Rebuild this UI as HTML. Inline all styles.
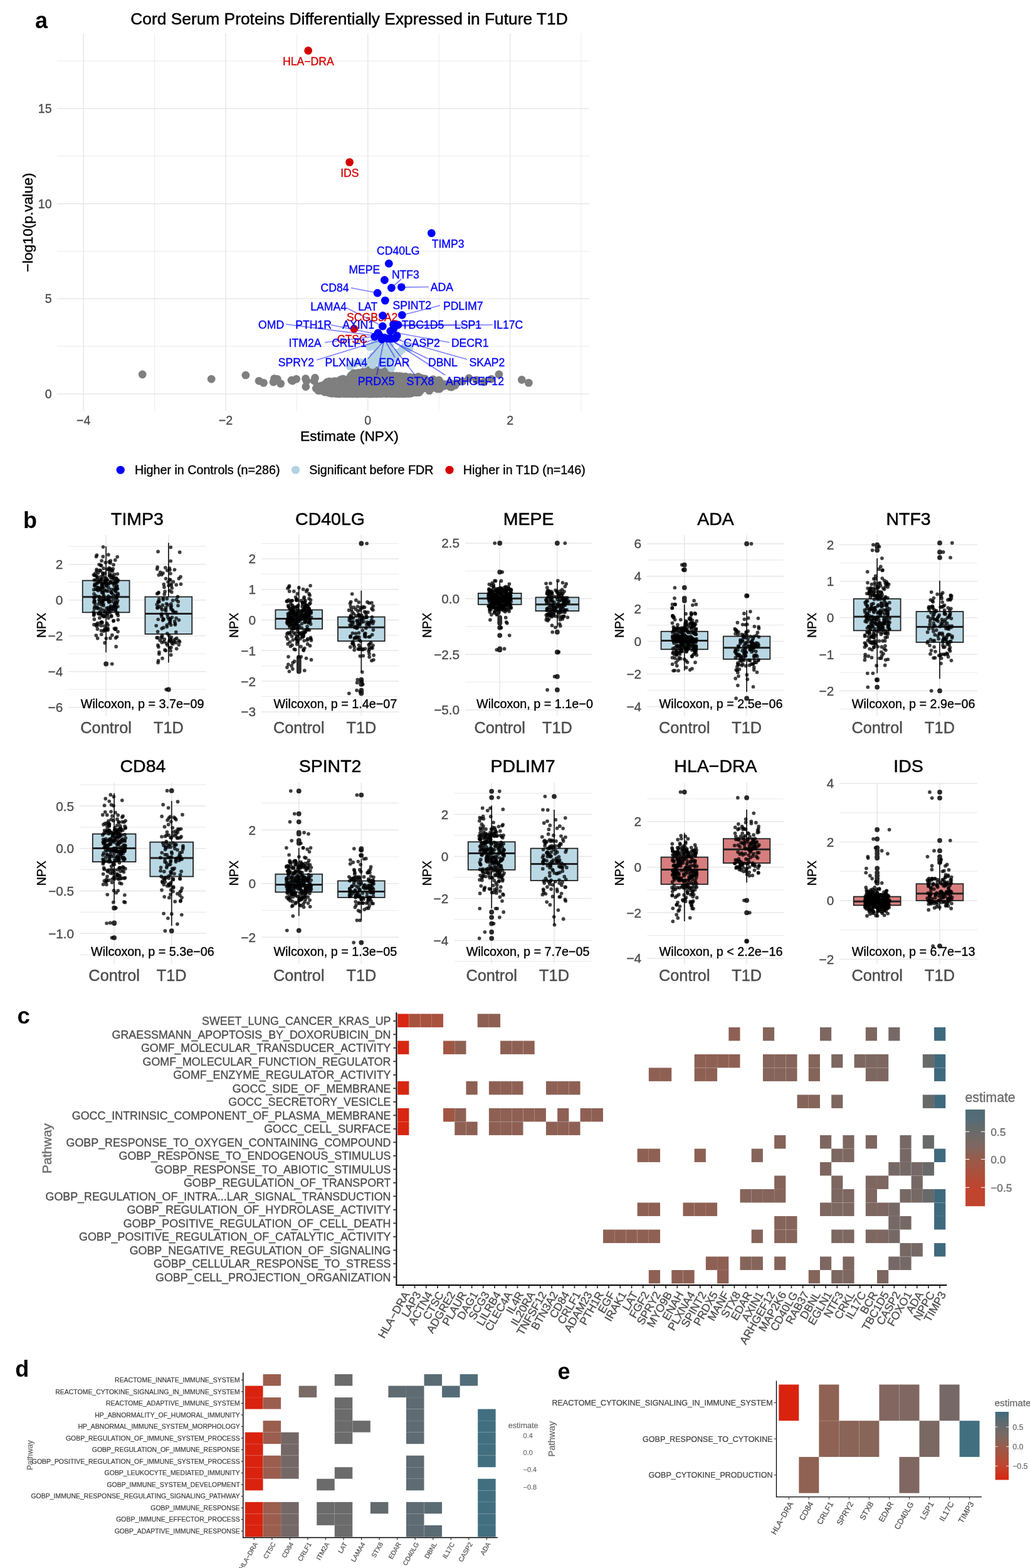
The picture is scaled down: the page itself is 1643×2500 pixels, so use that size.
<!DOCTYPE html>
<html><head><meta charset="utf-8"><title>Figure</title>
<style>html,body{margin:0;padding:0;background:#fff;}svg{display:block;}</style></head>
<body><svg width="1643" height="2500" viewBox="0 0 1643 2500" font-family="'Liberation Sans', Arial, Helvetica, sans-serif">
<rect x="0" y="0" width="1643" height="2500" fill="#fff"/>
<text x="56" y="44.9" font-size="36" fill="#000" font-weight="bold">a</text>
<text x="557" y="39.25" font-size="26.35" fill="#000" stroke="#000" stroke-width="0.47" text-anchor="middle">Cord Serum Proteins Differentially Expressed in Future T1D</text>
<line x1="90.9" y1="552.1" x2="940" y2="552.1" stroke="#ebebeb" stroke-width="1"/>
<line x1="90.9" y1="400.5" x2="940" y2="400.5" stroke="#ebebeb" stroke-width="1"/>
<line x1="90.9" y1="248.9" x2="940" y2="248.9" stroke="#ebebeb" stroke-width="1"/>
<line x1="90.9" y1="97.3" x2="940" y2="97.3" stroke="#ebebeb" stroke-width="1"/>
<line x1="246.6" y1="53.25" x2="246.6" y2="655.3" stroke="#ebebeb" stroke-width="1"/>
<line x1="473.4" y1="53.25" x2="473.4" y2="655.3" stroke="#ebebeb" stroke-width="1"/>
<line x1="700.2" y1="53.25" x2="700.2" y2="655.3" stroke="#ebebeb" stroke-width="1"/>
<line x1="927" y1="53.25" x2="927" y2="655.3" stroke="#ebebeb" stroke-width="1"/>
<line x1="90.9" y1="627.9" x2="940" y2="627.9" stroke="#e7e7e7" stroke-width="1.5"/>
<line x1="90.9" y1="476.3" x2="940" y2="476.3" stroke="#e7e7e7" stroke-width="1.5"/>
<line x1="90.9" y1="324.7" x2="940" y2="324.7" stroke="#e7e7e7" stroke-width="1.5"/>
<line x1="90.9" y1="173.1" x2="940" y2="173.1" stroke="#e7e7e7" stroke-width="1.5"/>
<line x1="133.2" y1="53.25" x2="133.2" y2="655.3" stroke="#e7e7e7" stroke-width="1.5"/>
<line x1="360" y1="53.25" x2="360" y2="655.3" stroke="#e7e7e7" stroke-width="1.5"/>
<line x1="586.8" y1="53.25" x2="586.8" y2="655.3" stroke="#e7e7e7" stroke-width="1.5"/>
<line x1="813.6" y1="53.25" x2="813.6" y2="655.3" stroke="#e7e7e7" stroke-width="1.5"/>
<text x="82.6" y="634.9" font-size="19.6" fill="#4d4d4d" stroke="#4d4d4d" stroke-width="0.35" text-anchor="end">0</text>
<text x="82.6" y="483.3" font-size="19.6" fill="#4d4d4d" stroke="#4d4d4d" stroke-width="0.35" text-anchor="end">5</text>
<text x="82.6" y="331.7" font-size="19.6" fill="#4d4d4d" stroke="#4d4d4d" stroke-width="0.35" text-anchor="end">10</text>
<text x="82.6" y="180.1" font-size="19.6" fill="#4d4d4d" stroke="#4d4d4d" stroke-width="0.35" text-anchor="end">15</text>
<text x="133.2" y="677.1" font-size="19.6" fill="#4d4d4d" stroke="#4d4d4d" stroke-width="0.35" text-anchor="middle">−4</text>
<text x="360" y="677.1" font-size="19.6" fill="#4d4d4d" stroke="#4d4d4d" stroke-width="0.35" text-anchor="middle">−2</text>
<text x="586.8" y="677.1" font-size="19.6" fill="#4d4d4d" stroke="#4d4d4d" stroke-width="0.35" text-anchor="middle">0</text>
<text x="813.6" y="677.1" font-size="19.6" fill="#4d4d4d" stroke="#4d4d4d" stroke-width="0.35" text-anchor="middle">2</text>
<text x="557.4" y="703.2" font-size="22.75" fill="#000" stroke="#000" stroke-width="0.41" text-anchor="middle">Estimate (NPX)</text>
<text x="51.6" y="354.6" font-size="22.85" fill="#000" stroke="#000" stroke-width="0.41" text-anchor="middle" transform="rotate(-90 51.6 354.6)">−log10(p.value)</text>
<g fill="#7f7f7f"><circle cx="227.2" cy="597" r="6.4"/><circle cx="337.2" cy="604.3" r="6.4"/><circle cx="391.9" cy="598.2" r="6.4"/><circle cx="413.1" cy="607.3" r="6.4"/><circle cx="420.4" cy="610.4" r="6.4"/><circle cx="436.2" cy="609.2" r="6.4"/><circle cx="442.3" cy="604.3" r="6.4"/><circle cx="447.7" cy="611.6" r="6.4"/><circle cx="466.6" cy="607.3" r="6.4"/><circle cx="472.7" cy="604.3" r="6.4"/><circle cx="489" cy="607.3" r="6.4"/><circle cx="487.8" cy="616.5" r="6.4"/><circle cx="501.2" cy="607.3" r="6.4"/><circle cx="437.5" cy="603.75" r="6.4"/><circle cx="465" cy="606.25" r="6.4"/><circle cx="487.5" cy="603.75" r="6.4"/><circle cx="502.5" cy="602.5" r="6.4"/><circle cx="510" cy="620" r="6.4"/><circle cx="795.9" cy="597" r="6.4"/><circle cx="832.3" cy="605.5" r="6.4"/><circle cx="843.3" cy="610.4" r="6.4"/><circle cx="783.7" cy="604.3" r="6.4"/><circle cx="760" cy="606" r="6.4"/><circle cx="748" cy="603" r="6.4"/><circle cx="738" cy="608" r="6.4"/><circle cx="728" cy="611" r="6.4"/><circle cx="772" cy="609" r="6.4"/><circle cx="603.86" cy="596.72" r="6.4"/><circle cx="592" cy="625.31" r="6.4"/><circle cx="584.22" cy="598.49" r="6.4"/><circle cx="606.4" cy="601.31" r="6.4"/><circle cx="582.6" cy="618.4" r="6.4"/><circle cx="624.92" cy="624.73" r="6.4"/><circle cx="608.35" cy="619.07" r="6.4"/><circle cx="602.55" cy="614.83" r="6.4"/><circle cx="545.89" cy="612.18" r="6.4"/><circle cx="521.88" cy="609.22" r="6.4"/><circle cx="524.45" cy="626.21" r="6.4"/><circle cx="549.19" cy="627.81" r="6.4"/><circle cx="610.56" cy="616.43" r="6.4"/><circle cx="580.6" cy="611.84" r="6.4"/><circle cx="608.69" cy="617.14" r="6.4"/><circle cx="583.22" cy="625.98" r="6.4"/><circle cx="568.96" cy="625.94" r="6.4"/><circle cx="569.01" cy="627.9" r="6.4"/><circle cx="641.92" cy="626.88" r="6.4"/><circle cx="599" cy="597.77" r="6.4"/><circle cx="606.56" cy="599.78" r="6.4"/><circle cx="607.09" cy="605.76" r="6.4"/><circle cx="537.14" cy="620.59" r="6.4"/><circle cx="608.95" cy="598.32" r="6.4"/><circle cx="690.01" cy="613.9" r="6.4"/><circle cx="552.13" cy="623.33" r="6.4"/><circle cx="628.66" cy="626.9" r="6.4"/><circle cx="633.24" cy="622.66" r="6.4"/><circle cx="632.56" cy="616.3" r="6.4"/><circle cx="574.69" cy="611.82" r="6.4"/><circle cx="583.85" cy="626.66" r="6.4"/><circle cx="552.65" cy="625.97" r="6.4"/><circle cx="595.36" cy="627.33" r="6.4"/><circle cx="653.16" cy="625.6" r="6.4"/><circle cx="569.57" cy="623.84" r="6.4"/><circle cx="517.95" cy="618.25" r="6.4"/><circle cx="599.62" cy="599.91" r="6.4"/><circle cx="633.52" cy="602.93" r="6.4"/><circle cx="587.93" cy="626.72" r="6.4"/><circle cx="669.46" cy="603.25" r="6.4"/><circle cx="590.72" cy="626.16" r="6.4"/><circle cx="598.61" cy="610.85" r="6.4"/><circle cx="555.8" cy="623.36" r="6.4"/><circle cx="584.7" cy="625.03" r="6.4"/><circle cx="631.95" cy="604.23" r="6.4"/><circle cx="632.61" cy="617.75" r="6.4"/><circle cx="649.15" cy="610.5" r="6.4"/><circle cx="628.95" cy="622.8" r="6.4"/><circle cx="618.75" cy="627.06" r="6.4"/><circle cx="516.1" cy="618.16" r="6.4"/><circle cx="565.03" cy="617.35" r="6.4"/><circle cx="700.54" cy="617.62" r="6.4"/><circle cx="576.92" cy="609.52" r="6.4"/><circle cx="625.05" cy="618.22" r="6.4"/><circle cx="594.94" cy="595.97" r="6.4"/><circle cx="626.21" cy="600.91" r="6.4"/><circle cx="600.4" cy="605.16" r="6.4"/><circle cx="558.37" cy="627.11" r="6.4"/><circle cx="566.84" cy="603.71" r="6.4"/><circle cx="612.12" cy="611.47" r="6.4"/><circle cx="578.34" cy="616.88" r="6.4"/><circle cx="517.72" cy="624.89" r="6.4"/><circle cx="619.45" cy="622.05" r="6.4"/><circle cx="640.29" cy="623.52" r="6.4"/><circle cx="636.42" cy="616.96" r="6.4"/><circle cx="637.38" cy="625.05" r="6.4"/><circle cx="537.58" cy="622.75" r="6.4"/><circle cx="665.94" cy="617.89" r="6.4"/><circle cx="592.01" cy="596.76" r="6.4"/><circle cx="561.79" cy="616.18" r="6.4"/><circle cx="580.42" cy="598.65" r="6.4"/><circle cx="569.63" cy="597.31" r="6.4"/><circle cx="548.75" cy="622.54" r="6.4"/><circle cx="597.17" cy="593.28" r="6.4"/><circle cx="604.38" cy="602.19" r="6.4"/><circle cx="589.73" cy="607.07" r="6.4"/><circle cx="604.15" cy="622.67" r="6.4"/><circle cx="590.89" cy="625.75" r="6.4"/><circle cx="569.04" cy="625.72" r="6.4"/><circle cx="574.89" cy="601.49" r="6.4"/><circle cx="618.35" cy="618.02" r="6.4"/><circle cx="541.15" cy="617.08" r="6.4"/><circle cx="576.57" cy="594.01" r="6.4"/><circle cx="635.48" cy="614.98" r="6.4"/><circle cx="606.89" cy="626.1" r="6.4"/><circle cx="623.41" cy="621.25" r="6.4"/><circle cx="597.65" cy="601.66" r="6.4"/><circle cx="551.41" cy="627.4" r="6.4"/><circle cx="581.96" cy="602.9" r="6.4"/><circle cx="602.35" cy="616.09" r="6.4"/><circle cx="581.92" cy="627.75" r="6.4"/><circle cx="590.8" cy="627.87" r="6.4"/><circle cx="604.77" cy="624.81" r="6.4"/><circle cx="633.13" cy="617.11" r="6.4"/><circle cx="579.52" cy="613.64" r="6.4"/><circle cx="644.73" cy="613.33" r="6.4"/><circle cx="597.75" cy="623.28" r="6.4"/><circle cx="637.48" cy="618.15" r="6.4"/><circle cx="643.51" cy="614.05" r="6.4"/><circle cx="669.09" cy="624.06" r="6.4"/><circle cx="640.94" cy="627.81" r="6.4"/><circle cx="641.46" cy="600.47" r="6.4"/><circle cx="667.78" cy="625.39" r="6.4"/><circle cx="531.04" cy="624.89" r="6.4"/><circle cx="560.07" cy="615.05" r="6.4"/><circle cx="640" cy="624.23" r="6.4"/><circle cx="512.89" cy="615.19" r="6.4"/><circle cx="605.72" cy="604.4" r="6.4"/><circle cx="605.47" cy="625.86" r="6.4"/><circle cx="538.59" cy="617.92" r="6.4"/><circle cx="561.94" cy="627.44" r="6.4"/><circle cx="625.6" cy="614.3" r="6.4"/><circle cx="621.33" cy="604.54" r="6.4"/><circle cx="575.45" cy="607.75" r="6.4"/><circle cx="565.6" cy="599.97" r="6.4"/><circle cx="570.07" cy="627.85" r="6.4"/><circle cx="618.45" cy="625.58" r="6.4"/><circle cx="543.79" cy="606.73" r="6.4"/><circle cx="599.95" cy="624.71" r="6.4"/><circle cx="541.33" cy="617.12" r="6.4"/><circle cx="635.84" cy="622.66" r="6.4"/><circle cx="607.3" cy="609.84" r="6.4"/><circle cx="653.56" cy="622.45" r="6.4"/><circle cx="508.99" cy="619.1" r="6.4"/><circle cx="518.97" cy="625.03" r="6.4"/><circle cx="574.26" cy="619.08" r="6.4"/><circle cx="661.28" cy="610.26" r="6.4"/><circle cx="553.28" cy="625" r="6.4"/><circle cx="652.53" cy="609.95" r="6.4"/><circle cx="605.88" cy="626.89" r="6.4"/><circle cx="605.46" cy="627.49" r="6.4"/><circle cx="627.62" cy="625.05" r="6.4"/><circle cx="558.87" cy="607.15" r="6.4"/><circle cx="574.32" cy="626.13" r="6.4"/><circle cx="549.04" cy="608.26" r="6.4"/><circle cx="603.49" cy="607.39" r="6.4"/><circle cx="678.01" cy="610.91" r="6.4"/><circle cx="583.83" cy="601.36" r="6.4"/><circle cx="620.13" cy="621.93" r="6.4"/><circle cx="614.6" cy="616.27" r="6.4"/><circle cx="607.4" cy="625.98" r="6.4"/><circle cx="592.2" cy="615.56" r="6.4"/><circle cx="655.01" cy="604.11" r="6.4"/><circle cx="603.57" cy="626.1" r="6.4"/><circle cx="579.88" cy="611.18" r="6.4"/><circle cx="525.52" cy="608.27" r="6.4"/><circle cx="645.37" cy="606.35" r="6.4"/><circle cx="632.63" cy="622.26" r="6.4"/><circle cx="613.1" cy="626.09" r="6.4"/><circle cx="595.04" cy="604.9" r="6.4"/><circle cx="668.96" cy="619.47" r="6.4"/><circle cx="601.29" cy="619.96" r="6.4"/><circle cx="576.45" cy="601.09" r="6.4"/><circle cx="625.64" cy="622.27" r="6.4"/><circle cx="588.89" cy="606.83" r="6.4"/><circle cx="600.93" cy="600.76" r="6.4"/><circle cx="586.89" cy="621.02" r="6.4"/><circle cx="594.29" cy="604.75" r="6.4"/><circle cx="535.16" cy="627.15" r="6.4"/><circle cx="566.99" cy="603.16" r="6.4"/><circle cx="570.6" cy="627.08" r="6.4"/><circle cx="544.62" cy="604.8" r="6.4"/><circle cx="590.3" cy="613.9" r="6.4"/><circle cx="612.06" cy="605.3" r="6.4"/><circle cx="560.99" cy="601.9" r="6.4"/><circle cx="690.66" cy="609.21" r="6.4"/><circle cx="595.07" cy="618.04" r="6.4"/><circle cx="617.56" cy="623.21" r="6.4"/><circle cx="556.11" cy="613.17" r="6.4"/><circle cx="564.79" cy="627.71" r="6.4"/><circle cx="669.5" cy="604.9" r="6.4"/><circle cx="627.66" cy="625.47" r="6.4"/><circle cx="595.33" cy="625.27" r="6.4"/><circle cx="545.5" cy="620.98" r="6.4"/><circle cx="667.55" cy="624.42" r="6.4"/><circle cx="563.21" cy="619.14" r="6.4"/><circle cx="582.08" cy="609.82" r="6.4"/><circle cx="594.96" cy="615.94" r="6.4"/><circle cx="616.6" cy="616.37" r="6.4"/><circle cx="602.08" cy="615.56" r="6.4"/><circle cx="600.19" cy="603.06" r="6.4"/><circle cx="684.43" cy="622.06" r="6.4"/><circle cx="606.21" cy="627.15" r="6.4"/><circle cx="620.53" cy="596.22" r="6.4"/><circle cx="543.09" cy="605.85" r="6.4"/><circle cx="634.24" cy="619.11" r="6.4"/><circle cx="530.12" cy="610.25" r="6.4"/><circle cx="574.56" cy="623.38" r="6.4"/><circle cx="701.1" cy="620.04" r="6.4"/><circle cx="570.23" cy="618.97" r="6.4"/><circle cx="601.39" cy="604.72" r="6.4"/><circle cx="554.19" cy="612.24" r="6.4"/><circle cx="554.21" cy="608.81" r="6.4"/><circle cx="649.6" cy="611.14" r="6.4"/><circle cx="583.38" cy="626.4" r="6.4"/><circle cx="598.12" cy="626.41" r="6.4"/><circle cx="589.2" cy="612.94" r="6.4"/><circle cx="541.59" cy="607.46" r="6.4"/><circle cx="595.57" cy="616.44" r="6.4"/><circle cx="646.98" cy="600.47" r="6.4"/><circle cx="570.02" cy="604.01" r="6.4"/><circle cx="620.71" cy="604.28" r="6.4"/><circle cx="648.16" cy="614.7" r="6.4"/><circle cx="551.52" cy="622.34" r="6.4"/><circle cx="638.52" cy="612.6" r="6.4"/><circle cx="521.98" cy="624.18" r="6.4"/><circle cx="629.58" cy="626.1" r="6.4"/><circle cx="587.28" cy="604.27" r="6.4"/><circle cx="555.27" cy="613.25" r="6.4"/><circle cx="596.25" cy="592.79" r="6.4"/><circle cx="575.92" cy="620.64" r="6.4"/><circle cx="531.79" cy="621.12" r="6.4"/><circle cx="646.2" cy="627.56" r="6.4"/><circle cx="650.01" cy="617.66" r="6.4"/><circle cx="558.82" cy="627.81" r="6.4"/><circle cx="584.03" cy="611.53" r="6.4"/><circle cx="580.71" cy="627.56" r="6.4"/><circle cx="590.68" cy="625.37" r="6.4"/><circle cx="548.24" cy="608.59" r="6.4"/><circle cx="641.85" cy="620.77" r="6.4"/><circle cx="603.96" cy="607.58" r="6.4"/><circle cx="561.7" cy="606.75" r="6.4"/><circle cx="581.48" cy="612.19" r="6.4"/><circle cx="570.21" cy="610.29" r="6.4"/><circle cx="594.02" cy="620.41" r="6.4"/><circle cx="629.13" cy="622.2" r="6.4"/><circle cx="629.8" cy="622.61" r="6.4"/><circle cx="557.02" cy="611.39" r="6.4"/><circle cx="606.05" cy="622.52" r="6.4"/><circle cx="564.76" cy="621.99" r="6.4"/><circle cx="529.61" cy="614.42" r="6.4"/><circle cx="557.21" cy="612.94" r="6.4"/><circle cx="601.26" cy="598.99" r="6.4"/><circle cx="538.12" cy="620.11" r="6.4"/><circle cx="571.78" cy="610.19" r="6.4"/><circle cx="620.16" cy="620.41" r="6.4"/><circle cx="572.72" cy="623.98" r="6.4"/><circle cx="571.25" cy="620.08" r="6.4"/><circle cx="561.95" cy="620.54" r="6.4"/><circle cx="524.72" cy="619.91" r="6.4"/><circle cx="590.01" cy="597.23" r="6.4"/><circle cx="602.47" cy="624.38" r="6.4"/><circle cx="605.95" cy="617.26" r="6.4"/><circle cx="559.04" cy="627.64" r="6.4"/><circle cx="560.2" cy="626.28" r="6.4"/><circle cx="636" cy="606.67" r="6.4"/><circle cx="562.38" cy="619.65" r="6.4"/><circle cx="588.52" cy="618.6" r="6.4"/><circle cx="626.5" cy="626.21" r="6.4"/><circle cx="648.64" cy="612.31" r="6.4"/><circle cx="591.51" cy="627.68" r="6.4"/><circle cx="561.7" cy="606.26" r="6.4"/><circle cx="639.17" cy="627.7" r="6.4"/><circle cx="566.31" cy="625.11" r="6.4"/><circle cx="586.85" cy="621.36" r="6.4"/><circle cx="600.19" cy="624.59" r="6.4"/><circle cx="555.47" cy="619.72" r="6.4"/><circle cx="602.14" cy="625.75" r="6.4"/><circle cx="684.25" cy="620.73" r="6.4"/><circle cx="570.79" cy="624.84" r="6.4"/><circle cx="577.63" cy="620.14" r="6.4"/><circle cx="601.28" cy="607.46" r="6.4"/><circle cx="629.93" cy="627.06" r="6.4"/><circle cx="614.58" cy="604.32" r="6.4"/><circle cx="572.47" cy="596.92" r="6.4"/><circle cx="593.59" cy="611.83" r="6.4"/><circle cx="613.89" cy="605.3" r="6.4"/><circle cx="545.11" cy="625.84" r="6.4"/><circle cx="545.94" cy="621.3" r="6.4"/><circle cx="591.13" cy="619.21" r="6.4"/><circle cx="607.75" cy="626.86" r="6.4"/><circle cx="597" cy="626.28" r="6.4"/><circle cx="587.71" cy="592.57" r="6.4"/><circle cx="592.19" cy="626.1" r="6.4"/><circle cx="607.76" cy="618" r="6.4"/><circle cx="613.96" cy="618.6" r="6.4"/><circle cx="622.21" cy="624.7" r="6.4"/><circle cx="584.88" cy="626.11" r="6.4"/><circle cx="532.08" cy="623.48" r="6.4"/><circle cx="614.28" cy="601.57" r="6.4"/><circle cx="620.33" cy="597.15" r="6.4"/><circle cx="592.63" cy="609.55" r="6.4"/><circle cx="622.37" cy="611.77" r="6.4"/><circle cx="538.55" cy="613.86" r="6.4"/><circle cx="654.2" cy="601.38" r="6.4"/><circle cx="613.89" cy="627.14" r="6.4"/><circle cx="644.43" cy="627.84" r="6.4"/><circle cx="620.06" cy="592.86" r="6.4"/><circle cx="547.94" cy="616.21" r="6.4"/><circle cx="658.65" cy="616.74" r="6.4"/><circle cx="615.49" cy="612.43" r="6.4"/><circle cx="672.5" cy="617.5" r="6.4"/><circle cx="593.4" cy="606.7" r="6.4"/><circle cx="573.88" cy="620.32" r="6.4"/><circle cx="620.86" cy="606.76" r="6.4"/><circle cx="646.68" cy="627.61" r="6.4"/><circle cx="601.39" cy="626.1" r="6.4"/><circle cx="628.98" cy="620.8" r="6.4"/><circle cx="620.92" cy="624.4" r="6.4"/><circle cx="619.42" cy="609.78" r="6.4"/><circle cx="533.16" cy="623.57" r="6.4"/><circle cx="601.43" cy="603.28" r="6.4"/><circle cx="530.65" cy="626.84" r="6.4"/><circle cx="577.96" cy="609.32" r="6.4"/><circle cx="506.64" cy="621.11" r="6.4"/><circle cx="642.48" cy="625.14" r="6.4"/><circle cx="577.91" cy="626.98" r="6.4"/><circle cx="636.42" cy="627.27" r="6.4"/><circle cx="598.44" cy="627.81" r="6.4"/><circle cx="633.2" cy="605.7" r="6.4"/><circle cx="652.72" cy="624.67" r="6.4"/><circle cx="616.82" cy="612.42" r="6.4"/><circle cx="580.57" cy="611.85" r="6.4"/><circle cx="642.86" cy="605.35" r="6.4"/><circle cx="596.95" cy="604.9" r="6.4"/><circle cx="612.36" cy="605.83" r="6.4"/><circle cx="602.5" cy="606.66" r="6.4"/><circle cx="562.15" cy="622.19" r="6.4"/><circle cx="595.27" cy="592.49" r="6.4"/><circle cx="648.85" cy="626.22" r="6.4"/><circle cx="564.38" cy="624.57" r="6.4"/><circle cx="575.43" cy="600.31" r="6.4"/><circle cx="648.56" cy="624.8" r="6.4"/><circle cx="625.06" cy="627.59" r="6.4"/><circle cx="648.15" cy="625.12" r="6.4"/><circle cx="651.06" cy="627.46" r="6.4"/><circle cx="567" cy="625.71" r="6.4"/><circle cx="573.55" cy="596.82" r="6.4"/><circle cx="615.02" cy="614.02" r="6.4"/><circle cx="606.95" cy="627.54" r="6.4"/><circle cx="643.28" cy="608.01" r="6.4"/><circle cx="584.89" cy="613.13" r="6.4"/><circle cx="700.28" cy="606.26" r="6.4"/><circle cx="606.53" cy="616.15" r="6.4"/><circle cx="669.89" cy="609.9" r="6.4"/><circle cx="561.74" cy="625.05" r="6.4"/><circle cx="623.27" cy="619.43" r="6.4"/><circle cx="532.87" cy="607.88" r="6.4"/><circle cx="632.48" cy="627.8" r="6.4"/><circle cx="597.72" cy="626.6" r="6.4"/><circle cx="630.49" cy="617.03" r="6.4"/><circle cx="625.3" cy="616.18" r="6.4"/><circle cx="588.22" cy="622.93" r="6.4"/><circle cx="652.58" cy="610.4" r="6.4"/><circle cx="571.95" cy="603.86" r="6.4"/><circle cx="594.26" cy="625.84" r="6.4"/><circle cx="535.05" cy="621.84" r="6.4"/><circle cx="587.52" cy="611.91" r="6.4"/><circle cx="644.99" cy="627.1" r="6.4"/><circle cx="634.49" cy="610.78" r="6.4"/><circle cx="593.74" cy="624.31" r="6.4"/><circle cx="656.04" cy="617.78" r="6.4"/><circle cx="632.74" cy="617.37" r="6.4"/><circle cx="686.73" cy="607.74" r="6.4"/><circle cx="628.2" cy="627.41" r="6.4"/><circle cx="516.45" cy="613.9" r="6.4"/><circle cx="595.45" cy="627.76" r="6.4"/><circle cx="633.22" cy="626.36" r="6.4"/><circle cx="530.96" cy="609.89" r="6.4"/><circle cx="571.86" cy="626.41" r="6.4"/><circle cx="577.76" cy="616.48" r="6.4"/><circle cx="504.29" cy="619.2" r="6.4"/><circle cx="614.73" cy="622.07" r="6.4"/><circle cx="689.13" cy="609.8" r="6.4"/><circle cx="526.14" cy="614.09" r="6.4"/><circle cx="551.8" cy="611.8" r="6.4"/><circle cx="607.24" cy="598.33" r="6.4"/><circle cx="618.57" cy="618.92" r="6.4"/><circle cx="616.62" cy="616.71" r="6.4"/><circle cx="590.3" cy="626.81" r="6.4"/><circle cx="580.55" cy="627.72" r="6.4"/><circle cx="531.3" cy="626.98" r="6.4"/><circle cx="683.34" cy="619.77" r="6.4"/><circle cx="660.77" cy="623.67" r="6.4"/><circle cx="574.66" cy="622.96" r="6.4"/><circle cx="601.39" cy="624.64" r="6.4"/><circle cx="591.26" cy="605.05" r="6.4"/><circle cx="585.06" cy="597.56" r="6.4"/><circle cx="557.07" cy="624.56" r="6.4"/><circle cx="702.08" cy="618.54" r="6.4"/><circle cx="593.53" cy="619.33" r="6.4"/><circle cx="634.32" cy="601.38" r="6.4"/><circle cx="594.88" cy="607.32" r="6.4"/><circle cx="615.44" cy="626.91" r="6.4"/><circle cx="670.78" cy="612.13" r="6.4"/><circle cx="607.38" cy="596.19" r="6.4"/><circle cx="668.03" cy="625.13" r="6.4"/><circle cx="574.93" cy="595.7" r="6.4"/><circle cx="632.4" cy="602.17" r="6.4"/><circle cx="663.93" cy="625.8" r="6.4"/><circle cx="636.15" cy="620.57" r="6.4"/><circle cx="575.13" cy="607.01" r="6.4"/><circle cx="564.16" cy="594.98" r="6.4"/><circle cx="587.86" cy="601.8" r="6.4"/><circle cx="575.85" cy="604.53" r="6.4"/><circle cx="617.25" cy="590.54" r="6.4"/><circle cx="595.21" cy="618.79" r="6.4"/><circle cx="571.23" cy="595.71" r="6.4"/><circle cx="551.33" cy="605.52" r="6.4"/><circle cx="576.01" cy="621.7" r="6.4"/><circle cx="601.58" cy="618.12" r="6.4"/><circle cx="633.84" cy="622.5" r="6.4"/><circle cx="619.19" cy="626.84" r="6.4"/><circle cx="631.03" cy="609.81" r="6.4"/><circle cx="657.08" cy="613.37" r="6.4"/><circle cx="620.7" cy="625.4" r="6.4"/><circle cx="541.04" cy="625.62" r="6.4"/><circle cx="592.64" cy="604.74" r="6.4"/><circle cx="545.26" cy="624.79" r="6.4"/><circle cx="608.31" cy="626.05" r="6.4"/><circle cx="530.17" cy="616.88" r="6.4"/><circle cx="599.95" cy="623.65" r="6.4"/><circle cx="607.78" cy="627.81" r="6.4"/><circle cx="627.58" cy="616.62" r="6.4"/><circle cx="602.15" cy="622.23" r="6.4"/><circle cx="714.63" cy="613.06" r="6.4"/><circle cx="583.79" cy="607.86" r="6.4"/><circle cx="637.61" cy="599.77" r="6.4"/><circle cx="582.94" cy="624.74" r="6.4"/><circle cx="561.64" cy="597.32" r="6.4"/><circle cx="583.31" cy="612.76" r="6.4"/><circle cx="541.52" cy="606.95" r="6.4"/><circle cx="610.2" cy="616.17" r="6.4"/><circle cx="527.37" cy="616.91" r="6.4"/><circle cx="638.22" cy="623.91" r="6.4"/><circle cx="600.42" cy="627.81" r="6.4"/><circle cx="631.01" cy="627.61" r="6.4"/><circle cx="553.42" cy="624.38" r="6.4"/><circle cx="666.22" cy="625.66" r="6.4"/><circle cx="653.76" cy="620.99" r="6.4"/><circle cx="644.24" cy="612.11" r="6.4"/><circle cx="597.03" cy="624.89" r="6.4"/><circle cx="636.87" cy="603.39" r="6.4"/><circle cx="600.15" cy="627.37" r="6.4"/><circle cx="655.97" cy="626.98" r="6.4"/><circle cx="528.77" cy="627.25" r="6.4"/><circle cx="604.47" cy="611.25" r="6.4"/><circle cx="660.55" cy="625.49" r="6.4"/><circle cx="638.84" cy="623.75" r="6.4"/><circle cx="641.21" cy="627.54" r="6.4"/><circle cx="637.12" cy="613.18" r="6.4"/><circle cx="610.45" cy="611.97" r="6.4"/><circle cx="563.86" cy="624.99" r="6.4"/><circle cx="623.64" cy="597.96" r="6.4"/><circle cx="584.96" cy="611.01" r="6.4"/><circle cx="591.83" cy="627.88" r="6.4"/><circle cx="598.12" cy="627.61" r="6.4"/><circle cx="602.9" cy="608.31" r="6.4"/><circle cx="562.14" cy="607.48" r="6.4"/><circle cx="632.46" cy="626.57" r="6.4"/><circle cx="611.68" cy="599.53" r="6.4"/><circle cx="652.7" cy="625.2" r="6.4"/><circle cx="690.95" cy="617.96" r="6.4"/><circle cx="635.71" cy="619.17" r="6.4"/><circle cx="608.21" cy="619.16" r="6.4"/><circle cx="546.96" cy="614.81" r="6.4"/><circle cx="601.7" cy="598.47" r="6.4"/><circle cx="611.88" cy="623.11" r="6.4"/><circle cx="615.75" cy="594.05" r="6.4"/><circle cx="605.35" cy="627.34" r="6.4"/><circle cx="581.33" cy="591.45" r="6.4"/><circle cx="642.59" cy="627.74" r="6.4"/><circle cx="610.2" cy="616.85" r="6.4"/><circle cx="648.47" cy="601.26" r="6.4"/><circle cx="573.36" cy="627.05" r="6.4"/><circle cx="617.09" cy="620.37" r="6.4"/><circle cx="655.05" cy="615.16" r="6.4"/><circle cx="655.17" cy="616.75" r="6.4"/><circle cx="556.38" cy="609.22" r="6.4"/><circle cx="599.63" cy="608.03" r="6.4"/><circle cx="588.35" cy="618.12" r="6.4"/><circle cx="655.18" cy="617.92" r="6.4"/><circle cx="621.32" cy="620.36" r="6.4"/><circle cx="576.03" cy="627.69" r="6.4"/><circle cx="602.44" cy="627.87" r="6.4"/><circle cx="582.6" cy="621.32" r="6.4"/><circle cx="605.1" cy="623.67" r="6.4"/><circle cx="585.46" cy="626.3" r="6.4"/><circle cx="613.02" cy="592.68" r="6.4"/><circle cx="655.6" cy="620.03" r="6.4"/><circle cx="701.67" cy="618.19" r="6.4"/><circle cx="638.65" cy="624.76" r="6.4"/><circle cx="683.78" cy="620.1" r="6.4"/><circle cx="519.6" cy="611.52" r="6.4"/><circle cx="632.44" cy="607.49" r="6.4"/><circle cx="635.55" cy="622.69" r="6.4"/><circle cx="623.42" cy="627.63" r="6.4"/><circle cx="600.45" cy="611.72" r="6.4"/><circle cx="506.44" cy="617.06" r="6.4"/><circle cx="559.25" cy="599.76" r="6.4"/><circle cx="593.96" cy="602.16" r="6.4"/><circle cx="619.92" cy="593.99" r="6.4"/><circle cx="564.48" cy="602.01" r="6.4"/><circle cx="602.66" cy="611.78" r="6.4"/><circle cx="597.13" cy="625.8" r="6.4"/><circle cx="597.7" cy="623.8" r="6.4"/><circle cx="604.58" cy="626.96" r="6.4"/><circle cx="628.53" cy="601.78" r="6.4"/><circle cx="589.1" cy="627.88" r="6.4"/><circle cx="596.88" cy="626.88" r="6.4"/><circle cx="565.01" cy="615.1" r="6.4"/><circle cx="586.56" cy="619.64" r="6.4"/><circle cx="568.24" cy="611.06" r="6.4"/><circle cx="620.68" cy="621.17" r="6.4"/><circle cx="690.89" cy="604.89" r="6.4"/><circle cx="680.38" cy="611.1" r="6.4"/><circle cx="575.27" cy="598.3" r="6.4"/><circle cx="622.6" cy="618.08" r="6.4"/><circle cx="605.94" cy="609.33" r="6.4"/><circle cx="525.88" cy="626.49" r="6.4"/><circle cx="508.23" cy="622.61" r="6.4"/><circle cx="572.52" cy="594.72" r="6.4"/><circle cx="594.36" cy="626.48" r="6.4"/><circle cx="542.1" cy="627.62" r="6.4"/><circle cx="557.87" cy="616.97" r="6.4"/><circle cx="562.15" cy="627.32" r="6.4"/><circle cx="558.28" cy="608.73" r="6.4"/><circle cx="544.7" cy="627.23" r="6.4"/><circle cx="590.03" cy="611.42" r="6.4"/><circle cx="628.32" cy="604.68" r="6.4"/><circle cx="612.2" cy="616.59" r="6.4"/><circle cx="561.87" cy="616.77" r="6.4"/><circle cx="593.21" cy="606.32" r="6.4"/><circle cx="601.93" cy="590.55" r="6.4"/><circle cx="518.36" cy="622.68" r="6.4"/><circle cx="641.79" cy="609.07" r="6.4"/><circle cx="569.67" cy="612.08" r="6.4"/><circle cx="544.35" cy="620.73" r="6.4"/><circle cx="708.97" cy="615.1" r="6.4"/><circle cx="556.02" cy="625.13" r="6.4"/><circle cx="586.37" cy="623.14" r="6.4"/><circle cx="568.41" cy="620.85" r="6.4"/><circle cx="641.94" cy="601.11" r="6.4"/><circle cx="587.7" cy="590.37" r="6.4"/><circle cx="537.03" cy="627.7" r="6.4"/><circle cx="507.69" cy="622.39" r="6.4"/><circle cx="576.66" cy="626.15" r="6.4"/><circle cx="684.32" cy="620.49" r="6.4"/><circle cx="554.21" cy="609.9" r="6.4"/><circle cx="653.7" cy="623.5" r="6.4"/><circle cx="562.73" cy="627.9" r="6.4"/><circle cx="534.8" cy="607.81" r="6.4"/><circle cx="556.12" cy="615.55" r="6.4"/><circle cx="594.02" cy="603.77" r="6.4"/><circle cx="615.51" cy="596.87" r="6.4"/><circle cx="652.8" cy="626.82" r="6.4"/><circle cx="603.8" cy="618.93" r="6.4"/><circle cx="609.52" cy="616.48" r="6.4"/><circle cx="564.52" cy="616.55" r="6.4"/><circle cx="637.96" cy="605.41" r="6.4"/><circle cx="574.5" cy="613.85" r="6.4"/><circle cx="703.32" cy="615.62" r="6.4"/><circle cx="616.81" cy="627.33" r="6.4"/><circle cx="637.59" cy="603.88" r="6.4"/><circle cx="594.84" cy="598.45" r="6.4"/><circle cx="594.65" cy="607.15" r="6.4"/><circle cx="635.91" cy="625.15" r="6.4"/><circle cx="584.8" cy="613.3" r="6.4"/><circle cx="601.67" cy="594.55" r="6.4"/><circle cx="596.02" cy="625.93" r="6.4"/><circle cx="619.58" cy="602.76" r="6.4"/><circle cx="619.15" cy="616.98" r="6.4"/><circle cx="598.32" cy="610.2" r="6.4"/><circle cx="636.52" cy="627.53" r="6.4"/><circle cx="661.58" cy="605.04" r="6.4"/><circle cx="571.55" cy="627.72" r="6.4"/><circle cx="574.64" cy="621.44" r="6.4"/><circle cx="572.88" cy="614.16" r="6.4"/><circle cx="570.13" cy="622.87" r="6.4"/><circle cx="572.31" cy="613.06" r="6.4"/><circle cx="602.09" cy="607.64" r="6.4"/><circle cx="631.72" cy="607.13" r="6.4"/><circle cx="570.96" cy="594.65" r="6.4"/><circle cx="617.54" cy="626.97" r="6.4"/><circle cx="581.82" cy="623.71" r="6.4"/><circle cx="709.5" cy="612.8" r="6.4"/><circle cx="609.82" cy="627.43" r="6.4"/><circle cx="630.4" cy="627.67" r="6.4"/><circle cx="558.19" cy="605.56" r="6.4"/><circle cx="562.99" cy="627.11" r="6.4"/><circle cx="607.95" cy="617.79" r="6.4"/><circle cx="567.14" cy="620.94" r="6.4"/><circle cx="596.73" cy="595.58" r="6.4"/><circle cx="648.92" cy="626.81" r="6.4"/><circle cx="568.42" cy="618.09" r="6.4"/><circle cx="563.9" cy="627.5" r="6.4"/><circle cx="605.78" cy="595.64" r="6.4"/><circle cx="587.75" cy="624.51" r="6.4"/><circle cx="625.51" cy="623.89" r="6.4"/><circle cx="593.02" cy="627.45" r="6.4"/><circle cx="554.19" cy="627.6" r="6.4"/><circle cx="509.52" cy="621.79" r="6.4"/><circle cx="613.26" cy="596.95" r="6.4"/><circle cx="568.98" cy="624.86" r="6.4"/><circle cx="603.6" cy="621.02" r="6.4"/><circle cx="522.9" cy="615.62" r="6.4"/><circle cx="566.96" cy="609.38" r="6.4"/><circle cx="613.59" cy="592.17" r="6.4"/><circle cx="642.45" cy="605.3" r="6.4"/><circle cx="643.63" cy="623.26" r="6.4"/><circle cx="652.79" cy="611.39" r="6.4"/><circle cx="597.53" cy="621.13" r="6.4"/><circle cx="639.36" cy="617.47" r="6.4"/><circle cx="612.83" cy="593.48" r="6.4"/><circle cx="587.92" cy="590.04" r="6.4"/><circle cx="578.9" cy="621.95" r="6.4"/><circle cx="565.43" cy="627.07" r="6.4"/><circle cx="642.1" cy="626.47" r="6.4"/><circle cx="600.35" cy="597.17" r="6.4"/><circle cx="568.01" cy="610.74" r="6.4"/><circle cx="593.14" cy="627.38" r="6.4"/><circle cx="679.29" cy="617.18" r="6.4"/><circle cx="539.29" cy="617.32" r="6.4"/><circle cx="540.98" cy="627.81" r="6.4"/><circle cx="660.06" cy="604.23" r="6.4"/><circle cx="538.3" cy="620.71" r="6.4"/><circle cx="658.12" cy="602.24" r="6.4"/><circle cx="574.68" cy="620.65" r="6.4"/><circle cx="616.07" cy="606.99" r="6.4"/><circle cx="654.75" cy="610.99" r="6.4"/><circle cx="654.89" cy="626.9" r="6.4"/><circle cx="632.31" cy="599.36" r="6.4"/><circle cx="598.17" cy="603.96" r="6.4"/><circle cx="587.3" cy="618.53" r="6.4"/><circle cx="588.29" cy="612.13" r="6.4"/><circle cx="666.05" cy="612.55" r="6.4"/><circle cx="613.26" cy="607.18" r="6.4"/><circle cx="649.6" cy="621.93" r="6.4"/><circle cx="574.7" cy="624.22" r="6.4"/><circle cx="561.4" cy="626.9" r="6.4"/><circle cx="655.18" cy="624.05" r="6.4"/><circle cx="554.91" cy="608.77" r="6.4"/><circle cx="584.36" cy="612.06" r="6.4"/><circle cx="614.05" cy="621.9" r="6.4"/><circle cx="573.43" cy="619.59" r="6.4"/><circle cx="582.81" cy="593.25" r="6.4"/><circle cx="611.51" cy="592.33" r="6.4"/><circle cx="576.5" cy="603.79" r="6.4"/><circle cx="599.78" cy="598.38" r="6.4"/><circle cx="573.28" cy="608.62" r="6.4"/><circle cx="601.55" cy="616.67" r="6.4"/><circle cx="634.91" cy="626.23" r="6.4"/><circle cx="658.41" cy="608.76" r="6.4"/><circle cx="577.94" cy="610.31" r="6.4"/><circle cx="625.77" cy="613.34" r="6.4"/><circle cx="664.05" cy="613.47" r="6.4"/><circle cx="649.49" cy="615.67" r="6.4"/><circle cx="610.91" cy="625.31" r="6.4"/><circle cx="552.99" cy="621.53" r="6.4"/><circle cx="672.39" cy="620.92" r="6.4"/><circle cx="656.89" cy="617.71" r="6.4"/><circle cx="677.72" cy="603.84" r="6.4"/><circle cx="599.4" cy="627.68" r="6.4"/><circle cx="607.48" cy="624.51" r="6.4"/><circle cx="580.94" cy="621.43" r="6.4"/><circle cx="673.16" cy="618.08" r="6.4"/><circle cx="614.95" cy="608.24" r="6.4"/><circle cx="611.87" cy="609.06" r="6.4"/><circle cx="601.33" cy="609.1" r="6.4"/><circle cx="535.3" cy="619.03" r="6.4"/><circle cx="577.82" cy="614.91" r="6.4"/><circle cx="611.67" cy="617.06" r="6.4"/><circle cx="571.23" cy="621.49" r="6.4"/><circle cx="670.77" cy="613.41" r="6.4"/><circle cx="614.91" cy="622.04" r="6.4"/><circle cx="665.48" cy="614.8" r="6.4"/><circle cx="605.04" cy="597.07" r="6.4"/><circle cx="534.04" cy="624.33" r="6.4"/><circle cx="720.26" cy="616.87" r="6.4"/><circle cx="658.27" cy="624.04" r="6.4"/><circle cx="561.36" cy="597.82" r="6.4"/><circle cx="550.61" cy="611.61" r="6.4"/><circle cx="615.83" cy="613.69" r="6.4"/><circle cx="621.74" cy="624.25" r="6.4"/><circle cx="571" cy="606.9" r="6.4"/><circle cx="606.46" cy="623.76" r="6.4"/><circle cx="547.45" cy="604.03" r="6.4"/><circle cx="582.69" cy="598.78" r="6.4"/><circle cx="545.74" cy="614.01" r="6.4"/><circle cx="611.66" cy="625.39" r="6.4"/><circle cx="690.3" cy="613.25" r="6.4"/><circle cx="574.52" cy="623.72" r="6.4"/><circle cx="594.47" cy="627.86" r="6.4"/><circle cx="677.46" cy="618.79" r="6.4"/><circle cx="553.99" cy="626.03" r="6.4"/><circle cx="618.28" cy="609.67" r="6.4"/><circle cx="544.7" cy="626.73" r="6.4"/><circle cx="626.85" cy="610.06" r="6.4"/><circle cx="576.09" cy="627.42" r="6.4"/><circle cx="628.45" cy="625.68" r="6.4"/><circle cx="590.36" cy="601.54" r="6.4"/><circle cx="579.12" cy="601.06" r="6.4"/><circle cx="591.61" cy="626.05" r="6.4"/><circle cx="671.91" cy="611" r="6.4"/><circle cx="716.42" cy="611.38" r="6.4"/><circle cx="645.05" cy="624.59" r="6.4"/><circle cx="646.17" cy="618.96" r="6.4"/><circle cx="553.76" cy="624.49" r="6.4"/><circle cx="572.99" cy="617.92" r="6.4"/><circle cx="725.71" cy="614.4" r="6.4"/><circle cx="682.15" cy="612.16" r="6.4"/><circle cx="667.05" cy="600.65" r="6.4"/><circle cx="670.8" cy="617.75" r="6.4"/><circle cx="551.99" cy="623.22" r="6.4"/><circle cx="508.89" cy="622.73" r="6.4"/><circle cx="607.77" cy="598.68" r="6.4"/><circle cx="596.72" cy="602.67" r="6.4"/><circle cx="687.01" cy="619.33" r="6.4"/><circle cx="601.88" cy="625.91" r="6.4"/><circle cx="570.21" cy="623.71" r="6.4"/><circle cx="643.03" cy="623.79" r="6.4"/><circle cx="591.79" cy="594.01" r="6.4"/><circle cx="608.87" cy="592.3" r="6.4"/><circle cx="571.4" cy="611.63" r="6.4"/><circle cx="565.14" cy="626.08" r="6.4"/><circle cx="550.55" cy="627.48" r="6.4"/><circle cx="705.61" cy="616.24" r="6.4"/><circle cx="572.94" cy="616.23" r="6.4"/><circle cx="674.02" cy="611.21" r="6.4"/><circle cx="589.4" cy="614.83" r="6.4"/><circle cx="616.35" cy="627.79" r="6.4"/><circle cx="629.98" cy="623.63" r="6.4"/><circle cx="586.38" cy="627.28" r="6.4"/><circle cx="584.77" cy="618.57" r="6.4"/><circle cx="597.58" cy="607.17" r="6.4"/><circle cx="608.17" cy="603.64" r="6.4"/><circle cx="542.61" cy="620.36" r="6.4"/><circle cx="563.16" cy="611.95" r="6.4"/><circle cx="677.34" cy="608.51" r="6.4"/><circle cx="588.75" cy="617.22" r="6.4"/><circle cx="538.56" cy="627.53" r="6.4"/><circle cx="575.53" cy="624.95" r="6.4"/><circle cx="718.04" cy="610.68" r="6.4"/><circle cx="559.34" cy="612.57" r="6.4"/><circle cx="594.57" cy="620.91" r="6.4"/><circle cx="539.89" cy="625.41" r="6.4"/><circle cx="623.98" cy="607.59" r="6.4"/><circle cx="655.49" cy="624.32" r="6.4"/><circle cx="705.04" cy="611.44" r="6.4"/><circle cx="614.99" cy="606.66" r="6.4"/><circle cx="549.81" cy="626.76" r="6.4"/><circle cx="563.18" cy="624.6" r="6.4"/><circle cx="601.15" cy="590.45" r="6.4"/><circle cx="588.8" cy="627.82" r="6.4"/><circle cx="582.81" cy="602.76" r="6.4"/><circle cx="631.92" cy="616.11" r="6.4"/><circle cx="564.72" cy="622.7" r="6.4"/><circle cx="599.5" cy="598.76" r="6.4"/><circle cx="718.23" cy="616.85" r="6.4"/><circle cx="602.31" cy="626.83" r="6.4"/><circle cx="566.89" cy="612.92" r="6.4"/><circle cx="668.85" cy="625.17" r="6.4"/><circle cx="560.57" cy="607.88" r="6.4"/><circle cx="585.4" cy="627.61" r="6.4"/><circle cx="586.62" cy="611.05" r="6.4"/><circle cx="551.31" cy="621.92" r="6.4"/><circle cx="625.66" cy="598.76" r="6.4"/><circle cx="638.15" cy="611.57" r="6.4"/><circle cx="593.1" cy="627.49" r="6.4"/><circle cx="720.4" cy="617.01" r="6.4"/><circle cx="654.5" cy="625.66" r="6.4"/><circle cx="621.96" cy="623.47" r="6.4"/><circle cx="658.95" cy="607.69" r="6.4"/><circle cx="621.8" cy="627.32" r="6.4"/><circle cx="574.02" cy="616.26" r="6.4"/><circle cx="597.51" cy="624.37" r="6.4"/><circle cx="623.76" cy="625.74" r="6.4"/><circle cx="691.15" cy="607.52" r="6.4"/><circle cx="635.85" cy="627.86" r="6.4"/><circle cx="599.88" cy="623.59" r="6.4"/><circle cx="621.97" cy="602.01" r="6.4"/><circle cx="636.53" cy="605.08" r="6.4"/><circle cx="522.22" cy="613.55" r="6.4"/><circle cx="620.12" cy="624.66" r="6.4"/><circle cx="664.44" cy="622.27" r="6.4"/><circle cx="611.01" cy="600.7" r="6.4"/><circle cx="595.1" cy="626.43" r="6.4"/><circle cx="608.89" cy="618.41" r="6.4"/><circle cx="672.29" cy="602.79" r="6.4"/><circle cx="642.46" cy="611.19" r="6.4"/><circle cx="633.44" cy="625.06" r="6.4"/><circle cx="603.55" cy="600.63" r="6.4"/><circle cx="584.13" cy="627.51" r="6.4"/><circle cx="554.32" cy="624.55" r="6.4"/><circle cx="667.62" cy="625.53" r="6.4"/><circle cx="672.1" cy="604.66" r="6.4"/><circle cx="564.72" cy="613.34" r="6.4"/><circle cx="658.28" cy="624.9" r="6.4"/><circle cx="603.85" cy="604.73" r="6.4"/><circle cx="598.82" cy="626.48" r="6.4"/><circle cx="689.39" cy="618.57" r="6.4"/><circle cx="684.75" cy="622.86" r="6.4"/><circle cx="582.68" cy="619.09" r="6.4"/><circle cx="632.23" cy="622.53" r="6.4"/><circle cx="574.19" cy="621.68" r="6.4"/><circle cx="529.66" cy="621.67" r="6.4"/><circle cx="639.21" cy="608.28" r="6.4"/><circle cx="620.42" cy="619.21" r="6.4"/><circle cx="632.59" cy="609.94" r="6.4"/><circle cx="698.09" cy="607.85" r="6.4"/><circle cx="588.1" cy="606.86" r="6.4"/><circle cx="621.88" cy="609.95" r="6.4"/><circle cx="607.04" cy="624.6" r="6.4"/><circle cx="516.7" cy="622.66" r="6.4"/><circle cx="591.27" cy="610.11" r="6.4"/><circle cx="530.94" cy="614.58" r="6.4"/><circle cx="602.05" cy="610.87" r="6.4"/><circle cx="553.51" cy="627.84" r="6.4"/><circle cx="549.96" cy="625.59" r="6.4"/><circle cx="661.62" cy="625.17" r="6.4"/><circle cx="581.19" cy="622.47" r="6.4"/><circle cx="586.8" cy="615.76" r="6.4"/><circle cx="613.61" cy="624.86" r="6.4"/><circle cx="506.22" cy="616.15" r="6.4"/><circle cx="559.21" cy="627.67" r="6.4"/><circle cx="565.98" cy="615.07" r="6.4"/><circle cx="617.13" cy="619.46" r="6.4"/><circle cx="609.22" cy="616.31" r="6.4"/><circle cx="571.57" cy="624.64" r="6.4"/><circle cx="676.1" cy="609.11" r="6.4"/><circle cx="575.67" cy="627.8" r="6.4"/><circle cx="564.38" cy="626.04" r="6.4"/><circle cx="615.75" cy="591.55" r="6.4"/><circle cx="567.7" cy="616.43" r="6.4"/><circle cx="652.82" cy="627.29" r="6.4"/><circle cx="612.09" cy="594.28" r="6.4"/><circle cx="567.75" cy="620.6" r="6.4"/><circle cx="697.59" cy="620.02" r="6.4"/><circle cx="580.97" cy="604.11" r="6.4"/><circle cx="596.67" cy="609.21" r="6.4"/><circle cx="611.98" cy="625.22" r="6.4"/><circle cx="613.02" cy="607.81" r="6.4"/><circle cx="615.73" cy="618.92" r="6.4"/><circle cx="541.6" cy="627.87" r="6.4"/><circle cx="600.84" cy="623.82" r="6.4"/><circle cx="511.04" cy="622.75" r="6.4"/><circle cx="587.13" cy="620.07" r="6.4"/><circle cx="592.81" cy="626.6" r="6.4"/><circle cx="621.35" cy="626.05" r="6.4"/><circle cx="563.69" cy="626.67" r="6.4"/><circle cx="610.08" cy="625.78" r="6.4"/><circle cx="579.08" cy="601.12" r="6.4"/><circle cx="601.3" cy="627.37" r="6.4"/><circle cx="558.22" cy="619.8" r="6.4"/><circle cx="640.18" cy="608.92" r="6.4"/><circle cx="637.55" cy="619.45" r="6.4"/><circle cx="529.19" cy="622.51" r="6.4"/><circle cx="586.15" cy="626.49" r="6.4"/><circle cx="581.61" cy="624.5" r="6.4"/><circle cx="511.8" cy="615.47" r="6.4"/></g>
<g fill="#b4d3e2"><circle cx="590.13" cy="553.2" r="6.4"/><circle cx="597.29" cy="548.08" r="6.4"/><circle cx="605.47" cy="545.01" r="6.4"/><circle cx="613.66" cy="548.08" r="6.4"/><circle cx="621.84" cy="551.15" r="6.4"/><circle cx="617.75" cy="561.38" r="6.4"/><circle cx="611.61" cy="565.47" r="6.4"/><circle cx="601.38" cy="563.43" r="6.4"/><circle cx="595.24" cy="567.52" r="6.4"/><circle cx="637.19" cy="561.38" r="6.4"/><circle cx="652.53" cy="555.24" r="6.4"/><circle cx="646.39" cy="552.17" r="6.4"/><circle cx="621.84" cy="571.61" r="6.4"/><circle cx="623.89" cy="586.96" r="6.4"/><circle cx="630.03" cy="570.59" r="6.4"/><circle cx="591.15" cy="574.68" r="6.4"/><circle cx="594.22" cy="581.84" r="6.4"/><circle cx="558.41" cy="583.89" r="6.4"/><circle cx="565.58" cy="579.8" r="6.4"/><circle cx="575.81" cy="577.75" r="6.4"/><circle cx="580.92" cy="580.82" r="6.4"/><circle cx="605.47" cy="571.61" r="6.4"/><circle cx="611.61" cy="577.75" r="6.4"/><circle cx="619.8" cy="581.84" r="6.4"/><circle cx="601.38" cy="557.29" r="6.4"/><circle cx="609.57" cy="557.29" r="6.4"/><circle cx="627.98" cy="561.38" r="6.4"/><circle cx="632.07" cy="566.5" r="6.4"/><circle cx="607.52" cy="581.84" r="6.4"/><circle cx="597.29" cy="575.7" r="6.4"/><circle cx="617.75" cy="571.61" r="6.4"/><circle cx="641.28" cy="557.29" r="6.4"/></g>
<line x1="640" y1="445" x2="624.4" y2="459" stroke="#0000ff" stroke-width="1.7" stroke-opacity="0.5"/>
<line x1="684" y1="457.5" x2="646" y2="457.8" stroke="#0000ff" stroke-width="1.7" stroke-opacity="0.5"/>
<line x1="560" y1="459" x2="597" y2="466" stroke="#0000ff" stroke-width="1.7" stroke-opacity="0.5"/>
<line x1="553" y1="491" x2="612" y2="521" stroke="#0000ff" stroke-width="1.7" stroke-opacity="0.5"/>
<line x1="702" y1="487" x2="647" y2="501" stroke="#0000ff" stroke-width="1.7" stroke-opacity="0.5"/>
<line x1="456" y1="517" x2="612" y2="537" stroke="#0000ff" stroke-width="1.7" stroke-opacity="0.5"/>
<line x1="528" y1="518" x2="612" y2="535" stroke="#0000ff" stroke-width="1.7" stroke-opacity="0.5"/>
<line x1="700" y1="518" x2="630" y2="518" stroke="#0000ff" stroke-width="1.7" stroke-opacity="0.5"/>
<line x1="786" y1="518" x2="632" y2="519" stroke="#0000ff" stroke-width="1.7" stroke-opacity="0.5"/>
<line x1="726" y1="518" x2="632" y2="520" stroke="#0000ff" stroke-width="1.7" stroke-opacity="0.5"/>
<line x1="518" y1="546" x2="600" y2="536" stroke="#0000ff" stroke-width="1.7" stroke-opacity="0.5"/>
<line x1="717" y1="546" x2="634" y2="531" stroke="#0000ff" stroke-width="1.7" stroke-opacity="0.5"/>
<line x1="505" y1="574" x2="603" y2="544" stroke="#0000ff" stroke-width="1.7" stroke-opacity="0.5"/>
<line x1="587" y1="572" x2="612" y2="544" stroke="#0000ff" stroke-width="1.7" stroke-opacity="0.5"/>
<line x1="630" y1="570" x2="616" y2="546" stroke="#0000ff" stroke-width="1.7" stroke-opacity="0.5"/>
<line x1="683" y1="572" x2="623" y2="543" stroke="#0000ff" stroke-width="1.7" stroke-opacity="0.5"/>
<line x1="745" y1="573" x2="628" y2="540" stroke="#0000ff" stroke-width="1.7" stroke-opacity="0.5"/>
<line x1="601" y1="598" x2="612" y2="545" stroke="#0000ff" stroke-width="1.7" stroke-opacity="0.5"/>
<line x1="662" y1="598" x2="620" y2="544" stroke="#0000ff" stroke-width="1.7" stroke-opacity="0.5"/>
<line x1="710" y1="598" x2="622" y2="541" stroke="#0000ff" stroke-width="1.7" stroke-opacity="0.5"/>
<line x1="640" y1="542" x2="624" y2="537" stroke="#0000ff" stroke-width="1.7" stroke-opacity="0.5"/>
<line x1="583" y1="546" x2="604" y2="538" stroke="#0000ff" stroke-width="1.7" stroke-opacity="0.5"/>
<circle cx="491.65" cy="80.7" r="6.4" fill="#d40000"/>
<circle cx="557.6" cy="258.6" r="6.4" fill="#d40000"/>
<circle cx="564.8" cy="524.2" r="6.4" fill="#d40000"/>
<text x="593.7" y="511.7" font-size="17.6" fill="#d40000" stroke="#d40000" stroke-width="0.32" text-anchor="middle">SCGB3A2</text>
<text x="561.7" y="546.8" font-size="17.6" fill="#d40000" stroke="#d40000" stroke-width="0.32" text-anchor="middle">CTSC</text>
<text x="491.9" y="104.1" font-size="17.6" fill="#d40000" stroke="#d40000" stroke-width="0.32" text-anchor="middle">HLA−DRA</text>
<text x="557.9" y="282.2" font-size="17.6" fill="#d40000" stroke="#d40000" stroke-width="0.32" text-anchor="middle">IDS</text>
<g fill="#0000ff"><circle cx="688.3" cy="371.7" r="6.4"/><circle cx="620.3" cy="420.2" r="6.4"/><circle cx="613.4" cy="446.5" r="6.4"/><circle cx="624.4" cy="459" r="6.4"/><circle cx="640.3" cy="457.8" r="6.4"/><circle cx="602.1" cy="467.2" r="6.4"/><circle cx="614.3" cy="479.1" r="6.4"/><circle cx="641.3" cy="502.3" r="6.4"/><circle cx="610.6" cy="503.2" r="6.4"/><circle cx="610.3" cy="520.2" r="6.4"/><circle cx="627.5" cy="517.3" r="6.4"/><circle cx="622.8" cy="528" r="6.4"/><circle cx="633.1" cy="535.2" r="6.4"/><circle cx="605.6" cy="535.2" r="6.4"/><circle cx="597.7" cy="536.8" r="6.4"/><circle cx="613.4" cy="538.3" r="6.4"/><circle cx="618.1" cy="539.9" r="6.4"/><circle cx="630.6" cy="539.3" r="6.4"/><circle cx="628" cy="524" r="6.4"/><circle cx="635" cy="518" r="6.4"/><circle cx="624" cy="540" r="6.4"/><circle cx="609" cy="541" r="6.4"/><circle cx="603" cy="531" r="6.4"/></g>
<text x="714.6" y="395.2" font-size="17.6" fill="#0000ff" stroke="#0000ff" stroke-width="0.32" text-anchor="middle">TIMP3</text>
<text x="635.3" y="405.8" font-size="17.6" fill="#0000ff" stroke="#0000ff" stroke-width="0.32" text-anchor="middle">CD40LG</text>
<text x="581.4" y="435.9" font-size="17.6" fill="#0000ff" stroke="#0000ff" stroke-width="0.32" text-anchor="middle">MEPE</text>
<text x="646.9" y="444.3" font-size="17.6" fill="#0000ff" stroke="#0000ff" stroke-width="0.32" text-anchor="middle">NTF3</text>
<text x="704.9" y="464.1" font-size="17.6" fill="#0000ff" stroke="#0000ff" stroke-width="0.32" text-anchor="middle">ADA</text>
<text x="534.1" y="464.7" font-size="17.6" fill="#0000ff" stroke="#0000ff" stroke-width="0.32" text-anchor="middle">CD84</text>
<text x="524.1" y="495.1" font-size="17.6" fill="#0000ff" stroke="#0000ff" stroke-width="0.32" text-anchor="middle">LAMA4</text>
<text x="586.8" y="495.1" font-size="17.6" fill="#0000ff" stroke="#0000ff" stroke-width="0.32" text-anchor="middle">LAT</text>
<text x="657.3" y="492.9" font-size="17.6" fill="#0000ff" stroke="#0000ff" stroke-width="0.32" text-anchor="middle">SPINT2</text>
<text x="738.7" y="493.6" font-size="17.6" fill="#0000ff" stroke="#0000ff" stroke-width="0.32" text-anchor="middle">PDLIM7</text>
<text x="432.6" y="524.3" font-size="17.6" fill="#0000ff" stroke="#0000ff" stroke-width="0.32" text-anchor="middle">OMD</text>
<text x="500" y="524.3" font-size="17.6" fill="#0000ff" stroke="#0000ff" stroke-width="0.32" text-anchor="middle">PTH1R</text>
<text x="571.7" y="524.3" font-size="17.6" fill="#0000ff" stroke="#0000ff" stroke-width="0.32" text-anchor="middle">AXIN1</text>
<text x="674.5" y="524.3" font-size="17.6" fill="#0000ff" stroke="#0000ff" stroke-width="0.32" text-anchor="middle">TBC1D5</text>
<text x="746.5" y="524.3" font-size="17.6" fill="#0000ff" stroke="#0000ff" stroke-width="0.32" text-anchor="middle">LSP1</text>
<text x="810.8" y="524.3" font-size="17.6" fill="#0000ff" stroke="#0000ff" stroke-width="0.32" text-anchor="middle">IL17C</text>
<text x="486.5" y="553.4" font-size="17.6" fill="#0000ff" stroke="#0000ff" stroke-width="0.32" text-anchor="middle">ITM2A</text>
<text x="557" y="553.4" font-size="17.6" fill="#0000ff" stroke="#0000ff" stroke-width="0.32" text-anchor="middle">CRLF1</text>
<text x="672.9" y="553.4" font-size="17.6" fill="#0000ff" stroke="#0000ff" stroke-width="0.32" text-anchor="middle">CASP2</text>
<text x="749.7" y="552.5" font-size="17.6" fill="#0000ff" stroke="#0000ff" stroke-width="0.32" text-anchor="middle">DECR1</text>
<text x="472.4" y="583.8" font-size="17.6" fill="#0000ff" stroke="#0000ff" stroke-width="0.32" text-anchor="middle">SPRY2</text>
<text x="552.3" y="583.8" font-size="17.6" fill="#0000ff" stroke="#0000ff" stroke-width="0.32" text-anchor="middle">PLXNA4</text>
<text x="629" y="583.8" font-size="17.6" fill="#0000ff" stroke="#0000ff" stroke-width="0.32" text-anchor="middle">EDAR</text>
<text x="706.4" y="583.8" font-size="17.6" fill="#0000ff" stroke="#0000ff" stroke-width="0.32" text-anchor="middle">DBNL</text>
<text x="776.9" y="583.8" font-size="17.6" fill="#0000ff" stroke="#0000ff" stroke-width="0.32" text-anchor="middle">SKAP2</text>
<text x="600.2" y="613.6" font-size="17.6" fill="#0000ff" stroke="#0000ff" stroke-width="0.32" text-anchor="middle">PRDX5</text>
<text x="670.4" y="613.6" font-size="17.6" fill="#0000ff" stroke="#0000ff" stroke-width="0.32" text-anchor="middle">STX8</text>
<text x="757.5" y="613.6" font-size="17.6" fill="#0000ff" stroke="#0000ff" stroke-width="0.32" text-anchor="middle">ARHGEF12</text>
<circle cx="192.25" cy="749.25" r="6.6" fill="#0000ff"/>
<circle cx="471.5" cy="749.25" r="6.6" fill="#b4d3e2"/>
<circle cx="717" cy="749.25" r="6.6" fill="#d40000"/>
<text x="215" y="756.25" font-size="19.7" fill="#000" stroke="#000" stroke-width="0.35">Higher in Controls (n=286)</text>
<text x="493.3" y="756.25" font-size="19.7" fill="#000" stroke="#000" stroke-width="0.35">Significant before FDR</text>
<text x="738.8" y="756.25" font-size="19.7" fill="#000" stroke="#000" stroke-width="0.35">Higher in T1D (n=146)</text>
<text x="37" y="842.4" font-size="36" fill="#000" font-weight="bold">b</text>
<line x1="109.3" y1="1099.3" x2="328.7" y2="1099.3" stroke="#ebebeb" stroke-width="1.1"/>
<line x1="109.3" y1="1042.26" x2="328.7" y2="1042.26" stroke="#ebebeb" stroke-width="1.1"/>
<line x1="109.3" y1="985.22" x2="328.7" y2="985.22" stroke="#ebebeb" stroke-width="1.1"/>
<line x1="109.3" y1="928.18" x2="328.7" y2="928.18" stroke="#ebebeb" stroke-width="1.1"/>
<line x1="109.3" y1="871.14" x2="328.7" y2="871.14" stroke="#ebebeb" stroke-width="1.1"/>
<line x1="109.3" y1="1127.82" x2="328.7" y2="1127.82" stroke="#e7e7e7" stroke-width="1.5"/>
<line x1="109.3" y1="1070.78" x2="328.7" y2="1070.78" stroke="#e7e7e7" stroke-width="1.5"/>
<line x1="109.3" y1="1013.74" x2="328.7" y2="1013.74" stroke="#e7e7e7" stroke-width="1.5"/>
<line x1="109.3" y1="956.7" x2="328.7" y2="956.7" stroke="#e7e7e7" stroke-width="1.5"/>
<line x1="109.3" y1="899.66" x2="328.7" y2="899.66" stroke="#e7e7e7" stroke-width="1.5"/>
<line x1="169.14" y1="853" x2="169.14" y2="1141" stroke="#e7e7e7" stroke-width="1.5"/>
<line x1="268.86" y1="853" x2="268.86" y2="1141" stroke="#e7e7e7" stroke-width="1.5"/>
<text x="100.3" y="1135.27" font-size="20.8" fill="#4d4d4d" stroke="#4d4d4d" stroke-width="0.37" text-anchor="end">−6</text>
<text x="100.3" y="1078.23" font-size="20.8" fill="#4d4d4d" stroke="#4d4d4d" stroke-width="0.37" text-anchor="end">−4</text>
<text x="100.3" y="1021.19" font-size="20.8" fill="#4d4d4d" stroke="#4d4d4d" stroke-width="0.37" text-anchor="end">−2</text>
<text x="100.3" y="964.15" font-size="20.8" fill="#4d4d4d" stroke="#4d4d4d" stroke-width="0.37" text-anchor="end">0</text>
<text x="100.3" y="907.11" font-size="20.8" fill="#4d4d4d" stroke="#4d4d4d" stroke-width="0.37" text-anchor="end">2</text>
<text x="169.14" y="1169.3" font-size="25.3" fill="#4d4d4d" stroke="#4d4d4d" stroke-width="0.46" text-anchor="middle">Control</text>
<text x="268.86" y="1169.3" font-size="25.3" fill="#4d4d4d" stroke="#4d4d4d" stroke-width="0.46" text-anchor="middle">T1D</text>
<text x="219" y="836.7" font-size="28.5" fill="#000" stroke="#000" stroke-width="0.51" text-anchor="middle">TIMP3</text>
<text x="72.8" y="997" font-size="19.5" fill="#000" stroke="#000" stroke-width="0.35" text-anchor="middle" transform="rotate(-90 72.8 997)">NPX</text>
<line x1="169.14" y1="871.14" x2="169.14" y2="925.61" stroke="#1e1e1e" stroke-width="1.8"/>
<line x1="169.14" y1="976.38" x2="169.14" y2="1040.26" stroke="#1e1e1e" stroke-width="1.8"/>
<rect x="131.74" y="925.61" width="74.8" height="50.77" fill="#bad8e4" stroke="#222" stroke-width="1.8"/>
<line x1="131.74" y1="951.85" x2="206.53" y2="951.85" stroke="#222" stroke-width="3"/>
<circle cx="169.14" cy="1058.52" r="3.9" fill="#2a2a2a"/>
<line x1="268.86" y1="865.44" x2="268.86" y2="951.57" stroke="#1e1e1e" stroke-width="1.8"/>
<line x1="268.86" y1="1010.89" x2="268.86" y2="1056.52" stroke="#1e1e1e" stroke-width="1.8"/>
<rect x="231.47" y="951.57" width="74.8" height="59.32" fill="#bad8e4" stroke="#222" stroke-width="1.8"/>
<line x1="231.47" y1="978.38" x2="306.26" y2="978.38" stroke="#222" stroke-width="3"/>
<circle cx="268.86" cy="1099.3" r="3.9" fill="#2a2a2a"/>
<g fill="#000" fill-opacity="0.75"><circle cx="172.9" cy="950.5" r="2.85"/><circle cx="165.1" cy="906.2" r="2.85"/><circle cx="154.3" cy="910" r="2.85"/><circle cx="150.5" cy="970.4" r="2.85"/><circle cx="164.8" cy="962.7" r="2.85"/><circle cx="172.5" cy="971" r="2.85"/><circle cx="169.9" cy="929.7" r="2.85"/><circle cx="185.1" cy="953.9" r="2.85"/><circle cx="185.6" cy="923.6" r="2.85"/><circle cx="186.5" cy="1015.3" r="2.85"/><circle cx="181.1" cy="900.4" r="2.85"/><circle cx="168.2" cy="955.4" r="2.85"/><circle cx="170.1" cy="925.4" r="2.85"/><circle cx="165" cy="956.8" r="2.85"/><circle cx="165.1" cy="965.6" r="2.85"/><circle cx="150.8" cy="933.8" r="2.85"/><circle cx="181.1" cy="921.4" r="2.85"/><circle cx="159" cy="959.2" r="2.85"/><circle cx="150.4" cy="957.4" r="2.85"/><circle cx="167.8" cy="925.3" r="2.85"/><circle cx="177.8" cy="982.9" r="2.85"/><circle cx="166.6" cy="1004.3" r="2.85"/><circle cx="163.7" cy="936.5" r="2.85"/><circle cx="175.5" cy="976.3" r="2.85"/><circle cx="155.7" cy="1017.7" r="2.85"/><circle cx="149.6" cy="981" r="2.85"/><circle cx="172.8" cy="968.9" r="2.85"/><circle cx="170.4" cy="993.6" r="2.85"/><circle cx="183.7" cy="1003.5" r="2.85"/><circle cx="165.8" cy="950.4" r="2.85"/><circle cx="180.5" cy="919.3" r="2.85"/><circle cx="149.9" cy="960.3" r="2.85"/><circle cx="150.3" cy="978.7" r="2.85"/><circle cx="173.1" cy="936.9" r="2.85"/><circle cx="158.2" cy="924.4" r="2.85"/><circle cx="151.9" cy="962.8" r="2.85"/><circle cx="154.3" cy="930.6" r="2.85"/><circle cx="164.1" cy="915.2" r="2.85"/><circle cx="162.6" cy="959.4" r="2.85"/><circle cx="171.7" cy="981" r="2.85"/><circle cx="184.6" cy="938.3" r="2.85"/><circle cx="163.8" cy="942.2" r="2.85"/><circle cx="156.5" cy="913.6" r="2.85"/><circle cx="172.2" cy="996.6" r="2.85"/><circle cx="149.3" cy="975.9" r="2.85"/><circle cx="164.5" cy="981.8" r="2.85"/><circle cx="161.8" cy="1011.5" r="2.85"/><circle cx="164.6" cy="946.9" r="2.85"/><circle cx="151.2" cy="931.3" r="2.85"/><circle cx="171.3" cy="978.5" r="2.85"/><circle cx="174.1" cy="905.5" r="2.85"/><circle cx="179.1" cy="921.4" r="2.85"/><circle cx="187.4" cy="927.4" r="2.85"/><circle cx="163.3" cy="936.2" r="2.85"/><circle cx="175.4" cy="917.6" r="2.85"/><circle cx="166.8" cy="998.2" r="2.85"/><circle cx="157.8" cy="928" r="2.85"/><circle cx="184.7" cy="928.4" r="2.85"/><circle cx="178.9" cy="1012.7" r="2.85"/><circle cx="186.8" cy="938.3" r="2.85"/><circle cx="182" cy="961" r="2.85"/><circle cx="185.8" cy="922.6" r="2.85"/><circle cx="154.3" cy="967.8" r="2.85"/><circle cx="149.8" cy="952.5" r="2.85"/><circle cx="157.1" cy="938.5" r="2.85"/><circle cx="165.6" cy="983.1" r="2.85"/><circle cx="176.6" cy="928.5" r="2.85"/><circle cx="166.7" cy="955.7" r="2.85"/><circle cx="169.7" cy="932.7" r="2.85"/><circle cx="179.5" cy="970.8" r="2.85"/><circle cx="152" cy="914" r="2.85"/><circle cx="176.2" cy="928.3" r="2.85"/><circle cx="151.1" cy="958.3" r="2.85"/><circle cx="159.1" cy="927.2" r="2.85"/><circle cx="178" cy="909" r="2.85"/><circle cx="176.4" cy="894" r="2.85"/><circle cx="165.4" cy="1006.2" r="2.85"/><circle cx="160.9" cy="919.7" r="2.85"/><circle cx="182.2" cy="933.7" r="2.85"/><circle cx="160.2" cy="955.3" r="2.85"/><circle cx="150.4" cy="987.4" r="2.85"/><circle cx="159.1" cy="909.1" r="2.85"/><circle cx="150" cy="995.9" r="2.85"/><circle cx="181.5" cy="929.8" r="2.85"/><circle cx="154.1" cy="907.9" r="2.85"/><circle cx="188" cy="1007.1" r="2.85"/><circle cx="157.7" cy="962.9" r="2.85"/><circle cx="161.4" cy="997.4" r="2.85"/><circle cx="172.5" cy="942.4" r="2.85"/><circle cx="161.5" cy="901.8" r="2.85"/><circle cx="164.3" cy="887.4" r="2.85"/><circle cx="153.3" cy="1013" r="2.85"/><circle cx="164.7" cy="972.8" r="2.85"/><circle cx="150.2" cy="924.8" r="2.85"/><circle cx="158.1" cy="900" r="2.85"/><circle cx="185.5" cy="935.5" r="2.85"/><circle cx="160.4" cy="978.8" r="2.85"/><circle cx="160" cy="940.3" r="2.85"/><circle cx="176.3" cy="952.5" r="2.85"/><circle cx="184.4" cy="959.3" r="2.85"/><circle cx="161" cy="978.4" r="2.85"/><circle cx="164.2" cy="936.8" r="2.85"/><circle cx="177.7" cy="939.9" r="2.85"/><circle cx="180.8" cy="955.2" r="2.85"/><circle cx="173.7" cy="959.9" r="2.85"/><circle cx="156.3" cy="996.6" r="2.85"/><circle cx="156.4" cy="969.5" r="2.85"/><circle cx="179.4" cy="910.6" r="2.85"/><circle cx="177.4" cy="958.8" r="2.85"/><circle cx="184.9" cy="1001.8" r="2.85"/><circle cx="180.3" cy="906.9" r="2.85"/><circle cx="166" cy="931.2" r="2.85"/><circle cx="154.5" cy="885.1" r="2.85"/><circle cx="184.7" cy="949.4" r="2.85"/><circle cx="176.9" cy="968.6" r="2.85"/><circle cx="172.2" cy="1002" r="2.85"/><circle cx="176.4" cy="907.2" r="2.85"/><circle cx="164.6" cy="872" r="2.85"/><circle cx="162.9" cy="981.3" r="2.85"/><circle cx="172.1" cy="975.4" r="2.85"/><circle cx="168.4" cy="928.6" r="2.85"/><circle cx="177.5" cy="981.6" r="2.85"/><circle cx="186.5" cy="961.7" r="2.85"/><circle cx="183" cy="964.6" r="2.85"/><circle cx="164.6" cy="944.4" r="2.85"/><circle cx="164" cy="913.7" r="2.85"/><circle cx="186.2" cy="951" r="2.85"/><circle cx="164.9" cy="918.7" r="2.85"/><circle cx="181.1" cy="967.1" r="2.85"/><circle cx="152.9" cy="939.1" r="2.85"/><circle cx="167.2" cy="1024.9" r="2.85"/><circle cx="169.8" cy="1002.1" r="2.85"/><circle cx="181.5" cy="922.2" r="2.85"/><circle cx="184.2" cy="973.3" r="2.85"/><circle cx="155.3" cy="929.3" r="2.85"/><circle cx="173.8" cy="930.7" r="2.85"/><circle cx="174.3" cy="907.3" r="2.85"/><circle cx="155.2" cy="921.7" r="2.85"/><circle cx="182.4" cy="915.9" r="2.85"/><circle cx="171.3" cy="955.9" r="2.85"/><circle cx="187.6" cy="977.2" r="2.85"/><circle cx="156.6" cy="978.3" r="2.85"/><circle cx="170.1" cy="969.6" r="2.85"/><circle cx="162.1" cy="991.5" r="2.85"/><circle cx="174.8" cy="971.8" r="2.85"/><circle cx="173.4" cy="955.2" r="2.85"/><circle cx="169.6" cy="942.1" r="2.85"/><circle cx="162.1" cy="964.2" r="2.85"/><circle cx="169.3" cy="1017.8" r="2.85"/><circle cx="164" cy="954.5" r="2.85"/><circle cx="184.7" cy="943.1" r="2.85"/><circle cx="167.6" cy="914" r="2.85"/><circle cx="168.1" cy="929.4" r="2.85"/><circle cx="159.5" cy="975.3" r="2.85"/><circle cx="159.3" cy="978" r="2.85"/><circle cx="187.2" cy="887.8" r="2.85"/><circle cx="161.7" cy="923.3" r="2.85"/><circle cx="183.8" cy="892.9" r="2.85"/><circle cx="172.9" cy="884.4" r="2.85"/><circle cx="188.3" cy="981.2" r="2.85"/><circle cx="155.7" cy="936.9" r="2.85"/><circle cx="186.8" cy="934" r="2.85"/><circle cx="180" cy="930.1" r="2.85"/><circle cx="171.8" cy="930.8" r="2.85"/><circle cx="177.5" cy="944" r="2.85"/><circle cx="178" cy="945.1" r="2.85"/><circle cx="167.1" cy="1003.9" r="2.85"/><circle cx="174.5" cy="957.9" r="2.85"/><circle cx="158.3" cy="978.8" r="2.85"/><circle cx="150" cy="946.9" r="2.85"/><circle cx="176.2" cy="968.9" r="2.85"/><circle cx="168.1" cy="927.8" r="2.85"/><circle cx="185.3" cy="921.5" r="2.85"/><circle cx="159.7" cy="939.8" r="2.85"/><circle cx="181.8" cy="939.5" r="2.85"/><circle cx="188.5" cy="948.2" r="2.85"/><circle cx="185" cy="968.1" r="2.85"/><circle cx="187.7" cy="957.8" r="2.85"/><circle cx="155.5" cy="969.9" r="2.85"/><circle cx="155.8" cy="936.7" r="2.85"/><circle cx="158.3" cy="951.3" r="2.85"/><circle cx="163.6" cy="929.2" r="2.85"/><circle cx="153.8" cy="998.1" r="2.85"/><circle cx="155.2" cy="919.6" r="2.85"/><circle cx="149.9" cy="979.3" r="2.85"/><circle cx="186.4" cy="978.4" r="2.85"/><circle cx="163.6" cy="959" r="2.85"/><circle cx="174.2" cy="972.4" r="2.85"/><circle cx="167.3" cy="940.5" r="2.85"/><circle cx="178.8" cy="972.7" r="2.85"/><circle cx="181.3" cy="989.5" r="2.85"/><circle cx="164.5" cy="982.1" r="2.85"/><circle cx="170.5" cy="907.6" r="2.85"/><circle cx="153.1" cy="950.1" r="2.85"/><circle cx="160.6" cy="992.7" r="2.85"/><circle cx="158.1" cy="951.5" r="2.85"/><circle cx="161.5" cy="1005.6" r="2.85"/><circle cx="162.1" cy="894.1" r="2.85"/><circle cx="172.1" cy="1004.6" r="2.85"/><circle cx="162.5" cy="933.2" r="2.85"/><circle cx="162.2" cy="930.7" r="2.85"/><circle cx="182.4" cy="1002.1" r="2.85"/><circle cx="149.7" cy="940.2" r="2.85"/><circle cx="149.4" cy="916.5" r="2.85"/><circle cx="151.5" cy="933.6" r="2.85"/><circle cx="183.7" cy="941.7" r="2.85"/><circle cx="174.5" cy="917.8" r="2.85"/><circle cx="178.2" cy="945.6" r="2.85"/><circle cx="187.4" cy="938.8" r="2.85"/><circle cx="157.9" cy="956.5" r="2.85"/><circle cx="185.9" cy="927.3" r="2.85"/><circle cx="158.9" cy="985.2" r="2.85"/><circle cx="169.9" cy="922.3" r="2.85"/><circle cx="176.4" cy="970.2" r="2.85"/><circle cx="181" cy="990.2" r="2.85"/><circle cx="159.1" cy="937.6" r="2.85"/><circle cx="168.2" cy="896.8" r="2.85"/><circle cx="151" cy="917.5" r="2.85"/><circle cx="160.7" cy="970.6" r="2.85"/><circle cx="188.3" cy="924.9" r="2.85"/><circle cx="185.3" cy="968.4" r="2.85"/><circle cx="172.4" cy="956.4" r="2.85"/><circle cx="180.6" cy="948.4" r="2.85"/><circle cx="185.2" cy="1030.9" r="2.85"/><circle cx="162.4" cy="944.4" r="2.85"/><circle cx="188.3" cy="988.2" r="2.85"/><circle cx="167.1" cy="977.2" r="2.85"/><circle cx="155.5" cy="1002.9" r="2.85"/><circle cx="170.3" cy="1004.3" r="2.85"/><circle cx="172.9" cy="985.3" r="2.85"/><circle cx="176.8" cy="921.3" r="2.85"/><circle cx="176" cy="897.6" r="2.85"/><circle cx="150.8" cy="952.8" r="2.85"/><circle cx="174.7" cy="913.8" r="2.85"/><circle cx="186" cy="961.5" r="2.85"/><circle cx="175.9" cy="1017.4" r="2.85"/><circle cx="188.1" cy="946" r="2.85"/><circle cx="169.6" cy="934.5" r="2.85"/><circle cx="181.5" cy="967.4" r="2.85"/><circle cx="154.8" cy="940.1" r="2.85"/><circle cx="184.9" cy="929.6" r="2.85"/><circle cx="166.6" cy="982.7" r="2.85"/><circle cx="184.2" cy="1003" r="2.85"/><circle cx="162" cy="959.9" r="2.85"/><circle cx="174.1" cy="959.5" r="2.85"/><circle cx="183" cy="964.7" r="2.85"/><circle cx="177.6" cy="916.8" r="2.85"/><circle cx="173.9" cy="895.9" r="2.85"/><circle cx="187.9" cy="967" r="2.85"/><circle cx="152.7" cy="924.9" r="2.85"/><circle cx="153.3" cy="918.1" r="2.85"/><circle cx="171.2" cy="924.5" r="2.85"/><circle cx="187.3" cy="915" r="2.85"/><circle cx="176.6" cy="966" r="2.85"/><circle cx="161.5" cy="923.8" r="2.85"/><circle cx="153.5" cy="887.4" r="2.85"/><circle cx="167.1" cy="921.9" r="2.85"/><circle cx="168.4" cy="974.4" r="2.85"/><circle cx="167.9" cy="928.2" r="2.85"/><circle cx="173.9" cy="909" r="2.85"/><circle cx="160.1" cy="937.5" r="2.85"/><circle cx="184.3" cy="972.4" r="2.85"/><circle cx="160.7" cy="901" r="2.85"/><circle cx="153.5" cy="995.5" r="2.85"/><circle cx="163.1" cy="932.3" r="2.85"/><circle cx="186.5" cy="952.4" r="2.85"/><circle cx="155.6" cy="993.6" r="2.85"/><circle cx="160.3" cy="910.2" r="2.85"/><circle cx="186.2" cy="938.3" r="2.85"/><circle cx="163.1" cy="992.7" r="2.85"/><circle cx="182.8" cy="928.4" r="2.85"/><circle cx="151" cy="967.6" r="2.85"/><circle cx="184.6" cy="1017.1" r="2.85"/><circle cx="158.7" cy="976.9" r="2.85"/><circle cx="156.4" cy="941.6" r="2.85"/><circle cx="178.8" cy="1058.5" r="2.85"/></g>
<g fill="#000" fill-opacity="0.75"><circle cx="281.2" cy="932.4" r="2.85"/><circle cx="268.9" cy="933.6" r="2.85"/><circle cx="278.7" cy="976.7" r="2.85"/><circle cx="285.4" cy="988.6" r="2.85"/><circle cx="273.3" cy="933.4" r="2.85"/><circle cx="266.3" cy="996.4" r="2.85"/><circle cx="259.4" cy="964.9" r="2.85"/><circle cx="285.3" cy="922.4" r="2.85"/><circle cx="279.4" cy="996.1" r="2.85"/><circle cx="280.8" cy="1007.8" r="2.85"/><circle cx="257.8" cy="978.8" r="2.85"/><circle cx="266.3" cy="954.6" r="2.85"/><circle cx="284.2" cy="959.2" r="2.85"/><circle cx="258.7" cy="972.2" r="2.85"/><circle cx="281.4" cy="956.2" r="2.85"/><circle cx="270.4" cy="1032.8" r="2.85"/><circle cx="257.6" cy="1015.3" r="2.85"/><circle cx="263.9" cy="971.9" r="2.85"/><circle cx="252" cy="1016.9" r="2.85"/><circle cx="275.8" cy="1026.7" r="2.85"/><circle cx="277.9" cy="1023.5" r="2.85"/><circle cx="250.1" cy="1016.7" r="2.85"/><circle cx="260.9" cy="987" r="2.85"/><circle cx="279.6" cy="1019.1" r="2.85"/><circle cx="256.9" cy="969" r="2.85"/><circle cx="270.3" cy="905.9" r="2.85"/><circle cx="281.1" cy="985.5" r="2.85"/><circle cx="271.7" cy="924.7" r="2.85"/><circle cx="253.8" cy="966.9" r="2.85"/><circle cx="285.2" cy="1021.5" r="2.85"/><circle cx="278.7" cy="990.7" r="2.85"/><circle cx="271.5" cy="1018.2" r="2.85"/><circle cx="262.2" cy="947.4" r="2.85"/><circle cx="272.1" cy="1022.2" r="2.85"/><circle cx="264.5" cy="922.6" r="2.85"/><circle cx="253.7" cy="955.4" r="2.85"/><circle cx="253.8" cy="1042.8" r="2.85"/><circle cx="250.7" cy="946.6" r="2.85"/><circle cx="255.7" cy="912.3" r="2.85"/><circle cx="258.7" cy="1013.6" r="2.85"/><circle cx="274.3" cy="937.6" r="2.85"/><circle cx="272.1" cy="1037.5" r="2.85"/><circle cx="272.5" cy="968.3" r="2.85"/><circle cx="281.7" cy="1034.3" r="2.85"/><circle cx="252.7" cy="959.2" r="2.85"/><circle cx="264.4" cy="1037.3" r="2.85"/><circle cx="252.1" cy="1056.5" r="2.85"/><circle cx="265.6" cy="962.6" r="2.85"/><circle cx="252.1" cy="879.4" r="2.85"/><circle cx="251.6" cy="1007.1" r="2.85"/><circle cx="253.1" cy="944.6" r="2.85"/><circle cx="264.5" cy="974" r="2.85"/><circle cx="279.4" cy="994" r="2.85"/><circle cx="260.2" cy="953.9" r="2.85"/><circle cx="278.5" cy="908.3" r="2.85"/><circle cx="258.2" cy="1024.2" r="2.85"/><circle cx="260.4" cy="955.9" r="2.85"/><circle cx="267.7" cy="964.6" r="2.85"/><circle cx="251.9" cy="1028.7" r="2.85"/><circle cx="266.8" cy="909.5" r="2.85"/><circle cx="272.2" cy="894.5" r="2.85"/><circle cx="281.8" cy="1017.5" r="2.85"/><circle cx="251.2" cy="904" r="2.85"/><circle cx="280.8" cy="976.1" r="2.85"/><circle cx="271.6" cy="986.3" r="2.85"/><circle cx="272" cy="914.5" r="2.85"/><circle cx="251" cy="969.3" r="2.85"/><circle cx="284" cy="965.5" r="2.85"/><circle cx="260" cy="913.8" r="2.85"/><circle cx="270.7" cy="924.1" r="2.85"/><circle cx="270.4" cy="941.8" r="2.85"/><circle cx="285.2" cy="1028.1" r="2.85"/><circle cx="272.9" cy="1032.2" r="2.85"/><circle cx="288.5" cy="931.3" r="2.85"/><circle cx="258.2" cy="1016.9" r="2.85"/><circle cx="275.3" cy="972.5" r="2.85"/><circle cx="271.9" cy="1020.4" r="2.85"/><circle cx="269.4" cy="987.2" r="2.85"/><circle cx="274" cy="1025.2" r="2.85"/><circle cx="270.9" cy="908.8" r="2.85"/><circle cx="262.4" cy="1019.1" r="2.85"/><circle cx="274.5" cy="984.3" r="2.85"/><circle cx="252.2" cy="987.5" r="2.85"/><circle cx="268" cy="927.8" r="2.85"/><circle cx="267" cy="1028.6" r="2.85"/><circle cx="257.4" cy="980" r="2.85"/><circle cx="271.6" cy="988.5" r="2.85"/><circle cx="275.6" cy="957.3" r="2.85"/><circle cx="253.9" cy="959.6" r="2.85"/><circle cx="260.8" cy="1000.7" r="2.85"/><circle cx="251.4" cy="968.8" r="2.85"/><circle cx="272.7" cy="996.4" r="2.85"/><circle cx="252.2" cy="959.8" r="2.85"/><circle cx="258.1" cy="983.3" r="2.85"/><circle cx="266.8" cy="1010" r="2.85"/><circle cx="266.9" cy="979.7" r="2.85"/><circle cx="250.2" cy="963.9" r="2.85"/><circle cx="286.7" cy="880.4" r="2.85"/><circle cx="258.1" cy="1002.1" r="2.85"/><circle cx="273.3" cy="966.2" r="2.85"/><circle cx="257.8" cy="916.3" r="2.85"/><circle cx="272.7" cy="1044.2" r="2.85"/><circle cx="263" cy="1036.2" r="2.85"/><circle cx="261.6" cy="1023.1" r="2.85"/><circle cx="267.8" cy="983.9" r="2.85"/><circle cx="272.3" cy="872.6" r="2.85"/><circle cx="272.8" cy="962.8" r="2.85"/><circle cx="276.4" cy="927.7" r="2.85"/><circle cx="259.6" cy="989.1" r="2.85"/><circle cx="252.6" cy="1053.3" r="2.85"/><circle cx="259" cy="1049.7" r="2.85"/><circle cx="262" cy="936.2" r="2.85"/><circle cx="273.1" cy="971" r="2.85"/><circle cx="265.4" cy="1025.7" r="2.85"/><circle cx="261.3" cy="931.7" r="2.85"/><circle cx="252.8" cy="1031.4" r="2.85"/><circle cx="272.7" cy="931" r="2.85"/><circle cx="253.3" cy="916.8" r="2.85"/><circle cx="269.5" cy="1013" r="2.85"/><circle cx="276.4" cy="1021.2" r="2.85"/><circle cx="273.8" cy="943.9" r="2.85"/><circle cx="255.3" cy="1020.9" r="2.85"/><circle cx="263.1" cy="943.2" r="2.85"/><circle cx="286.5" cy="1023.2" r="2.85"/><circle cx="252.5" cy="945.6" r="2.85"/><circle cx="276" cy="974.6" r="2.85"/><circle cx="266.3" cy="999.3" r="2.85"/><circle cx="273.4" cy="1016.1" r="2.85"/><circle cx="264.6" cy="968.9" r="2.85"/><circle cx="253.9" cy="1039.8" r="2.85"/><circle cx="271.4" cy="991.7" r="2.85"/><circle cx="249.2" cy="997.5" r="2.85"/><circle cx="283.4" cy="951.4" r="2.85"/><circle cx="280.8" cy="1024.6" r="2.85"/><circle cx="263.8" cy="905.1" r="2.85"/><circle cx="270.4" cy="993.4" r="2.85"/><circle cx="270" cy="1021.9" r="2.85"/><circle cx="288" cy="919.7" r="2.85"/><circle cx="250.7" cy="907.3" r="2.85"/><circle cx="260.8" cy="987.4" r="2.85"/><circle cx="265.2" cy="1099.3" r="2.85"/></g>
<text x="128.77" y="1128.7" font-size="19.8" fill="#000" stroke="#000" stroke-width="0.36">Wilcoxon, p = 3.7e−09</text>
<line x1="417" y1="1110.5" x2="636.1" y2="1110.5" stroke="#ebebeb" stroke-width="1.1"/>
<line x1="417" y1="1061.7" x2="636.1" y2="1061.7" stroke="#ebebeb" stroke-width="1.1"/>
<line x1="417" y1="1012.9" x2="636.1" y2="1012.9" stroke="#ebebeb" stroke-width="1.1"/>
<line x1="417" y1="964.1" x2="636.1" y2="964.1" stroke="#ebebeb" stroke-width="1.1"/>
<line x1="417" y1="915.3" x2="636.1" y2="915.3" stroke="#ebebeb" stroke-width="1.1"/>
<line x1="417" y1="866.5" x2="636.1" y2="866.5" stroke="#ebebeb" stroke-width="1.1"/>
<line x1="417" y1="1134.9" x2="636.1" y2="1134.9" stroke="#e7e7e7" stroke-width="1.5"/>
<line x1="417" y1="1086.1" x2="636.1" y2="1086.1" stroke="#e7e7e7" stroke-width="1.5"/>
<line x1="417" y1="1037.3" x2="636.1" y2="1037.3" stroke="#e7e7e7" stroke-width="1.5"/>
<line x1="417" y1="988.5" x2="636.1" y2="988.5" stroke="#e7e7e7" stroke-width="1.5"/>
<line x1="417" y1="939.7" x2="636.1" y2="939.7" stroke="#e7e7e7" stroke-width="1.5"/>
<line x1="417" y1="890.9" x2="636.1" y2="890.9" stroke="#e7e7e7" stroke-width="1.5"/>
<line x1="476.75" y1="853" x2="476.75" y2="1141" stroke="#e7e7e7" stroke-width="1.5"/>
<line x1="576.35" y1="853" x2="576.35" y2="1141" stroke="#e7e7e7" stroke-width="1.5"/>
<text x="408" y="1142.35" font-size="20.8" fill="#4d4d4d" stroke="#4d4d4d" stroke-width="0.37" text-anchor="end">−3</text>
<text x="408" y="1093.55" font-size="20.8" fill="#4d4d4d" stroke="#4d4d4d" stroke-width="0.37" text-anchor="end">−2</text>
<text x="408" y="1044.75" font-size="20.8" fill="#4d4d4d" stroke="#4d4d4d" stroke-width="0.37" text-anchor="end">−1</text>
<text x="408" y="995.95" font-size="20.8" fill="#4d4d4d" stroke="#4d4d4d" stroke-width="0.37" text-anchor="end">0</text>
<text x="408" y="947.15" font-size="20.8" fill="#4d4d4d" stroke="#4d4d4d" stroke-width="0.37" text-anchor="end">1</text>
<text x="408" y="898.35" font-size="20.8" fill="#4d4d4d" stroke="#4d4d4d" stroke-width="0.37" text-anchor="end">2</text>
<text x="476.75" y="1169.3" font-size="25.3" fill="#4d4d4d" stroke="#4d4d4d" stroke-width="0.46" text-anchor="middle">Control</text>
<text x="576.35" y="1169.3" font-size="25.3" fill="#4d4d4d" stroke="#4d4d4d" stroke-width="0.46" text-anchor="middle">T1D</text>
<text x="526.55" y="836.7" font-size="28.5" fill="#000" stroke="#000" stroke-width="0.51" text-anchor="middle">CD40LG</text>
<text x="380.2" y="997" font-size="19.5" fill="#000" stroke="#000" stroke-width="0.35" text-anchor="middle" transform="rotate(-90 380.2 997)">NPX</text>
<line x1="476.75" y1="933.84" x2="476.75" y2="972.4" stroke="#1e1e1e" stroke-width="1.8"/>
<line x1="476.75" y1="1002.65" x2="476.75" y2="1047.06" stroke="#1e1e1e" stroke-width="1.8"/>
<rect x="439.41" y="972.4" width="74.69" height="30.26" fill="#bad8e4" stroke="#222" stroke-width="1.8"/>
<line x1="439.41" y1="986.55" x2="514.1" y2="986.55" stroke="#222" stroke-width="3"/>
<circle cx="476.75" cy="1049.5" r="3.9" fill="#2a2a2a"/>
<circle cx="476.75" cy="1051.94" r="3.9" fill="#2a2a2a"/>
<circle cx="476.75" cy="1054.38" r="3.9" fill="#2a2a2a"/>
<circle cx="476.75" cy="1056.82" r="3.9" fill="#2a2a2a"/>
<circle cx="476.75" cy="1059.26" r="3.9" fill="#2a2a2a"/>
<circle cx="476.75" cy="1061.7" r="3.9" fill="#2a2a2a"/>
<circle cx="476.75" cy="1064.14" r="3.9" fill="#2a2a2a"/>
<circle cx="476.75" cy="1066.58" r="3.9" fill="#2a2a2a"/>
<circle cx="476.75" cy="1069.02" r="3.9" fill="#2a2a2a"/>
<circle cx="476.75" cy="1070.48" r="3.9" fill="#2a2a2a"/>
<line x1="576.35" y1="941.65" x2="576.35" y2="983.62" stroke="#1e1e1e" stroke-width="1.8"/>
<line x1="576.35" y1="1022.17" x2="576.35" y2="1071.46" stroke="#1e1e1e" stroke-width="1.8"/>
<rect x="539" y="983.62" width="74.69" height="38.55" fill="#bad8e4" stroke="#222" stroke-width="1.8"/>
<line x1="539" y1="1000.21" x2="613.69" y2="1000.21" stroke="#222" stroke-width="3"/>
<circle cx="576.35" cy="866.5" r="3.9" fill="#2a2a2a"/>
<circle cx="576.35" cy="1083.66" r="3.9" fill="#2a2a2a"/>
<circle cx="576.35" cy="1086.1" r="3.9" fill="#2a2a2a"/>
<circle cx="576.35" cy="1088.54" r="3.9" fill="#2a2a2a"/>
<circle cx="576.35" cy="1090.98" r="3.9" fill="#2a2a2a"/>
<circle cx="576.35" cy="1100.74" r="3.9" fill="#2a2a2a"/>
<circle cx="576.35" cy="1103.18" r="3.9" fill="#2a2a2a"/>
<circle cx="576.35" cy="1105.62" r="3.9" fill="#2a2a2a"/>
<g fill="#000" fill-opacity="0.75"><circle cx="462.6" cy="976" r="2.85"/><circle cx="487.3" cy="976.9" r="2.85"/><circle cx="490.1" cy="998.8" r="2.85"/><circle cx="462.4" cy="984.9" r="2.85"/><circle cx="459.8" cy="982.3" r="2.85"/><circle cx="469.7" cy="1001.9" r="2.85"/><circle cx="484.2" cy="1012.9" r="2.85"/><circle cx="487.5" cy="983.6" r="2.85"/><circle cx="475.2" cy="966.5" r="2.85"/><circle cx="482.3" cy="973" r="2.85"/><circle cx="493.4" cy="976.2" r="2.85"/><circle cx="491.9" cy="976" r="2.85"/><circle cx="461.5" cy="934.2" r="2.85"/><circle cx="485.2" cy="981.1" r="2.85"/><circle cx="487.8" cy="965" r="2.85"/><circle cx="493" cy="946.7" r="2.85"/><circle cx="473.5" cy="985.4" r="2.85"/><circle cx="463.1" cy="981" r="2.85"/><circle cx="475.7" cy="965" r="2.85"/><circle cx="471.6" cy="952.1" r="2.85"/><circle cx="472.5" cy="980" r="2.85"/><circle cx="488.8" cy="978.9" r="2.85"/><circle cx="482.8" cy="984.6" r="2.85"/><circle cx="483.9" cy="1014.9" r="2.85"/><circle cx="482.8" cy="963.5" r="2.85"/><circle cx="462.5" cy="992.6" r="2.85"/><circle cx="459.2" cy="1026.7" r="2.85"/><circle cx="472.6" cy="990" r="2.85"/><circle cx="490.7" cy="1026.9" r="2.85"/><circle cx="482.7" cy="1010.3" r="2.85"/><circle cx="488.4" cy="986.1" r="2.85"/><circle cx="481.6" cy="1008.3" r="2.85"/><circle cx="488.1" cy="964.4" r="2.85"/><circle cx="496.5" cy="1020.9" r="2.85"/><circle cx="485.3" cy="980.9" r="2.85"/><circle cx="491.2" cy="974.7" r="2.85"/><circle cx="495.6" cy="956.5" r="2.85"/><circle cx="486.3" cy="967.3" r="2.85"/><circle cx="489.2" cy="981.5" r="2.85"/><circle cx="460" cy="984.7" r="2.85"/><circle cx="458.3" cy="987.7" r="2.85"/><circle cx="493.6" cy="962.9" r="2.85"/><circle cx="466.3" cy="1002" r="2.85"/><circle cx="469" cy="975.4" r="2.85"/><circle cx="462.2" cy="988.6" r="2.85"/><circle cx="482.1" cy="981.3" r="2.85"/><circle cx="458" cy="992.6" r="2.85"/><circle cx="488.7" cy="942.9" r="2.85"/><circle cx="468.7" cy="1002" r="2.85"/><circle cx="486.5" cy="981" r="2.85"/><circle cx="493.1" cy="980.5" r="2.85"/><circle cx="484.3" cy="973.5" r="2.85"/><circle cx="473.7" cy="976.9" r="2.85"/><circle cx="481.7" cy="977.4" r="2.85"/><circle cx="490.9" cy="966" r="2.85"/><circle cx="485.2" cy="1021.5" r="2.85"/><circle cx="466.9" cy="986.1" r="2.85"/><circle cx="457.1" cy="1015.3" r="2.85"/><circle cx="491.9" cy="981.4" r="2.85"/><circle cx="481.7" cy="1014.1" r="2.85"/><circle cx="459.4" cy="1009" r="2.85"/><circle cx="478.8" cy="987.7" r="2.85"/><circle cx="480.3" cy="957.7" r="2.85"/><circle cx="468.5" cy="974.2" r="2.85"/><circle cx="492.1" cy="980.1" r="2.85"/><circle cx="466.4" cy="957.5" r="2.85"/><circle cx="462.6" cy="1008.6" r="2.85"/><circle cx="469.2" cy="1035" r="2.85"/><circle cx="470.3" cy="996.4" r="2.85"/><circle cx="492.1" cy="992.9" r="2.85"/><circle cx="483" cy="960.9" r="2.85"/><circle cx="461.7" cy="942.8" r="2.85"/><circle cx="472.5" cy="1017.5" r="2.85"/><circle cx="460.9" cy="936" r="2.85"/><circle cx="484.9" cy="954.3" r="2.85"/><circle cx="490.9" cy="968.8" r="2.85"/><circle cx="460.6" cy="978.5" r="2.85"/><circle cx="476.8" cy="937" r="2.85"/><circle cx="466.6" cy="984.6" r="2.85"/><circle cx="468.2" cy="997.5" r="2.85"/><circle cx="486.6" cy="983.3" r="2.85"/><circle cx="495.8" cy="1018.4" r="2.85"/><circle cx="467.9" cy="976.3" r="2.85"/><circle cx="478.5" cy="988.8" r="2.85"/><circle cx="469.2" cy="979.3" r="2.85"/><circle cx="459.3" cy="978.7" r="2.85"/><circle cx="480.8" cy="1011.2" r="2.85"/><circle cx="463" cy="959.3" r="2.85"/><circle cx="484.2" cy="1010.2" r="2.85"/><circle cx="486.6" cy="967.8" r="2.85"/><circle cx="462.5" cy="1023.5" r="2.85"/><circle cx="480.6" cy="978.4" r="2.85"/><circle cx="465.1" cy="1005.7" r="2.85"/><circle cx="487.2" cy="985.3" r="2.85"/><circle cx="468.2" cy="1001.8" r="2.85"/><circle cx="484.3" cy="1037.1" r="2.85"/><circle cx="482.6" cy="1012.5" r="2.85"/><circle cx="479.7" cy="984.8" r="2.85"/><circle cx="465.5" cy="973.1" r="2.85"/><circle cx="490.1" cy="1020.6" r="2.85"/><circle cx="471" cy="1035.8" r="2.85"/><circle cx="487.5" cy="1006.9" r="2.85"/><circle cx="475.8" cy="991.2" r="2.85"/><circle cx="474.7" cy="1001.3" r="2.85"/><circle cx="485.2" cy="1005.4" r="2.85"/><circle cx="470.4" cy="968.6" r="2.85"/><circle cx="487.2" cy="966.2" r="2.85"/><circle cx="474.6" cy="970.7" r="2.85"/><circle cx="486.3" cy="1008.4" r="2.85"/><circle cx="484.6" cy="984.6" r="2.85"/><circle cx="494.5" cy="990.8" r="2.85"/><circle cx="473.1" cy="1019.7" r="2.85"/><circle cx="470.7" cy="967.9" r="2.85"/><circle cx="496.5" cy="984.4" r="2.85"/><circle cx="477.4" cy="997.8" r="2.85"/><circle cx="473.5" cy="957.2" r="2.85"/><circle cx="484.8" cy="970.3" r="2.85"/><circle cx="466.8" cy="968.4" r="2.85"/><circle cx="495" cy="961.6" r="2.85"/><circle cx="486.9" cy="971.2" r="2.85"/><circle cx="482.7" cy="1015.9" r="2.85"/><circle cx="468.5" cy="995.5" r="2.85"/><circle cx="489.1" cy="965.5" r="2.85"/><circle cx="493.5" cy="1004.5" r="2.85"/><circle cx="488.4" cy="985.5" r="2.85"/><circle cx="493.2" cy="977.9" r="2.85"/><circle cx="460.5" cy="956.7" r="2.85"/><circle cx="486.4" cy="959.6" r="2.85"/><circle cx="491.3" cy="967.6" r="2.85"/><circle cx="475.8" cy="990.7" r="2.85"/><circle cx="460" cy="967.3" r="2.85"/><circle cx="478.5" cy="975.2" r="2.85"/><circle cx="466.5" cy="990.1" r="2.85"/><circle cx="458.1" cy="958.4" r="2.85"/><circle cx="494.1" cy="975.9" r="2.85"/><circle cx="490" cy="1004.2" r="2.85"/><circle cx="482.1" cy="960.3" r="2.85"/><circle cx="486.7" cy="992.3" r="2.85"/><circle cx="483.6" cy="973.8" r="2.85"/><circle cx="475.3" cy="1022" r="2.85"/><circle cx="461.7" cy="986.7" r="2.85"/><circle cx="468.3" cy="1008.7" r="2.85"/><circle cx="477" cy="1009.3" r="2.85"/><circle cx="480" cy="1030.9" r="2.85"/><circle cx="468.8" cy="942.8" r="2.85"/><circle cx="461.9" cy="989.9" r="2.85"/><circle cx="470.5" cy="981.3" r="2.85"/><circle cx="464.2" cy="963.5" r="2.85"/><circle cx="493.9" cy="989.2" r="2.85"/><circle cx="465.6" cy="975.6" r="2.85"/><circle cx="472.5" cy="1018.2" r="2.85"/><circle cx="478.4" cy="982.2" r="2.85"/><circle cx="466.9" cy="996.2" r="2.85"/><circle cx="476.6" cy="975.8" r="2.85"/><circle cx="478.9" cy="982.6" r="2.85"/><circle cx="458.8" cy="1018.8" r="2.85"/><circle cx="494.6" cy="1029.6" r="2.85"/><circle cx="478.3" cy="1010.3" r="2.85"/><circle cx="462.7" cy="971" r="2.85"/><circle cx="496" cy="977.4" r="2.85"/><circle cx="463.5" cy="977.9" r="2.85"/><circle cx="485.8" cy="1033.5" r="2.85"/><circle cx="476.1" cy="1047.1" r="2.85"/><circle cx="467.1" cy="1001.3" r="2.85"/><circle cx="472" cy="994.3" r="2.85"/><circle cx="476" cy="1000.8" r="2.85"/><circle cx="471.6" cy="979" r="2.85"/><circle cx="466.7" cy="990.5" r="2.85"/><circle cx="473.4" cy="1014.3" r="2.85"/><circle cx="474.2" cy="1007.3" r="2.85"/><circle cx="484.2" cy="983.4" r="2.85"/><circle cx="464.7" cy="984.9" r="2.85"/><circle cx="458.6" cy="988.2" r="2.85"/><circle cx="490.1" cy="940.4" r="2.85"/><circle cx="459.6" cy="992.7" r="2.85"/><circle cx="482" cy="983.9" r="2.85"/><circle cx="478.7" cy="1010" r="2.85"/><circle cx="495.7" cy="995.1" r="2.85"/><circle cx="464.4" cy="975.5" r="2.85"/><circle cx="492.2" cy="974.6" r="2.85"/><circle cx="462" cy="990.3" r="2.85"/><circle cx="463.7" cy="978.2" r="2.85"/><circle cx="482.9" cy="985.4" r="2.85"/><circle cx="463.4" cy="1030.5" r="2.85"/><circle cx="480.2" cy="1047.1" r="2.85"/><circle cx="483.7" cy="939.6" r="2.85"/><circle cx="461.8" cy="969.3" r="2.85"/><circle cx="488.3" cy="987.9" r="2.85"/><circle cx="473.7" cy="1027.2" r="2.85"/><circle cx="495.4" cy="1016.5" r="2.85"/><circle cx="457.3" cy="958.7" r="2.85"/><circle cx="460" cy="1047.1" r="2.85"/><circle cx="481.5" cy="994.3" r="2.85"/><circle cx="467.1" cy="968.5" r="2.85"/><circle cx="472.9" cy="983.5" r="2.85"/><circle cx="493" cy="970.8" r="2.85"/><circle cx="470.5" cy="989.7" r="2.85"/><circle cx="458.9" cy="938" r="2.85"/><circle cx="462.5" cy="1010.8" r="2.85"/><circle cx="479" cy="1018.5" r="2.85"/><circle cx="487.7" cy="980.8" r="2.85"/><circle cx="487" cy="957.3" r="2.85"/><circle cx="475.6" cy="987.9" r="2.85"/><circle cx="466.4" cy="964.9" r="2.85"/><circle cx="462" cy="999.2" r="2.85"/><circle cx="465.7" cy="1014.4" r="2.85"/><circle cx="464.8" cy="957.9" r="2.85"/><circle cx="493" cy="954.5" r="2.85"/><circle cx="473.1" cy="955.2" r="2.85"/><circle cx="461.5" cy="997" r="2.85"/><circle cx="482.3" cy="1013.7" r="2.85"/><circle cx="475.1" cy="1014.1" r="2.85"/><circle cx="458" cy="991.9" r="2.85"/><circle cx="495.9" cy="974.3" r="2.85"/><circle cx="494.5" cy="975.9" r="2.85"/><circle cx="467.3" cy="1020.2" r="2.85"/><circle cx="490" cy="982.4" r="2.85"/><circle cx="475" cy="986.2" r="2.85"/><circle cx="483.7" cy="984.7" r="2.85"/><circle cx="482.9" cy="987.1" r="2.85"/><circle cx="486" cy="991.4" r="2.85"/><circle cx="474.4" cy="974.1" r="2.85"/><circle cx="462.7" cy="983.9" r="2.85"/><circle cx="488.9" cy="981.8" r="2.85"/><circle cx="474.4" cy="1003" r="2.85"/><circle cx="474.4" cy="978.2" r="2.85"/><circle cx="487.1" cy="989.4" r="2.85"/><circle cx="484.1" cy="1035.9" r="2.85"/><circle cx="496.2" cy="976.4" r="2.85"/><circle cx="472.3" cy="992.9" r="2.85"/><circle cx="482.1" cy="967.3" r="2.85"/><circle cx="460.2" cy="990.4" r="2.85"/><circle cx="461.3" cy="988.8" r="2.85"/><circle cx="467" cy="982.1" r="2.85"/><circle cx="468" cy="986.8" r="2.85"/><circle cx="474.6" cy="997.2" r="2.85"/><circle cx="466" cy="1028.5" r="2.85"/><circle cx="494.1" cy="949" r="2.85"/><circle cx="473.9" cy="1023.5" r="2.85"/><circle cx="472.1" cy="994.7" r="2.85"/><circle cx="492.8" cy="972.8" r="2.85"/><circle cx="488.5" cy="978.6" r="2.85"/><circle cx="487.5" cy="974.6" r="2.85"/><circle cx="493.3" cy="970.5" r="2.85"/><circle cx="486.2" cy="960.6" r="2.85"/><circle cx="469" cy="980.3" r="2.85"/><circle cx="495.1" cy="933.8" r="2.85"/><circle cx="457.9" cy="1010.5" r="2.85"/><circle cx="492.6" cy="981.8" r="2.85"/><circle cx="473.5" cy="995.2" r="2.85"/><circle cx="470.3" cy="999.6" r="2.85"/><circle cx="475.7" cy="980.5" r="2.85"/><circle cx="472.8" cy="956.7" r="2.85"/><circle cx="491.1" cy="1003.5" r="2.85"/><circle cx="488.9" cy="1003.5" r="2.85"/><circle cx="486.6" cy="971.4" r="2.85"/><circle cx="466.1" cy="975.1" r="2.85"/><circle cx="474.4" cy="946.7" r="2.85"/><circle cx="459.8" cy="965.3" r="2.85"/><circle cx="486.4" cy="981.7" r="2.85"/><circle cx="458.5" cy="994.4" r="2.85"/><circle cx="472.6" cy="982" r="2.85"/><circle cx="462.9" cy="990.7" r="2.85"/><circle cx="490.8" cy="1018.6" r="2.85"/><circle cx="493.4" cy="986.4" r="2.85"/><circle cx="468.4" cy="990.7" r="2.85"/><circle cx="491.6" cy="992.1" r="2.85"/><circle cx="463.9" cy="996.8" r="2.85"/><circle cx="485.2" cy="952.1" r="2.85"/><circle cx="466.8" cy="972" r="2.85"/><circle cx="474.6" cy="967.1" r="2.85"/><circle cx="481.2" cy="1001.1" r="2.85"/><circle cx="470.8" cy="1010.7" r="2.85"/><circle cx="464.7" cy="993.3" r="2.85"/><circle cx="480.3" cy="981.4" r="2.85"/><circle cx="488.5" cy="1049.5" r="2.85"/><circle cx="496.5" cy="1051.9" r="2.85"/><circle cx="469.7" cy="1054.4" r="2.85"/><circle cx="467.1" cy="1056.8" r="2.85"/><circle cx="459.9" cy="1059.3" r="2.85"/><circle cx="465" cy="1061.7" r="2.85"/><circle cx="457.9" cy="1064.1" r="2.85"/><circle cx="466.8" cy="1066.6" r="2.85"/><circle cx="485.8" cy="1069" r="2.85"/><circle cx="461.4" cy="1070.5" r="2.85"/></g>
<g fill="#000" fill-opacity="0.75"><circle cx="562.5" cy="1009.6" r="2.85"/><circle cx="578.6" cy="984.1" r="2.85"/><circle cx="558.5" cy="962.3" r="2.85"/><circle cx="592.9" cy="970.6" r="2.85"/><circle cx="570.5" cy="967" r="2.85"/><circle cx="567.7" cy="971.5" r="2.85"/><circle cx="574.4" cy="1046.1" r="2.85"/><circle cx="560.6" cy="971.7" r="2.85"/><circle cx="591.6" cy="992.1" r="2.85"/><circle cx="595.4" cy="1004.3" r="2.85"/><circle cx="589.2" cy="1032.7" r="2.85"/><circle cx="579.3" cy="1045.6" r="2.85"/><circle cx="593.9" cy="1033.4" r="2.85"/><circle cx="569.6" cy="1000.9" r="2.85"/><circle cx="575" cy="1035" r="2.85"/><circle cx="563.3" cy="1025.8" r="2.85"/><circle cx="573.3" cy="1020.3" r="2.85"/><circle cx="593.4" cy="983.8" r="2.85"/><circle cx="582.9" cy="1009.8" r="2.85"/><circle cx="578.2" cy="1005" r="2.85"/><circle cx="577.8" cy="969.4" r="2.85"/><circle cx="581.7" cy="1010.7" r="2.85"/><circle cx="580.7" cy="985.5" r="2.85"/><circle cx="574.5" cy="1032" r="2.85"/><circle cx="576.8" cy="992.1" r="2.85"/><circle cx="560.5" cy="997.3" r="2.85"/><circle cx="574.1" cy="995.9" r="2.85"/><circle cx="583.3" cy="1015.4" r="2.85"/><circle cx="565.3" cy="1031.3" r="2.85"/><circle cx="567.5" cy="1010" r="2.85"/><circle cx="588.5" cy="1015.5" r="2.85"/><circle cx="561.8" cy="975.8" r="2.85"/><circle cx="564.2" cy="978.5" r="2.85"/><circle cx="589" cy="1035.7" r="2.85"/><circle cx="561.2" cy="984.8" r="2.85"/><circle cx="568.4" cy="1015.8" r="2.85"/><circle cx="592.7" cy="988.9" r="2.85"/><circle cx="572.9" cy="1015.9" r="2.85"/><circle cx="589" cy="1042.6" r="2.85"/><circle cx="586.9" cy="976.2" r="2.85"/><circle cx="557.2" cy="989.1" r="2.85"/><circle cx="565.2" cy="1036.3" r="2.85"/><circle cx="592.8" cy="1053.3" r="2.85"/><circle cx="569.2" cy="1017.6" r="2.85"/><circle cx="572.5" cy="1035.2" r="2.85"/><circle cx="593.7" cy="1012.1" r="2.85"/><circle cx="560.8" cy="984.9" r="2.85"/><circle cx="595.1" cy="966.3" r="2.85"/><circle cx="582.2" cy="1011.8" r="2.85"/><circle cx="581.5" cy="968.3" r="2.85"/><circle cx="556.5" cy="972.9" r="2.85"/><circle cx="581.6" cy="1014.4" r="2.85"/><circle cx="589.2" cy="1047.6" r="2.85"/><circle cx="572.1" cy="979.7" r="2.85"/><circle cx="559.3" cy="985.2" r="2.85"/><circle cx="561.7" cy="947" r="2.85"/><circle cx="559.5" cy="967.1" r="2.85"/><circle cx="573" cy="981.2" r="2.85"/><circle cx="589" cy="961.5" r="2.85"/><circle cx="558.8" cy="1031.7" r="2.85"/><circle cx="572.6" cy="995.4" r="2.85"/><circle cx="572.4" cy="1009" r="2.85"/><circle cx="572.3" cy="960.2" r="2.85"/><circle cx="577.4" cy="986.2" r="2.85"/><circle cx="577.8" cy="1071.5" r="2.85"/><circle cx="564.6" cy="968.3" r="2.85"/><circle cx="588.1" cy="1028" r="2.85"/><circle cx="577" cy="981.2" r="2.85"/><circle cx="570.5" cy="1015.5" r="2.85"/><circle cx="594.8" cy="994" r="2.85"/><circle cx="584.5" cy="984.3" r="2.85"/><circle cx="562.9" cy="995.2" r="2.85"/><circle cx="595" cy="1029" r="2.85"/><circle cx="579.5" cy="967.5" r="2.85"/><circle cx="570" cy="990.1" r="2.85"/><circle cx="565.9" cy="1000.3" r="2.85"/><circle cx="559.1" cy="982.6" r="2.85"/><circle cx="566.1" cy="1017.2" r="2.85"/><circle cx="567.9" cy="956.9" r="2.85"/><circle cx="570.1" cy="994.3" r="2.85"/><circle cx="595.8" cy="990.8" r="2.85"/><circle cx="580" cy="991.2" r="2.85"/><circle cx="564.1" cy="1027.8" r="2.85"/><circle cx="571.2" cy="1034.5" r="2.85"/><circle cx="573.7" cy="994.4" r="2.85"/><circle cx="559.7" cy="991.1" r="2.85"/><circle cx="575.1" cy="968.6" r="2.85"/><circle cx="576.7" cy="988.6" r="2.85"/><circle cx="592.7" cy="1032.3" r="2.85"/><circle cx="573.7" cy="986.8" r="2.85"/><circle cx="583.9" cy="979.9" r="2.85"/><circle cx="583.5" cy="976" r="2.85"/><circle cx="563.4" cy="991.5" r="2.85"/><circle cx="579" cy="1035.7" r="2.85"/><circle cx="574.3" cy="972.6" r="2.85"/><circle cx="562.9" cy="1023.2" r="2.85"/><circle cx="557.4" cy="985.6" r="2.85"/><circle cx="596.1" cy="1044.7" r="2.85"/><circle cx="560" cy="981.2" r="2.85"/><circle cx="591.7" cy="1024.5" r="2.85"/><circle cx="571" cy="974.3" r="2.85"/><circle cx="559.7" cy="959.5" r="2.85"/><circle cx="594.9" cy="972.4" r="2.85"/><circle cx="582.7" cy="1034.3" r="2.85"/><circle cx="572.5" cy="1028.6" r="2.85"/><circle cx="589.8" cy="1026.7" r="2.85"/><circle cx="584.6" cy="983.5" r="2.85"/><circle cx="573" cy="991.3" r="2.85"/><circle cx="585" cy="995.9" r="2.85"/><circle cx="585.8" cy="992.2" r="2.85"/><circle cx="563.3" cy="985.5" r="2.85"/><circle cx="585" cy="983.8" r="2.85"/><circle cx="592.9" cy="961.1" r="2.85"/><circle cx="583.8" cy="1001.5" r="2.85"/><circle cx="588.3" cy="994.8" r="2.85"/><circle cx="595.9" cy="1052" r="2.85"/><circle cx="588.2" cy="1038.4" r="2.85"/><circle cx="575.1" cy="1022.3" r="2.85"/><circle cx="578.8" cy="1034.9" r="2.85"/><circle cx="587" cy="994.5" r="2.85"/><circle cx="581.6" cy="975.4" r="2.85"/><circle cx="559.3" cy="1014" r="2.85"/><circle cx="558.8" cy="1015.7" r="2.85"/><circle cx="567.3" cy="1016.6" r="2.85"/><circle cx="589" cy="996.8" r="2.85"/><circle cx="565.3" cy="1017.7" r="2.85"/><circle cx="569.1" cy="989.5" r="2.85"/><circle cx="589.2" cy="992.6" r="2.85"/><circle cx="561.6" cy="991.6" r="2.85"/><circle cx="567.6" cy="981.5" r="2.85"/><circle cx="566.6" cy="999.3" r="2.85"/><circle cx="558.3" cy="996.6" r="2.85"/><circle cx="586" cy="959.9" r="2.85"/><circle cx="569.2" cy="1001.6" r="2.85"/><circle cx="572.7" cy="980.9" r="2.85"/><circle cx="569.7" cy="998.8" r="2.85"/><circle cx="559" cy="1015.1" r="2.85"/><circle cx="590.1" cy="1015.1" r="2.85"/><circle cx="561.8" cy="1025.9" r="2.85"/><circle cx="567.8" cy="999.9" r="2.85"/><circle cx="585.1" cy="866.5" r="2.85"/><circle cx="570.3" cy="1083.7" r="2.85"/><circle cx="576.6" cy="1086.1" r="2.85"/><circle cx="569.6" cy="1088.5" r="2.85"/><circle cx="578.7" cy="1091" r="2.85"/><circle cx="569.1" cy="1100.7" r="2.85"/><circle cx="574.6" cy="1103.2" r="2.85"/><circle cx="556.8" cy="1105.6" r="2.85"/></g>
<text x="436.44" y="1128.7" font-size="19.8" fill="#000" stroke="#000" stroke-width="0.36">Wilcoxon, p = 1.4e−07</text>
<line x1="742.2" y1="1087.54" x2="943.9" y2="1087.54" stroke="#ebebeb" stroke-width="1.1"/>
<line x1="742.2" y1="998.91" x2="943.9" y2="998.91" stroke="#ebebeb" stroke-width="1.1"/>
<line x1="742.2" y1="910.29" x2="943.9" y2="910.29" stroke="#ebebeb" stroke-width="1.1"/>
<line x1="742.2" y1="1131.85" x2="943.9" y2="1131.85" stroke="#e7e7e7" stroke-width="1.5"/>
<line x1="742.2" y1="1043.22" x2="943.9" y2="1043.22" stroke="#e7e7e7" stroke-width="1.5"/>
<line x1="742.2" y1="954.6" x2="943.9" y2="954.6" stroke="#e7e7e7" stroke-width="1.5"/>
<line x1="742.2" y1="865.98" x2="943.9" y2="865.98" stroke="#e7e7e7" stroke-width="1.5"/>
<line x1="797.21" y1="853" x2="797.21" y2="1141" stroke="#e7e7e7" stroke-width="1.5"/>
<line x1="888.89" y1="853" x2="888.89" y2="1141" stroke="#e7e7e7" stroke-width="1.5"/>
<text x="733.2" y="1139.3" font-size="20.8" fill="#4d4d4d" stroke="#4d4d4d" stroke-width="0.37" text-anchor="end">−5.0</text>
<text x="733.2" y="1050.67" font-size="20.8" fill="#4d4d4d" stroke="#4d4d4d" stroke-width="0.37" text-anchor="end">−2.5</text>
<text x="733.2" y="962.05" font-size="20.8" fill="#4d4d4d" stroke="#4d4d4d" stroke-width="0.37" text-anchor="end">0.0</text>
<text x="733.2" y="873.43" font-size="20.8" fill="#4d4d4d" stroke="#4d4d4d" stroke-width="0.37" text-anchor="end">2.5</text>
<text x="797.21" y="1169.3" font-size="25.3" fill="#4d4d4d" stroke="#4d4d4d" stroke-width="0.46" text-anchor="middle">Control</text>
<text x="888.89" y="1169.3" font-size="25.3" fill="#4d4d4d" stroke="#4d4d4d" stroke-width="0.46" text-anchor="middle">T1D</text>
<text x="843.05" y="836.7" font-size="28.5" fill="#000" stroke="#000" stroke-width="0.51" text-anchor="middle">MEPE</text>
<text x="687.6" y="997" font-size="19.5" fill="#000" stroke="#000" stroke-width="0.35" text-anchor="middle" transform="rotate(-90 687.6 997)">NPX</text>
<line x1="797.21" y1="926.24" x2="797.21" y2="945.91" stroke="#1e1e1e" stroke-width="1.8"/>
<line x1="797.21" y1="963.82" x2="797.21" y2="980.12" stroke="#1e1e1e" stroke-width="1.8"/>
<rect x="762.83" y="945.91" width="68.76" height="17.9" fill="#bad8e4" stroke="#222" stroke-width="1.8"/>
<line x1="762.83" y1="954.25" x2="831.59" y2="954.25" stroke="#222" stroke-width="3"/>
<circle cx="797.21" cy="865.98" r="3.9" fill="#2a2a2a"/>
<circle cx="797.21" cy="912.06" r="3.9" fill="#2a2a2a"/>
<circle cx="797.21" cy="984.73" r="3.9" fill="#2a2a2a"/>
<circle cx="797.21" cy="988.28" r="3.9" fill="#2a2a2a"/>
<circle cx="797.21" cy="991.82" r="3.9" fill="#2a2a2a"/>
<circle cx="797.21" cy="993.6" r="3.9" fill="#2a2a2a"/>
<circle cx="797.21" cy="1000.69" r="3.9" fill="#2a2a2a"/>
<circle cx="797.21" cy="1013.09" r="3.9" fill="#2a2a2a"/>
<circle cx="797.21" cy="1034.36" r="3.9" fill="#2a2a2a"/>
<circle cx="797.21" cy="1036.13" r="3.9" fill="#2a2a2a"/>
<line x1="888.89" y1="925.89" x2="888.89" y2="952.47" stroke="#1e1e1e" stroke-width="1.8"/>
<line x1="888.89" y1="974.1" x2="888.89" y2="1000.33" stroke="#1e1e1e" stroke-width="1.8"/>
<rect x="854.51" y="952.47" width="68.76" height="21.62" fill="#bad8e4" stroke="#222" stroke-width="1.8"/>
<line x1="854.51" y1="963.82" x2="923.27" y2="963.82" stroke="#222" stroke-width="3"/>
<circle cx="888.89" cy="865.98" r="3.9" fill="#2a2a2a"/>
<circle cx="888.89" cy="1007.77" r="3.9" fill="#2a2a2a"/>
<circle cx="888.89" cy="1039.68" r="3.9" fill="#2a2a2a"/>
<circle cx="888.89" cy="1078.67" r="3.9" fill="#2a2a2a"/>
<circle cx="888.89" cy="1099.94" r="3.9" fill="#2a2a2a"/>
<g fill="#000" fill-opacity="0.75"><circle cx="807.6" cy="951.8" r="2.85"/><circle cx="805.6" cy="953.3" r="2.85"/><circle cx="794.9" cy="966.3" r="2.85"/><circle cx="811.4" cy="971.4" r="2.85"/><circle cx="782.4" cy="943.5" r="2.85"/><circle cx="806" cy="957.1" r="2.85"/><circle cx="800.7" cy="951.5" r="2.85"/><circle cx="804.5" cy="961.7" r="2.85"/><circle cx="781.3" cy="975.8" r="2.85"/><circle cx="814.4" cy="969.5" r="2.85"/><circle cx="780" cy="939.2" r="2.85"/><circle cx="785.4" cy="965.3" r="2.85"/><circle cx="797.8" cy="960.6" r="2.85"/><circle cx="799.9" cy="971.1" r="2.85"/><circle cx="785.4" cy="962.7" r="2.85"/><circle cx="789.4" cy="960.5" r="2.85"/><circle cx="812.4" cy="958.3" r="2.85"/><circle cx="790.7" cy="956.2" r="2.85"/><circle cx="795.2" cy="964" r="2.85"/><circle cx="783" cy="963.3" r="2.85"/><circle cx="799.7" cy="955.4" r="2.85"/><circle cx="804.6" cy="951.1" r="2.85"/><circle cx="806" cy="957.2" r="2.85"/><circle cx="787.4" cy="935.7" r="2.85"/><circle cx="792.4" cy="952.5" r="2.85"/><circle cx="802.9" cy="953.1" r="2.85"/><circle cx="814.6" cy="964.2" r="2.85"/><circle cx="807.1" cy="943" r="2.85"/><circle cx="786.9" cy="967.4" r="2.85"/><circle cx="781.3" cy="972.4" r="2.85"/><circle cx="790.9" cy="967" r="2.85"/><circle cx="798.3" cy="947.5" r="2.85"/><circle cx="788.8" cy="968.4" r="2.85"/><circle cx="807.8" cy="940.3" r="2.85"/><circle cx="788.3" cy="955.6" r="2.85"/><circle cx="783.4" cy="971.5" r="2.85"/><circle cx="801" cy="958.5" r="2.85"/><circle cx="806.7" cy="935.3" r="2.85"/><circle cx="786.4" cy="966" r="2.85"/><circle cx="791.1" cy="969.8" r="2.85"/><circle cx="788.4" cy="948.8" r="2.85"/><circle cx="779.9" cy="940.2" r="2.85"/><circle cx="803.9" cy="943.1" r="2.85"/><circle cx="780.7" cy="959.9" r="2.85"/><circle cx="801.3" cy="952.8" r="2.85"/><circle cx="801.9" cy="951.1" r="2.85"/><circle cx="798.3" cy="941.5" r="2.85"/><circle cx="780.4" cy="931.6" r="2.85"/><circle cx="780.2" cy="956.8" r="2.85"/><circle cx="797.8" cy="940.3" r="2.85"/><circle cx="796.9" cy="960.1" r="2.85"/><circle cx="779.4" cy="947.9" r="2.85"/><circle cx="779.3" cy="966.6" r="2.85"/><circle cx="807.2" cy="965.2" r="2.85"/><circle cx="790.8" cy="950" r="2.85"/><circle cx="805.2" cy="966.3" r="2.85"/><circle cx="786.2" cy="944.5" r="2.85"/><circle cx="788.6" cy="963.1" r="2.85"/><circle cx="811.8" cy="954.2" r="2.85"/><circle cx="786.1" cy="956.4" r="2.85"/><circle cx="793.8" cy="960" r="2.85"/><circle cx="797.2" cy="953.5" r="2.85"/><circle cx="805" cy="942.5" r="2.85"/><circle cx="790.6" cy="926.2" r="2.85"/><circle cx="802.7" cy="968.8" r="2.85"/><circle cx="787" cy="951.4" r="2.85"/><circle cx="803.9" cy="957.8" r="2.85"/><circle cx="779.7" cy="966.4" r="2.85"/><circle cx="785.7" cy="951.6" r="2.85"/><circle cx="781.1" cy="966.2" r="2.85"/><circle cx="782.6" cy="956.4" r="2.85"/><circle cx="806.3" cy="940.9" r="2.85"/><circle cx="795.9" cy="975.8" r="2.85"/><circle cx="807.6" cy="952.1" r="2.85"/><circle cx="814.6" cy="949.6" r="2.85"/><circle cx="785.7" cy="966.8" r="2.85"/><circle cx="807.1" cy="948.7" r="2.85"/><circle cx="814.5" cy="950.8" r="2.85"/><circle cx="790.2" cy="960.2" r="2.85"/><circle cx="781.7" cy="941.1" r="2.85"/><circle cx="795.8" cy="969.8" r="2.85"/><circle cx="798.8" cy="947.2" r="2.85"/><circle cx="804.1" cy="958.6" r="2.85"/><circle cx="799.8" cy="967.7" r="2.85"/><circle cx="789.9" cy="957.8" r="2.85"/><circle cx="784.8" cy="960.2" r="2.85"/><circle cx="791.3" cy="945.2" r="2.85"/><circle cx="796.1" cy="971.4" r="2.85"/><circle cx="785.7" cy="958" r="2.85"/><circle cx="789.8" cy="961.7" r="2.85"/><circle cx="811.3" cy="937.5" r="2.85"/><circle cx="794.4" cy="968.2" r="2.85"/><circle cx="783.5" cy="942.7" r="2.85"/><circle cx="803.3" cy="973.6" r="2.85"/><circle cx="791.9" cy="950.9" r="2.85"/><circle cx="797.8" cy="957.2" r="2.85"/><circle cx="793.3" cy="950.5" r="2.85"/><circle cx="783.1" cy="964.7" r="2.85"/><circle cx="805.9" cy="975.3" r="2.85"/><circle cx="799.7" cy="971.8" r="2.85"/><circle cx="815.1" cy="940.2" r="2.85"/><circle cx="779" cy="952.6" r="2.85"/><circle cx="800" cy="966.1" r="2.85"/><circle cx="794.5" cy="944.4" r="2.85"/><circle cx="794.8" cy="965.1" r="2.85"/><circle cx="805.4" cy="965.1" r="2.85"/><circle cx="787.8" cy="969.1" r="2.85"/><circle cx="793.5" cy="941.6" r="2.85"/><circle cx="783.8" cy="933.6" r="2.85"/><circle cx="799.7" cy="967" r="2.85"/><circle cx="794.9" cy="951.7" r="2.85"/><circle cx="780.4" cy="943.7" r="2.85"/><circle cx="787.3" cy="932.1" r="2.85"/><circle cx="793.4" cy="979.2" r="2.85"/><circle cx="798.4" cy="953.6" r="2.85"/><circle cx="782.3" cy="947.4" r="2.85"/><circle cx="801.6" cy="971.4" r="2.85"/><circle cx="808.9" cy="950.3" r="2.85"/><circle cx="791.1" cy="952.9" r="2.85"/><circle cx="781.3" cy="946.4" r="2.85"/><circle cx="784.2" cy="963.8" r="2.85"/><circle cx="806.9" cy="950.2" r="2.85"/><circle cx="798.4" cy="964" r="2.85"/><circle cx="783.9" cy="947.9" r="2.85"/><circle cx="785" cy="953.5" r="2.85"/><circle cx="809.4" cy="960.9" r="2.85"/><circle cx="803.8" cy="970.9" r="2.85"/><circle cx="804.4" cy="936.9" r="2.85"/><circle cx="784" cy="942.4" r="2.85"/><circle cx="815.2" cy="944.8" r="2.85"/><circle cx="788.2" cy="964.5" r="2.85"/><circle cx="791.9" cy="960.6" r="2.85"/><circle cx="787.5" cy="936.7" r="2.85"/><circle cx="813.4" cy="946.2" r="2.85"/><circle cx="802" cy="966.1" r="2.85"/><circle cx="799.2" cy="954.9" r="2.85"/><circle cx="794.1" cy="953.7" r="2.85"/><circle cx="805.2" cy="958.4" r="2.85"/><circle cx="796.1" cy="966.9" r="2.85"/><circle cx="795.8" cy="940.9" r="2.85"/><circle cx="784.4" cy="948.1" r="2.85"/><circle cx="809.1" cy="958.3" r="2.85"/><circle cx="781.3" cy="972.2" r="2.85"/><circle cx="812.2" cy="963.8" r="2.85"/><circle cx="812.5" cy="955.6" r="2.85"/><circle cx="798.1" cy="944.8" r="2.85"/><circle cx="784.9" cy="960.7" r="2.85"/><circle cx="786.9" cy="942.4" r="2.85"/><circle cx="784" cy="953.6" r="2.85"/><circle cx="804.6" cy="965.1" r="2.85"/><circle cx="792.2" cy="980.1" r="2.85"/><circle cx="814.9" cy="968.8" r="2.85"/><circle cx="791.4" cy="971.4" r="2.85"/><circle cx="791" cy="957.6" r="2.85"/><circle cx="803.7" cy="951.1" r="2.85"/><circle cx="811.1" cy="939.4" r="2.85"/><circle cx="798.2" cy="955.5" r="2.85"/><circle cx="783.4" cy="968.6" r="2.85"/><circle cx="785.1" cy="929.6" r="2.85"/><circle cx="805.1" cy="951.3" r="2.85"/><circle cx="807" cy="959.1" r="2.85"/><circle cx="815.2" cy="959" r="2.85"/><circle cx="799.9" cy="970.2" r="2.85"/><circle cx="807.6" cy="947.3" r="2.85"/><circle cx="803.6" cy="950.5" r="2.85"/><circle cx="799" cy="937.3" r="2.85"/><circle cx="808.5" cy="942.3" r="2.85"/><circle cx="786.3" cy="944.7" r="2.85"/><circle cx="784.5" cy="940.7" r="2.85"/><circle cx="790.2" cy="959.3" r="2.85"/><circle cx="793" cy="961.5" r="2.85"/><circle cx="813.7" cy="955.9" r="2.85"/><circle cx="809.1" cy="969.2" r="2.85"/><circle cx="806.2" cy="957.2" r="2.85"/><circle cx="811.6" cy="959.8" r="2.85"/><circle cx="792.9" cy="946.8" r="2.85"/><circle cx="815" cy="955.3" r="2.85"/><circle cx="812.2" cy="974.8" r="2.85"/><circle cx="785.7" cy="954.7" r="2.85"/><circle cx="792.7" cy="938.9" r="2.85"/><circle cx="790.2" cy="974.2" r="2.85"/><circle cx="786" cy="965" r="2.85"/><circle cx="813.2" cy="954.8" r="2.85"/><circle cx="793.2" cy="969.8" r="2.85"/><circle cx="810.7" cy="962.8" r="2.85"/><circle cx="800.7" cy="954.2" r="2.85"/><circle cx="781.1" cy="969.7" r="2.85"/><circle cx="794.8" cy="951.3" r="2.85"/><circle cx="807.5" cy="949.8" r="2.85"/><circle cx="790.6" cy="969.3" r="2.85"/><circle cx="789.6" cy="954.6" r="2.85"/><circle cx="782.3" cy="942.3" r="2.85"/><circle cx="796.3" cy="957.4" r="2.85"/><circle cx="813.4" cy="949.5" r="2.85"/><circle cx="779.6" cy="946.9" r="2.85"/><circle cx="811.4" cy="958.2" r="2.85"/><circle cx="800.9" cy="943.2" r="2.85"/><circle cx="789.2" cy="950" r="2.85"/><circle cx="811.8" cy="966.9" r="2.85"/><circle cx="812.9" cy="948.3" r="2.85"/><circle cx="814.6" cy="944.4" r="2.85"/><circle cx="795.8" cy="945" r="2.85"/><circle cx="794.1" cy="963.9" r="2.85"/><circle cx="803.2" cy="949" r="2.85"/><circle cx="811.5" cy="939.2" r="2.85"/><circle cx="791.7" cy="951.8" r="2.85"/><circle cx="791" cy="941.1" r="2.85"/><circle cx="793.9" cy="939.9" r="2.85"/><circle cx="779.6" cy="955.2" r="2.85"/><circle cx="809.7" cy="946.5" r="2.85"/><circle cx="795.7" cy="958.8" r="2.85"/><circle cx="796" cy="942.2" r="2.85"/><circle cx="802.1" cy="955.9" r="2.85"/><circle cx="808.5" cy="962.5" r="2.85"/><circle cx="804.7" cy="955" r="2.85"/><circle cx="791.1" cy="955.7" r="2.85"/><circle cx="789.7" cy="949.8" r="2.85"/><circle cx="791.1" cy="948.8" r="2.85"/><circle cx="798.4" cy="968.2" r="2.85"/><circle cx="808.6" cy="963.8" r="2.85"/><circle cx="779.2" cy="950.1" r="2.85"/><circle cx="801.1" cy="948.6" r="2.85"/><circle cx="809.8" cy="953.5" r="2.85"/><circle cx="799.5" cy="926.2" r="2.85"/><circle cx="792.8" cy="941.6" r="2.85"/><circle cx="796.3" cy="955.6" r="2.85"/><circle cx="797.7" cy="945.5" r="2.85"/><circle cx="801.9" cy="939.3" r="2.85"/><circle cx="781.6" cy="949.9" r="2.85"/><circle cx="807.9" cy="973" r="2.85"/><circle cx="799.1" cy="953.2" r="2.85"/><circle cx="789" cy="953.7" r="2.85"/><circle cx="812.4" cy="931.1" r="2.85"/><circle cx="793.5" cy="973.7" r="2.85"/><circle cx="807.3" cy="937.1" r="2.85"/><circle cx="789.8" cy="956.5" r="2.85"/><circle cx="799" cy="943.3" r="2.85"/><circle cx="785.8" cy="958.4" r="2.85"/><circle cx="788.9" cy="952.1" r="2.85"/><circle cx="790.9" cy="941.2" r="2.85"/><circle cx="784.1" cy="953.2" r="2.85"/><circle cx="806.8" cy="942" r="2.85"/><circle cx="795.4" cy="955.3" r="2.85"/><circle cx="791.6" cy="960" r="2.85"/><circle cx="800.3" cy="957.3" r="2.85"/><circle cx="787.3" cy="961.3" r="2.85"/><circle cx="794.9" cy="955.8" r="2.85"/><circle cx="799.7" cy="938.8" r="2.85"/><circle cx="801.5" cy="967.9" r="2.85"/><circle cx="794.4" cy="972.1" r="2.85"/><circle cx="806.1" cy="954.3" r="2.85"/><circle cx="810.7" cy="935.5" r="2.85"/><circle cx="814.2" cy="942" r="2.85"/><circle cx="799.4" cy="939.1" r="2.85"/><circle cx="814.3" cy="939.9" r="2.85"/><circle cx="813.3" cy="964.2" r="2.85"/><circle cx="802.9" cy="952.6" r="2.85"/><circle cx="783.8" cy="980.1" r="2.85"/><circle cx="802.4" cy="962.6" r="2.85"/><circle cx="798.4" cy="946.5" r="2.85"/><circle cx="804.6" cy="971.1" r="2.85"/><circle cx="788.8" cy="975.4" r="2.85"/><circle cx="815.3" cy="968.9" r="2.85"/><circle cx="791.6" cy="951.3" r="2.85"/><circle cx="815.5" cy="940.6" r="2.85"/><circle cx="789" cy="926.2" r="2.85"/><circle cx="796.4" cy="937.9" r="2.85"/><circle cx="803.9" cy="970.7" r="2.85"/><circle cx="788.4" cy="977.5" r="2.85"/><circle cx="793.8" cy="952" r="2.85"/><circle cx="803.1" cy="941.6" r="2.85"/><circle cx="806.5" cy="971.5" r="2.85"/><circle cx="812.5" cy="961.1" r="2.85"/><circle cx="799.1" cy="960.1" r="2.85"/><circle cx="814.2" cy="953.3" r="2.85"/><circle cx="789.2" cy="866" r="2.85"/><circle cx="801.2" cy="912.1" r="2.85"/><circle cx="806.7" cy="984.7" r="2.85"/><circle cx="781.9" cy="988.3" r="2.85"/><circle cx="807.7" cy="991.8" r="2.85"/><circle cx="808.9" cy="993.6" r="2.85"/><circle cx="799.5" cy="1000.7" r="2.85"/><circle cx="812.7" cy="1013.1" r="2.85"/><circle cx="804.5" cy="1034.4" r="2.85"/><circle cx="792.3" cy="1036.1" r="2.85"/></g>
<g fill="#000" fill-opacity="0.75"><circle cx="894" cy="976" r="2.85"/><circle cx="900" cy="960.4" r="2.85"/><circle cx="877.8" cy="981" r="2.85"/><circle cx="893.9" cy="998" r="2.85"/><circle cx="875.7" cy="987.1" r="2.85"/><circle cx="901.3" cy="956.9" r="2.85"/><circle cx="897.3" cy="952.2" r="2.85"/><circle cx="904.8" cy="953.2" r="2.85"/><circle cx="881" cy="956.6" r="2.85"/><circle cx="876.8" cy="981.2" r="2.85"/><circle cx="891.5" cy="951.9" r="2.85"/><circle cx="872.7" cy="945.4" r="2.85"/><circle cx="900.7" cy="973.9" r="2.85"/><circle cx="878.1" cy="948.3" r="2.85"/><circle cx="875.4" cy="968.8" r="2.85"/><circle cx="876" cy="960" r="2.85"/><circle cx="896.4" cy="957" r="2.85"/><circle cx="872.4" cy="984.6" r="2.85"/><circle cx="886" cy="941" r="2.85"/><circle cx="877.2" cy="976" r="2.85"/><circle cx="899.2" cy="964.8" r="2.85"/><circle cx="872.5" cy="970.7" r="2.85"/><circle cx="877.8" cy="955.4" r="2.85"/><circle cx="898.9" cy="955.9" r="2.85"/><circle cx="889.5" cy="962.8" r="2.85"/><circle cx="874.8" cy="941.7" r="2.85"/><circle cx="906.9" cy="958.4" r="2.85"/><circle cx="884.2" cy="969.3" r="2.85"/><circle cx="885.9" cy="1000.3" r="2.85"/><circle cx="897.7" cy="967.5" r="2.85"/><circle cx="888.6" cy="967.6" r="2.85"/><circle cx="901" cy="976.2" r="2.85"/><circle cx="890.2" cy="976.1" r="2.85"/><circle cx="879.6" cy="953.1" r="2.85"/><circle cx="890.2" cy="946.8" r="2.85"/><circle cx="901.3" cy="935.1" r="2.85"/><circle cx="880.8" cy="945.4" r="2.85"/><circle cx="893.9" cy="974" r="2.85"/><circle cx="891.8" cy="958.8" r="2.85"/><circle cx="896" cy="982.9" r="2.85"/><circle cx="883.8" cy="951.1" r="2.85"/><circle cx="878.9" cy="957.1" r="2.85"/><circle cx="894.9" cy="972.5" r="2.85"/><circle cx="901.6" cy="964.8" r="2.85"/><circle cx="887.8" cy="967" r="2.85"/><circle cx="875.6" cy="972.9" r="2.85"/><circle cx="900" cy="943" r="2.85"/><circle cx="889.9" cy="925.9" r="2.85"/><circle cx="895.6" cy="949.8" r="2.85"/><circle cx="874.3" cy="946.6" r="2.85"/><circle cx="899.3" cy="960.4" r="2.85"/><circle cx="884.2" cy="968.5" r="2.85"/><circle cx="903.2" cy="930.9" r="2.85"/><circle cx="879.6" cy="968.7" r="2.85"/><circle cx="870.8" cy="956.4" r="2.85"/><circle cx="882.3" cy="965" r="2.85"/><circle cx="897.1" cy="953.2" r="2.85"/><circle cx="897" cy="963.9" r="2.85"/><circle cx="901.6" cy="953.1" r="2.85"/><circle cx="878.3" cy="981.6" r="2.85"/><circle cx="892.3" cy="964.7" r="2.85"/><circle cx="873.2" cy="942.3" r="2.85"/><circle cx="878.8" cy="978.4" r="2.85"/><circle cx="872.2" cy="973.3" r="2.85"/><circle cx="893.6" cy="942.3" r="2.85"/><circle cx="903.4" cy="956.3" r="2.85"/><circle cx="892.6" cy="946.4" r="2.85"/><circle cx="892.7" cy="994.8" r="2.85"/><circle cx="903.7" cy="960.7" r="2.85"/><circle cx="882.6" cy="981.7" r="2.85"/><circle cx="891" cy="983.3" r="2.85"/><circle cx="900.2" cy="956.2" r="2.85"/><circle cx="877.7" cy="944.9" r="2.85"/><circle cx="896.3" cy="984.8" r="2.85"/><circle cx="873.4" cy="979.5" r="2.85"/><circle cx="884.1" cy="972.1" r="2.85"/><circle cx="877.3" cy="965.1" r="2.85"/><circle cx="886.4" cy="982.5" r="2.85"/><circle cx="878" cy="930" r="2.85"/><circle cx="872.8" cy="953.3" r="2.85"/><circle cx="886.9" cy="968.7" r="2.85"/><circle cx="884.9" cy="971.2" r="2.85"/><circle cx="897.5" cy="929.1" r="2.85"/><circle cx="871.1" cy="930.3" r="2.85"/><circle cx="893.9" cy="970.8" r="2.85"/><circle cx="872.2" cy="957.4" r="2.85"/><circle cx="888.4" cy="943.9" r="2.85"/><circle cx="871.3" cy="980.6" r="2.85"/><circle cx="904" cy="972.3" r="2.85"/><circle cx="888.4" cy="942.6" r="2.85"/><circle cx="888.1" cy="974" r="2.85"/><circle cx="873.2" cy="970" r="2.85"/><circle cx="899.4" cy="982.9" r="2.85"/><circle cx="880.3" cy="974.9" r="2.85"/><circle cx="887.8" cy="951.9" r="2.85"/><circle cx="897" cy="975.8" r="2.85"/><circle cx="899.6" cy="982.4" r="2.85"/><circle cx="884.7" cy="973.1" r="2.85"/><circle cx="872.8" cy="936.9" r="2.85"/><circle cx="906.7" cy="960.5" r="2.85"/><circle cx="879.9" cy="972.1" r="2.85"/><circle cx="872.1" cy="960.9" r="2.85"/><circle cx="893.3" cy="956" r="2.85"/><circle cx="902.6" cy="961.5" r="2.85"/><circle cx="873.8" cy="989.4" r="2.85"/><circle cx="872.2" cy="958.5" r="2.85"/><circle cx="895.4" cy="966.9" r="2.85"/><circle cx="891.6" cy="949.9" r="2.85"/><circle cx="880.1" cy="983.3" r="2.85"/><circle cx="880.3" cy="947" r="2.85"/><circle cx="898.7" cy="971.2" r="2.85"/><circle cx="871.3" cy="988.2" r="2.85"/><circle cx="879.4" cy="943.2" r="2.85"/><circle cx="883.8" cy="971.6" r="2.85"/><circle cx="898.9" cy="957.4" r="2.85"/><circle cx="882.1" cy="966.2" r="2.85"/><circle cx="872.5" cy="946.5" r="2.85"/><circle cx="897.8" cy="946.3" r="2.85"/><circle cx="895.8" cy="946.2" r="2.85"/><circle cx="875.2" cy="951.8" r="2.85"/><circle cx="897.3" cy="987" r="2.85"/><circle cx="893.4" cy="987.9" r="2.85"/><circle cx="884" cy="960.4" r="2.85"/><circle cx="891.8" cy="978" r="2.85"/><circle cx="889" cy="955.9" r="2.85"/><circle cx="899.7" cy="961" r="2.85"/><circle cx="905.4" cy="984.3" r="2.85"/><circle cx="883.1" cy="979.1" r="2.85"/><circle cx="873.9" cy="980.5" r="2.85"/><circle cx="883.9" cy="977.1" r="2.85"/><circle cx="892.5" cy="967" r="2.85"/><circle cx="880" cy="952.3" r="2.85"/><circle cx="876.2" cy="943.2" r="2.85"/><circle cx="878.3" cy="978.3" r="2.85"/><circle cx="901.7" cy="972.5" r="2.85"/><circle cx="896.7" cy="940.2" r="2.85"/><circle cx="875.2" cy="949.4" r="2.85"/><circle cx="881.5" cy="959.9" r="2.85"/><circle cx="880.5" cy="997.2" r="2.85"/><circle cx="874.7" cy="978.8" r="2.85"/><circle cx="901.3" cy="866" r="2.85"/><circle cx="881.2" cy="1007.8" r="2.85"/><circle cx="891.3" cy="1039.7" r="2.85"/><circle cx="884.6" cy="1078.7" r="2.85"/><circle cx="873.1" cy="1099.9" r="2.85"/></g>
<text x="760.05" y="1128.7" font-size="19.8" fill="#000" stroke="#000" stroke-width="0.36">Wilcoxon, p = 1.1e−0</text>
<line x1="1032.2" y1="1100.45" x2="1250.7" y2="1100.45" stroke="#ebebeb" stroke-width="1.1"/>
<line x1="1032.2" y1="1048.55" x2="1250.7" y2="1048.55" stroke="#ebebeb" stroke-width="1.1"/>
<line x1="1032.2" y1="996.65" x2="1250.7" y2="996.65" stroke="#ebebeb" stroke-width="1.1"/>
<line x1="1032.2" y1="944.75" x2="1250.7" y2="944.75" stroke="#ebebeb" stroke-width="1.1"/>
<line x1="1032.2" y1="892.85" x2="1250.7" y2="892.85" stroke="#ebebeb" stroke-width="1.1"/>
<line x1="1032.2" y1="1126.4" x2="1250.7" y2="1126.4" stroke="#e7e7e7" stroke-width="1.5"/>
<line x1="1032.2" y1="1074.5" x2="1250.7" y2="1074.5" stroke="#e7e7e7" stroke-width="1.5"/>
<line x1="1032.2" y1="1022.6" x2="1250.7" y2="1022.6" stroke="#e7e7e7" stroke-width="1.5"/>
<line x1="1032.2" y1="970.7" x2="1250.7" y2="970.7" stroke="#e7e7e7" stroke-width="1.5"/>
<line x1="1032.2" y1="918.8" x2="1250.7" y2="918.8" stroke="#e7e7e7" stroke-width="1.5"/>
<line x1="1032.2" y1="866.9" x2="1250.7" y2="866.9" stroke="#e7e7e7" stroke-width="1.5"/>
<line x1="1091.79" y1="853" x2="1091.79" y2="1141" stroke="#e7e7e7" stroke-width="1.5"/>
<line x1="1191.11" y1="853" x2="1191.11" y2="1141" stroke="#e7e7e7" stroke-width="1.5"/>
<text x="1023.2" y="1133.85" font-size="20.8" fill="#4d4d4d" stroke="#4d4d4d" stroke-width="0.37" text-anchor="end">−4</text>
<text x="1023.2" y="1081.95" font-size="20.8" fill="#4d4d4d" stroke="#4d4d4d" stroke-width="0.37" text-anchor="end">−2</text>
<text x="1023.2" y="1030.05" font-size="20.8" fill="#4d4d4d" stroke="#4d4d4d" stroke-width="0.37" text-anchor="end">0</text>
<text x="1023.2" y="978.15" font-size="20.8" fill="#4d4d4d" stroke="#4d4d4d" stroke-width="0.37" text-anchor="end">2</text>
<text x="1023.2" y="926.25" font-size="20.8" fill="#4d4d4d" stroke="#4d4d4d" stroke-width="0.37" text-anchor="end">4</text>
<text x="1023.2" y="874.35" font-size="20.8" fill="#4d4d4d" stroke="#4d4d4d" stroke-width="0.37" text-anchor="end">6</text>
<text x="1091.79" y="1169.3" font-size="25.3" fill="#4d4d4d" stroke="#4d4d4d" stroke-width="0.46" text-anchor="middle">Control</text>
<text x="1191.11" y="1169.3" font-size="25.3" fill="#4d4d4d" stroke="#4d4d4d" stroke-width="0.46" text-anchor="middle">T1D</text>
<text x="1141.45" y="836.7" font-size="28.5" fill="#000" stroke="#000" stroke-width="0.51" text-anchor="middle">ADA</text>
<text x="995" y="997" font-size="19.5" fill="#000" stroke="#000" stroke-width="0.35" text-anchor="middle" transform="rotate(-90 995 997)">NPX</text>
<line x1="1091.79" y1="963.69" x2="1091.79" y2="1006.77" stroke="#1e1e1e" stroke-width="1.8"/>
<line x1="1091.79" y1="1035.32" x2="1091.79" y2="1069.31" stroke="#1e1e1e" stroke-width="1.8"/>
<rect x="1054.55" y="1006.77" width="74.49" height="28.54" fill="#bad8e4" stroke="#222" stroke-width="1.8"/>
<line x1="1054.55" y1="1021.56" x2="1129.04" y2="1021.56" stroke="#222" stroke-width="3"/>
<circle cx="1091.79" cy="900.63" r="3.9" fill="#2a2a2a"/>
<circle cx="1091.79" cy="908.42" r="3.9" fill="#2a2a2a"/>
<circle cx="1091.79" cy="936.97" r="3.9" fill="#2a2a2a"/>
<circle cx="1091.79" cy="953.83" r="3.9" fill="#2a2a2a"/>
<circle cx="1091.79" cy="957.73" r="3.9" fill="#2a2a2a"/>
<line x1="1191.11" y1="973.04" x2="1191.11" y2="1014.56" stroke="#1e1e1e" stroke-width="1.8"/>
<line x1="1191.11" y1="1050.89" x2="1191.11" y2="1103.05" stroke="#1e1e1e" stroke-width="1.8"/>
<rect x="1153.86" y="1014.56" width="74.49" height="36.33" fill="#bad8e4" stroke="#222" stroke-width="1.8"/>
<line x1="1153.86" y1="1032.72" x2="1228.35" y2="1032.72" stroke="#222" stroke-width="3"/>
<circle cx="1191.11" cy="866.9" r="3.9" fill="#2a2a2a"/>
<circle cx="1191.11" cy="949.94" r="3.9" fill="#2a2a2a"/>
<circle cx="1191.11" cy="1113.42" r="3.9" fill="#2a2a2a"/>
<g fill="#000" fill-opacity="0.75"><circle cx="1110.4" cy="1029.8" r="2.85"/><circle cx="1084.6" cy="1014.6" r="2.85"/><circle cx="1097.9" cy="1022.3" r="2.85"/><circle cx="1095" cy="991.3" r="2.85"/><circle cx="1106.9" cy="995.7" r="2.85"/><circle cx="1072.5" cy="1048.6" r="2.85"/><circle cx="1096.6" cy="1024.8" r="2.85"/><circle cx="1106.5" cy="1005.8" r="2.85"/><circle cx="1110.3" cy="1030.8" r="2.85"/><circle cx="1088.5" cy="1003.6" r="2.85"/><circle cx="1091.1" cy="1014.1" r="2.85"/><circle cx="1105.3" cy="1008.4" r="2.85"/><circle cx="1109.1" cy="1022.8" r="2.85"/><circle cx="1081.3" cy="1014.8" r="2.85"/><circle cx="1107.2" cy="1009.9" r="2.85"/><circle cx="1076.7" cy="1049.5" r="2.85"/><circle cx="1074" cy="1039.7" r="2.85"/><circle cx="1073.2" cy="1041.5" r="2.85"/><circle cx="1074.9" cy="983.9" r="2.85"/><circle cx="1075.7" cy="1014.8" r="2.85"/><circle cx="1081.3" cy="1013.3" r="2.85"/><circle cx="1083.4" cy="1017.7" r="2.85"/><circle cx="1110.4" cy="1032.2" r="2.85"/><circle cx="1103.8" cy="1036.6" r="2.85"/><circle cx="1076" cy="1002.7" r="2.85"/><circle cx="1079.6" cy="1029.2" r="2.85"/><circle cx="1099.5" cy="986.2" r="2.85"/><circle cx="1095.8" cy="1017.2" r="2.85"/><circle cx="1089.6" cy="1019.5" r="2.85"/><circle cx="1088.8" cy="1026" r="2.85"/><circle cx="1101.6" cy="1023" r="2.85"/><circle cx="1091.4" cy="1020.7" r="2.85"/><circle cx="1100.5" cy="987.5" r="2.85"/><circle cx="1072.4" cy="969.2" r="2.85"/><circle cx="1075.9" cy="1043.8" r="2.85"/><circle cx="1079.3" cy="1015.8" r="2.85"/><circle cx="1095.5" cy="1005.8" r="2.85"/><circle cx="1095" cy="1039.3" r="2.85"/><circle cx="1106.4" cy="1034.4" r="2.85"/><circle cx="1107.2" cy="1030.8" r="2.85"/><circle cx="1104" cy="1066" r="2.85"/><circle cx="1085.1" cy="1007.1" r="2.85"/><circle cx="1074.3" cy="1022.4" r="2.85"/><circle cx="1107.1" cy="1023.3" r="2.85"/><circle cx="1108.9" cy="1019.6" r="2.85"/><circle cx="1072.9" cy="1015.9" r="2.85"/><circle cx="1072.1" cy="969.7" r="2.85"/><circle cx="1079" cy="1017.4" r="2.85"/><circle cx="1086.3" cy="1002.9" r="2.85"/><circle cx="1100" cy="1032" r="2.85"/><circle cx="1090.1" cy="1013.6" r="2.85"/><circle cx="1098.2" cy="1027.8" r="2.85"/><circle cx="1104.3" cy="1024.4" r="2.85"/><circle cx="1078.9" cy="1039.3" r="2.85"/><circle cx="1084.2" cy="1037.7" r="2.85"/><circle cx="1110.5" cy="1011.3" r="2.85"/><circle cx="1093.4" cy="1004.9" r="2.85"/><circle cx="1091.5" cy="1011.2" r="2.85"/><circle cx="1093.8" cy="1035.1" r="2.85"/><circle cx="1093.7" cy="1014.3" r="2.85"/><circle cx="1100.7" cy="1068.1" r="2.85"/><circle cx="1106.5" cy="1000.4" r="2.85"/><circle cx="1096.7" cy="1022.1" r="2.85"/><circle cx="1097" cy="1015.3" r="2.85"/><circle cx="1094.9" cy="995.4" r="2.85"/><circle cx="1081.4" cy="1029.9" r="2.85"/><circle cx="1102.3" cy="1000" r="2.85"/><circle cx="1079.8" cy="1030.2" r="2.85"/><circle cx="1082.2" cy="1009.2" r="2.85"/><circle cx="1085.4" cy="1029.5" r="2.85"/><circle cx="1092.8" cy="1014.5" r="2.85"/><circle cx="1104.4" cy="988.9" r="2.85"/><circle cx="1086.1" cy="1034.5" r="2.85"/><circle cx="1095.9" cy="1033.6" r="2.85"/><circle cx="1089.2" cy="1027.8" r="2.85"/><circle cx="1089.7" cy="1014.5" r="2.85"/><circle cx="1110.3" cy="963.7" r="2.85"/><circle cx="1097.7" cy="1032.9" r="2.85"/><circle cx="1072.6" cy="1059.1" r="2.85"/><circle cx="1106.3" cy="1034.4" r="2.85"/><circle cx="1091.8" cy="1051" r="2.85"/><circle cx="1110.2" cy="1032.5" r="2.85"/><circle cx="1076.9" cy="1020.6" r="2.85"/><circle cx="1110.1" cy="1039.9" r="2.85"/><circle cx="1098" cy="1034.9" r="2.85"/><circle cx="1096.6" cy="1056" r="2.85"/><circle cx="1091.7" cy="1017" r="2.85"/><circle cx="1110.3" cy="1036.2" r="2.85"/><circle cx="1105.2" cy="996.8" r="2.85"/><circle cx="1092.7" cy="997.6" r="2.85"/><circle cx="1086.8" cy="1038.3" r="2.85"/><circle cx="1087.4" cy="1028.5" r="2.85"/><circle cx="1090.9" cy="1019.7" r="2.85"/><circle cx="1079.1" cy="1004.1" r="2.85"/><circle cx="1081.2" cy="1052.4" r="2.85"/><circle cx="1098.2" cy="1022.3" r="2.85"/><circle cx="1102.6" cy="979.3" r="2.85"/><circle cx="1107.9" cy="1022.7" r="2.85"/><circle cx="1078.2" cy="1015.9" r="2.85"/><circle cx="1084.2" cy="1020.7" r="2.85"/><circle cx="1079.3" cy="1043.9" r="2.85"/><circle cx="1096.8" cy="999.7" r="2.85"/><circle cx="1083.9" cy="1014.8" r="2.85"/><circle cx="1084.6" cy="1017.1" r="2.85"/><circle cx="1074.6" cy="1004.7" r="2.85"/><circle cx="1102.6" cy="1003.3" r="2.85"/><circle cx="1109" cy="1056.2" r="2.85"/><circle cx="1077.3" cy="1010" r="2.85"/><circle cx="1091.4" cy="1032.6" r="2.85"/><circle cx="1103.1" cy="1017.1" r="2.85"/><circle cx="1106.5" cy="1035.3" r="2.85"/><circle cx="1085.9" cy="1038" r="2.85"/><circle cx="1074.3" cy="999.5" r="2.85"/><circle cx="1102.4" cy="1020.7" r="2.85"/><circle cx="1100.1" cy="1026.4" r="2.85"/><circle cx="1087.7" cy="1026.5" r="2.85"/><circle cx="1111" cy="1018.7" r="2.85"/><circle cx="1100.4" cy="1020.8" r="2.85"/><circle cx="1094.6" cy="1064.4" r="2.85"/><circle cx="1095.4" cy="1037.9" r="2.85"/><circle cx="1075.1" cy="1025.3" r="2.85"/><circle cx="1110.1" cy="1003.9" r="2.85"/><circle cx="1111.3" cy="990.1" r="2.85"/><circle cx="1078.5" cy="1038.9" r="2.85"/><circle cx="1102.5" cy="977.1" r="2.85"/><circle cx="1094.9" cy="1018.1" r="2.85"/><circle cx="1087.6" cy="1009.4" r="2.85"/><circle cx="1095.4" cy="1031.2" r="2.85"/><circle cx="1076.7" cy="1032.6" r="2.85"/><circle cx="1085.8" cy="988.1" r="2.85"/><circle cx="1085.2" cy="1024.6" r="2.85"/><circle cx="1099" cy="1022.2" r="2.85"/><circle cx="1092.9" cy="994.3" r="2.85"/><circle cx="1073" cy="981.6" r="2.85"/><circle cx="1083.4" cy="1048.6" r="2.85"/><circle cx="1087.2" cy="1023.8" r="2.85"/><circle cx="1086.4" cy="1020.1" r="2.85"/><circle cx="1103.2" cy="979.4" r="2.85"/><circle cx="1104.9" cy="964.8" r="2.85"/><circle cx="1109.7" cy="1020.9" r="2.85"/><circle cx="1109.3" cy="1011.5" r="2.85"/><circle cx="1091.3" cy="1000.5" r="2.85"/><circle cx="1094.1" cy="994.1" r="2.85"/><circle cx="1095.9" cy="1026.3" r="2.85"/><circle cx="1092.1" cy="1000.6" r="2.85"/><circle cx="1073.4" cy="1034" r="2.85"/><circle cx="1076.3" cy="1069.1" r="2.85"/><circle cx="1103.6" cy="1046.2" r="2.85"/><circle cx="1101.8" cy="1014.7" r="2.85"/><circle cx="1084.3" cy="1002.1" r="2.85"/><circle cx="1079.8" cy="1061.6" r="2.85"/><circle cx="1094.5" cy="1053.6" r="2.85"/><circle cx="1105.6" cy="1020" r="2.85"/><circle cx="1074.1" cy="1069.3" r="2.85"/><circle cx="1097.8" cy="1006.9" r="2.85"/><circle cx="1080.9" cy="996.2" r="2.85"/><circle cx="1082.1" cy="1069.3" r="2.85"/><circle cx="1089.5" cy="1002.1" r="2.85"/><circle cx="1078.4" cy="1023.1" r="2.85"/><circle cx="1101.5" cy="987.4" r="2.85"/><circle cx="1075.7" cy="1012.8" r="2.85"/><circle cx="1091.6" cy="1024" r="2.85"/><circle cx="1098.5" cy="1016.2" r="2.85"/><circle cx="1104.9" cy="998" r="2.85"/><circle cx="1093.9" cy="1014.6" r="2.85"/><circle cx="1077.1" cy="1017.9" r="2.85"/><circle cx="1104" cy="1046.7" r="2.85"/><circle cx="1109.2" cy="1008.1" r="2.85"/><circle cx="1073.1" cy="1018" r="2.85"/><circle cx="1108.3" cy="977.6" r="2.85"/><circle cx="1096.6" cy="1018.9" r="2.85"/><circle cx="1095.7" cy="1020.5" r="2.85"/><circle cx="1087.4" cy="1031.6" r="2.85"/><circle cx="1078.4" cy="1002.5" r="2.85"/><circle cx="1095.8" cy="1022.9" r="2.85"/><circle cx="1107.1" cy="1033.1" r="2.85"/><circle cx="1072.9" cy="982.8" r="2.85"/><circle cx="1094" cy="978.7" r="2.85"/><circle cx="1097.3" cy="1027.9" r="2.85"/><circle cx="1108.4" cy="1039" r="2.85"/><circle cx="1072.5" cy="993.3" r="2.85"/><circle cx="1086.6" cy="1035.6" r="2.85"/><circle cx="1077" cy="963.7" r="2.85"/><circle cx="1084.3" cy="1021.3" r="2.85"/><circle cx="1108" cy="996.9" r="2.85"/><circle cx="1079.1" cy="1043.8" r="2.85"/><circle cx="1086.2" cy="1019.1" r="2.85"/><circle cx="1104.6" cy="994" r="2.85"/><circle cx="1101.7" cy="1008.6" r="2.85"/><circle cx="1108.4" cy="1029.5" r="2.85"/><circle cx="1076.8" cy="963.7" r="2.85"/><circle cx="1074.8" cy="1001.9" r="2.85"/><circle cx="1080.7" cy="1023.2" r="2.85"/><circle cx="1091.6" cy="1030.9" r="2.85"/><circle cx="1098.9" cy="1024" r="2.85"/><circle cx="1076.6" cy="988.1" r="2.85"/><circle cx="1096.9" cy="1034.3" r="2.85"/><circle cx="1080.8" cy="1017.5" r="2.85"/><circle cx="1110.2" cy="1035.2" r="2.85"/><circle cx="1094" cy="990.2" r="2.85"/><circle cx="1077.5" cy="1021.8" r="2.85"/><circle cx="1105" cy="999" r="2.85"/><circle cx="1091.5" cy="1005.7" r="2.85"/><circle cx="1102.5" cy="1030.3" r="2.85"/><circle cx="1093.5" cy="1002.7" r="2.85"/><circle cx="1107.1" cy="997.3" r="2.85"/><circle cx="1083.1" cy="1041" r="2.85"/><circle cx="1110.5" cy="1002.6" r="2.85"/><circle cx="1072.6" cy="963.7" r="2.85"/><circle cx="1086.9" cy="1024.5" r="2.85"/><circle cx="1078.2" cy="1004" r="2.85"/><circle cx="1111.2" cy="1044.4" r="2.85"/><circle cx="1072.7" cy="1008" r="2.85"/><circle cx="1083.4" cy="1030.5" r="2.85"/><circle cx="1087.4" cy="1001.1" r="2.85"/><circle cx="1074.9" cy="1019.3" r="2.85"/><circle cx="1108.4" cy="1041.6" r="2.85"/><circle cx="1102.5" cy="993.6" r="2.85"/><circle cx="1093.3" cy="1022.8" r="2.85"/><circle cx="1088.1" cy="1038.7" r="2.85"/><circle cx="1079.6" cy="1016.7" r="2.85"/><circle cx="1078.5" cy="1037.8" r="2.85"/><circle cx="1088.1" cy="1009.4" r="2.85"/><circle cx="1096.3" cy="1019.5" r="2.85"/><circle cx="1105.8" cy="1026" r="2.85"/><circle cx="1081.6" cy="1003.3" r="2.85"/><circle cx="1106.2" cy="1043.4" r="2.85"/><circle cx="1098.2" cy="996.4" r="2.85"/><circle cx="1078.3" cy="1056.3" r="2.85"/><circle cx="1073.2" cy="982.1" r="2.85"/><circle cx="1072.9" cy="1014.1" r="2.85"/><circle cx="1110.2" cy="1023.8" r="2.85"/><circle cx="1081.7" cy="1033.5" r="2.85"/><circle cx="1074.5" cy="1006" r="2.85"/><circle cx="1098.1" cy="1021.7" r="2.85"/><circle cx="1082.9" cy="1022" r="2.85"/><circle cx="1109.4" cy="995.1" r="2.85"/><circle cx="1098.3" cy="1027.3" r="2.85"/><circle cx="1107.2" cy="1023.2" r="2.85"/><circle cx="1097.8" cy="1008.6" r="2.85"/><circle cx="1101" cy="994.1" r="2.85"/><circle cx="1090.2" cy="1021.5" r="2.85"/><circle cx="1088.8" cy="1014.6" r="2.85"/><circle cx="1103" cy="1017.1" r="2.85"/><circle cx="1079.2" cy="1001.6" r="2.85"/><circle cx="1074.5" cy="984.7" r="2.85"/><circle cx="1108.1" cy="1037.3" r="2.85"/><circle cx="1087.2" cy="1021.1" r="2.85"/><circle cx="1094.1" cy="1019.2" r="2.85"/><circle cx="1087.6" cy="1005" r="2.85"/><circle cx="1101.5" cy="984.4" r="2.85"/><circle cx="1102.8" cy="1018.5" r="2.85"/><circle cx="1079.2" cy="1013.4" r="2.85"/><circle cx="1102.6" cy="992.8" r="2.85"/><circle cx="1084.5" cy="1042.9" r="2.85"/><circle cx="1094.5" cy="1034.3" r="2.85"/><circle cx="1091.1" cy="1027.7" r="2.85"/><circle cx="1105.5" cy="1018.3" r="2.85"/><circle cx="1088.5" cy="1013.1" r="2.85"/><circle cx="1104.7" cy="1029.1" r="2.85"/><circle cx="1109.3" cy="978.7" r="2.85"/><circle cx="1094.8" cy="1033" r="2.85"/><circle cx="1104.3" cy="1022.6" r="2.85"/><circle cx="1107.2" cy="993.8" r="2.85"/><circle cx="1081" cy="1000.9" r="2.85"/><circle cx="1089.9" cy="1018.5" r="2.85"/><circle cx="1107.7" cy="1009.9" r="2.85"/><circle cx="1102.1" cy="999.9" r="2.85"/><circle cx="1105.6" cy="1018.5" r="2.85"/><circle cx="1095.9" cy="1003.8" r="2.85"/><circle cx="1087" cy="1037.2" r="2.85"/><circle cx="1103.2" cy="1016.7" r="2.85"/><circle cx="1085.6" cy="1050.2" r="2.85"/><circle cx="1095.1" cy="1036.8" r="2.85"/><circle cx="1080.3" cy="1041.3" r="2.85"/><circle cx="1087.8" cy="900.6" r="2.85"/><circle cx="1089.8" cy="908.4" r="2.85"/><circle cx="1076.4" cy="937" r="2.85"/><circle cx="1076" cy="953.8" r="2.85"/><circle cx="1107.1" cy="957.7" r="2.85"/></g>
<g fill="#000" fill-opacity="0.75"><circle cx="1185.8" cy="1014.1" r="2.85"/><circle cx="1182" cy="1048.2" r="2.85"/><circle cx="1207.5" cy="1071.8" r="2.85"/><circle cx="1203.5" cy="1052.4" r="2.85"/><circle cx="1197.9" cy="1023.3" r="2.85"/><circle cx="1174.8" cy="1004.9" r="2.85"/><circle cx="1202.7" cy="1047.3" r="2.85"/><circle cx="1187" cy="1042.5" r="2.85"/><circle cx="1205.8" cy="1038.6" r="2.85"/><circle cx="1173.3" cy="1037.4" r="2.85"/><circle cx="1177" cy="1059.3" r="2.85"/><circle cx="1176.4" cy="1045.7" r="2.85"/><circle cx="1203.7" cy="1028.1" r="2.85"/><circle cx="1209.1" cy="1031.1" r="2.85"/><circle cx="1200.9" cy="1033.3" r="2.85"/><circle cx="1183.5" cy="1061" r="2.85"/><circle cx="1173.3" cy="1048.7" r="2.85"/><circle cx="1209.5" cy="1053.1" r="2.85"/><circle cx="1178" cy="1007.5" r="2.85"/><circle cx="1203.4" cy="998.8" r="2.85"/><circle cx="1190" cy="1024.7" r="2.85"/><circle cx="1184.7" cy="995.8" r="2.85"/><circle cx="1187.5" cy="1041.8" r="2.85"/><circle cx="1174.3" cy="1041.6" r="2.85"/><circle cx="1175.9" cy="1068.7" r="2.85"/><circle cx="1205.7" cy="1027.7" r="2.85"/><circle cx="1189.2" cy="1046" r="2.85"/><circle cx="1197.9" cy="1031.3" r="2.85"/><circle cx="1184.5" cy="1020.7" r="2.85"/><circle cx="1190.4" cy="1040.3" r="2.85"/><circle cx="1202.8" cy="1063.9" r="2.85"/><circle cx="1196.9" cy="1034.9" r="2.85"/><circle cx="1187.1" cy="1035.7" r="2.85"/><circle cx="1189.6" cy="1033" r="2.85"/><circle cx="1210.4" cy="1015.6" r="2.85"/><circle cx="1172.5" cy="1039.4" r="2.85"/><circle cx="1187.2" cy="1040.8" r="2.85"/><circle cx="1176.4" cy="992.7" r="2.85"/><circle cx="1175.4" cy="1006.8" r="2.85"/><circle cx="1173.4" cy="1036" r="2.85"/><circle cx="1201.7" cy="1058.6" r="2.85"/><circle cx="1189.4" cy="1045.4" r="2.85"/><circle cx="1193.1" cy="1023.3" r="2.85"/><circle cx="1183.2" cy="1011.7" r="2.85"/><circle cx="1186.9" cy="978.2" r="2.85"/><circle cx="1189.2" cy="1039.9" r="2.85"/><circle cx="1204.2" cy="1029.2" r="2.85"/><circle cx="1174.9" cy="1042.8" r="2.85"/><circle cx="1178.4" cy="1031.1" r="2.85"/><circle cx="1178" cy="1043.4" r="2.85"/><circle cx="1189.7" cy="1061.7" r="2.85"/><circle cx="1190.2" cy="1007.6" r="2.85"/><circle cx="1198.3" cy="1029.6" r="2.85"/><circle cx="1210.5" cy="1001.9" r="2.85"/><circle cx="1207.7" cy="1046.4" r="2.85"/><circle cx="1180.8" cy="1025.9" r="2.85"/><circle cx="1187.4" cy="1015.4" r="2.85"/><circle cx="1192.3" cy="1083.1" r="2.85"/><circle cx="1202.7" cy="1068.1" r="2.85"/><circle cx="1191.6" cy="1013.1" r="2.85"/><circle cx="1177.6" cy="1030.1" r="2.85"/><circle cx="1173.2" cy="1081.8" r="2.85"/><circle cx="1184.8" cy="1052.4" r="2.85"/><circle cx="1195.4" cy="1060.7" r="2.85"/><circle cx="1178.4" cy="1045.5" r="2.85"/><circle cx="1189.3" cy="996.1" r="2.85"/><circle cx="1186.5" cy="1047.9" r="2.85"/><circle cx="1209.4" cy="985.8" r="2.85"/><circle cx="1199" cy="1039.2" r="2.85"/><circle cx="1210" cy="1052" r="2.85"/><circle cx="1191.9" cy="995.5" r="2.85"/><circle cx="1190.8" cy="1008.6" r="2.85"/><circle cx="1210.1" cy="999.4" r="2.85"/><circle cx="1187.4" cy="987.3" r="2.85"/><circle cx="1193.2" cy="1006.1" r="2.85"/><circle cx="1172.2" cy="1002.6" r="2.85"/><circle cx="1178" cy="1078.1" r="2.85"/><circle cx="1182.6" cy="1054.1" r="2.85"/><circle cx="1181" cy="1020.3" r="2.85"/><circle cx="1188.5" cy="1026.6" r="2.85"/><circle cx="1206.6" cy="1013.1" r="2.85"/><circle cx="1179.6" cy="1044.6" r="2.85"/><circle cx="1173.1" cy="1004.7" r="2.85"/><circle cx="1193.6" cy="985.4" r="2.85"/><circle cx="1185.7" cy="1016.2" r="2.85"/><circle cx="1173.1" cy="1010.4" r="2.85"/><circle cx="1201.4" cy="1018.1" r="2.85"/><circle cx="1208.5" cy="1008.4" r="2.85"/><circle cx="1200.9" cy="1025.8" r="2.85"/><circle cx="1203" cy="1044.9" r="2.85"/><circle cx="1201.4" cy="1026.2" r="2.85"/><circle cx="1210.1" cy="1028.6" r="2.85"/><circle cx="1176.8" cy="1072.2" r="2.85"/><circle cx="1206.1" cy="1025.2" r="2.85"/><circle cx="1199.1" cy="1030.7" r="2.85"/><circle cx="1209" cy="1025.9" r="2.85"/><circle cx="1204.9" cy="1046" r="2.85"/><circle cx="1193.2" cy="1018.6" r="2.85"/><circle cx="1197.4" cy="1014.8" r="2.85"/><circle cx="1181" cy="1050.3" r="2.85"/><circle cx="1184.5" cy="1022.8" r="2.85"/><circle cx="1177.2" cy="1011.4" r="2.85"/><circle cx="1187.3" cy="1012.2" r="2.85"/><circle cx="1204.1" cy="1056.1" r="2.85"/><circle cx="1184.8" cy="1058.9" r="2.85"/><circle cx="1206.3" cy="1031" r="2.85"/><circle cx="1179" cy="1059.7" r="2.85"/><circle cx="1196.9" cy="975.1" r="2.85"/><circle cx="1180.5" cy="1053.5" r="2.85"/><circle cx="1196.5" cy="1053.2" r="2.85"/><circle cx="1202.5" cy="1014.9" r="2.85"/><circle cx="1206.1" cy="1044.7" r="2.85"/><circle cx="1201.5" cy="1095" r="2.85"/><circle cx="1176.9" cy="1036.3" r="2.85"/><circle cx="1198.5" cy="1058.9" r="2.85"/><circle cx="1182.9" cy="1046.6" r="2.85"/><circle cx="1191.4" cy="1075.9" r="2.85"/><circle cx="1176.9" cy="1057" r="2.85"/><circle cx="1188.8" cy="1037.4" r="2.85"/><circle cx="1197.4" cy="1035.2" r="2.85"/><circle cx="1175.8" cy="1063" r="2.85"/><circle cx="1194.6" cy="1052.5" r="2.85"/><circle cx="1206.4" cy="1056.2" r="2.85"/><circle cx="1192.2" cy="1029.9" r="2.85"/><circle cx="1184.2" cy="1037.7" r="2.85"/><circle cx="1179.4" cy="1067.1" r="2.85"/><circle cx="1189.7" cy="1016.8" r="2.85"/><circle cx="1186.9" cy="1052.5" r="2.85"/><circle cx="1198.8" cy="1023.6" r="2.85"/><circle cx="1200.7" cy="1058.5" r="2.85"/><circle cx="1199" cy="1026.2" r="2.85"/><circle cx="1201.4" cy="1037.3" r="2.85"/><circle cx="1202.6" cy="1032.7" r="2.85"/><circle cx="1200.1" cy="1020.8" r="2.85"/><circle cx="1181.2" cy="1022.6" r="2.85"/><circle cx="1194.2" cy="1029.9" r="2.85"/><circle cx="1186.8" cy="1029.9" r="2.85"/><circle cx="1174.3" cy="1068.2" r="2.85"/><circle cx="1196.2" cy="1036.1" r="2.85"/><circle cx="1176.9" cy="1092.8" r="2.85"/><circle cx="1198.5" cy="866.9" r="2.85"/><circle cx="1192.6" cy="949.9" r="2.85"/><circle cx="1174.1" cy="1113.4" r="2.85"/></g>
<text x="1051.58" y="1128.7" font-size="19.8" fill="#000" stroke="#000" stroke-width="0.36">Wilcoxon, p = 2.5e−06</text>
<line x1="1339.3" y1="1130.5" x2="1558.9" y2="1130.5" stroke="#ebebeb" stroke-width="1.1"/>
<line x1="1339.3" y1="1072.3" x2="1558.9" y2="1072.3" stroke="#ebebeb" stroke-width="1.1"/>
<line x1="1339.3" y1="1014.1" x2="1558.9" y2="1014.1" stroke="#ebebeb" stroke-width="1.1"/>
<line x1="1339.3" y1="955.9" x2="1558.9" y2="955.9" stroke="#ebebeb" stroke-width="1.1"/>
<line x1="1339.3" y1="897.7" x2="1558.9" y2="897.7" stroke="#ebebeb" stroke-width="1.1"/>
<line x1="1339.3" y1="1101.4" x2="1558.9" y2="1101.4" stroke="#e7e7e7" stroke-width="1.5"/>
<line x1="1339.3" y1="1043.2" x2="1558.9" y2="1043.2" stroke="#e7e7e7" stroke-width="1.5"/>
<line x1="1339.3" y1="985" x2="1558.9" y2="985" stroke="#e7e7e7" stroke-width="1.5"/>
<line x1="1339.3" y1="926.8" x2="1558.9" y2="926.8" stroke="#e7e7e7" stroke-width="1.5"/>
<line x1="1339.3" y1="868.6" x2="1558.9" y2="868.6" stroke="#e7e7e7" stroke-width="1.5"/>
<line x1="1399.19" y1="853" x2="1399.19" y2="1141" stroke="#e7e7e7" stroke-width="1.5"/>
<line x1="1499.01" y1="853" x2="1499.01" y2="1141" stroke="#e7e7e7" stroke-width="1.5"/>
<text x="1330.3" y="1108.85" font-size="20.8" fill="#4d4d4d" stroke="#4d4d4d" stroke-width="0.37" text-anchor="end">−2</text>
<text x="1330.3" y="1050.65" font-size="20.8" fill="#4d4d4d" stroke="#4d4d4d" stroke-width="0.37" text-anchor="end">−1</text>
<text x="1330.3" y="992.45" font-size="20.8" fill="#4d4d4d" stroke="#4d4d4d" stroke-width="0.37" text-anchor="end">0</text>
<text x="1330.3" y="934.25" font-size="20.8" fill="#4d4d4d" stroke="#4d4d4d" stroke-width="0.37" text-anchor="end">1</text>
<text x="1330.3" y="876.05" font-size="20.8" fill="#4d4d4d" stroke="#4d4d4d" stroke-width="0.37" text-anchor="end">2</text>
<text x="1399.19" y="1169.3" font-size="25.3" fill="#4d4d4d" stroke="#4d4d4d" stroke-width="0.46" text-anchor="middle">Control</text>
<text x="1499.01" y="1169.3" font-size="25.3" fill="#4d4d4d" stroke="#4d4d4d" stroke-width="0.46" text-anchor="middle">T1D</text>
<text x="1449.1" y="836.7" font-size="28.5" fill="#000" stroke="#000" stroke-width="0.51" text-anchor="middle">NTF3</text>
<text x="1302.4" y="997" font-size="19.5" fill="#000" stroke="#000" stroke-width="0.35" text-anchor="middle" transform="rotate(-90 1302.4 997)">NPX</text>
<line x1="1399.19" y1="890.13" x2="1399.19" y2="954.74" stroke="#1e1e1e" stroke-width="1.8"/>
<line x1="1399.19" y1="1005.37" x2="1399.19" y2="1073.46" stroke="#1e1e1e" stroke-width="1.8"/>
<rect x="1361.76" y="954.74" width="74.86" height="50.63" fill="#bad8e4" stroke="#222" stroke-width="1.8"/>
<line x1="1361.76" y1="983.25" x2="1436.62" y2="983.25" stroke="#222" stroke-width="3"/>
<circle cx="1399.19" cy="868.6" r="3.9" fill="#2a2a2a"/>
<circle cx="1399.19" cy="871.51" r="3.9" fill="#2a2a2a"/>
<circle cx="1399.19" cy="877.33" r="3.9" fill="#2a2a2a"/>
<circle cx="1399.19" cy="1083.94" r="3.9" fill="#2a2a2a"/>
<circle cx="1399.19" cy="1095.58" r="3.9" fill="#2a2a2a"/>
<line x1="1499.01" y1="925.64" x2="1499.01" y2="975.11" stroke="#1e1e1e" stroke-width="1.8"/>
<line x1="1499.01" y1="1023.99" x2="1499.01" y2="1082.19" stroke="#1e1e1e" stroke-width="1.8"/>
<rect x="1461.58" y="975.11" width="74.86" height="48.89" fill="#bad8e4" stroke="#222" stroke-width="1.8"/>
<line x1="1461.58" y1="999.55" x2="1536.44" y2="999.55" stroke="#222" stroke-width="3"/>
<circle cx="1499.01" cy="865.69" r="3.9" fill="#2a2a2a"/>
<circle cx="1499.01" cy="880.24" r="3.9" fill="#2a2a2a"/>
<circle cx="1499.01" cy="888.97" r="3.9" fill="#2a2a2a"/>
<circle cx="1499.01" cy="1101.4" r="3.9" fill="#2a2a2a"/>
<g fill="#000" fill-opacity="0.75"><circle cx="1384.5" cy="1008.6" r="2.85"/><circle cx="1385.7" cy="998.9" r="2.85"/><circle cx="1413.8" cy="931.1" r="2.85"/><circle cx="1390.8" cy="1015.5" r="2.85"/><circle cx="1398.2" cy="952.3" r="2.85"/><circle cx="1396.3" cy="922.9" r="2.85"/><circle cx="1394.6" cy="955.6" r="2.85"/><circle cx="1396.2" cy="972.5" r="2.85"/><circle cx="1390.4" cy="931.6" r="2.85"/><circle cx="1415.1" cy="968.3" r="2.85"/><circle cx="1399.8" cy="983.6" r="2.85"/><circle cx="1391" cy="989.9" r="2.85"/><circle cx="1387.7" cy="938.8" r="2.85"/><circle cx="1411.2" cy="954" r="2.85"/><circle cx="1410.7" cy="925.5" r="2.85"/><circle cx="1412" cy="994.3" r="2.85"/><circle cx="1403" cy="993.5" r="2.85"/><circle cx="1392.4" cy="997.6" r="2.85"/><circle cx="1387.7" cy="971.4" r="2.85"/><circle cx="1394.1" cy="1006" r="2.85"/><circle cx="1382.8" cy="946.3" r="2.85"/><circle cx="1390.2" cy="968.9" r="2.85"/><circle cx="1393.1" cy="1016.3" r="2.85"/><circle cx="1383.8" cy="1073.5" r="2.85"/><circle cx="1385.3" cy="1046.1" r="2.85"/><circle cx="1384" cy="929.1" r="2.85"/><circle cx="1394.8" cy="985.3" r="2.85"/><circle cx="1416.2" cy="977" r="2.85"/><circle cx="1417.5" cy="997.2" r="2.85"/><circle cx="1383.4" cy="966.6" r="2.85"/><circle cx="1403" cy="1049.5" r="2.85"/><circle cx="1379.4" cy="1052.3" r="2.85"/><circle cx="1405.8" cy="1039.5" r="2.85"/><circle cx="1404.2" cy="980.5" r="2.85"/><circle cx="1399.7" cy="953.8" r="2.85"/><circle cx="1390.3" cy="963.3" r="2.85"/><circle cx="1397.8" cy="987.5" r="2.85"/><circle cx="1380.8" cy="1026.9" r="2.85"/><circle cx="1405.4" cy="950.7" r="2.85"/><circle cx="1410.3" cy="992.6" r="2.85"/><circle cx="1382.6" cy="984" r="2.85"/><circle cx="1419.1" cy="985.8" r="2.85"/><circle cx="1386.3" cy="998.8" r="2.85"/><circle cx="1415.8" cy="1007.3" r="2.85"/><circle cx="1418.3" cy="1002.8" r="2.85"/><circle cx="1396.2" cy="1027.4" r="2.85"/><circle cx="1412.8" cy="972.9" r="2.85"/><circle cx="1401.7" cy="989.1" r="2.85"/><circle cx="1390.1" cy="943.4" r="2.85"/><circle cx="1406.7" cy="1045.7" r="2.85"/><circle cx="1393.6" cy="938.2" r="2.85"/><circle cx="1385.3" cy="985.8" r="2.85"/><circle cx="1410" cy="988.7" r="2.85"/><circle cx="1386.8" cy="1010.2" r="2.85"/><circle cx="1416.5" cy="1010.6" r="2.85"/><circle cx="1387.2" cy="1034.5" r="2.85"/><circle cx="1392.1" cy="947.3" r="2.85"/><circle cx="1411.2" cy="990.4" r="2.85"/><circle cx="1412.6" cy="953.4" r="2.85"/><circle cx="1395.3" cy="949.7" r="2.85"/><circle cx="1403.6" cy="999.8" r="2.85"/><circle cx="1416.9" cy="991.2" r="2.85"/><circle cx="1390.8" cy="994.7" r="2.85"/><circle cx="1389.9" cy="943" r="2.85"/><circle cx="1383.4" cy="977.9" r="2.85"/><circle cx="1406.7" cy="976.3" r="2.85"/><circle cx="1406.8" cy="953.3" r="2.85"/><circle cx="1384.1" cy="985.8" r="2.85"/><circle cx="1408" cy="908.9" r="2.85"/><circle cx="1390.7" cy="1014.5" r="2.85"/><circle cx="1399.6" cy="935.4" r="2.85"/><circle cx="1401.7" cy="930.3" r="2.85"/><circle cx="1402.5" cy="1022" r="2.85"/><circle cx="1401.3" cy="948.5" r="2.85"/><circle cx="1395.2" cy="971.4" r="2.85"/><circle cx="1407.2" cy="948.2" r="2.85"/><circle cx="1387.6" cy="1024.1" r="2.85"/><circle cx="1413.9" cy="973" r="2.85"/><circle cx="1394.7" cy="1016.2" r="2.85"/><circle cx="1410.1" cy="994.1" r="2.85"/><circle cx="1403.5" cy="929.7" r="2.85"/><circle cx="1397.3" cy="987.7" r="2.85"/><circle cx="1398.2" cy="1061.2" r="2.85"/><circle cx="1400.2" cy="1031" r="2.85"/><circle cx="1395.9" cy="1021.8" r="2.85"/><circle cx="1401.6" cy="943.3" r="2.85"/><circle cx="1398.3" cy="1006.2" r="2.85"/><circle cx="1412.9" cy="1036.6" r="2.85"/><circle cx="1389.7" cy="939.9" r="2.85"/><circle cx="1409.3" cy="972.7" r="2.85"/><circle cx="1395.7" cy="968.8" r="2.85"/><circle cx="1413.2" cy="1009.8" r="2.85"/><circle cx="1412.3" cy="929.5" r="2.85"/><circle cx="1382.2" cy="987.3" r="2.85"/><circle cx="1416.3" cy="1051.3" r="2.85"/><circle cx="1411.7" cy="1021.8" r="2.85"/><circle cx="1405.4" cy="1011.3" r="2.85"/><circle cx="1386.9" cy="988.5" r="2.85"/><circle cx="1412.5" cy="951.7" r="2.85"/><circle cx="1402.8" cy="1007.2" r="2.85"/><circle cx="1388.5" cy="1003" r="2.85"/><circle cx="1404.8" cy="903.4" r="2.85"/><circle cx="1384" cy="979.8" r="2.85"/><circle cx="1407.1" cy="1000.6" r="2.85"/><circle cx="1386.9" cy="981.9" r="2.85"/><circle cx="1391.4" cy="1025.8" r="2.85"/><circle cx="1380.1" cy="960.6" r="2.85"/><circle cx="1394.1" cy="944.9" r="2.85"/><circle cx="1403.4" cy="1002.4" r="2.85"/><circle cx="1405.4" cy="943.8" r="2.85"/><circle cx="1395.8" cy="992.8" r="2.85"/><circle cx="1390.4" cy="971.1" r="2.85"/><circle cx="1383" cy="1007.8" r="2.85"/><circle cx="1393.4" cy="1009.9" r="2.85"/><circle cx="1410.4" cy="1034.5" r="2.85"/><circle cx="1416.5" cy="974" r="2.85"/><circle cx="1416" cy="992.6" r="2.85"/><circle cx="1382.6" cy="991.6" r="2.85"/><circle cx="1384.3" cy="1021.5" r="2.85"/><circle cx="1393.9" cy="1022.8" r="2.85"/><circle cx="1401.5" cy="1004" r="2.85"/><circle cx="1381.2" cy="963.4" r="2.85"/><circle cx="1382.8" cy="970.5" r="2.85"/><circle cx="1412.2" cy="1005.7" r="2.85"/><circle cx="1419" cy="970.8" r="2.85"/><circle cx="1396.7" cy="918.4" r="2.85"/><circle cx="1410.9" cy="978.8" r="2.85"/><circle cx="1407.3" cy="909.5" r="2.85"/><circle cx="1409.9" cy="964.9" r="2.85"/><circle cx="1396" cy="932.7" r="2.85"/><circle cx="1416.3" cy="1000.6" r="2.85"/><circle cx="1384.2" cy="938" r="2.85"/><circle cx="1389.9" cy="1023.4" r="2.85"/><circle cx="1404.6" cy="973" r="2.85"/><circle cx="1389.2" cy="994.2" r="2.85"/><circle cx="1412.7" cy="1052.1" r="2.85"/><circle cx="1412" cy="1029.8" r="2.85"/><circle cx="1410.7" cy="939.4" r="2.85"/><circle cx="1414.3" cy="962.5" r="2.85"/><circle cx="1404.6" cy="933.9" r="2.85"/><circle cx="1386.5" cy="975" r="2.85"/><circle cx="1392.4" cy="1073.5" r="2.85"/><circle cx="1379.4" cy="972.7" r="2.85"/><circle cx="1395" cy="1002" r="2.85"/><circle cx="1404.6" cy="999.8" r="2.85"/><circle cx="1407" cy="998.1" r="2.85"/><circle cx="1407.8" cy="1008.7" r="2.85"/><circle cx="1389.6" cy="1015.6" r="2.85"/><circle cx="1416.1" cy="935.8" r="2.85"/><circle cx="1401" cy="964.5" r="2.85"/><circle cx="1387.5" cy="1004.8" r="2.85"/><circle cx="1416.6" cy="997.2" r="2.85"/><circle cx="1406.1" cy="944.8" r="2.85"/><circle cx="1406.5" cy="967.3" r="2.85"/><circle cx="1403.5" cy="975.2" r="2.85"/><circle cx="1379.3" cy="1025.1" r="2.85"/><circle cx="1401.3" cy="997.7" r="2.85"/><circle cx="1408" cy="1021.9" r="2.85"/><circle cx="1405.8" cy="1049.5" r="2.85"/><circle cx="1387.8" cy="947.6" r="2.85"/><circle cx="1398.2" cy="994.2" r="2.85"/><circle cx="1408.1" cy="997" r="2.85"/><circle cx="1415.2" cy="1015.7" r="2.85"/><circle cx="1388.4" cy="952.2" r="2.85"/><circle cx="1402.1" cy="907.4" r="2.85"/><circle cx="1382" cy="958.8" r="2.85"/><circle cx="1386.2" cy="946.4" r="2.85"/><circle cx="1394.4" cy="1025.8" r="2.85"/><circle cx="1379.9" cy="976.1" r="2.85"/><circle cx="1393.4" cy="974.3" r="2.85"/><circle cx="1414" cy="927.6" r="2.85"/><circle cx="1391.3" cy="983.2" r="2.85"/><circle cx="1385.3" cy="1015.2" r="2.85"/><circle cx="1383.4" cy="985.7" r="2.85"/><circle cx="1401.3" cy="997.8" r="2.85"/><circle cx="1395.3" cy="929.1" r="2.85"/><circle cx="1404.2" cy="955.5" r="2.85"/><circle cx="1395.3" cy="969.2" r="2.85"/><circle cx="1400.3" cy="976" r="2.85"/><circle cx="1395.4" cy="949.4" r="2.85"/><circle cx="1390.7" cy="999.7" r="2.85"/><circle cx="1379.6" cy="1014.4" r="2.85"/><circle cx="1390.5" cy="1048.4" r="2.85"/><circle cx="1408.9" cy="937.9" r="2.85"/><circle cx="1393" cy="962.3" r="2.85"/><circle cx="1410.1" cy="956.6" r="2.85"/><circle cx="1380.9" cy="982" r="2.85"/><circle cx="1407.3" cy="922" r="2.85"/><circle cx="1412.2" cy="1016.7" r="2.85"/><circle cx="1389" cy="937.4" r="2.85"/><circle cx="1394.4" cy="1011.8" r="2.85"/><circle cx="1389.8" cy="998.6" r="2.85"/><circle cx="1396.6" cy="1025.1" r="2.85"/><circle cx="1415.9" cy="980.1" r="2.85"/><circle cx="1407.1" cy="993.3" r="2.85"/><circle cx="1383.4" cy="965.7" r="2.85"/><circle cx="1419" cy="1003" r="2.85"/><circle cx="1406.4" cy="1031.4" r="2.85"/><circle cx="1411.7" cy="960" r="2.85"/><circle cx="1412.8" cy="934.8" r="2.85"/><circle cx="1415.9" cy="953.3" r="2.85"/><circle cx="1410.2" cy="985.7" r="2.85"/><circle cx="1390" cy="967" r="2.85"/><circle cx="1409" cy="1042.3" r="2.85"/><circle cx="1405.9" cy="994.9" r="2.85"/><circle cx="1395.9" cy="939.1" r="2.85"/><circle cx="1414" cy="964.7" r="2.85"/><circle cx="1379.7" cy="1012.5" r="2.85"/><circle cx="1399.4" cy="949.4" r="2.85"/><circle cx="1414.5" cy="988.4" r="2.85"/><circle cx="1400.5" cy="953.6" r="2.85"/><circle cx="1394.5" cy="1032.1" r="2.85"/><circle cx="1383.5" cy="1001.3" r="2.85"/><circle cx="1386.8" cy="970.5" r="2.85"/><circle cx="1389.8" cy="971.4" r="2.85"/><circle cx="1418.9" cy="960.8" r="2.85"/><circle cx="1401.1" cy="984.4" r="2.85"/><circle cx="1391.5" cy="990.5" r="2.85"/><circle cx="1414.6" cy="964.3" r="2.85"/><circle cx="1403.6" cy="949.1" r="2.85"/><circle cx="1391" cy="1035.9" r="2.85"/><circle cx="1405.4" cy="994.5" r="2.85"/><circle cx="1380.2" cy="990.7" r="2.85"/><circle cx="1400.1" cy="977.5" r="2.85"/><circle cx="1400.2" cy="944.2" r="2.85"/><circle cx="1382" cy="1029.3" r="2.85"/><circle cx="1405.6" cy="961.7" r="2.85"/><circle cx="1380.2" cy="1043.5" r="2.85"/><circle cx="1387" cy="1008.9" r="2.85"/><circle cx="1408.8" cy="1001.1" r="2.85"/><circle cx="1395.3" cy="992.8" r="2.85"/><circle cx="1408" cy="1004" r="2.85"/><circle cx="1400.8" cy="1000.8" r="2.85"/><circle cx="1397.8" cy="995.2" r="2.85"/><circle cx="1402.9" cy="992.8" r="2.85"/><circle cx="1380" cy="1047.3" r="2.85"/><circle cx="1379.4" cy="1031.7" r="2.85"/><circle cx="1416.7" cy="998.3" r="2.85"/><circle cx="1406.8" cy="961.9" r="2.85"/><circle cx="1386.6" cy="944.5" r="2.85"/><circle cx="1406.9" cy="890.1" r="2.85"/><circle cx="1416.2" cy="979.6" r="2.85"/><circle cx="1412.6" cy="1010" r="2.85"/><circle cx="1404.8" cy="976.6" r="2.85"/><circle cx="1400.2" cy="955.4" r="2.85"/><circle cx="1404.1" cy="978.3" r="2.85"/><circle cx="1386.5" cy="1019.6" r="2.85"/><circle cx="1397" cy="987.2" r="2.85"/><circle cx="1414.2" cy="985.3" r="2.85"/><circle cx="1393.7" cy="1031.9" r="2.85"/><circle cx="1389.9" cy="1024.8" r="2.85"/><circle cx="1400" cy="938" r="2.85"/><circle cx="1411.7" cy="1060.7" r="2.85"/><circle cx="1414.4" cy="977" r="2.85"/><circle cx="1419.1" cy="992.4" r="2.85"/><circle cx="1417.7" cy="931.7" r="2.85"/><circle cx="1383.5" cy="958.4" r="2.85"/><circle cx="1397.4" cy="1012.7" r="2.85"/><circle cx="1401.3" cy="936" r="2.85"/><circle cx="1406.3" cy="1002.2" r="2.85"/><circle cx="1383.7" cy="911.6" r="2.85"/><circle cx="1393.8" cy="922.8" r="2.85"/><circle cx="1394.3" cy="986.5" r="2.85"/><circle cx="1403.5" cy="952.2" r="2.85"/><circle cx="1394" cy="976.3" r="2.85"/><circle cx="1391.8" cy="1013.9" r="2.85"/><circle cx="1386.7" cy="942.5" r="2.85"/><circle cx="1405.7" cy="966.1" r="2.85"/><circle cx="1391.6" cy="949.5" r="2.85"/><circle cx="1387.4" cy="942.2" r="2.85"/><circle cx="1415.6" cy="930.7" r="2.85"/><circle cx="1394.6" cy="943.3" r="2.85"/><circle cx="1390.6" cy="986.5" r="2.85"/><circle cx="1382.8" cy="980" r="2.85"/><circle cx="1400" cy="966.3" r="2.85"/><circle cx="1392.9" cy="868.6" r="2.85"/><circle cx="1402.6" cy="871.5" r="2.85"/><circle cx="1391.6" cy="877.3" r="2.85"/><circle cx="1398" cy="1083.9" r="2.85"/><circle cx="1384.3" cy="1095.6" r="2.85"/></g>
<g fill="#000" fill-opacity="0.75"><circle cx="1484.2" cy="986.3" r="2.85"/><circle cx="1487.8" cy="967.4" r="2.85"/><circle cx="1515.4" cy="1032.4" r="2.85"/><circle cx="1516.9" cy="970.3" r="2.85"/><circle cx="1484" cy="1042.7" r="2.85"/><circle cx="1505.8" cy="1016.1" r="2.85"/><circle cx="1483" cy="1029" r="2.85"/><circle cx="1516.4" cy="949.1" r="2.85"/><circle cx="1516.7" cy="950.3" r="2.85"/><circle cx="1506.6" cy="972.8" r="2.85"/><circle cx="1498.2" cy="980.6" r="2.85"/><circle cx="1505.1" cy="1018.4" r="2.85"/><circle cx="1501.4" cy="947.6" r="2.85"/><circle cx="1512" cy="956.4" r="2.85"/><circle cx="1512.3" cy="969.1" r="2.85"/><circle cx="1513.4" cy="1003.1" r="2.85"/><circle cx="1512.5" cy="1011.7" r="2.85"/><circle cx="1487.9" cy="1002.1" r="2.85"/><circle cx="1487.3" cy="958.1" r="2.85"/><circle cx="1506.9" cy="1031.6" r="2.85"/><circle cx="1501.1" cy="994.7" r="2.85"/><circle cx="1517.7" cy="950.2" r="2.85"/><circle cx="1481.3" cy="969.3" r="2.85"/><circle cx="1495.2" cy="947.4" r="2.85"/><circle cx="1513.7" cy="983.8" r="2.85"/><circle cx="1497" cy="983.2" r="2.85"/><circle cx="1484.4" cy="956.5" r="2.85"/><circle cx="1492.1" cy="975.1" r="2.85"/><circle cx="1517.5" cy="986.1" r="2.85"/><circle cx="1509.8" cy="1016.8" r="2.85"/><circle cx="1512.6" cy="1047.2" r="2.85"/><circle cx="1489.4" cy="953.6" r="2.85"/><circle cx="1511.1" cy="1013.3" r="2.85"/><circle cx="1479.3" cy="1024.9" r="2.85"/><circle cx="1487.8" cy="969.4" r="2.85"/><circle cx="1504" cy="1029.1" r="2.85"/><circle cx="1505.3" cy="1043" r="2.85"/><circle cx="1497.2" cy="1018.6" r="2.85"/><circle cx="1517.3" cy="1000.3" r="2.85"/><circle cx="1493.8" cy="988.2" r="2.85"/><circle cx="1489.9" cy="979.6" r="2.85"/><circle cx="1487.2" cy="966.6" r="2.85"/><circle cx="1508.9" cy="1002.1" r="2.85"/><circle cx="1511.6" cy="984.8" r="2.85"/><circle cx="1512" cy="1001.9" r="2.85"/><circle cx="1503.9" cy="1020.9" r="2.85"/><circle cx="1480.4" cy="983.4" r="2.85"/><circle cx="1495.6" cy="985.1" r="2.85"/><circle cx="1485.7" cy="944.1" r="2.85"/><circle cx="1490.4" cy="976.3" r="2.85"/><circle cx="1480.1" cy="1022.8" r="2.85"/><circle cx="1506.8" cy="976.4" r="2.85"/><circle cx="1489" cy="1006.8" r="2.85"/><circle cx="1501.5" cy="951.1" r="2.85"/><circle cx="1517.5" cy="1053.1" r="2.85"/><circle cx="1488.5" cy="1021.5" r="2.85"/><circle cx="1490.5" cy="1021.4" r="2.85"/><circle cx="1489.3" cy="993.4" r="2.85"/><circle cx="1481.7" cy="1002.4" r="2.85"/><circle cx="1501.7" cy="1049.6" r="2.85"/><circle cx="1501.1" cy="1057.8" r="2.85"/><circle cx="1503" cy="991.2" r="2.85"/><circle cx="1517.5" cy="953.9" r="2.85"/><circle cx="1502.1" cy="954.2" r="2.85"/><circle cx="1503.4" cy="1012" r="2.85"/><circle cx="1514.6" cy="981.2" r="2.85"/><circle cx="1514" cy="1027.9" r="2.85"/><circle cx="1500" cy="1045.2" r="2.85"/><circle cx="1503.2" cy="960" r="2.85"/><circle cx="1493.7" cy="973.9" r="2.85"/><circle cx="1498.9" cy="1009.6" r="2.85"/><circle cx="1498.3" cy="1011" r="2.85"/><circle cx="1500.2" cy="967.8" r="2.85"/><circle cx="1488.5" cy="986.1" r="2.85"/><circle cx="1503" cy="1009.6" r="2.85"/><circle cx="1490.4" cy="987.5" r="2.85"/><circle cx="1491.4" cy="997.9" r="2.85"/><circle cx="1491.3" cy="1012.2" r="2.85"/><circle cx="1510.4" cy="1023.2" r="2.85"/><circle cx="1481.8" cy="967.6" r="2.85"/><circle cx="1518.8" cy="1014.4" r="2.85"/><circle cx="1485.6" cy="1037.1" r="2.85"/><circle cx="1503.7" cy="945.2" r="2.85"/><circle cx="1488.3" cy="959.4" r="2.85"/><circle cx="1506.4" cy="978.8" r="2.85"/><circle cx="1513.2" cy="999.8" r="2.85"/><circle cx="1496.4" cy="990.5" r="2.85"/><circle cx="1497.8" cy="1045.1" r="2.85"/><circle cx="1518.3" cy="998.2" r="2.85"/><circle cx="1502.6" cy="987.7" r="2.85"/><circle cx="1493.7" cy="1004.7" r="2.85"/><circle cx="1488.2" cy="982.1" r="2.85"/><circle cx="1512.9" cy="1024.8" r="2.85"/><circle cx="1507" cy="991.2" r="2.85"/><circle cx="1491.5" cy="1048.8" r="2.85"/><circle cx="1499.3" cy="998.7" r="2.85"/><circle cx="1484.5" cy="1019.7" r="2.85"/><circle cx="1510.1" cy="1041.7" r="2.85"/><circle cx="1515" cy="1012.1" r="2.85"/><circle cx="1508.1" cy="997.2" r="2.85"/><circle cx="1507.5" cy="1019.2" r="2.85"/><circle cx="1484.2" cy="967.9" r="2.85"/><circle cx="1515.4" cy="1022.9" r="2.85"/><circle cx="1502.8" cy="967.7" r="2.85"/><circle cx="1514.8" cy="973" r="2.85"/><circle cx="1508.8" cy="1019.7" r="2.85"/><circle cx="1514.5" cy="955.3" r="2.85"/><circle cx="1511.3" cy="1042.9" r="2.85"/><circle cx="1508.2" cy="979.2" r="2.85"/><circle cx="1503" cy="995.9" r="2.85"/><circle cx="1490.2" cy="972.2" r="2.85"/><circle cx="1489.1" cy="1049" r="2.85"/><circle cx="1515.6" cy="1037.9" r="2.85"/><circle cx="1510.9" cy="1027.3" r="2.85"/><circle cx="1489.1" cy="997.8" r="2.85"/><circle cx="1483.2" cy="995.6" r="2.85"/><circle cx="1514" cy="998" r="2.85"/><circle cx="1479.6" cy="1007.9" r="2.85"/><circle cx="1504" cy="1023.9" r="2.85"/><circle cx="1507.3" cy="1043.6" r="2.85"/><circle cx="1496" cy="1014.1" r="2.85"/><circle cx="1515.5" cy="980.1" r="2.85"/><circle cx="1504.8" cy="966.4" r="2.85"/><circle cx="1518.7" cy="1016.9" r="2.85"/><circle cx="1506.6" cy="965" r="2.85"/><circle cx="1501.3" cy="1043.3" r="2.85"/><circle cx="1482.3" cy="972.5" r="2.85"/><circle cx="1514.2" cy="1035.4" r="2.85"/><circle cx="1483.7" cy="990.4" r="2.85"/><circle cx="1490.1" cy="1031.5" r="2.85"/><circle cx="1504.9" cy="1032" r="2.85"/><circle cx="1506.4" cy="1018.5" r="2.85"/><circle cx="1516" cy="956.4" r="2.85"/><circle cx="1516.8" cy="1022.8" r="2.85"/><circle cx="1515.8" cy="977.1" r="2.85"/><circle cx="1510.6" cy="993.6" r="2.85"/><circle cx="1494.3" cy="988.4" r="2.85"/><circle cx="1507.9" cy="988" r="2.85"/><circle cx="1485.3" cy="976.8" r="2.85"/><circle cx="1492" cy="1038.8" r="2.85"/><circle cx="1518.8" cy="865.7" r="2.85"/><circle cx="1504.6" cy="880.2" r="2.85"/><circle cx="1516.1" cy="889" r="2.85"/><circle cx="1485.7" cy="1101.4" r="2.85"/></g>
<text x="1358.78" y="1128.7" font-size="19.8" fill="#000" stroke="#000" stroke-width="0.36">Wilcoxon, p = 2.9e−06</text>
<line x1="127.2" y1="1522.17" x2="328.7" y2="1522.17" stroke="#ebebeb" stroke-width="1.1"/>
<line x1="127.2" y1="1454.42" x2="328.7" y2="1454.42" stroke="#ebebeb" stroke-width="1.1"/>
<line x1="127.2" y1="1386.67" x2="328.7" y2="1386.67" stroke="#ebebeb" stroke-width="1.1"/>
<line x1="127.2" y1="1318.92" x2="328.7" y2="1318.92" stroke="#ebebeb" stroke-width="1.1"/>
<line x1="127.2" y1="1251.17" x2="328.7" y2="1251.17" stroke="#ebebeb" stroke-width="1.1"/>
<line x1="127.2" y1="1488.3" x2="328.7" y2="1488.3" stroke="#e7e7e7" stroke-width="1.5"/>
<line x1="127.2" y1="1420.55" x2="328.7" y2="1420.55" stroke="#e7e7e7" stroke-width="1.5"/>
<line x1="127.2" y1="1352.8" x2="328.7" y2="1352.8" stroke="#e7e7e7" stroke-width="1.5"/>
<line x1="127.2" y1="1285.05" x2="328.7" y2="1285.05" stroke="#e7e7e7" stroke-width="1.5"/>
<line x1="182.15" y1="1247.8" x2="182.15" y2="1536.5" stroke="#e7e7e7" stroke-width="1.5"/>
<line x1="273.75" y1="1247.8" x2="273.75" y2="1536.5" stroke="#e7e7e7" stroke-width="1.5"/>
<text x="118.2" y="1495.75" font-size="20.8" fill="#4d4d4d" stroke="#4d4d4d" stroke-width="0.37" text-anchor="end">−1.0</text>
<text x="118.2" y="1428" font-size="20.8" fill="#4d4d4d" stroke="#4d4d4d" stroke-width="0.37" text-anchor="end">−0.5</text>
<text x="118.2" y="1360.25" font-size="20.8" fill="#4d4d4d" stroke="#4d4d4d" stroke-width="0.37" text-anchor="end">0.0</text>
<text x="118.2" y="1292.5" font-size="20.8" fill="#4d4d4d" stroke="#4d4d4d" stroke-width="0.37" text-anchor="end">0.5</text>
<text x="182.15" y="1563.9" font-size="25.3" fill="#4d4d4d" stroke="#4d4d4d" stroke-width="0.46" text-anchor="middle">Control</text>
<text x="273.75" y="1563.9" font-size="25.3" fill="#4d4d4d" stroke="#4d4d4d" stroke-width="0.46" text-anchor="middle">T1D</text>
<text x="227.95" y="1231.1" font-size="28.5" fill="#000" stroke="#000" stroke-width="0.51" text-anchor="middle">CD84</text>
<text x="72.8" y="1392.15" font-size="19.5" fill="#000" stroke="#000" stroke-width="0.35" text-anchor="middle" transform="rotate(-90 72.8 1392.15)">NPX</text>
<line x1="182.15" y1="1264.72" x2="182.15" y2="1329.63" stroke="#1e1e1e" stroke-width="1.8"/>
<line x1="182.15" y1="1374.07" x2="182.15" y2="1438.71" stroke="#1e1e1e" stroke-width="1.8"/>
<rect x="147.81" y="1329.63" width="68.69" height="44.44" fill="#bad8e4" stroke="#222" stroke-width="1.8"/>
<line x1="147.81" y1="1352.39" x2="216.5" y2="1352.39" stroke="#222" stroke-width="3"/>
<circle cx="182.15" cy="1447.65" r="3.9" fill="#2a2a2a"/>
<circle cx="182.15" cy="1471.36" r="3.9" fill="#2a2a2a"/>
<circle cx="182.15" cy="1472.04" r="3.9" fill="#2a2a2a"/>
<circle cx="182.15" cy="1495.08" r="3.9" fill="#2a2a2a"/>
<line x1="273.75" y1="1276.92" x2="273.75" y2="1342.64" stroke="#1e1e1e" stroke-width="1.8"/>
<line x1="273.75" y1="1397.51" x2="273.75" y2="1476.11" stroke="#1e1e1e" stroke-width="1.8"/>
<rect x="239.4" y="1342.64" width="68.69" height="54.88" fill="#bad8e4" stroke="#222" stroke-width="1.8"/>
<line x1="239.4" y1="1367.98" x2="308.09" y2="1367.98" stroke="#222" stroke-width="3"/>
<circle cx="273.75" cy="1260.66" r="3.9" fill="#2a2a2a"/>
<circle cx="273.75" cy="1484.23" r="3.9" fill="#2a2a2a"/>
<g fill="#000" fill-opacity="0.75"><circle cx="195.7" cy="1387.7" r="2.85"/><circle cx="188.5" cy="1335.1" r="2.85"/><circle cx="177.6" cy="1306.7" r="2.85"/><circle cx="180" cy="1331" r="2.85"/><circle cx="181.2" cy="1365.4" r="2.85"/><circle cx="185.4" cy="1357" r="2.85"/><circle cx="183.3" cy="1336.2" r="2.85"/><circle cx="167.6" cy="1312.9" r="2.85"/><circle cx="192.2" cy="1365.1" r="2.85"/><circle cx="177.2" cy="1365.6" r="2.85"/><circle cx="186.7" cy="1316" r="2.85"/><circle cx="175.2" cy="1345" r="2.85"/><circle cx="180.2" cy="1340.8" r="2.85"/><circle cx="200.3" cy="1336.1" r="2.85"/><circle cx="164.4" cy="1377.2" r="2.85"/><circle cx="187.3" cy="1357.1" r="2.85"/><circle cx="170.7" cy="1316.7" r="2.85"/><circle cx="198.8" cy="1357.3" r="2.85"/><circle cx="193.9" cy="1358.6" r="2.85"/><circle cx="194.3" cy="1342.3" r="2.85"/><circle cx="194.5" cy="1339.2" r="2.85"/><circle cx="176.4" cy="1267.2" r="2.85"/><circle cx="182.4" cy="1378.3" r="2.85"/><circle cx="197.6" cy="1347.5" r="2.85"/><circle cx="181.1" cy="1284.7" r="2.85"/><circle cx="198.3" cy="1351.1" r="2.85"/><circle cx="193.7" cy="1339.5" r="2.85"/><circle cx="181.7" cy="1399.7" r="2.85"/><circle cx="183.1" cy="1319.6" r="2.85"/><circle cx="182.9" cy="1323" r="2.85"/><circle cx="173.7" cy="1324.7" r="2.85"/><circle cx="176.7" cy="1358" r="2.85"/><circle cx="179.5" cy="1339.8" r="2.85"/><circle cx="183.4" cy="1354.3" r="2.85"/><circle cx="195.9" cy="1323.7" r="2.85"/><circle cx="181.6" cy="1352.6" r="2.85"/><circle cx="184.3" cy="1325.8" r="2.85"/><circle cx="189.7" cy="1395.7" r="2.85"/><circle cx="193.1" cy="1362.7" r="2.85"/><circle cx="199.5" cy="1438.7" r="2.85"/><circle cx="190.9" cy="1356.9" r="2.85"/><circle cx="185.8" cy="1326.3" r="2.85"/><circle cx="190.1" cy="1360.4" r="2.85"/><circle cx="168.3" cy="1273.4" r="2.85"/><circle cx="190.9" cy="1384.3" r="2.85"/><circle cx="171.9" cy="1363" r="2.85"/><circle cx="196.1" cy="1382" r="2.85"/><circle cx="195.8" cy="1368.2" r="2.85"/><circle cx="186.9" cy="1367.2" r="2.85"/><circle cx="198.2" cy="1400.4" r="2.85"/><circle cx="165.7" cy="1383.9" r="2.85"/><circle cx="166.6" cy="1284.2" r="2.85"/><circle cx="182" cy="1360.6" r="2.85"/><circle cx="171.1" cy="1321.6" r="2.85"/><circle cx="164.7" cy="1393.6" r="2.85"/><circle cx="199" cy="1355.9" r="2.85"/><circle cx="179.2" cy="1334.2" r="2.85"/><circle cx="194.6" cy="1357.7" r="2.85"/><circle cx="174.3" cy="1368.6" r="2.85"/><circle cx="187" cy="1358.2" r="2.85"/><circle cx="166.4" cy="1351.3" r="2.85"/><circle cx="186.5" cy="1324.3" r="2.85"/><circle cx="189.7" cy="1311.8" r="2.85"/><circle cx="186.4" cy="1395.3" r="2.85"/><circle cx="181.5" cy="1419.9" r="2.85"/><circle cx="190.9" cy="1358.4" r="2.85"/><circle cx="172.1" cy="1352.1" r="2.85"/><circle cx="188.6" cy="1328.2" r="2.85"/><circle cx="174.3" cy="1316.5" r="2.85"/><circle cx="166.2" cy="1373.5" r="2.85"/><circle cx="177.6" cy="1283.2" r="2.85"/><circle cx="191.4" cy="1343.7" r="2.85"/><circle cx="169.9" cy="1410.3" r="2.85"/><circle cx="192.2" cy="1320.1" r="2.85"/><circle cx="176.9" cy="1343" r="2.85"/><circle cx="181.9" cy="1342.7" r="2.85"/><circle cx="166.4" cy="1404.4" r="2.85"/><circle cx="170" cy="1362" r="2.85"/><circle cx="188.2" cy="1346.9" r="2.85"/><circle cx="197.3" cy="1357.2" r="2.85"/><circle cx="173.6" cy="1329.2" r="2.85"/><circle cx="189.1" cy="1310.2" r="2.85"/><circle cx="196.1" cy="1301.2" r="2.85"/><circle cx="194.8" cy="1310.3" r="2.85"/><circle cx="198.7" cy="1357" r="2.85"/><circle cx="167.8" cy="1294.7" r="2.85"/><circle cx="188.3" cy="1343.5" r="2.85"/><circle cx="174.5" cy="1323.6" r="2.85"/><circle cx="165.4" cy="1360.1" r="2.85"/><circle cx="182.1" cy="1397.9" r="2.85"/><circle cx="198.9" cy="1427" r="2.85"/><circle cx="176.5" cy="1346" r="2.85"/><circle cx="173.4" cy="1373.9" r="2.85"/><circle cx="200.1" cy="1352.5" r="2.85"/><circle cx="188.4" cy="1322.3" r="2.85"/><circle cx="169.6" cy="1402.3" r="2.85"/><circle cx="164.6" cy="1410.1" r="2.85"/><circle cx="166.9" cy="1343.5" r="2.85"/><circle cx="166.9" cy="1340" r="2.85"/><circle cx="196.3" cy="1361" r="2.85"/><circle cx="189.6" cy="1369.1" r="2.85"/><circle cx="170.5" cy="1404.5" r="2.85"/><circle cx="179.7" cy="1355" r="2.85"/><circle cx="180.3" cy="1376.1" r="2.85"/><circle cx="195.5" cy="1337.8" r="2.85"/><circle cx="199.5" cy="1320.5" r="2.85"/><circle cx="164.2" cy="1370.1" r="2.85"/><circle cx="164.8" cy="1338.3" r="2.85"/><circle cx="186.3" cy="1346.1" r="2.85"/><circle cx="165.8" cy="1328.8" r="2.85"/><circle cx="179" cy="1300.9" r="2.85"/><circle cx="187.2" cy="1330.1" r="2.85"/><circle cx="182.7" cy="1328.4" r="2.85"/><circle cx="170.6" cy="1325.6" r="2.85"/><circle cx="174.4" cy="1365.9" r="2.85"/><circle cx="183.6" cy="1352.5" r="2.85"/><circle cx="169.4" cy="1340.7" r="2.85"/><circle cx="197.9" cy="1310.7" r="2.85"/><circle cx="173.1" cy="1308.9" r="2.85"/><circle cx="194.8" cy="1276.1" r="2.85"/><circle cx="171" cy="1387.8" r="2.85"/><circle cx="182.1" cy="1353.6" r="2.85"/><circle cx="193.9" cy="1409" r="2.85"/><circle cx="188.2" cy="1369.5" r="2.85"/><circle cx="168.8" cy="1406.2" r="2.85"/><circle cx="173.3" cy="1313.1" r="2.85"/><circle cx="177.9" cy="1326.9" r="2.85"/><circle cx="182.4" cy="1387.2" r="2.85"/><circle cx="199.2" cy="1341" r="2.85"/><circle cx="176.6" cy="1327.5" r="2.85"/><circle cx="177.1" cy="1294" r="2.85"/><circle cx="183.5" cy="1324.4" r="2.85"/><circle cx="172.2" cy="1348" r="2.85"/><circle cx="194.3" cy="1355.2" r="2.85"/><circle cx="163.8" cy="1331.3" r="2.85"/><circle cx="191.4" cy="1342.1" r="2.85"/><circle cx="197.3" cy="1367.6" r="2.85"/><circle cx="176" cy="1392.1" r="2.85"/><circle cx="191.8" cy="1316.9" r="2.85"/><circle cx="190.4" cy="1375.4" r="2.85"/><circle cx="192.4" cy="1360.9" r="2.85"/><circle cx="188.2" cy="1325.5" r="2.85"/><circle cx="183.9" cy="1354.1" r="2.85"/><circle cx="174.2" cy="1314.3" r="2.85"/><circle cx="179.4" cy="1388.8" r="2.85"/><circle cx="168.1" cy="1326.7" r="2.85"/><circle cx="187.1" cy="1395.7" r="2.85"/><circle cx="182.7" cy="1401.5" r="2.85"/><circle cx="166.3" cy="1386.1" r="2.85"/><circle cx="167.9" cy="1348.3" r="2.85"/><circle cx="175.9" cy="1373.9" r="2.85"/><circle cx="171" cy="1397.4" r="2.85"/><circle cx="171" cy="1312" r="2.85"/><circle cx="192.2" cy="1383.5" r="2.85"/><circle cx="175.9" cy="1355.9" r="2.85"/><circle cx="166.2" cy="1343.8" r="2.85"/><circle cx="197.5" cy="1367.5" r="2.85"/><circle cx="198.8" cy="1340.1" r="2.85"/><circle cx="194.1" cy="1331.5" r="2.85"/><circle cx="180.4" cy="1355.5" r="2.85"/><circle cx="199.2" cy="1317.4" r="2.85"/><circle cx="197.1" cy="1371.2" r="2.85"/><circle cx="187.6" cy="1386.7" r="2.85"/><circle cx="189.4" cy="1345.5" r="2.85"/><circle cx="190.3" cy="1383.7" r="2.85"/><circle cx="183.9" cy="1339.6" r="2.85"/><circle cx="196.1" cy="1355.6" r="2.85"/><circle cx="195.5" cy="1367.3" r="2.85"/><circle cx="191.4" cy="1332.9" r="2.85"/><circle cx="189.8" cy="1334.3" r="2.85"/><circle cx="180.9" cy="1438.7" r="2.85"/><circle cx="176.2" cy="1362.5" r="2.85"/><circle cx="199.2" cy="1347.6" r="2.85"/><circle cx="185.1" cy="1335.9" r="2.85"/><circle cx="198.3" cy="1369.8" r="2.85"/><circle cx="172" cy="1389.7" r="2.85"/><circle cx="169.9" cy="1348.2" r="2.85"/><circle cx="190.8" cy="1329.5" r="2.85"/><circle cx="188.3" cy="1420.1" r="2.85"/><circle cx="179.1" cy="1401.6" r="2.85"/><circle cx="182.8" cy="1371.2" r="2.85"/><circle cx="197.9" cy="1437.9" r="2.85"/><circle cx="188.8" cy="1371.5" r="2.85"/><circle cx="184" cy="1324.7" r="2.85"/><circle cx="174.1" cy="1387" r="2.85"/><circle cx="170" cy="1347.7" r="2.85"/><circle cx="177.7" cy="1381.1" r="2.85"/><circle cx="175" cy="1338.2" r="2.85"/><circle cx="189.7" cy="1330.5" r="2.85"/><circle cx="200.2" cy="1308.6" r="2.85"/><circle cx="195.4" cy="1349.9" r="2.85"/><circle cx="174.2" cy="1317.1" r="2.85"/><circle cx="174.9" cy="1338.9" r="2.85"/><circle cx="185.8" cy="1367.6" r="2.85"/><circle cx="194.9" cy="1302.9" r="2.85"/><circle cx="175" cy="1371.6" r="2.85"/><circle cx="174.1" cy="1346.7" r="2.85"/><circle cx="181.4" cy="1270.2" r="2.85"/><circle cx="192.1" cy="1323.2" r="2.85"/><circle cx="180.5" cy="1379" r="2.85"/><circle cx="164.3" cy="1342.5" r="2.85"/><circle cx="189" cy="1370.2" r="2.85"/><circle cx="196.4" cy="1357.1" r="2.85"/><circle cx="189.2" cy="1401.8" r="2.85"/><circle cx="165.1" cy="1345.1" r="2.85"/><circle cx="173.8" cy="1403.4" r="2.85"/><circle cx="183" cy="1340" r="2.85"/><circle cx="182" cy="1339.9" r="2.85"/><circle cx="166.7" cy="1324" r="2.85"/><circle cx="174.3" cy="1277.5" r="2.85"/><circle cx="178.7" cy="1406.9" r="2.85"/><circle cx="182.3" cy="1391.5" r="2.85"/><circle cx="199.9" cy="1384.9" r="2.85"/><circle cx="190.1" cy="1370.7" r="2.85"/><circle cx="183.2" cy="1322.8" r="2.85"/><circle cx="164.2" cy="1363.3" r="2.85"/><circle cx="165" cy="1371.2" r="2.85"/><circle cx="192.2" cy="1389.3" r="2.85"/><circle cx="184.6" cy="1372.7" r="2.85"/><circle cx="188.6" cy="1366.6" r="2.85"/><circle cx="168.5" cy="1355.8" r="2.85"/><circle cx="199.6" cy="1399.5" r="2.85"/><circle cx="182.7" cy="1354.9" r="2.85"/><circle cx="184.9" cy="1333.4" r="2.85"/><circle cx="188.8" cy="1340.8" r="2.85"/><circle cx="187" cy="1393.3" r="2.85"/><circle cx="192.7" cy="1324.9" r="2.85"/><circle cx="171.5" cy="1325.4" r="2.85"/><circle cx="166.1" cy="1342.4" r="2.85"/><circle cx="179.3" cy="1392.7" r="2.85"/><circle cx="192.4" cy="1400.9" r="2.85"/><circle cx="191.5" cy="1351.1" r="2.85"/><circle cx="178.1" cy="1386" r="2.85"/><circle cx="191.2" cy="1396.3" r="2.85"/><circle cx="192.2" cy="1322.4" r="2.85"/><circle cx="193" cy="1321.8" r="2.85"/><circle cx="199" cy="1330.8" r="2.85"/><circle cx="180.8" cy="1308.4" r="2.85"/><circle cx="190.6" cy="1322.1" r="2.85"/><circle cx="197.4" cy="1390.3" r="2.85"/><circle cx="174.5" cy="1313.8" r="2.85"/><circle cx="199.9" cy="1348.4" r="2.85"/><circle cx="176.2" cy="1337.6" r="2.85"/><circle cx="188.2" cy="1299.7" r="2.85"/><circle cx="168.9" cy="1337.5" r="2.85"/><circle cx="170.8" cy="1299.4" r="2.85"/><circle cx="167.2" cy="1350.5" r="2.85"/><circle cx="187.2" cy="1364.7" r="2.85"/><circle cx="164.8" cy="1375.2" r="2.85"/><circle cx="181.5" cy="1356.8" r="2.85"/><circle cx="191.1" cy="1407.9" r="2.85"/><circle cx="173.8" cy="1354.4" r="2.85"/><circle cx="170.9" cy="1356.3" r="2.85"/><circle cx="199.1" cy="1369.6" r="2.85"/><circle cx="171.3" cy="1426.3" r="2.85"/><circle cx="185.3" cy="1423.5" r="2.85"/><circle cx="180.8" cy="1328.6" r="2.85"/><circle cx="197" cy="1383.6" r="2.85"/><circle cx="186.9" cy="1306.2" r="2.85"/><circle cx="181.5" cy="1375.5" r="2.85"/><circle cx="173.1" cy="1340.3" r="2.85"/><circle cx="194.5" cy="1400" r="2.85"/><circle cx="175.3" cy="1372.9" r="2.85"/><circle cx="193.6" cy="1359.5" r="2.85"/><circle cx="189.4" cy="1332.8" r="2.85"/><circle cx="184.1" cy="1295.7" r="2.85"/><circle cx="200.3" cy="1319.9" r="2.85"/><circle cx="187.5" cy="1400.2" r="2.85"/><circle cx="185.8" cy="1352.2" r="2.85"/><circle cx="189.7" cy="1357.8" r="2.85"/><circle cx="170" cy="1372.9" r="2.85"/><circle cx="179.9" cy="1332.5" r="2.85"/><circle cx="163.8" cy="1299.2" r="2.85"/><circle cx="168.8" cy="1367.1" r="2.85"/><circle cx="165.1" cy="1314.7" r="2.85"/><circle cx="184.9" cy="1447.6" r="2.85"/><circle cx="175.8" cy="1471.4" r="2.85"/><circle cx="170.2" cy="1472" r="2.85"/><circle cx="178.5" cy="1495.1" r="2.85"/></g>
<g fill="#000" fill-opacity="0.75"><circle cx="269.1" cy="1409.8" r="2.85"/><circle cx="287" cy="1427.6" r="2.85"/><circle cx="286.8" cy="1400.8" r="2.85"/><circle cx="287.9" cy="1368.8" r="2.85"/><circle cx="276.1" cy="1421.3" r="2.85"/><circle cx="259.8" cy="1344" r="2.85"/><circle cx="266.5" cy="1326.6" r="2.85"/><circle cx="268.4" cy="1347.1" r="2.85"/><circle cx="279.2" cy="1437.4" r="2.85"/><circle cx="267.9" cy="1464" r="2.85"/><circle cx="273.4" cy="1335.7" r="2.85"/><circle cx="268.7" cy="1314.7" r="2.85"/><circle cx="278.2" cy="1384.4" r="2.85"/><circle cx="261" cy="1347.8" r="2.85"/><circle cx="269.7" cy="1378.8" r="2.85"/><circle cx="287.6" cy="1394.8" r="2.85"/><circle cx="265.9" cy="1331.4" r="2.85"/><circle cx="273.3" cy="1391" r="2.85"/><circle cx="283.9" cy="1336.2" r="2.85"/><circle cx="280.8" cy="1306.8" r="2.85"/><circle cx="272.5" cy="1372.4" r="2.85"/><circle cx="258.1" cy="1301.7" r="2.85"/><circle cx="287.2" cy="1422.2" r="2.85"/><circle cx="289.1" cy="1333.9" r="2.85"/><circle cx="284.4" cy="1366.9" r="2.85"/><circle cx="283.5" cy="1278.2" r="2.85"/><circle cx="287.8" cy="1365.7" r="2.85"/><circle cx="287.4" cy="1401.3" r="2.85"/><circle cx="272.8" cy="1310" r="2.85"/><circle cx="269.8" cy="1431.2" r="2.85"/><circle cx="272.1" cy="1350.7" r="2.85"/><circle cx="260.3" cy="1400.1" r="2.85"/><circle cx="262.5" cy="1318.2" r="2.85"/><circle cx="280.6" cy="1371.6" r="2.85"/><circle cx="282.5" cy="1335.9" r="2.85"/><circle cx="280.8" cy="1368.8" r="2.85"/><circle cx="276.6" cy="1413.9" r="2.85"/><circle cx="261.1" cy="1456.5" r="2.85"/><circle cx="269.3" cy="1304.4" r="2.85"/><circle cx="290.3" cy="1358.6" r="2.85"/><circle cx="290.3" cy="1416" r="2.85"/><circle cx="266.2" cy="1380.8" r="2.85"/><circle cx="269.1" cy="1331.5" r="2.85"/><circle cx="262.2" cy="1429.8" r="2.85"/><circle cx="268.6" cy="1288" r="2.85"/><circle cx="271.8" cy="1378.1" r="2.85"/><circle cx="265.8" cy="1383.3" r="2.85"/><circle cx="288.7" cy="1321.5" r="2.85"/><circle cx="258.2" cy="1359.5" r="2.85"/><circle cx="271.5" cy="1410.1" r="2.85"/><circle cx="258" cy="1334" r="2.85"/><circle cx="268.6" cy="1350.6" r="2.85"/><circle cx="283.4" cy="1326.9" r="2.85"/><circle cx="259.1" cy="1406.9" r="2.85"/><circle cx="276.7" cy="1415.3" r="2.85"/><circle cx="276.4" cy="1344.1" r="2.85"/><circle cx="276.3" cy="1386.5" r="2.85"/><circle cx="273.8" cy="1457.2" r="2.85"/><circle cx="278.1" cy="1393.1" r="2.85"/><circle cx="265.1" cy="1344.1" r="2.85"/><circle cx="265.1" cy="1399.2" r="2.85"/><circle cx="283.9" cy="1321.9" r="2.85"/><circle cx="261.8" cy="1389.7" r="2.85"/><circle cx="285.6" cy="1371.9" r="2.85"/><circle cx="288.3" cy="1435.8" r="2.85"/><circle cx="276.3" cy="1402.4" r="2.85"/><circle cx="265.7" cy="1376" r="2.85"/><circle cx="271.4" cy="1346.2" r="2.85"/><circle cx="274.2" cy="1360.9" r="2.85"/><circle cx="281" cy="1329.4" r="2.85"/><circle cx="289.8" cy="1458.5" r="2.85"/><circle cx="271.1" cy="1367" r="2.85"/><circle cx="263" cy="1374.3" r="2.85"/><circle cx="266.7" cy="1412.5" r="2.85"/><circle cx="290.2" cy="1369.8" r="2.85"/><circle cx="263.2" cy="1400.4" r="2.85"/><circle cx="264.7" cy="1351.9" r="2.85"/><circle cx="256.6" cy="1383.1" r="2.85"/><circle cx="277.9" cy="1349" r="2.85"/><circle cx="272.7" cy="1407.1" r="2.85"/><circle cx="285.6" cy="1322.4" r="2.85"/><circle cx="278.9" cy="1353.1" r="2.85"/><circle cx="279.4" cy="1304.9" r="2.85"/><circle cx="280.5" cy="1373.9" r="2.85"/><circle cx="272.2" cy="1389.9" r="2.85"/><circle cx="266.3" cy="1362.9" r="2.85"/><circle cx="256.1" cy="1388.4" r="2.85"/><circle cx="270" cy="1412.4" r="2.85"/><circle cx="255.9" cy="1367.4" r="2.85"/><circle cx="263.2" cy="1370.8" r="2.85"/><circle cx="269.2" cy="1396.5" r="2.85"/><circle cx="274.6" cy="1384.8" r="2.85"/><circle cx="269.4" cy="1409.7" r="2.85"/><circle cx="263.3" cy="1362.5" r="2.85"/><circle cx="283" cy="1424.9" r="2.85"/><circle cx="267.1" cy="1307.7" r="2.85"/><circle cx="268.4" cy="1366.8" r="2.85"/><circle cx="263.6" cy="1333.4" r="2.85"/><circle cx="258" cy="1419.1" r="2.85"/><circle cx="283.1" cy="1355" r="2.85"/><circle cx="272.1" cy="1373.8" r="2.85"/><circle cx="275.7" cy="1332.1" r="2.85"/><circle cx="287.4" cy="1335.8" r="2.85"/><circle cx="287.8" cy="1436.9" r="2.85"/><circle cx="276.6" cy="1326.4" r="2.85"/><circle cx="290.1" cy="1431" r="2.85"/><circle cx="275.3" cy="1319.8" r="2.85"/><circle cx="287.7" cy="1370.3" r="2.85"/><circle cx="272.7" cy="1418.9" r="2.85"/><circle cx="265.2" cy="1341.5" r="2.85"/><circle cx="273.7" cy="1366.5" r="2.85"/><circle cx="261.3" cy="1410.5" r="2.85"/><circle cx="269.4" cy="1400.2" r="2.85"/><circle cx="263.8" cy="1350" r="2.85"/><circle cx="272" cy="1426.1" r="2.85"/><circle cx="258.8" cy="1405.3" r="2.85"/><circle cx="271.4" cy="1302.2" r="2.85"/><circle cx="276.3" cy="1401.4" r="2.85"/><circle cx="291.7" cy="1354" r="2.85"/><circle cx="292" cy="1351.1" r="2.85"/><circle cx="279.6" cy="1332.7" r="2.85"/><circle cx="272.1" cy="1335.5" r="2.85"/><circle cx="282.9" cy="1473.3" r="2.85"/><circle cx="289.2" cy="1389.3" r="2.85"/><circle cx="280.7" cy="1325.1" r="2.85"/><circle cx="262.4" cy="1402.4" r="2.85"/><circle cx="277.7" cy="1303.2" r="2.85"/><circle cx="273.7" cy="1358.5" r="2.85"/><circle cx="289" cy="1420" r="2.85"/><circle cx="279.8" cy="1346.6" r="2.85"/><circle cx="291" cy="1298.9" r="2.85"/><circle cx="257.1" cy="1397.4" r="2.85"/><circle cx="281" cy="1346.8" r="2.85"/><circle cx="263.4" cy="1406.2" r="2.85"/><circle cx="272.6" cy="1393.6" r="2.85"/><circle cx="286.3" cy="1363.6" r="2.85"/><circle cx="291.9" cy="1348.5" r="2.85"/><circle cx="263.6" cy="1354.5" r="2.85"/><circle cx="287" cy="1359.9" r="2.85"/><circle cx="260.2" cy="1282.9" r="2.85"/><circle cx="266.6" cy="1260.7" r="2.85"/><circle cx="263.4" cy="1484.2" r="2.85"/></g>
<text x="145.04" y="1524.2" font-size="19.8" fill="#000" stroke="#000" stroke-width="0.36">Wilcoxon, p = 5.3e−06</text>
<line x1="417" y1="1451.47" x2="636.1" y2="1451.47" stroke="#ebebeb" stroke-width="1.1"/>
<line x1="417" y1="1365.93" x2="636.1" y2="1365.93" stroke="#ebebeb" stroke-width="1.1"/>
<line x1="417" y1="1280.39" x2="636.1" y2="1280.39" stroke="#ebebeb" stroke-width="1.1"/>
<line x1="417" y1="1494.24" x2="636.1" y2="1494.24" stroke="#e7e7e7" stroke-width="1.5"/>
<line x1="417" y1="1408.7" x2="636.1" y2="1408.7" stroke="#e7e7e7" stroke-width="1.5"/>
<line x1="417" y1="1323.16" x2="636.1" y2="1323.16" stroke="#e7e7e7" stroke-width="1.5"/>
<line x1="476.75" y1="1247.8" x2="476.75" y2="1536.5" stroke="#e7e7e7" stroke-width="1.5"/>
<line x1="576.35" y1="1247.8" x2="576.35" y2="1536.5" stroke="#e7e7e7" stroke-width="1.5"/>
<text x="408" y="1501.69" font-size="20.8" fill="#4d4d4d" stroke="#4d4d4d" stroke-width="0.37" text-anchor="end">−2</text>
<text x="408" y="1416.15" font-size="20.8" fill="#4d4d4d" stroke="#4d4d4d" stroke-width="0.37" text-anchor="end">0</text>
<text x="408" y="1330.61" font-size="20.8" fill="#4d4d4d" stroke="#4d4d4d" stroke-width="0.37" text-anchor="end">2</text>
<text x="476.75" y="1563.9" font-size="25.3" fill="#4d4d4d" stroke="#4d4d4d" stroke-width="0.46" text-anchor="middle">Control</text>
<text x="576.35" y="1563.9" font-size="25.3" fill="#4d4d4d" stroke="#4d4d4d" stroke-width="0.46" text-anchor="middle">T1D</text>
<text x="526.55" y="1231.1" font-size="28.5" fill="#000" stroke="#000" stroke-width="0.51" text-anchor="middle">SPINT2</text>
<text x="380.2" y="1392.15" font-size="19.5" fill="#000" stroke="#000" stroke-width="0.35" text-anchor="middle" transform="rotate(-90 380.2 1392.15)">NPX</text>
<line x1="476.75" y1="1351.82" x2="476.75" y2="1393.73" stroke="#1e1e1e" stroke-width="1.8"/>
<line x1="476.75" y1="1422.39" x2="476.75" y2="1460.45" stroke="#1e1e1e" stroke-width="1.8"/>
<rect x="439.41" y="1393.73" width="74.69" height="28.66" fill="#bad8e4" stroke="#222" stroke-width="1.8"/>
<line x1="439.41" y1="1410.41" x2="514.1" y2="1410.41" stroke="#222" stroke-width="3"/>
<circle cx="476.75" cy="1261.14" r="3.9" fill="#2a2a2a"/>
<circle cx="476.75" cy="1297.5" r="3.9" fill="#2a2a2a"/>
<circle cx="476.75" cy="1310.33" r="3.9" fill="#2a2a2a"/>
<circle cx="476.75" cy="1327.44" r="3.9" fill="#2a2a2a"/>
<circle cx="476.75" cy="1329.58" r="3.9" fill="#2a2a2a"/>
<circle cx="476.75" cy="1340.27" r="3.9" fill="#2a2a2a"/>
<circle cx="476.75" cy="1344.55" r="3.9" fill="#2a2a2a"/>
<circle cx="476.75" cy="1483.55" r="3.9" fill="#2a2a2a"/>
<line x1="576.35" y1="1368.92" x2="576.35" y2="1404.42" stroke="#1e1e1e" stroke-width="1.8"/>
<line x1="576.35" y1="1430.94" x2="576.35" y2="1467.29" stroke="#1e1e1e" stroke-width="1.8"/>
<rect x="539" y="1404.42" width="74.69" height="26.52" fill="#bad8e4" stroke="#222" stroke-width="1.8"/>
<line x1="539" y1="1421.53" x2="613.69" y2="1421.53" stroke="#222" stroke-width="3"/>
<circle cx="576.35" cy="1267.56" r="3.9" fill="#2a2a2a"/>
<circle cx="576.35" cy="1353.1" r="3.9" fill="#2a2a2a"/>
<circle cx="576.35" cy="1355.24" r="3.9" fill="#2a2a2a"/>
<circle cx="576.35" cy="1363.79" r="3.9" fill="#2a2a2a"/>
<circle cx="576.35" cy="1502.79" r="3.9" fill="#2a2a2a"/>
<g fill="#000" fill-opacity="0.75"><circle cx="487.2" cy="1417.2" r="2.85"/><circle cx="462.2" cy="1372.3" r="2.85"/><circle cx="482.1" cy="1395.8" r="2.85"/><circle cx="462.7" cy="1414" r="2.85"/><circle cx="481.5" cy="1396.8" r="2.85"/><circle cx="462.2" cy="1374.4" r="2.85"/><circle cx="463.1" cy="1374.9" r="2.85"/><circle cx="461.8" cy="1391.3" r="2.85"/><circle cx="478.2" cy="1411.7" r="2.85"/><circle cx="461.5" cy="1389.6" r="2.85"/><circle cx="471.3" cy="1404.4" r="2.85"/><circle cx="473.8" cy="1405.6" r="2.85"/><circle cx="496.2" cy="1403.3" r="2.85"/><circle cx="487.9" cy="1367.9" r="2.85"/><circle cx="480.1" cy="1432.6" r="2.85"/><circle cx="486" cy="1411.4" r="2.85"/><circle cx="457.3" cy="1430.5" r="2.85"/><circle cx="471.5" cy="1388.8" r="2.85"/><circle cx="468.3" cy="1383.4" r="2.85"/><circle cx="483.2" cy="1378" r="2.85"/><circle cx="462" cy="1416.4" r="2.85"/><circle cx="494.5" cy="1408.5" r="2.85"/><circle cx="469.7" cy="1390.9" r="2.85"/><circle cx="491.6" cy="1405.2" r="2.85"/><circle cx="490.7" cy="1402.4" r="2.85"/><circle cx="475.4" cy="1404.8" r="2.85"/><circle cx="456.9" cy="1402.9" r="2.85"/><circle cx="461.6" cy="1412" r="2.85"/><circle cx="472.2" cy="1398.7" r="2.85"/><circle cx="486.2" cy="1437.8" r="2.85"/><circle cx="475.8" cy="1417.5" r="2.85"/><circle cx="494.2" cy="1435.1" r="2.85"/><circle cx="492.9" cy="1411.5" r="2.85"/><circle cx="469.8" cy="1423.1" r="2.85"/><circle cx="496.2" cy="1396.3" r="2.85"/><circle cx="477.9" cy="1380" r="2.85"/><circle cx="459.8" cy="1433.3" r="2.85"/><circle cx="458.3" cy="1424.1" r="2.85"/><circle cx="471.5" cy="1401.4" r="2.85"/><circle cx="473.4" cy="1376" r="2.85"/><circle cx="464" cy="1390.7" r="2.85"/><circle cx="492.7" cy="1398.6" r="2.85"/><circle cx="469.2" cy="1410.9" r="2.85"/><circle cx="487.6" cy="1417.8" r="2.85"/><circle cx="465.5" cy="1400" r="2.85"/><circle cx="474.1" cy="1397.1" r="2.85"/><circle cx="472.1" cy="1405.6" r="2.85"/><circle cx="487.4" cy="1420.3" r="2.85"/><circle cx="471.4" cy="1440.6" r="2.85"/><circle cx="465.7" cy="1425.5" r="2.85"/><circle cx="490.2" cy="1416.6" r="2.85"/><circle cx="482.7" cy="1431.7" r="2.85"/><circle cx="463.6" cy="1401.6" r="2.85"/><circle cx="466.3" cy="1436.9" r="2.85"/><circle cx="460.8" cy="1415.4" r="2.85"/><circle cx="490" cy="1400.9" r="2.85"/><circle cx="473.5" cy="1389.9" r="2.85"/><circle cx="489.9" cy="1403.6" r="2.85"/><circle cx="480.1" cy="1381.2" r="2.85"/><circle cx="488.5" cy="1420.6" r="2.85"/><circle cx="487" cy="1424" r="2.85"/><circle cx="475.4" cy="1383.8" r="2.85"/><circle cx="467" cy="1426.1" r="2.85"/><circle cx="472.4" cy="1412.7" r="2.85"/><circle cx="478" cy="1443.1" r="2.85"/><circle cx="496.5" cy="1383.1" r="2.85"/><circle cx="468.3" cy="1392" r="2.85"/><circle cx="486.2" cy="1423.5" r="2.85"/><circle cx="467" cy="1443.4" r="2.85"/><circle cx="482" cy="1403.4" r="2.85"/><circle cx="486.1" cy="1403" r="2.85"/><circle cx="456.9" cy="1382.2" r="2.85"/><circle cx="485.9" cy="1367.1" r="2.85"/><circle cx="491.4" cy="1403.9" r="2.85"/><circle cx="492.9" cy="1413.9" r="2.85"/><circle cx="491.7" cy="1414.2" r="2.85"/><circle cx="472" cy="1415.4" r="2.85"/><circle cx="462.7" cy="1435.9" r="2.85"/><circle cx="470.4" cy="1426.5" r="2.85"/><circle cx="491.9" cy="1411.6" r="2.85"/><circle cx="483.8" cy="1441.4" r="2.85"/><circle cx="477" cy="1434.8" r="2.85"/><circle cx="457.1" cy="1381.1" r="2.85"/><circle cx="459.7" cy="1422.1" r="2.85"/><circle cx="478.9" cy="1390.3" r="2.85"/><circle cx="491.5" cy="1383.8" r="2.85"/><circle cx="481.1" cy="1409.6" r="2.85"/><circle cx="471.2" cy="1389.7" r="2.85"/><circle cx="457.1" cy="1413.2" r="2.85"/><circle cx="465.2" cy="1426" r="2.85"/><circle cx="481.4" cy="1411.9" r="2.85"/><circle cx="468.5" cy="1408.1" r="2.85"/><circle cx="478.2" cy="1406.8" r="2.85"/><circle cx="458.4" cy="1408" r="2.85"/><circle cx="478.3" cy="1417.1" r="2.85"/><circle cx="475.2" cy="1384.5" r="2.85"/><circle cx="457.7" cy="1413.5" r="2.85"/><circle cx="489.5" cy="1417.4" r="2.85"/><circle cx="488.2" cy="1387.5" r="2.85"/><circle cx="461.4" cy="1428.4" r="2.85"/><circle cx="481.8" cy="1409.8" r="2.85"/><circle cx="491" cy="1375.5" r="2.85"/><circle cx="477.3" cy="1408.1" r="2.85"/><circle cx="486.8" cy="1376.6" r="2.85"/><circle cx="461.7" cy="1414.4" r="2.85"/><circle cx="459.2" cy="1418.9" r="2.85"/><circle cx="466.2" cy="1412.7" r="2.85"/><circle cx="487.4" cy="1419.8" r="2.85"/><circle cx="468.3" cy="1416.2" r="2.85"/><circle cx="490.5" cy="1417.6" r="2.85"/><circle cx="459.5" cy="1390.1" r="2.85"/><circle cx="476" cy="1399.5" r="2.85"/><circle cx="474.2" cy="1413.5" r="2.85"/><circle cx="489.2" cy="1423.2" r="2.85"/><circle cx="483.5" cy="1351.8" r="2.85"/><circle cx="486.4" cy="1413.3" r="2.85"/><circle cx="481" cy="1376.9" r="2.85"/><circle cx="463.1" cy="1431.7" r="2.85"/><circle cx="487.1" cy="1423" r="2.85"/><circle cx="485.5" cy="1380.7" r="2.85"/><circle cx="486" cy="1430.1" r="2.85"/><circle cx="475.2" cy="1429.5" r="2.85"/><circle cx="473.7" cy="1410.7" r="2.85"/><circle cx="462.7" cy="1422.8" r="2.85"/><circle cx="489.3" cy="1414.9" r="2.85"/><circle cx="474.2" cy="1405.6" r="2.85"/><circle cx="494.9" cy="1388.5" r="2.85"/><circle cx="467.7" cy="1404.9" r="2.85"/><circle cx="476.1" cy="1402.1" r="2.85"/><circle cx="470.8" cy="1378.6" r="2.85"/><circle cx="481" cy="1376.6" r="2.85"/><circle cx="495.4" cy="1416" r="2.85"/><circle cx="465.7" cy="1445.1" r="2.85"/><circle cx="472.2" cy="1428.3" r="2.85"/><circle cx="468.6" cy="1384.1" r="2.85"/><circle cx="460.6" cy="1418.2" r="2.85"/><circle cx="458.3" cy="1422.3" r="2.85"/><circle cx="496.4" cy="1417.7" r="2.85"/><circle cx="470" cy="1372.7" r="2.85"/><circle cx="485" cy="1407.9" r="2.85"/><circle cx="488" cy="1416.4" r="2.85"/><circle cx="482.4" cy="1422.1" r="2.85"/><circle cx="467.4" cy="1430" r="2.85"/><circle cx="483.6" cy="1351.8" r="2.85"/><circle cx="493.5" cy="1410.3" r="2.85"/><circle cx="475.1" cy="1405.6" r="2.85"/><circle cx="492.4" cy="1415.3" r="2.85"/><circle cx="491.1" cy="1384.1" r="2.85"/><circle cx="487.6" cy="1428.2" r="2.85"/><circle cx="484.6" cy="1446.3" r="2.85"/><circle cx="495" cy="1419.9" r="2.85"/><circle cx="476.8" cy="1400.9" r="2.85"/><circle cx="493.5" cy="1358" r="2.85"/><circle cx="460.3" cy="1411" r="2.85"/><circle cx="485.1" cy="1425.3" r="2.85"/><circle cx="461.6" cy="1413.7" r="2.85"/><circle cx="471.6" cy="1423.7" r="2.85"/><circle cx="480.1" cy="1423.8" r="2.85"/><circle cx="484.4" cy="1407" r="2.85"/><circle cx="484" cy="1401.9" r="2.85"/><circle cx="464" cy="1421.4" r="2.85"/><circle cx="460.4" cy="1383.4" r="2.85"/><circle cx="462.5" cy="1410.9" r="2.85"/><circle cx="481.5" cy="1406.4" r="2.85"/><circle cx="464" cy="1418.8" r="2.85"/><circle cx="493.3" cy="1400.1" r="2.85"/><circle cx="483.9" cy="1399" r="2.85"/><circle cx="468.9" cy="1392.8" r="2.85"/><circle cx="482" cy="1424.3" r="2.85"/><circle cx="459.8" cy="1393.5" r="2.85"/><circle cx="480.9" cy="1419.7" r="2.85"/><circle cx="463" cy="1406.7" r="2.85"/><circle cx="482" cy="1391" r="2.85"/><circle cx="468" cy="1374.1" r="2.85"/><circle cx="478.9" cy="1417.5" r="2.85"/><circle cx="484.8" cy="1430.1" r="2.85"/><circle cx="465.6" cy="1405.6" r="2.85"/><circle cx="459.2" cy="1380.5" r="2.85"/><circle cx="462.5" cy="1415.3" r="2.85"/><circle cx="490.2" cy="1354" r="2.85"/><circle cx="494.7" cy="1445.5" r="2.85"/><circle cx="479.8" cy="1374.3" r="2.85"/><circle cx="460.2" cy="1381.7" r="2.85"/><circle cx="480.7" cy="1382.9" r="2.85"/><circle cx="470.3" cy="1424.5" r="2.85"/><circle cx="463.7" cy="1377.4" r="2.85"/><circle cx="486.6" cy="1381.5" r="2.85"/><circle cx="491.3" cy="1379.8" r="2.85"/><circle cx="478.1" cy="1413.4" r="2.85"/><circle cx="479.7" cy="1413.7" r="2.85"/><circle cx="494.5" cy="1378.8" r="2.85"/><circle cx="456.9" cy="1400.3" r="2.85"/><circle cx="491" cy="1415.8" r="2.85"/><circle cx="493.9" cy="1424.5" r="2.85"/><circle cx="490.6" cy="1402.4" r="2.85"/><circle cx="478.8" cy="1434.9" r="2.85"/><circle cx="492.3" cy="1394.6" r="2.85"/><circle cx="476.6" cy="1405.1" r="2.85"/><circle cx="471.5" cy="1438.8" r="2.85"/><circle cx="476.7" cy="1397.7" r="2.85"/><circle cx="458.6" cy="1380.8" r="2.85"/><circle cx="458" cy="1402.8" r="2.85"/><circle cx="477.5" cy="1434.4" r="2.85"/><circle cx="480.3" cy="1420.2" r="2.85"/><circle cx="459.6" cy="1388.8" r="2.85"/><circle cx="487.3" cy="1433.8" r="2.85"/><circle cx="462.8" cy="1416.1" r="2.85"/><circle cx="465.3" cy="1382.1" r="2.85"/><circle cx="475.8" cy="1414.5" r="2.85"/><circle cx="487.7" cy="1419.8" r="2.85"/><circle cx="476.3" cy="1389.5" r="2.85"/><circle cx="492.7" cy="1371.9" r="2.85"/><circle cx="487" cy="1399.2" r="2.85"/><circle cx="479.2" cy="1434.4" r="2.85"/><circle cx="491.5" cy="1440.1" r="2.85"/><circle cx="470.7" cy="1414" r="2.85"/><circle cx="479.9" cy="1444" r="2.85"/><circle cx="482.5" cy="1411" r="2.85"/><circle cx="460.5" cy="1387.3" r="2.85"/><circle cx="467.3" cy="1460.5" r="2.85"/><circle cx="496" cy="1412.7" r="2.85"/><circle cx="469" cy="1401.1" r="2.85"/><circle cx="493.1" cy="1419.2" r="2.85"/><circle cx="458.9" cy="1399.4" r="2.85"/><circle cx="466.8" cy="1396.7" r="2.85"/><circle cx="466.1" cy="1384.3" r="2.85"/><circle cx="456.9" cy="1351.8" r="2.85"/><circle cx="485.7" cy="1401.2" r="2.85"/><circle cx="466.1" cy="1426" r="2.85"/><circle cx="480.2" cy="1428.5" r="2.85"/><circle cx="460.7" cy="1432.7" r="2.85"/><circle cx="479.7" cy="1391.7" r="2.85"/><circle cx="476.6" cy="1400.7" r="2.85"/><circle cx="475.6" cy="1397.6" r="2.85"/><circle cx="488.3" cy="1404.2" r="2.85"/><circle cx="470.8" cy="1372.3" r="2.85"/><circle cx="485.3" cy="1383.3" r="2.85"/><circle cx="489" cy="1385.1" r="2.85"/><circle cx="466.5" cy="1421.7" r="2.85"/><circle cx="468.7" cy="1415.3" r="2.85"/><circle cx="481.2" cy="1434.1" r="2.85"/><circle cx="464.1" cy="1421.2" r="2.85"/><circle cx="457" cy="1407" r="2.85"/><circle cx="481.1" cy="1432.5" r="2.85"/><circle cx="484.9" cy="1421" r="2.85"/><circle cx="461.1" cy="1363" r="2.85"/><circle cx="479.6" cy="1412.9" r="2.85"/><circle cx="475.7" cy="1438.1" r="2.85"/><circle cx="477.2" cy="1433" r="2.85"/><circle cx="494.1" cy="1411.1" r="2.85"/><circle cx="458.6" cy="1388.8" r="2.85"/><circle cx="464.2" cy="1411.1" r="2.85"/><circle cx="460.1" cy="1388.3" r="2.85"/><circle cx="481.5" cy="1401.4" r="2.85"/><circle cx="491.2" cy="1430.3" r="2.85"/><circle cx="478.2" cy="1384.7" r="2.85"/><circle cx="458.1" cy="1417.7" r="2.85"/><circle cx="476.9" cy="1366" r="2.85"/><circle cx="461.2" cy="1420.1" r="2.85"/><circle cx="460.3" cy="1412.1" r="2.85"/><circle cx="468.9" cy="1419.3" r="2.85"/><circle cx="490.8" cy="1414.3" r="2.85"/><circle cx="484.6" cy="1397.8" r="2.85"/><circle cx="496.1" cy="1412.9" r="2.85"/><circle cx="476" cy="1381.3" r="2.85"/><circle cx="464.3" cy="1398.5" r="2.85"/><circle cx="471.3" cy="1372.5" r="2.85"/><circle cx="460.2" cy="1407.4" r="2.85"/><circle cx="472.8" cy="1378.9" r="2.85"/><circle cx="480.8" cy="1380.8" r="2.85"/><circle cx="483" cy="1412" r="2.85"/><circle cx="495.5" cy="1351.8" r="2.85"/><circle cx="471.9" cy="1373.9" r="2.85"/><circle cx="460.3" cy="1395.4" r="2.85"/><circle cx="491.2" cy="1412.9" r="2.85"/><circle cx="463.8" cy="1261.1" r="2.85"/><circle cx="469.8" cy="1297.5" r="2.85"/><circle cx="462.5" cy="1310.3" r="2.85"/><circle cx="485.1" cy="1327.4" r="2.85"/><circle cx="492" cy="1329.6" r="2.85"/><circle cx="465.2" cy="1340.3" r="2.85"/><circle cx="479.9" cy="1344.5" r="2.85"/><circle cx="457.8" cy="1483.5" r="2.85"/></g>
<g fill="#000" fill-opacity="0.75"><circle cx="587.2" cy="1431.4" r="2.85"/><circle cx="561.5" cy="1413.2" r="2.85"/><circle cx="578.4" cy="1423.9" r="2.85"/><circle cx="580" cy="1433.4" r="2.85"/><circle cx="567.2" cy="1437.6" r="2.85"/><circle cx="560.9" cy="1413.6" r="2.85"/><circle cx="572.5" cy="1429.7" r="2.85"/><circle cx="565.7" cy="1393.5" r="2.85"/><circle cx="571.7" cy="1415.4" r="2.85"/><circle cx="562" cy="1424.3" r="2.85"/><circle cx="572.4" cy="1398" r="2.85"/><circle cx="593.1" cy="1440.3" r="2.85"/><circle cx="556.8" cy="1398" r="2.85"/><circle cx="579.2" cy="1431" r="2.85"/><circle cx="573" cy="1401.7" r="2.85"/><circle cx="590.1" cy="1430.5" r="2.85"/><circle cx="587" cy="1435.6" r="2.85"/><circle cx="574.4" cy="1453.3" r="2.85"/><circle cx="566.6" cy="1419" r="2.85"/><circle cx="594" cy="1407.4" r="2.85"/><circle cx="589.1" cy="1444.6" r="2.85"/><circle cx="591.6" cy="1382" r="2.85"/><circle cx="559.8" cy="1420.7" r="2.85"/><circle cx="572.1" cy="1439.4" r="2.85"/><circle cx="575.1" cy="1378.6" r="2.85"/><circle cx="568.2" cy="1426.8" r="2.85"/><circle cx="565.3" cy="1388.1" r="2.85"/><circle cx="569.4" cy="1467.3" r="2.85"/><circle cx="563.2" cy="1374.9" r="2.85"/><circle cx="594.5" cy="1415.5" r="2.85"/><circle cx="592.3" cy="1420.6" r="2.85"/><circle cx="581.2" cy="1412.1" r="2.85"/><circle cx="579.2" cy="1440.1" r="2.85"/><circle cx="595.9" cy="1398.5" r="2.85"/><circle cx="576.3" cy="1409" r="2.85"/><circle cx="586.8" cy="1412.2" r="2.85"/><circle cx="557.7" cy="1429.3" r="2.85"/><circle cx="573.3" cy="1440.3" r="2.85"/><circle cx="564.1" cy="1411.2" r="2.85"/><circle cx="559.8" cy="1400.6" r="2.85"/><circle cx="590" cy="1417.1" r="2.85"/><circle cx="585.6" cy="1424" r="2.85"/><circle cx="570.6" cy="1428.6" r="2.85"/><circle cx="561.3" cy="1402.6" r="2.85"/><circle cx="588.2" cy="1388.6" r="2.85"/><circle cx="570.5" cy="1423.3" r="2.85"/><circle cx="587.6" cy="1434.3" r="2.85"/><circle cx="580.6" cy="1369.3" r="2.85"/><circle cx="585.1" cy="1448" r="2.85"/><circle cx="580.2" cy="1414" r="2.85"/><circle cx="594.7" cy="1422.6" r="2.85"/><circle cx="566" cy="1391.3" r="2.85"/><circle cx="591.2" cy="1423.1" r="2.85"/><circle cx="581.3" cy="1450.1" r="2.85"/><circle cx="584.1" cy="1439.8" r="2.85"/><circle cx="595.6" cy="1418" r="2.85"/><circle cx="557.8" cy="1421.4" r="2.85"/><circle cx="567.1" cy="1430.7" r="2.85"/><circle cx="585.3" cy="1429.2" r="2.85"/><circle cx="587.9" cy="1448.1" r="2.85"/><circle cx="566.4" cy="1446.6" r="2.85"/><circle cx="575.2" cy="1430.2" r="2.85"/><circle cx="590.7" cy="1431.1" r="2.85"/><circle cx="595.2" cy="1423.2" r="2.85"/><circle cx="595.1" cy="1440.6" r="2.85"/><circle cx="564.8" cy="1386.6" r="2.85"/><circle cx="571.6" cy="1451.8" r="2.85"/><circle cx="573.6" cy="1399.7" r="2.85"/><circle cx="575.7" cy="1406.3" r="2.85"/><circle cx="590.7" cy="1386" r="2.85"/><circle cx="575.7" cy="1389.8" r="2.85"/><circle cx="568.1" cy="1443.1" r="2.85"/><circle cx="581.6" cy="1411.1" r="2.85"/><circle cx="587.8" cy="1401.5" r="2.85"/><circle cx="580.6" cy="1398" r="2.85"/><circle cx="593.4" cy="1406.7" r="2.85"/><circle cx="595.5" cy="1429" r="2.85"/><circle cx="586.2" cy="1391.3" r="2.85"/><circle cx="591.8" cy="1422.4" r="2.85"/><circle cx="559.9" cy="1427.7" r="2.85"/><circle cx="579.6" cy="1415.1" r="2.85"/><circle cx="557.4" cy="1427.1" r="2.85"/><circle cx="567.2" cy="1430.3" r="2.85"/><circle cx="582" cy="1416.7" r="2.85"/><circle cx="583.8" cy="1368.9" r="2.85"/><circle cx="589.4" cy="1411.5" r="2.85"/><circle cx="589.8" cy="1417.7" r="2.85"/><circle cx="567.2" cy="1427" r="2.85"/><circle cx="574.1" cy="1410.6" r="2.85"/><circle cx="587.1" cy="1439.8" r="2.85"/><circle cx="564.8" cy="1407.1" r="2.85"/><circle cx="591.5" cy="1412.7" r="2.85"/><circle cx="557.7" cy="1417.4" r="2.85"/><circle cx="571.5" cy="1407.3" r="2.85"/><circle cx="558.1" cy="1423.4" r="2.85"/><circle cx="567.7" cy="1403" r="2.85"/><circle cx="590" cy="1405.7" r="2.85"/><circle cx="595.6" cy="1405.1" r="2.85"/><circle cx="573.4" cy="1419.6" r="2.85"/><circle cx="565.9" cy="1398.8" r="2.85"/><circle cx="569.3" cy="1423.1" r="2.85"/><circle cx="589.9" cy="1391.2" r="2.85"/><circle cx="564.1" cy="1422.1" r="2.85"/><circle cx="587" cy="1391.4" r="2.85"/><circle cx="568.8" cy="1413.1" r="2.85"/><circle cx="566.4" cy="1420.5" r="2.85"/><circle cx="592.1" cy="1436.3" r="2.85"/><circle cx="565.2" cy="1403.5" r="2.85"/><circle cx="593.9" cy="1410.3" r="2.85"/><circle cx="574.1" cy="1418.4" r="2.85"/><circle cx="596.1" cy="1409" r="2.85"/><circle cx="585.5" cy="1416.2" r="2.85"/><circle cx="589.7" cy="1434.6" r="2.85"/><circle cx="578.1" cy="1439.6" r="2.85"/><circle cx="595.1" cy="1403.5" r="2.85"/><circle cx="584.9" cy="1414.9" r="2.85"/><circle cx="573.8" cy="1386.7" r="2.85"/><circle cx="558.7" cy="1377.4" r="2.85"/><circle cx="564" cy="1399.8" r="2.85"/><circle cx="590.9" cy="1403.3" r="2.85"/><circle cx="594" cy="1404.8" r="2.85"/><circle cx="557.7" cy="1416.8" r="2.85"/><circle cx="572.8" cy="1429.6" r="2.85"/><circle cx="574.3" cy="1467.3" r="2.85"/><circle cx="562.8" cy="1401" r="2.85"/><circle cx="557.8" cy="1404.3" r="2.85"/><circle cx="590.7" cy="1418.7" r="2.85"/><circle cx="589.5" cy="1416.2" r="2.85"/><circle cx="591.7" cy="1397" r="2.85"/><circle cx="568.3" cy="1398.1" r="2.85"/><circle cx="591.8" cy="1414.5" r="2.85"/><circle cx="595.3" cy="1424" r="2.85"/><circle cx="588.2" cy="1404" r="2.85"/><circle cx="570.2" cy="1400.3" r="2.85"/><circle cx="571.4" cy="1373.6" r="2.85"/><circle cx="576.4" cy="1434.3" r="2.85"/><circle cx="592.9" cy="1406.6" r="2.85"/><circle cx="576.3" cy="1433.8" r="2.85"/><circle cx="573.4" cy="1426.9" r="2.85"/><circle cx="558.9" cy="1371" r="2.85"/><circle cx="569.4" cy="1267.6" r="2.85"/><circle cx="564.8" cy="1353.1" r="2.85"/><circle cx="575.3" cy="1355.2" r="2.85"/><circle cx="575.4" cy="1363.8" r="2.85"/><circle cx="564.2" cy="1502.8" r="2.85"/></g>
<text x="436.44" y="1524.2" font-size="19.8" fill="#000" stroke="#000" stroke-width="0.36">Wilcoxon, p = 1.3e−05</text>
<line x1="724.3" y1="1532.9" x2="943.9" y2="1532.9" stroke="#ebebeb" stroke-width="1.1"/>
<line x1="724.3" y1="1465.9" x2="943.9" y2="1465.9" stroke="#ebebeb" stroke-width="1.1"/>
<line x1="724.3" y1="1398.9" x2="943.9" y2="1398.9" stroke="#ebebeb" stroke-width="1.1"/>
<line x1="724.3" y1="1331.9" x2="943.9" y2="1331.9" stroke="#ebebeb" stroke-width="1.1"/>
<line x1="724.3" y1="1264.9" x2="943.9" y2="1264.9" stroke="#ebebeb" stroke-width="1.1"/>
<line x1="724.3" y1="1499.4" x2="943.9" y2="1499.4" stroke="#e7e7e7" stroke-width="1.5"/>
<line x1="724.3" y1="1432.4" x2="943.9" y2="1432.4" stroke="#e7e7e7" stroke-width="1.5"/>
<line x1="724.3" y1="1365.4" x2="943.9" y2="1365.4" stroke="#e7e7e7" stroke-width="1.5"/>
<line x1="724.3" y1="1298.4" x2="943.9" y2="1298.4" stroke="#e7e7e7" stroke-width="1.5"/>
<line x1="784.19" y1="1247.8" x2="784.19" y2="1536.5" stroke="#e7e7e7" stroke-width="1.5"/>
<line x1="884.01" y1="1247.8" x2="884.01" y2="1536.5" stroke="#e7e7e7" stroke-width="1.5"/>
<text x="715.3" y="1506.85" font-size="20.8" fill="#4d4d4d" stroke="#4d4d4d" stroke-width="0.37" text-anchor="end">−4</text>
<text x="715.3" y="1439.85" font-size="20.8" fill="#4d4d4d" stroke="#4d4d4d" stroke-width="0.37" text-anchor="end">−2</text>
<text x="715.3" y="1372.85" font-size="20.8" fill="#4d4d4d" stroke="#4d4d4d" stroke-width="0.37" text-anchor="end">0</text>
<text x="715.3" y="1305.85" font-size="20.8" fill="#4d4d4d" stroke="#4d4d4d" stroke-width="0.37" text-anchor="end">2</text>
<text x="784.19" y="1563.9" font-size="25.3" fill="#4d4d4d" stroke="#4d4d4d" stroke-width="0.46" text-anchor="middle">Control</text>
<text x="884.01" y="1563.9" font-size="25.3" fill="#4d4d4d" stroke="#4d4d4d" stroke-width="0.46" text-anchor="middle">T1D</text>
<text x="834.1" y="1231.1" font-size="28.5" fill="#000" stroke="#000" stroke-width="0.51" text-anchor="middle">PDLIM7</text>
<text x="687.6" y="1392.15" font-size="19.5" fill="#000" stroke="#000" stroke-width="0.35" text-anchor="middle" transform="rotate(-90 687.6 1392.15)">NPX</text>
<line x1="784.19" y1="1284.33" x2="784.19" y2="1342.29" stroke="#1e1e1e" stroke-width="1.8"/>
<line x1="784.19" y1="1386.84" x2="784.19" y2="1448.48" stroke="#1e1e1e" stroke-width="1.8"/>
<rect x="746.76" y="1342.29" width="74.86" height="44.56" fill="#bad8e4" stroke="#222" stroke-width="1.8"/>
<line x1="746.76" y1="1360.38" x2="821.62" y2="1360.38" stroke="#222" stroke-width="3"/>
<circle cx="784.19" cy="1261.55" r="3.9" fill="#2a2a2a"/>
<circle cx="784.19" cy="1271.6" r="3.9" fill="#2a2a2a"/>
<circle cx="784.19" cy="1454.18" r="3.9" fill="#2a2a2a"/>
<circle cx="784.19" cy="1462.55" r="3.9" fill="#2a2a2a"/>
<circle cx="784.19" cy="1472.6" r="3.9" fill="#2a2a2a"/>
<circle cx="784.19" cy="1486" r="3.9" fill="#2a2a2a"/>
<circle cx="784.19" cy="1496.05" r="3.9" fill="#2a2a2a"/>
<line x1="884.01" y1="1291.03" x2="884.01" y2="1352.67" stroke="#1e1e1e" stroke-width="1.8"/>
<line x1="884.01" y1="1403.93" x2="884.01" y2="1474.61" stroke="#1e1e1e" stroke-width="1.8"/>
<rect x="846.58" y="1352.67" width="74.86" height="51.26" fill="#bad8e4" stroke="#222" stroke-width="1.8"/>
<line x1="846.58" y1="1377.46" x2="921.44" y2="1377.46" stroke="#222" stroke-width="3"/>
<circle cx="884.01" cy="1269.93" r="3.9" fill="#2a2a2a"/>
<g fill="#000" fill-opacity="0.75"><circle cx="790.7" cy="1396" r="2.85"/><circle cx="778.4" cy="1367.2" r="2.85"/><circle cx="784.8" cy="1328.1" r="2.85"/><circle cx="766.2" cy="1377.7" r="2.85"/><circle cx="773.3" cy="1335.3" r="2.85"/><circle cx="767.3" cy="1412.6" r="2.85"/><circle cx="801.3" cy="1370.4" r="2.85"/><circle cx="768.8" cy="1343.2" r="2.85"/><circle cx="801" cy="1316.5" r="2.85"/><circle cx="767" cy="1334.3" r="2.85"/><circle cx="772.3" cy="1419.2" r="2.85"/><circle cx="792.6" cy="1416.4" r="2.85"/><circle cx="789.5" cy="1394.7" r="2.85"/><circle cx="766.2" cy="1338.2" r="2.85"/><circle cx="777.5" cy="1341.2" r="2.85"/><circle cx="769.4" cy="1330.3" r="2.85"/><circle cx="777.7" cy="1342.4" r="2.85"/><circle cx="778.5" cy="1384.7" r="2.85"/><circle cx="785.7" cy="1376.9" r="2.85"/><circle cx="794.2" cy="1395.5" r="2.85"/><circle cx="765.5" cy="1338.1" r="2.85"/><circle cx="791.2" cy="1407.6" r="2.85"/><circle cx="801.4" cy="1359.7" r="2.85"/><circle cx="777.6" cy="1354.6" r="2.85"/><circle cx="790.7" cy="1325.9" r="2.85"/><circle cx="782.1" cy="1391.4" r="2.85"/><circle cx="776" cy="1350.5" r="2.85"/><circle cx="785.5" cy="1399.2" r="2.85"/><circle cx="766.6" cy="1332.2" r="2.85"/><circle cx="791.3" cy="1376.4" r="2.85"/><circle cx="785.7" cy="1374.2" r="2.85"/><circle cx="774.8" cy="1397.5" r="2.85"/><circle cx="765.5" cy="1386.2" r="2.85"/><circle cx="801.4" cy="1387.6" r="2.85"/><circle cx="790.4" cy="1386.3" r="2.85"/><circle cx="766" cy="1328.2" r="2.85"/><circle cx="795.7" cy="1398.7" r="2.85"/><circle cx="768.6" cy="1354.7" r="2.85"/><circle cx="782.5" cy="1338" r="2.85"/><circle cx="769" cy="1403.4" r="2.85"/><circle cx="801" cy="1436.6" r="2.85"/><circle cx="789.8" cy="1348.5" r="2.85"/><circle cx="791.6" cy="1420.3" r="2.85"/><circle cx="778" cy="1391.8" r="2.85"/><circle cx="777.3" cy="1365.8" r="2.85"/><circle cx="766.8" cy="1353.9" r="2.85"/><circle cx="799.4" cy="1372.5" r="2.85"/><circle cx="769.5" cy="1389.4" r="2.85"/><circle cx="788.6" cy="1333.3" r="2.85"/><circle cx="772.5" cy="1355.2" r="2.85"/><circle cx="768" cy="1304.8" r="2.85"/><circle cx="766.1" cy="1395.8" r="2.85"/><circle cx="777.3" cy="1365.4" r="2.85"/><circle cx="768.9" cy="1363.5" r="2.85"/><circle cx="797.8" cy="1346.6" r="2.85"/><circle cx="788.6" cy="1355" r="2.85"/><circle cx="771.5" cy="1360.7" r="2.85"/><circle cx="765.3" cy="1303.7" r="2.85"/><circle cx="783" cy="1368.1" r="2.85"/><circle cx="797.9" cy="1349.2" r="2.85"/><circle cx="774.1" cy="1356.1" r="2.85"/><circle cx="787.4" cy="1386" r="2.85"/><circle cx="773.9" cy="1340.8" r="2.85"/><circle cx="802.9" cy="1426.9" r="2.85"/><circle cx="774.1" cy="1328.6" r="2.85"/><circle cx="772.5" cy="1416.8" r="2.85"/><circle cx="788.7" cy="1374.1" r="2.85"/><circle cx="775.7" cy="1358.5" r="2.85"/><circle cx="798.7" cy="1381.2" r="2.85"/><circle cx="794.8" cy="1382.4" r="2.85"/><circle cx="791.9" cy="1326.9" r="2.85"/><circle cx="802.3" cy="1290.4" r="2.85"/><circle cx="781.4" cy="1331.6" r="2.85"/><circle cx="765.9" cy="1356.8" r="2.85"/><circle cx="776.8" cy="1386.6" r="2.85"/><circle cx="774.3" cy="1391.2" r="2.85"/><circle cx="771.3" cy="1326.5" r="2.85"/><circle cx="780.2" cy="1336.2" r="2.85"/><circle cx="766.7" cy="1323.2" r="2.85"/><circle cx="764.3" cy="1332.8" r="2.85"/><circle cx="785.2" cy="1323" r="2.85"/><circle cx="770.2" cy="1385.5" r="2.85"/><circle cx="797.2" cy="1391.8" r="2.85"/><circle cx="768.7" cy="1399.2" r="2.85"/><circle cx="768" cy="1362.7" r="2.85"/><circle cx="787.6" cy="1369.3" r="2.85"/><circle cx="796.4" cy="1358.2" r="2.85"/><circle cx="795.4" cy="1405.4" r="2.85"/><circle cx="798.6" cy="1356.6" r="2.85"/><circle cx="782.7" cy="1339" r="2.85"/><circle cx="774.2" cy="1359.2" r="2.85"/><circle cx="765.2" cy="1448.5" r="2.85"/><circle cx="801.9" cy="1362.6" r="2.85"/><circle cx="787.7" cy="1375.9" r="2.85"/><circle cx="801.8" cy="1335.7" r="2.85"/><circle cx="797.7" cy="1368.1" r="2.85"/><circle cx="790.6" cy="1344.1" r="2.85"/><circle cx="794.8" cy="1377.1" r="2.85"/><circle cx="771.1" cy="1352.4" r="2.85"/><circle cx="800.2" cy="1334" r="2.85"/><circle cx="798.3" cy="1372.5" r="2.85"/><circle cx="783.3" cy="1352.9" r="2.85"/><circle cx="781.7" cy="1356.9" r="2.85"/><circle cx="784" cy="1344.7" r="2.85"/><circle cx="787" cy="1366.5" r="2.85"/><circle cx="770.8" cy="1348.4" r="2.85"/><circle cx="802.1" cy="1425.5" r="2.85"/><circle cx="778.3" cy="1370.9" r="2.85"/><circle cx="765.7" cy="1338.5" r="2.85"/><circle cx="788.1" cy="1343.2" r="2.85"/><circle cx="770" cy="1397.5" r="2.85"/><circle cx="804.1" cy="1392.2" r="2.85"/><circle cx="801.3" cy="1350.6" r="2.85"/><circle cx="794.4" cy="1351.6" r="2.85"/><circle cx="766.9" cy="1348.8" r="2.85"/><circle cx="797.9" cy="1359.6" r="2.85"/><circle cx="771.5" cy="1358.5" r="2.85"/><circle cx="789.5" cy="1332.2" r="2.85"/><circle cx="771.1" cy="1396.5" r="2.85"/><circle cx="792.8" cy="1411" r="2.85"/><circle cx="792.4" cy="1333.1" r="2.85"/><circle cx="778.1" cy="1391.1" r="2.85"/><circle cx="773.8" cy="1342.8" r="2.85"/><circle cx="797.9" cy="1388.3" r="2.85"/><circle cx="801.9" cy="1402" r="2.85"/><circle cx="771" cy="1317" r="2.85"/><circle cx="804" cy="1364.7" r="2.85"/><circle cx="786.9" cy="1411.8" r="2.85"/><circle cx="777.2" cy="1370.7" r="2.85"/><circle cx="783.6" cy="1368.8" r="2.85"/><circle cx="766.8" cy="1370.4" r="2.85"/><circle cx="784.6" cy="1357.1" r="2.85"/><circle cx="788.2" cy="1403.8" r="2.85"/><circle cx="784.9" cy="1373.5" r="2.85"/><circle cx="765.5" cy="1349.5" r="2.85"/><circle cx="793.8" cy="1345" r="2.85"/><circle cx="783.8" cy="1359.4" r="2.85"/><circle cx="771" cy="1392.6" r="2.85"/><circle cx="797.5" cy="1430.2" r="2.85"/><circle cx="789" cy="1319.9" r="2.85"/><circle cx="765" cy="1402.8" r="2.85"/><circle cx="781.6" cy="1380.2" r="2.85"/><circle cx="794.7" cy="1361.8" r="2.85"/><circle cx="790.1" cy="1349.7" r="2.85"/><circle cx="779.5" cy="1363.3" r="2.85"/><circle cx="796.1" cy="1393" r="2.85"/><circle cx="783.1" cy="1363.8" r="2.85"/><circle cx="770.6" cy="1301.5" r="2.85"/><circle cx="769.7" cy="1288.4" r="2.85"/><circle cx="800.1" cy="1370.9" r="2.85"/><circle cx="774.7" cy="1344.2" r="2.85"/><circle cx="787.7" cy="1422.9" r="2.85"/><circle cx="774.1" cy="1355.9" r="2.85"/><circle cx="777" cy="1342.4" r="2.85"/><circle cx="777.2" cy="1374" r="2.85"/><circle cx="764.8" cy="1308.9" r="2.85"/><circle cx="764.6" cy="1337.4" r="2.85"/><circle cx="767.8" cy="1345" r="2.85"/><circle cx="793.2" cy="1448.5" r="2.85"/><circle cx="775.3" cy="1386.1" r="2.85"/><circle cx="781.9" cy="1342.3" r="2.85"/><circle cx="789" cy="1381.3" r="2.85"/><circle cx="784.6" cy="1423" r="2.85"/><circle cx="799.9" cy="1384.7" r="2.85"/><circle cx="795.4" cy="1317.8" r="2.85"/><circle cx="799.4" cy="1343.1" r="2.85"/><circle cx="776.4" cy="1337.5" r="2.85"/><circle cx="803.6" cy="1356.1" r="2.85"/><circle cx="802.2" cy="1314.9" r="2.85"/><circle cx="790.6" cy="1448.5" r="2.85"/><circle cx="796.3" cy="1404.7" r="2.85"/><circle cx="771.5" cy="1305.6" r="2.85"/><circle cx="803.1" cy="1331.8" r="2.85"/><circle cx="771.9" cy="1354.7" r="2.85"/><circle cx="796" cy="1375.1" r="2.85"/><circle cx="765.6" cy="1424.4" r="2.85"/><circle cx="794.9" cy="1378.4" r="2.85"/><circle cx="787.1" cy="1367.1" r="2.85"/><circle cx="780.3" cy="1395.9" r="2.85"/><circle cx="775" cy="1321.9" r="2.85"/><circle cx="783.1" cy="1332.3" r="2.85"/><circle cx="775.8" cy="1372.7" r="2.85"/><circle cx="778.7" cy="1336.2" r="2.85"/><circle cx="803.8" cy="1363.2" r="2.85"/><circle cx="778.9" cy="1353.8" r="2.85"/><circle cx="799" cy="1380.4" r="2.85"/><circle cx="782.1" cy="1288.5" r="2.85"/><circle cx="798.8" cy="1414.2" r="2.85"/><circle cx="792.6" cy="1367.1" r="2.85"/><circle cx="798.5" cy="1332.1" r="2.85"/><circle cx="793.1" cy="1332.4" r="2.85"/><circle cx="789" cy="1418.3" r="2.85"/><circle cx="799.7" cy="1396.5" r="2.85"/><circle cx="790.8" cy="1365.2" r="2.85"/><circle cx="797.4" cy="1391.8" r="2.85"/><circle cx="791.2" cy="1387.6" r="2.85"/><circle cx="782.6" cy="1371.3" r="2.85"/><circle cx="775.6" cy="1367.5" r="2.85"/><circle cx="777.1" cy="1330" r="2.85"/><circle cx="797.6" cy="1420.7" r="2.85"/><circle cx="774.6" cy="1331.4" r="2.85"/><circle cx="775.8" cy="1370.3" r="2.85"/><circle cx="803.2" cy="1345.3" r="2.85"/><circle cx="791.2" cy="1375" r="2.85"/><circle cx="777.7" cy="1292.3" r="2.85"/><circle cx="791.9" cy="1423.9" r="2.85"/><circle cx="782" cy="1327.4" r="2.85"/><circle cx="766.8" cy="1378.8" r="2.85"/><circle cx="800.4" cy="1370.3" r="2.85"/><circle cx="766.3" cy="1320.2" r="2.85"/><circle cx="801.9" cy="1369.1" r="2.85"/><circle cx="780.8" cy="1335.8" r="2.85"/><circle cx="786" cy="1319.2" r="2.85"/><circle cx="783.7" cy="1384.5" r="2.85"/><circle cx="782.7" cy="1301.9" r="2.85"/><circle cx="797.9" cy="1324.9" r="2.85"/><circle cx="777.6" cy="1369.6" r="2.85"/><circle cx="803.7" cy="1354.7" r="2.85"/><circle cx="787.4" cy="1388.5" r="2.85"/><circle cx="797.4" cy="1352.7" r="2.85"/><circle cx="770.9" cy="1336.5" r="2.85"/><circle cx="771.7" cy="1332.4" r="2.85"/><circle cx="776.7" cy="1354.5" r="2.85"/><circle cx="799" cy="1381.1" r="2.85"/><circle cx="780.5" cy="1386.1" r="2.85"/><circle cx="796.2" cy="1396.3" r="2.85"/><circle cx="791.4" cy="1371.7" r="2.85"/><circle cx="771.4" cy="1344.3" r="2.85"/><circle cx="784.1" cy="1383.6" r="2.85"/><circle cx="769.4" cy="1387.4" r="2.85"/><circle cx="784.4" cy="1399.5" r="2.85"/><circle cx="770.9" cy="1345.2" r="2.85"/><circle cx="791" cy="1370.9" r="2.85"/><circle cx="782.5" cy="1417.6" r="2.85"/><circle cx="787.9" cy="1329.4" r="2.85"/><circle cx="782.1" cy="1330.8" r="2.85"/><circle cx="787" cy="1360.1" r="2.85"/><circle cx="781" cy="1374.6" r="2.85"/><circle cx="776.2" cy="1362.1" r="2.85"/><circle cx="802.3" cy="1395.3" r="2.85"/><circle cx="785.3" cy="1332.5" r="2.85"/><circle cx="770.2" cy="1321" r="2.85"/><circle cx="778.3" cy="1331.8" r="2.85"/><circle cx="795.2" cy="1354.2" r="2.85"/><circle cx="786" cy="1354.4" r="2.85"/><circle cx="783.4" cy="1346.3" r="2.85"/><circle cx="787.1" cy="1311.3" r="2.85"/><circle cx="793.1" cy="1391.1" r="2.85"/><circle cx="803.3" cy="1361.5" r="2.85"/><circle cx="769.9" cy="1387.7" r="2.85"/><circle cx="801.6" cy="1404.5" r="2.85"/><circle cx="782.7" cy="1351.7" r="2.85"/><circle cx="789" cy="1328.7" r="2.85"/><circle cx="781.2" cy="1399.6" r="2.85"/><circle cx="782.6" cy="1333.1" r="2.85"/><circle cx="780" cy="1342.6" r="2.85"/><circle cx="794.8" cy="1348.1" r="2.85"/><circle cx="783.6" cy="1321.9" r="2.85"/><circle cx="795" cy="1386.7" r="2.85"/><circle cx="768.4" cy="1314.2" r="2.85"/><circle cx="765.3" cy="1374.9" r="2.85"/><circle cx="773.8" cy="1346.1" r="2.85"/><circle cx="773.5" cy="1415.1" r="2.85"/><circle cx="774.4" cy="1333.6" r="2.85"/><circle cx="781.9" cy="1359.9" r="2.85"/><circle cx="790.8" cy="1383" r="2.85"/><circle cx="800.3" cy="1398.7" r="2.85"/><circle cx="803.8" cy="1355.3" r="2.85"/><circle cx="790" cy="1322.9" r="2.85"/><circle cx="800.1" cy="1346.5" r="2.85"/><circle cx="784.9" cy="1374.3" r="2.85"/><circle cx="794" cy="1390.3" r="2.85"/><circle cx="799.7" cy="1399.3" r="2.85"/><circle cx="791.9" cy="1373.9" r="2.85"/><circle cx="780.5" cy="1417.2" r="2.85"/><circle cx="796.8" cy="1261.6" r="2.85"/><circle cx="795" cy="1271.6" r="2.85"/><circle cx="803.2" cy="1454.2" r="2.85"/><circle cx="796.9" cy="1462.6" r="2.85"/><circle cx="787.5" cy="1472.6" r="2.85"/><circle cx="773.4" cy="1486" r="2.85"/><circle cx="764.6" cy="1496.1" r="2.85"/></g>
<g fill="#000" fill-opacity="0.75"><circle cx="884.5" cy="1474.6" r="2.85"/><circle cx="876.8" cy="1391.5" r="2.85"/><circle cx="867.4" cy="1371.2" r="2.85"/><circle cx="881.6" cy="1410.8" r="2.85"/><circle cx="887.6" cy="1371.3" r="2.85"/><circle cx="876.3" cy="1352.6" r="2.85"/><circle cx="877.3" cy="1315.9" r="2.85"/><circle cx="877.4" cy="1376.5" r="2.85"/><circle cx="902.2" cy="1436.5" r="2.85"/><circle cx="898.7" cy="1465.2" r="2.85"/><circle cx="877" cy="1383.5" r="2.85"/><circle cx="893.5" cy="1345" r="2.85"/><circle cx="897.9" cy="1337.8" r="2.85"/><circle cx="891" cy="1373.4" r="2.85"/><circle cx="892" cy="1403" r="2.85"/><circle cx="867.3" cy="1404.6" r="2.85"/><circle cx="896.3" cy="1382.4" r="2.85"/><circle cx="866.3" cy="1373.6" r="2.85"/><circle cx="903.4" cy="1354.9" r="2.85"/><circle cx="872.2" cy="1372.5" r="2.85"/><circle cx="873" cy="1309.3" r="2.85"/><circle cx="882.6" cy="1371.1" r="2.85"/><circle cx="879.4" cy="1358.6" r="2.85"/><circle cx="868.9" cy="1340.1" r="2.85"/><circle cx="870.6" cy="1343.2" r="2.85"/><circle cx="902.7" cy="1402.2" r="2.85"/><circle cx="872.2" cy="1438.1" r="2.85"/><circle cx="865.4" cy="1426.4" r="2.85"/><circle cx="876.7" cy="1363.1" r="2.85"/><circle cx="883" cy="1354.8" r="2.85"/><circle cx="866.8" cy="1364" r="2.85"/><circle cx="891.3" cy="1348.1" r="2.85"/><circle cx="882.9" cy="1331.9" r="2.85"/><circle cx="897.1" cy="1406.6" r="2.85"/><circle cx="873.8" cy="1291.4" r="2.85"/><circle cx="866" cy="1291" r="2.85"/><circle cx="886.1" cy="1348.9" r="2.85"/><circle cx="903.9" cy="1383.2" r="2.85"/><circle cx="865.5" cy="1367" r="2.85"/><circle cx="893.8" cy="1429.8" r="2.85"/><circle cx="881.7" cy="1375.4" r="2.85"/><circle cx="892.3" cy="1408.1" r="2.85"/><circle cx="878.2" cy="1380" r="2.85"/><circle cx="897.3" cy="1388.9" r="2.85"/><circle cx="886.3" cy="1307" r="2.85"/><circle cx="876.9" cy="1409.7" r="2.85"/><circle cx="877.4" cy="1364.9" r="2.85"/><circle cx="890.1" cy="1392.2" r="2.85"/><circle cx="875.4" cy="1322.4" r="2.85"/><circle cx="876.6" cy="1339.1" r="2.85"/><circle cx="901.5" cy="1434.2" r="2.85"/><circle cx="872.9" cy="1414.2" r="2.85"/><circle cx="891.5" cy="1366" r="2.85"/><circle cx="870.4" cy="1400.6" r="2.85"/><circle cx="871.9" cy="1359.7" r="2.85"/><circle cx="891.7" cy="1373.3" r="2.85"/><circle cx="879.2" cy="1417.7" r="2.85"/><circle cx="882.1" cy="1388" r="2.85"/><circle cx="873.2" cy="1358.7" r="2.85"/><circle cx="900.6" cy="1379" r="2.85"/><circle cx="892.7" cy="1371.1" r="2.85"/><circle cx="873.9" cy="1362.5" r="2.85"/><circle cx="878.4" cy="1380.9" r="2.85"/><circle cx="874.7" cy="1329.9" r="2.85"/><circle cx="895.6" cy="1424.5" r="2.85"/><circle cx="888.8" cy="1358.8" r="2.85"/><circle cx="876.9" cy="1396.6" r="2.85"/><circle cx="885.5" cy="1361.3" r="2.85"/><circle cx="894.9" cy="1346" r="2.85"/><circle cx="873.8" cy="1352.7" r="2.85"/><circle cx="879.8" cy="1351.5" r="2.85"/><circle cx="880.3" cy="1348.7" r="2.85"/><circle cx="886.3" cy="1356.5" r="2.85"/><circle cx="865.8" cy="1385.2" r="2.85"/><circle cx="877.3" cy="1349.6" r="2.85"/><circle cx="872.3" cy="1341.9" r="2.85"/><circle cx="869.5" cy="1345.3" r="2.85"/><circle cx="877.8" cy="1365.8" r="2.85"/><circle cx="873.3" cy="1365.8" r="2.85"/><circle cx="890.4" cy="1451.1" r="2.85"/><circle cx="868.2" cy="1408.1" r="2.85"/><circle cx="897.2" cy="1384" r="2.85"/><circle cx="898.7" cy="1341.1" r="2.85"/><circle cx="902" cy="1334.8" r="2.85"/><circle cx="868.5" cy="1371.1" r="2.85"/><circle cx="866.8" cy="1419.5" r="2.85"/><circle cx="902.2" cy="1358.4" r="2.85"/><circle cx="867.8" cy="1341.6" r="2.85"/><circle cx="869.1" cy="1348.8" r="2.85"/><circle cx="872" cy="1403.8" r="2.85"/><circle cx="888.4" cy="1417.9" r="2.85"/><circle cx="895.8" cy="1411.3" r="2.85"/><circle cx="866.7" cy="1417.8" r="2.85"/><circle cx="878.3" cy="1341.3" r="2.85"/><circle cx="879.2" cy="1365" r="2.85"/><circle cx="901.8" cy="1304.1" r="2.85"/><circle cx="888.6" cy="1320.5" r="2.85"/><circle cx="882.4" cy="1341" r="2.85"/><circle cx="879.1" cy="1403.4" r="2.85"/><circle cx="878.2" cy="1352.2" r="2.85"/><circle cx="874.2" cy="1359.9" r="2.85"/><circle cx="892.3" cy="1430" r="2.85"/><circle cx="870.4" cy="1425.1" r="2.85"/><circle cx="885.9" cy="1405.5" r="2.85"/><circle cx="895" cy="1333" r="2.85"/><circle cx="884.4" cy="1392" r="2.85"/><circle cx="881.6" cy="1429.4" r="2.85"/><circle cx="889.3" cy="1373.5" r="2.85"/><circle cx="866.6" cy="1354.5" r="2.85"/><circle cx="867.4" cy="1423.2" r="2.85"/><circle cx="867.8" cy="1312.2" r="2.85"/><circle cx="875.6" cy="1406.1" r="2.85"/><circle cx="880.2" cy="1339.6" r="2.85"/><circle cx="876.6" cy="1351.7" r="2.85"/><circle cx="877.8" cy="1405.6" r="2.85"/><circle cx="891.7" cy="1381.5" r="2.85"/><circle cx="895.9" cy="1376.3" r="2.85"/><circle cx="893.1" cy="1391" r="2.85"/><circle cx="892.2" cy="1349.5" r="2.85"/><circle cx="865.9" cy="1374.9" r="2.85"/><circle cx="877.4" cy="1442.7" r="2.85"/><circle cx="880" cy="1373.6" r="2.85"/><circle cx="888.9" cy="1421.2" r="2.85"/><circle cx="881.3" cy="1386.3" r="2.85"/><circle cx="887.7" cy="1368.4" r="2.85"/><circle cx="895.5" cy="1381.5" r="2.85"/><circle cx="887" cy="1341.1" r="2.85"/><circle cx="873.4" cy="1380.1" r="2.85"/><circle cx="900.3" cy="1397.7" r="2.85"/><circle cx="898.1" cy="1320.8" r="2.85"/><circle cx="883.1" cy="1350.3" r="2.85"/><circle cx="893.8" cy="1382.4" r="2.85"/><circle cx="866.8" cy="1376.8" r="2.85"/><circle cx="888" cy="1393" r="2.85"/><circle cx="887.8" cy="1374.1" r="2.85"/><circle cx="901.4" cy="1414.4" r="2.85"/><circle cx="892.8" cy="1317.2" r="2.85"/><circle cx="864.8" cy="1334.3" r="2.85"/><circle cx="883.7" cy="1461.8" r="2.85"/><circle cx="902.1" cy="1414.4" r="2.85"/><circle cx="869.4" cy="1269.9" r="2.85"/></g>
<text x="743.78" y="1524.2" font-size="19.8" fill="#000" stroke="#000" stroke-width="0.36">Wilcoxon, p = 7.7e−05</text>
<line x1="1032.2" y1="1491.5" x2="1250.7" y2="1491.5" stroke="#ebebeb" stroke-width="1.1"/>
<line x1="1032.2" y1="1418.9" x2="1250.7" y2="1418.9" stroke="#ebebeb" stroke-width="1.1"/>
<line x1="1032.2" y1="1346.3" x2="1250.7" y2="1346.3" stroke="#ebebeb" stroke-width="1.1"/>
<line x1="1032.2" y1="1273.7" x2="1250.7" y2="1273.7" stroke="#ebebeb" stroke-width="1.1"/>
<line x1="1032.2" y1="1527.8" x2="1250.7" y2="1527.8" stroke="#e7e7e7" stroke-width="1.5"/>
<line x1="1032.2" y1="1455.2" x2="1250.7" y2="1455.2" stroke="#e7e7e7" stroke-width="1.5"/>
<line x1="1032.2" y1="1382.6" x2="1250.7" y2="1382.6" stroke="#e7e7e7" stroke-width="1.5"/>
<line x1="1032.2" y1="1310" x2="1250.7" y2="1310" stroke="#e7e7e7" stroke-width="1.5"/>
<line x1="1091.79" y1="1247.8" x2="1091.79" y2="1536.5" stroke="#e7e7e7" stroke-width="1.5"/>
<line x1="1191.11" y1="1247.8" x2="1191.11" y2="1536.5" stroke="#e7e7e7" stroke-width="1.5"/>
<text x="1023.2" y="1535.25" font-size="20.8" fill="#4d4d4d" stroke="#4d4d4d" stroke-width="0.37" text-anchor="end">−4</text>
<text x="1023.2" y="1462.65" font-size="20.8" fill="#4d4d4d" stroke="#4d4d4d" stroke-width="0.37" text-anchor="end">−2</text>
<text x="1023.2" y="1390.05" font-size="20.8" fill="#4d4d4d" stroke="#4d4d4d" stroke-width="0.37" text-anchor="end">0</text>
<text x="1023.2" y="1317.45" font-size="20.8" fill="#4d4d4d" stroke="#4d4d4d" stroke-width="0.37" text-anchor="end">2</text>
<text x="1091.79" y="1563.9" font-size="25.3" fill="#4d4d4d" stroke="#4d4d4d" stroke-width="0.46" text-anchor="middle">Control</text>
<text x="1191.11" y="1563.9" font-size="25.3" fill="#4d4d4d" stroke="#4d4d4d" stroke-width="0.46" text-anchor="middle">T1D</text>
<text x="1141.45" y="1231.1" font-size="28.5" fill="#000" stroke="#000" stroke-width="0.51" text-anchor="middle">HLA−DRA</text>
<text x="995" y="1392.15" font-size="19.5" fill="#000" stroke="#000" stroke-width="0.35" text-anchor="middle" transform="rotate(-90 995 1392.15)">NPX</text>
<line x1="1091.79" y1="1327.79" x2="1091.79" y2="1366.63" stroke="#1e1e1e" stroke-width="1.8"/>
<line x1="1091.79" y1="1409.82" x2="1091.79" y2="1468.99" stroke="#1e1e1e" stroke-width="1.8"/>
<rect x="1054.55" y="1366.63" width="74.49" height="43.2" fill="#d77d7d" stroke="#222" stroke-width="1.8"/>
<line x1="1054.55" y1="1386.59" x2="1129.04" y2="1386.59" stroke="#222" stroke-width="3"/>
<circle cx="1091.79" cy="1262.81" r="3.9" fill="#2a2a2a"/>
<line x1="1191.11" y1="1290.76" x2="1191.11" y2="1337.22" stroke="#1e1e1e" stroke-width="1.8"/>
<line x1="1191.11" y1="1376.07" x2="1191.11" y2="1407.28" stroke="#1e1e1e" stroke-width="1.8"/>
<rect x="1153.86" y="1337.22" width="74.49" height="38.84" fill="#d77d7d" stroke="#222" stroke-width="1.8"/>
<line x1="1153.86" y1="1354.29" x2="1228.35" y2="1354.29" stroke="#222" stroke-width="3"/>
<circle cx="1191.11" cy="1271.88" r="3.9" fill="#2a2a2a"/>
<circle cx="1191.11" cy="1435.6" r="3.9" fill="#2a2a2a"/>
<circle cx="1191.11" cy="1455.2" r="3.9" fill="#2a2a2a"/>
<circle cx="1191.11" cy="1500.57" r="3.9" fill="#2a2a2a"/>
<g fill="#000" fill-opacity="0.75"><circle cx="1075.7" cy="1402.7" r="2.85"/><circle cx="1103.5" cy="1443.8" r="2.85"/><circle cx="1083.5" cy="1363.4" r="2.85"/><circle cx="1089" cy="1372.6" r="2.85"/><circle cx="1096.1" cy="1413.2" r="2.85"/><circle cx="1083.6" cy="1450.4" r="2.85"/><circle cx="1101.8" cy="1366.2" r="2.85"/><circle cx="1099.9" cy="1400.3" r="2.85"/><circle cx="1074.9" cy="1363.2" r="2.85"/><circle cx="1095.2" cy="1355" r="2.85"/><circle cx="1108.9" cy="1395.5" r="2.85"/><circle cx="1098.2" cy="1391.6" r="2.85"/><circle cx="1080.7" cy="1362.9" r="2.85"/><circle cx="1082.7" cy="1392.9" r="2.85"/><circle cx="1106" cy="1448.7" r="2.85"/><circle cx="1102.8" cy="1366.4" r="2.85"/><circle cx="1082.4" cy="1375.2" r="2.85"/><circle cx="1091.9" cy="1404.7" r="2.85"/><circle cx="1085.4" cy="1369.3" r="2.85"/><circle cx="1104.4" cy="1398.3" r="2.85"/><circle cx="1074.6" cy="1399.5" r="2.85"/><circle cx="1073.1" cy="1363.1" r="2.85"/><circle cx="1111.6" cy="1431.2" r="2.85"/><circle cx="1081" cy="1438.9" r="2.85"/><circle cx="1081.2" cy="1391.1" r="2.85"/><circle cx="1105.3" cy="1429.7" r="2.85"/><circle cx="1107.4" cy="1362.1" r="2.85"/><circle cx="1095.6" cy="1411.8" r="2.85"/><circle cx="1079.2" cy="1442.8" r="2.85"/><circle cx="1081.6" cy="1400.2" r="2.85"/><circle cx="1079.2" cy="1458.4" r="2.85"/><circle cx="1072" cy="1351.8" r="2.85"/><circle cx="1072.9" cy="1387.1" r="2.85"/><circle cx="1089.6" cy="1365.9" r="2.85"/><circle cx="1094.9" cy="1370.5" r="2.85"/><circle cx="1077.3" cy="1380.1" r="2.85"/><circle cx="1072.8" cy="1421.3" r="2.85"/><circle cx="1079.4" cy="1363.8" r="2.85"/><circle cx="1076.1" cy="1397.7" r="2.85"/><circle cx="1075.2" cy="1412.6" r="2.85"/><circle cx="1082.1" cy="1452.4" r="2.85"/><circle cx="1082.3" cy="1353.6" r="2.85"/><circle cx="1076.4" cy="1394.4" r="2.85"/><circle cx="1076.5" cy="1400.6" r="2.85"/><circle cx="1073.3" cy="1448.3" r="2.85"/><circle cx="1090.8" cy="1360.7" r="2.85"/><circle cx="1074.6" cy="1390" r="2.85"/><circle cx="1097.5" cy="1359.2" r="2.85"/><circle cx="1107.9" cy="1387.4" r="2.85"/><circle cx="1080.2" cy="1415.2" r="2.85"/><circle cx="1080.6" cy="1369" r="2.85"/><circle cx="1101.2" cy="1437.7" r="2.85"/><circle cx="1093.6" cy="1437.2" r="2.85"/><circle cx="1074.1" cy="1388.5" r="2.85"/><circle cx="1109.1" cy="1364.7" r="2.85"/><circle cx="1073.3" cy="1357.1" r="2.85"/><circle cx="1094" cy="1389.3" r="2.85"/><circle cx="1079.9" cy="1390.2" r="2.85"/><circle cx="1102" cy="1380" r="2.85"/><circle cx="1077.8" cy="1393.3" r="2.85"/><circle cx="1093.1" cy="1403.7" r="2.85"/><circle cx="1090.9" cy="1371.1" r="2.85"/><circle cx="1088.4" cy="1403.8" r="2.85"/><circle cx="1090.5" cy="1393.7" r="2.85"/><circle cx="1089.6" cy="1355.4" r="2.85"/><circle cx="1083" cy="1379.5" r="2.85"/><circle cx="1090.3" cy="1404.3" r="2.85"/><circle cx="1077.5" cy="1365.7" r="2.85"/><circle cx="1077.2" cy="1391.1" r="2.85"/><circle cx="1094.6" cy="1366.1" r="2.85"/><circle cx="1090.4" cy="1415.5" r="2.85"/><circle cx="1095.1" cy="1412.8" r="2.85"/><circle cx="1092.9" cy="1433.2" r="2.85"/><circle cx="1095.8" cy="1357" r="2.85"/><circle cx="1082.8" cy="1351.3" r="2.85"/><circle cx="1111" cy="1355.7" r="2.85"/><circle cx="1082.3" cy="1375.6" r="2.85"/><circle cx="1081.9" cy="1380.3" r="2.85"/><circle cx="1083" cy="1394.4" r="2.85"/><circle cx="1073.3" cy="1368.8" r="2.85"/><circle cx="1111.3" cy="1392.7" r="2.85"/><circle cx="1105.6" cy="1420.3" r="2.85"/><circle cx="1110.5" cy="1359.7" r="2.85"/><circle cx="1090.1" cy="1361.8" r="2.85"/><circle cx="1104.9" cy="1370.6" r="2.85"/><circle cx="1103.5" cy="1388.6" r="2.85"/><circle cx="1080.4" cy="1399.7" r="2.85"/><circle cx="1093.4" cy="1383.6" r="2.85"/><circle cx="1074.3" cy="1380.2" r="2.85"/><circle cx="1103.9" cy="1425.1" r="2.85"/><circle cx="1085.9" cy="1402.2" r="2.85"/><circle cx="1104.9" cy="1421.7" r="2.85"/><circle cx="1096.4" cy="1357.5" r="2.85"/><circle cx="1094.4" cy="1430.9" r="2.85"/><circle cx="1082.8" cy="1426.4" r="2.85"/><circle cx="1103.1" cy="1416.4" r="2.85"/><circle cx="1080.4" cy="1381.8" r="2.85"/><circle cx="1077.2" cy="1417.9" r="2.85"/><circle cx="1084.5" cy="1344.7" r="2.85"/><circle cx="1098.7" cy="1365.4" r="2.85"/><circle cx="1100.7" cy="1463.3" r="2.85"/><circle cx="1075.2" cy="1380.1" r="2.85"/><circle cx="1108.5" cy="1376.4" r="2.85"/><circle cx="1079.9" cy="1428.4" r="2.85"/><circle cx="1107" cy="1390" r="2.85"/><circle cx="1093.9" cy="1384.3" r="2.85"/><circle cx="1111" cy="1409.1" r="2.85"/><circle cx="1075.4" cy="1390.4" r="2.85"/><circle cx="1095.3" cy="1376.9" r="2.85"/><circle cx="1091" cy="1404.8" r="2.85"/><circle cx="1079.5" cy="1389.2" r="2.85"/><circle cx="1101.7" cy="1426.6" r="2.85"/><circle cx="1090.6" cy="1368.3" r="2.85"/><circle cx="1106.2" cy="1409.1" r="2.85"/><circle cx="1105.2" cy="1355.8" r="2.85"/><circle cx="1081.2" cy="1338.7" r="2.85"/><circle cx="1085" cy="1346.5" r="2.85"/><circle cx="1082.1" cy="1403.1" r="2.85"/><circle cx="1101.5" cy="1374.2" r="2.85"/><circle cx="1105" cy="1396.1" r="2.85"/><circle cx="1103.6" cy="1373.3" r="2.85"/><circle cx="1072" cy="1415.2" r="2.85"/><circle cx="1096" cy="1420.9" r="2.85"/><circle cx="1073.3" cy="1388.9" r="2.85"/><circle cx="1111.2" cy="1414.4" r="2.85"/><circle cx="1107.4" cy="1355.7" r="2.85"/><circle cx="1086.3" cy="1365.9" r="2.85"/><circle cx="1085.8" cy="1377.1" r="2.85"/><circle cx="1076.3" cy="1392.3" r="2.85"/><circle cx="1093.8" cy="1393.1" r="2.85"/><circle cx="1097.7" cy="1360.9" r="2.85"/><circle cx="1100.9" cy="1384.8" r="2.85"/><circle cx="1077.6" cy="1386.7" r="2.85"/><circle cx="1093.7" cy="1342.6" r="2.85"/><circle cx="1099.8" cy="1382.7" r="2.85"/><circle cx="1104.4" cy="1396" r="2.85"/><circle cx="1072.6" cy="1394.9" r="2.85"/><circle cx="1091.2" cy="1354.6" r="2.85"/><circle cx="1083.8" cy="1404.2" r="2.85"/><circle cx="1093.6" cy="1403.5" r="2.85"/><circle cx="1093.4" cy="1358.2" r="2.85"/><circle cx="1087.6" cy="1356.9" r="2.85"/><circle cx="1110" cy="1351.9" r="2.85"/><circle cx="1097" cy="1415.8" r="2.85"/><circle cx="1084.5" cy="1373.8" r="2.85"/><circle cx="1109.3" cy="1406.5" r="2.85"/><circle cx="1085.6" cy="1374.4" r="2.85"/><circle cx="1103" cy="1438.1" r="2.85"/><circle cx="1101.6" cy="1393.7" r="2.85"/><circle cx="1077.4" cy="1358.5" r="2.85"/><circle cx="1085.8" cy="1380.7" r="2.85"/><circle cx="1081.3" cy="1463.7" r="2.85"/><circle cx="1109.8" cy="1360.1" r="2.85"/><circle cx="1089.2" cy="1375.9" r="2.85"/><circle cx="1107" cy="1396.2" r="2.85"/><circle cx="1096.3" cy="1386.9" r="2.85"/><circle cx="1102.4" cy="1397.9" r="2.85"/><circle cx="1081.1" cy="1356.9" r="2.85"/><circle cx="1087" cy="1387.9" r="2.85"/><circle cx="1104.6" cy="1438.7" r="2.85"/><circle cx="1100" cy="1415.6" r="2.85"/><circle cx="1108.7" cy="1347.2" r="2.85"/><circle cx="1102.8" cy="1357.4" r="2.85"/><circle cx="1098.6" cy="1364" r="2.85"/><circle cx="1098.7" cy="1413.5" r="2.85"/><circle cx="1082.8" cy="1370.5" r="2.85"/><circle cx="1077.6" cy="1359.3" r="2.85"/><circle cx="1095.4" cy="1383.6" r="2.85"/><circle cx="1095.4" cy="1365.3" r="2.85"/><circle cx="1106.4" cy="1357.1" r="2.85"/><circle cx="1082" cy="1359.1" r="2.85"/><circle cx="1081.7" cy="1372.8" r="2.85"/><circle cx="1108.7" cy="1372.5" r="2.85"/><circle cx="1091.1" cy="1426.9" r="2.85"/><circle cx="1091.2" cy="1396.4" r="2.85"/><circle cx="1097.7" cy="1363.1" r="2.85"/><circle cx="1072.3" cy="1345.4" r="2.85"/><circle cx="1079.3" cy="1380.8" r="2.85"/><circle cx="1108.2" cy="1357.9" r="2.85"/><circle cx="1077" cy="1385.8" r="2.85"/><circle cx="1108.7" cy="1418.5" r="2.85"/><circle cx="1108.6" cy="1373.2" r="2.85"/><circle cx="1074.4" cy="1372.5" r="2.85"/><circle cx="1092.5" cy="1416.2" r="2.85"/><circle cx="1083.9" cy="1415.3" r="2.85"/><circle cx="1098.4" cy="1384.7" r="2.85"/><circle cx="1109" cy="1403.7" r="2.85"/><circle cx="1084.1" cy="1371.1" r="2.85"/><circle cx="1077.4" cy="1430.5" r="2.85"/><circle cx="1109.1" cy="1363.3" r="2.85"/><circle cx="1102.6" cy="1407.3" r="2.85"/><circle cx="1086.5" cy="1375.6" r="2.85"/><circle cx="1105.7" cy="1436.7" r="2.85"/><circle cx="1092.8" cy="1360.9" r="2.85"/><circle cx="1076.1" cy="1380.1" r="2.85"/><circle cx="1086.9" cy="1337.1" r="2.85"/><circle cx="1101.4" cy="1439.8" r="2.85"/><circle cx="1084.4" cy="1445" r="2.85"/><circle cx="1097.6" cy="1365.3" r="2.85"/><circle cx="1078.9" cy="1361.7" r="2.85"/><circle cx="1103" cy="1443.7" r="2.85"/><circle cx="1080.1" cy="1370.2" r="2.85"/><circle cx="1085.2" cy="1360.9" r="2.85"/><circle cx="1102.6" cy="1351.3" r="2.85"/><circle cx="1079.7" cy="1382.1" r="2.85"/><circle cx="1090" cy="1436.2" r="2.85"/><circle cx="1104.1" cy="1448.4" r="2.85"/><circle cx="1097.4" cy="1337.4" r="2.85"/><circle cx="1075.1" cy="1373.8" r="2.85"/><circle cx="1076" cy="1359.9" r="2.85"/><circle cx="1102.6" cy="1397" r="2.85"/><circle cx="1074.1" cy="1393.9" r="2.85"/><circle cx="1078.1" cy="1393.1" r="2.85"/><circle cx="1074.4" cy="1417.4" r="2.85"/><circle cx="1079.6" cy="1396" r="2.85"/><circle cx="1096.5" cy="1422.9" r="2.85"/><circle cx="1084" cy="1400.3" r="2.85"/><circle cx="1072.9" cy="1357.2" r="2.85"/><circle cx="1097.9" cy="1385.3" r="2.85"/><circle cx="1095.2" cy="1409.3" r="2.85"/><circle cx="1093.6" cy="1344.7" r="2.85"/><circle cx="1095.8" cy="1353.3" r="2.85"/><circle cx="1097.1" cy="1384.6" r="2.85"/><circle cx="1079.6" cy="1442.3" r="2.85"/><circle cx="1072.5" cy="1353.5" r="2.85"/><circle cx="1087.6" cy="1353.2" r="2.85"/><circle cx="1072.6" cy="1406.2" r="2.85"/><circle cx="1088.5" cy="1350.8" r="2.85"/><circle cx="1104.8" cy="1414.1" r="2.85"/><circle cx="1076.2" cy="1395" r="2.85"/><circle cx="1099.1" cy="1401.8" r="2.85"/><circle cx="1096.1" cy="1380.4" r="2.85"/><circle cx="1105.6" cy="1390.6" r="2.85"/><circle cx="1092.8" cy="1350.7" r="2.85"/><circle cx="1099.2" cy="1397.9" r="2.85"/><circle cx="1102.3" cy="1372.7" r="2.85"/><circle cx="1096.3" cy="1384.6" r="2.85"/><circle cx="1080.2" cy="1378.6" r="2.85"/><circle cx="1108.9" cy="1413.9" r="2.85"/><circle cx="1090.8" cy="1387" r="2.85"/><circle cx="1080.6" cy="1351.6" r="2.85"/><circle cx="1105.6" cy="1363" r="2.85"/><circle cx="1096.9" cy="1424.6" r="2.85"/><circle cx="1086.8" cy="1399.8" r="2.85"/><circle cx="1101.3" cy="1419.6" r="2.85"/><circle cx="1090.6" cy="1410.7" r="2.85"/><circle cx="1098" cy="1408.2" r="2.85"/><circle cx="1106.7" cy="1426.3" r="2.85"/><circle cx="1072.7" cy="1372.1" r="2.85"/><circle cx="1101.8" cy="1361.4" r="2.85"/><circle cx="1108.4" cy="1381.3" r="2.85"/><circle cx="1104.8" cy="1402.3" r="2.85"/><circle cx="1111.6" cy="1381.2" r="2.85"/><circle cx="1088.9" cy="1412" r="2.85"/><circle cx="1081.4" cy="1358.6" r="2.85"/><circle cx="1086.2" cy="1332.3" r="2.85"/><circle cx="1073.3" cy="1469" r="2.85"/><circle cx="1097.8" cy="1374.4" r="2.85"/><circle cx="1077.1" cy="1384.4" r="2.85"/><circle cx="1106.2" cy="1380.1" r="2.85"/><circle cx="1111.4" cy="1395.4" r="2.85"/><circle cx="1088.9" cy="1434.8" r="2.85"/><circle cx="1101.7" cy="1388.6" r="2.85"/><circle cx="1083.1" cy="1399.8" r="2.85"/><circle cx="1111.3" cy="1391" r="2.85"/><circle cx="1108.5" cy="1387.4" r="2.85"/><circle cx="1098.4" cy="1403.2" r="2.85"/><circle cx="1093.3" cy="1333.4" r="2.85"/><circle cx="1072.7" cy="1427" r="2.85"/><circle cx="1110.6" cy="1399.4" r="2.85"/><circle cx="1072.1" cy="1427.9" r="2.85"/><circle cx="1108.6" cy="1391.5" r="2.85"/><circle cx="1091" cy="1348.4" r="2.85"/><circle cx="1111.3" cy="1387.5" r="2.85"/><circle cx="1087.5" cy="1414.3" r="2.85"/><circle cx="1085.5" cy="1262.8" r="2.85"/></g>
<g fill="#000" fill-opacity="0.75"><circle cx="1209" cy="1349.2" r="2.85"/><circle cx="1190.7" cy="1389.6" r="2.85"/><circle cx="1180.8" cy="1378.3" r="2.85"/><circle cx="1193" cy="1337.8" r="2.85"/><circle cx="1184.8" cy="1344.4" r="2.85"/><circle cx="1204.3" cy="1343.7" r="2.85"/><circle cx="1209.2" cy="1384.1" r="2.85"/><circle cx="1171.8" cy="1348" r="2.85"/><circle cx="1172.8" cy="1319.2" r="2.85"/><circle cx="1199.4" cy="1353.9" r="2.85"/><circle cx="1209.7" cy="1321.6" r="2.85"/><circle cx="1181.8" cy="1333.2" r="2.85"/><circle cx="1196.1" cy="1334.2" r="2.85"/><circle cx="1171.9" cy="1376.5" r="2.85"/><circle cx="1200.8" cy="1376.1" r="2.85"/><circle cx="1191.1" cy="1376.5" r="2.85"/><circle cx="1210.1" cy="1326.5" r="2.85"/><circle cx="1208.6" cy="1324" r="2.85"/><circle cx="1176" cy="1382.4" r="2.85"/><circle cx="1179.3" cy="1386.4" r="2.85"/><circle cx="1195.9" cy="1351.8" r="2.85"/><circle cx="1177" cy="1322.6" r="2.85"/><circle cx="1195.3" cy="1348.1" r="2.85"/><circle cx="1201.8" cy="1338.9" r="2.85"/><circle cx="1192.3" cy="1342.8" r="2.85"/><circle cx="1188.8" cy="1340.4" r="2.85"/><circle cx="1210.4" cy="1359.5" r="2.85"/><circle cx="1205.8" cy="1342.8" r="2.85"/><circle cx="1200.6" cy="1337.7" r="2.85"/><circle cx="1197" cy="1358.6" r="2.85"/><circle cx="1177.8" cy="1313.8" r="2.85"/><circle cx="1179.4" cy="1382.7" r="2.85"/><circle cx="1196.9" cy="1367.6" r="2.85"/><circle cx="1200.6" cy="1379.2" r="2.85"/><circle cx="1184.2" cy="1328.5" r="2.85"/><circle cx="1192.8" cy="1328" r="2.85"/><circle cx="1183.5" cy="1377.6" r="2.85"/><circle cx="1205.9" cy="1353.1" r="2.85"/><circle cx="1190" cy="1369.7" r="2.85"/><circle cx="1182.5" cy="1387.6" r="2.85"/><circle cx="1204" cy="1378.6" r="2.85"/><circle cx="1187.5" cy="1346.7" r="2.85"/><circle cx="1201" cy="1340.8" r="2.85"/><circle cx="1180.9" cy="1377.4" r="2.85"/><circle cx="1194.7" cy="1355.3" r="2.85"/><circle cx="1186.2" cy="1334.4" r="2.85"/><circle cx="1178.9" cy="1321.1" r="2.85"/><circle cx="1197.8" cy="1346.2" r="2.85"/><circle cx="1201.1" cy="1378.7" r="2.85"/><circle cx="1195.1" cy="1390.9" r="2.85"/><circle cx="1189.7" cy="1353.3" r="2.85"/><circle cx="1200.7" cy="1365.1" r="2.85"/><circle cx="1175.7" cy="1373.8" r="2.85"/><circle cx="1172.4" cy="1376.6" r="2.85"/><circle cx="1179.8" cy="1373.1" r="2.85"/><circle cx="1200.5" cy="1351" r="2.85"/><circle cx="1192.9" cy="1337.9" r="2.85"/><circle cx="1183.4" cy="1378.7" r="2.85"/><circle cx="1198.3" cy="1309.5" r="2.85"/><circle cx="1185.1" cy="1320" r="2.85"/><circle cx="1185" cy="1362.9" r="2.85"/><circle cx="1202.2" cy="1347.1" r="2.85"/><circle cx="1210.1" cy="1317.7" r="2.85"/><circle cx="1210.6" cy="1380.1" r="2.85"/><circle cx="1182.4" cy="1374.7" r="2.85"/><circle cx="1195" cy="1374.5" r="2.85"/><circle cx="1180.2" cy="1381.7" r="2.85"/><circle cx="1178.6" cy="1336.8" r="2.85"/><circle cx="1180.2" cy="1361.8" r="2.85"/><circle cx="1200.4" cy="1352.2" r="2.85"/><circle cx="1201.6" cy="1352.6" r="2.85"/><circle cx="1188.8" cy="1361.2" r="2.85"/><circle cx="1183.6" cy="1317.7" r="2.85"/><circle cx="1183.2" cy="1360.1" r="2.85"/><circle cx="1184.5" cy="1379.1" r="2.85"/><circle cx="1203.5" cy="1387.5" r="2.85"/><circle cx="1187.1" cy="1376.3" r="2.85"/><circle cx="1180.3" cy="1350" r="2.85"/><circle cx="1204.7" cy="1350.3" r="2.85"/><circle cx="1177.5" cy="1347.4" r="2.85"/><circle cx="1208.6" cy="1368.1" r="2.85"/><circle cx="1187.2" cy="1343.7" r="2.85"/><circle cx="1202.7" cy="1343.2" r="2.85"/><circle cx="1191.6" cy="1384.6" r="2.85"/><circle cx="1199" cy="1344.6" r="2.85"/><circle cx="1197.4" cy="1344.1" r="2.85"/><circle cx="1194.4" cy="1363.3" r="2.85"/><circle cx="1208.3" cy="1327.5" r="2.85"/><circle cx="1193.4" cy="1353.1" r="2.85"/><circle cx="1193" cy="1377.4" r="2.85"/><circle cx="1202.1" cy="1331.2" r="2.85"/><circle cx="1189.6" cy="1311.4" r="2.85"/><circle cx="1186" cy="1383.8" r="2.85"/><circle cx="1197" cy="1356.8" r="2.85"/><circle cx="1188.7" cy="1332.6" r="2.85"/><circle cx="1178.6" cy="1339.1" r="2.85"/><circle cx="1194.4" cy="1329.3" r="2.85"/><circle cx="1185.1" cy="1322.3" r="2.85"/><circle cx="1191.6" cy="1393.9" r="2.85"/><circle cx="1204.5" cy="1337.1" r="2.85"/><circle cx="1209.7" cy="1391.3" r="2.85"/><circle cx="1210.8" cy="1380.4" r="2.85"/><circle cx="1174.7" cy="1382.7" r="2.85"/><circle cx="1207.4" cy="1342.4" r="2.85"/><circle cx="1209.7" cy="1391.9" r="2.85"/><circle cx="1188" cy="1351.9" r="2.85"/><circle cx="1186.3" cy="1389.5" r="2.85"/><circle cx="1189.6" cy="1306" r="2.85"/><circle cx="1175.2" cy="1371.5" r="2.85"/><circle cx="1198.4" cy="1355.1" r="2.85"/><circle cx="1180.9" cy="1384.2" r="2.85"/><circle cx="1179.4" cy="1373.1" r="2.85"/><circle cx="1189.6" cy="1322.3" r="2.85"/><circle cx="1204.3" cy="1348.3" r="2.85"/><circle cx="1174.1" cy="1384" r="2.85"/><circle cx="1193.2" cy="1370.7" r="2.85"/><circle cx="1208" cy="1359.7" r="2.85"/><circle cx="1205.8" cy="1311.7" r="2.85"/><circle cx="1177.1" cy="1358.4" r="2.85"/><circle cx="1182.1" cy="1343.6" r="2.85"/><circle cx="1172.6" cy="1328.5" r="2.85"/><circle cx="1202.3" cy="1296.6" r="2.85"/><circle cx="1173.8" cy="1338.3" r="2.85"/><circle cx="1195.4" cy="1382.5" r="2.85"/><circle cx="1204.5" cy="1381.2" r="2.85"/><circle cx="1198.4" cy="1312.9" r="2.85"/><circle cx="1204.8" cy="1344.2" r="2.85"/><circle cx="1195.4" cy="1396.3" r="2.85"/><circle cx="1173.1" cy="1371" r="2.85"/><circle cx="1178.2" cy="1369.3" r="2.85"/><circle cx="1206.5" cy="1365.6" r="2.85"/><circle cx="1176.6" cy="1338.3" r="2.85"/><circle cx="1185.2" cy="1337.6" r="2.85"/><circle cx="1187.7" cy="1321.6" r="2.85"/><circle cx="1200.3" cy="1395.8" r="2.85"/><circle cx="1210.8" cy="1347.1" r="2.85"/><circle cx="1202" cy="1361.2" r="2.85"/><circle cx="1176.6" cy="1382.4" r="2.85"/><circle cx="1173.8" cy="1333.5" r="2.85"/><circle cx="1190.4" cy="1386.7" r="2.85"/><circle cx="1176.9" cy="1271.9" r="2.85"/><circle cx="1186.9" cy="1435.6" r="2.85"/><circle cx="1195.8" cy="1455.2" r="2.85"/><circle cx="1191" cy="1500.6" r="2.85"/></g>
<text x="1051.58" y="1524.2" font-size="19.8" fill="#000" stroke="#000" stroke-width="0.36">Wilcoxon, p &lt; 2.2e−16</text>
<line x1="1339.3" y1="1482.65" x2="1558.9" y2="1482.65" stroke="#ebebeb" stroke-width="1.1"/>
<line x1="1339.3" y1="1389.15" x2="1558.9" y2="1389.15" stroke="#ebebeb" stroke-width="1.1"/>
<line x1="1339.3" y1="1295.65" x2="1558.9" y2="1295.65" stroke="#ebebeb" stroke-width="1.1"/>
<line x1="1339.3" y1="1529.4" x2="1558.9" y2="1529.4" stroke="#e7e7e7" stroke-width="1.5"/>
<line x1="1339.3" y1="1435.9" x2="1558.9" y2="1435.9" stroke="#e7e7e7" stroke-width="1.5"/>
<line x1="1339.3" y1="1342.4" x2="1558.9" y2="1342.4" stroke="#e7e7e7" stroke-width="1.5"/>
<line x1="1339.3" y1="1248.9" x2="1558.9" y2="1248.9" stroke="#e7e7e7" stroke-width="1.5"/>
<line x1="1399.19" y1="1247.8" x2="1399.19" y2="1536.5" stroke="#e7e7e7" stroke-width="1.5"/>
<line x1="1499.01" y1="1247.8" x2="1499.01" y2="1536.5" stroke="#e7e7e7" stroke-width="1.5"/>
<text x="1330.3" y="1536.85" font-size="20.8" fill="#4d4d4d" stroke="#4d4d4d" stroke-width="0.37" text-anchor="end">−2</text>
<text x="1330.3" y="1443.35" font-size="20.8" fill="#4d4d4d" stroke="#4d4d4d" stroke-width="0.37" text-anchor="end">0</text>
<text x="1330.3" y="1349.85" font-size="20.8" fill="#4d4d4d" stroke="#4d4d4d" stroke-width="0.37" text-anchor="end">2</text>
<text x="1330.3" y="1256.35" font-size="20.8" fill="#4d4d4d" stroke="#4d4d4d" stroke-width="0.37" text-anchor="end">4</text>
<text x="1399.19" y="1563.9" font-size="25.3" fill="#4d4d4d" stroke="#4d4d4d" stroke-width="0.46" text-anchor="middle">Control</text>
<text x="1499.01" y="1563.9" font-size="25.3" fill="#4d4d4d" stroke="#4d4d4d" stroke-width="0.46" text-anchor="middle">T1D</text>
<text x="1449.1" y="1231.1" font-size="28.5" fill="#000" stroke="#000" stroke-width="0.51" text-anchor="middle">IDS</text>
<text x="1302.4" y="1392.15" font-size="19.5" fill="#000" stroke="#000" stroke-width="0.35" text-anchor="middle" transform="rotate(-90 1302.4 1392.15)">NPX</text>
<line x1="1399.19" y1="1414.86" x2="1399.19" y2="1429.59" stroke="#1e1e1e" stroke-width="1.8"/>
<line x1="1399.19" y1="1443.38" x2="1399.19" y2="1460.21" stroke="#1e1e1e" stroke-width="1.8"/>
<rect x="1361.76" y="1429.59" width="74.86" height="13.79" fill="#d77d7d" stroke="#222" stroke-width="1.8"/>
<line x1="1361.76" y1="1437.3" x2="1436.62" y2="1437.3" stroke="#222" stroke-width="3"/>
<circle cx="1399.19" cy="1322.77" r="3.9" fill="#2a2a2a"/>
<circle cx="1399.19" cy="1337.73" r="3.9" fill="#2a2a2a"/>
<circle cx="1399.19" cy="1351.75" r="3.9" fill="#2a2a2a"/>
<circle cx="1399.19" cy="1356.43" r="3.9" fill="#2a2a2a"/>
<circle cx="1399.19" cy="1361.1" r="3.9" fill="#2a2a2a"/>
<circle cx="1399.19" cy="1365.78" r="3.9" fill="#2a2a2a"/>
<circle cx="1399.19" cy="1368.11" r="3.9" fill="#2a2a2a"/>
<circle cx="1399.19" cy="1384.48" r="3.9" fill="#2a2a2a"/>
<circle cx="1399.19" cy="1391.49" r="3.9" fill="#2a2a2a"/>
<circle cx="1399.19" cy="1396.16" r="3.9" fill="#2a2a2a"/>
<circle cx="1399.19" cy="1400.84" r="3.9" fill="#2a2a2a"/>
<circle cx="1399.19" cy="1405.51" r="3.9" fill="#2a2a2a"/>
<circle cx="1399.19" cy="1407.85" r="3.9" fill="#2a2a2a"/>
<line x1="1499.01" y1="1378.4" x2="1499.01" y2="1409.25" stroke="#1e1e1e" stroke-width="1.8"/>
<line x1="1499.01" y1="1435.9" x2="1499.01" y2="1451.8" stroke="#1e1e1e" stroke-width="1.8"/>
<rect x="1461.58" y="1409.25" width="74.86" height="26.65" fill="#d77d7d" stroke="#222" stroke-width="1.8"/>
<line x1="1461.58" y1="1424.68" x2="1536.44" y2="1424.68" stroke="#222" stroke-width="3"/>
<circle cx="1499.01" cy="1262.93" r="3.9" fill="#2a2a2a"/>
<circle cx="1499.01" cy="1272.28" r="3.9" fill="#2a2a2a"/>
<circle cx="1499.01" cy="1340.06" r="3.9" fill="#2a2a2a"/>
<circle cx="1499.01" cy="1356.43" r="3.9" fill="#2a2a2a"/>
<circle cx="1499.01" cy="1365.78" r="3.9" fill="#2a2a2a"/>
<circle cx="1499.01" cy="1370.45" r="3.9" fill="#2a2a2a"/>
<circle cx="1499.01" cy="1375.12" r="3.9" fill="#2a2a2a"/>
<circle cx="1499.01" cy="1508.36" r="3.9" fill="#2a2a2a"/>
<g fill="#000" fill-opacity="0.75"><circle cx="1397.1" cy="1459.7" r="2.85"/><circle cx="1405.4" cy="1426.9" r="2.85"/><circle cx="1386.5" cy="1423.7" r="2.85"/><circle cx="1387.1" cy="1424.2" r="2.85"/><circle cx="1386.4" cy="1426.7" r="2.85"/><circle cx="1381.9" cy="1426" r="2.85"/><circle cx="1417.4" cy="1443.3" r="2.85"/><circle cx="1388" cy="1426.3" r="2.85"/><circle cx="1401.1" cy="1446" r="2.85"/><circle cx="1386.4" cy="1451.1" r="2.85"/><circle cx="1390.1" cy="1439" r="2.85"/><circle cx="1414.7" cy="1448.6" r="2.85"/><circle cx="1386.8" cy="1447" r="2.85"/><circle cx="1382.1" cy="1443" r="2.85"/><circle cx="1412.8" cy="1440.9" r="2.85"/><circle cx="1399.6" cy="1435.3" r="2.85"/><circle cx="1397" cy="1446.3" r="2.85"/><circle cx="1416.7" cy="1442.6" r="2.85"/><circle cx="1393.6" cy="1438.5" r="2.85"/><circle cx="1410.3" cy="1435.3" r="2.85"/><circle cx="1395.3" cy="1431.6" r="2.85"/><circle cx="1396.4" cy="1428.6" r="2.85"/><circle cx="1408.6" cy="1434.5" r="2.85"/><circle cx="1395.1" cy="1431.9" r="2.85"/><circle cx="1380.3" cy="1429.4" r="2.85"/><circle cx="1389.8" cy="1437.3" r="2.85"/><circle cx="1413.9" cy="1435" r="2.85"/><circle cx="1392.2" cy="1445.4" r="2.85"/><circle cx="1403.5" cy="1434.4" r="2.85"/><circle cx="1403.4" cy="1427" r="2.85"/><circle cx="1411.1" cy="1443.1" r="2.85"/><circle cx="1394.3" cy="1424.4" r="2.85"/><circle cx="1405.9" cy="1441.8" r="2.85"/><circle cx="1393.9" cy="1426.3" r="2.85"/><circle cx="1389.5" cy="1421.6" r="2.85"/><circle cx="1382.2" cy="1434.5" r="2.85"/><circle cx="1411.8" cy="1440.7" r="2.85"/><circle cx="1382.4" cy="1431.9" r="2.85"/><circle cx="1394.4" cy="1440.8" r="2.85"/><circle cx="1404.8" cy="1445.4" r="2.85"/><circle cx="1390.1" cy="1426.5" r="2.85"/><circle cx="1399.2" cy="1454.3" r="2.85"/><circle cx="1412.3" cy="1427.6" r="2.85"/><circle cx="1408.9" cy="1444.2" r="2.85"/><circle cx="1393" cy="1427.4" r="2.85"/><circle cx="1415.3" cy="1441.8" r="2.85"/><circle cx="1413.7" cy="1420.5" r="2.85"/><circle cx="1411.8" cy="1441.7" r="2.85"/><circle cx="1388" cy="1457.2" r="2.85"/><circle cx="1395.2" cy="1414.9" r="2.85"/><circle cx="1419" cy="1436.8" r="2.85"/><circle cx="1402.8" cy="1438.3" r="2.85"/><circle cx="1389" cy="1437.3" r="2.85"/><circle cx="1397.1" cy="1440.1" r="2.85"/><circle cx="1393.9" cy="1433.7" r="2.85"/><circle cx="1401.9" cy="1444.1" r="2.85"/><circle cx="1391.8" cy="1417.8" r="2.85"/><circle cx="1417" cy="1443.6" r="2.85"/><circle cx="1399.1" cy="1429.7" r="2.85"/><circle cx="1398.8" cy="1424.3" r="2.85"/><circle cx="1380.5" cy="1439.3" r="2.85"/><circle cx="1388.5" cy="1427.9" r="2.85"/><circle cx="1387.4" cy="1442.2" r="2.85"/><circle cx="1396" cy="1446.2" r="2.85"/><circle cx="1381.9" cy="1444.5" r="2.85"/><circle cx="1391.3" cy="1426.3" r="2.85"/><circle cx="1412.7" cy="1426.5" r="2.85"/><circle cx="1399.2" cy="1445.5" r="2.85"/><circle cx="1415.2" cy="1426.8" r="2.85"/><circle cx="1395.5" cy="1445.5" r="2.85"/><circle cx="1402.5" cy="1435.1" r="2.85"/><circle cx="1413.7" cy="1429.3" r="2.85"/><circle cx="1393.9" cy="1455.7" r="2.85"/><circle cx="1397.9" cy="1430" r="2.85"/><circle cx="1395.8" cy="1440" r="2.85"/><circle cx="1400.3" cy="1450.6" r="2.85"/><circle cx="1390.2" cy="1429.5" r="2.85"/><circle cx="1408" cy="1434" r="2.85"/><circle cx="1387.9" cy="1433.2" r="2.85"/><circle cx="1381.9" cy="1439.9" r="2.85"/><circle cx="1384.3" cy="1443.5" r="2.85"/><circle cx="1385.5" cy="1449.2" r="2.85"/><circle cx="1399" cy="1439.5" r="2.85"/><circle cx="1410.1" cy="1446.9" r="2.85"/><circle cx="1396.2" cy="1441.5" r="2.85"/><circle cx="1385.8" cy="1432.8" r="2.85"/><circle cx="1383.5" cy="1428.7" r="2.85"/><circle cx="1409.9" cy="1432.6" r="2.85"/><circle cx="1394.9" cy="1434.2" r="2.85"/><circle cx="1380.2" cy="1440" r="2.85"/><circle cx="1406.7" cy="1427.5" r="2.85"/><circle cx="1412" cy="1425.8" r="2.85"/><circle cx="1417.3" cy="1442" r="2.85"/><circle cx="1413.8" cy="1441.4" r="2.85"/><circle cx="1380.5" cy="1446.3" r="2.85"/><circle cx="1406.5" cy="1440.2" r="2.85"/><circle cx="1402.1" cy="1441.5" r="2.85"/><circle cx="1394.5" cy="1419.7" r="2.85"/><circle cx="1383.7" cy="1424.4" r="2.85"/><circle cx="1385" cy="1449.7" r="2.85"/><circle cx="1410.3" cy="1428.9" r="2.85"/><circle cx="1392" cy="1439.7" r="2.85"/><circle cx="1404.6" cy="1453.1" r="2.85"/><circle cx="1402.3" cy="1434.6" r="2.85"/><circle cx="1408.1" cy="1443.7" r="2.85"/><circle cx="1407.5" cy="1434" r="2.85"/><circle cx="1394.4" cy="1431.5" r="2.85"/><circle cx="1385.2" cy="1443.4" r="2.85"/><circle cx="1399.6" cy="1423.3" r="2.85"/><circle cx="1389.5" cy="1436" r="2.85"/><circle cx="1409" cy="1444.6" r="2.85"/><circle cx="1401.7" cy="1452.1" r="2.85"/><circle cx="1402.6" cy="1417.7" r="2.85"/><circle cx="1408.6" cy="1444.8" r="2.85"/><circle cx="1407.8" cy="1436.8" r="2.85"/><circle cx="1398.3" cy="1434.3" r="2.85"/><circle cx="1411.9" cy="1428" r="2.85"/><circle cx="1409.9" cy="1449.7" r="2.85"/><circle cx="1410.7" cy="1459.3" r="2.85"/><circle cx="1383" cy="1436.4" r="2.85"/><circle cx="1410.6" cy="1451" r="2.85"/><circle cx="1401.5" cy="1440.1" r="2.85"/><circle cx="1397.9" cy="1419" r="2.85"/><circle cx="1410" cy="1443" r="2.85"/><circle cx="1414.3" cy="1429.9" r="2.85"/><circle cx="1412" cy="1447.7" r="2.85"/><circle cx="1381.3" cy="1414.9" r="2.85"/><circle cx="1414.4" cy="1441.1" r="2.85"/><circle cx="1386.1" cy="1433.1" r="2.85"/><circle cx="1401.2" cy="1438.9" r="2.85"/><circle cx="1415.9" cy="1443.2" r="2.85"/><circle cx="1387.8" cy="1426.7" r="2.85"/><circle cx="1406.3" cy="1439.8" r="2.85"/><circle cx="1392.5" cy="1446" r="2.85"/><circle cx="1385.7" cy="1442.6" r="2.85"/><circle cx="1413.5" cy="1440.5" r="2.85"/><circle cx="1410.9" cy="1436.8" r="2.85"/><circle cx="1415.7" cy="1436.3" r="2.85"/><circle cx="1381.8" cy="1445.2" r="2.85"/><circle cx="1387.3" cy="1442.5" r="2.85"/><circle cx="1382.3" cy="1419.2" r="2.85"/><circle cx="1382.1" cy="1440.3" r="2.85"/><circle cx="1398.9" cy="1424.7" r="2.85"/><circle cx="1412.1" cy="1442" r="2.85"/><circle cx="1411.9" cy="1434.1" r="2.85"/><circle cx="1379.6" cy="1443.8" r="2.85"/><circle cx="1392.1" cy="1455.8" r="2.85"/><circle cx="1392.1" cy="1443.2" r="2.85"/><circle cx="1417.6" cy="1428.6" r="2.85"/><circle cx="1390.4" cy="1425.6" r="2.85"/><circle cx="1409.9" cy="1427.2" r="2.85"/><circle cx="1386.1" cy="1443.3" r="2.85"/><circle cx="1387.3" cy="1441.2" r="2.85"/><circle cx="1405.4" cy="1448.6" r="2.85"/><circle cx="1402" cy="1435.4" r="2.85"/><circle cx="1401.7" cy="1429.3" r="2.85"/><circle cx="1385.7" cy="1436" r="2.85"/><circle cx="1412.7" cy="1445.1" r="2.85"/><circle cx="1412.8" cy="1434" r="2.85"/><circle cx="1389" cy="1437.5" r="2.85"/><circle cx="1402.1" cy="1433" r="2.85"/><circle cx="1392.4" cy="1440" r="2.85"/><circle cx="1386.9" cy="1436.2" r="2.85"/><circle cx="1416.9" cy="1444.9" r="2.85"/><circle cx="1401.5" cy="1445.9" r="2.85"/><circle cx="1383" cy="1460.2" r="2.85"/><circle cx="1396.7" cy="1436" r="2.85"/><circle cx="1389.5" cy="1436.6" r="2.85"/><circle cx="1418.2" cy="1446.9" r="2.85"/><circle cx="1390.6" cy="1423.5" r="2.85"/><circle cx="1398.3" cy="1426" r="2.85"/><circle cx="1392.4" cy="1422.1" r="2.85"/><circle cx="1383.6" cy="1439.2" r="2.85"/><circle cx="1414.7" cy="1440.4" r="2.85"/><circle cx="1407.4" cy="1434.4" r="2.85"/><circle cx="1415.9" cy="1428.1" r="2.85"/><circle cx="1413.5" cy="1423.6" r="2.85"/><circle cx="1403.4" cy="1446.7" r="2.85"/><circle cx="1402.4" cy="1439.5" r="2.85"/><circle cx="1407.2" cy="1456.1" r="2.85"/><circle cx="1394.7" cy="1440.3" r="2.85"/><circle cx="1408.2" cy="1428.2" r="2.85"/><circle cx="1384.6" cy="1430" r="2.85"/><circle cx="1402.6" cy="1416.9" r="2.85"/><circle cx="1407.3" cy="1430.1" r="2.85"/><circle cx="1384.7" cy="1441.7" r="2.85"/><circle cx="1381" cy="1444.7" r="2.85"/><circle cx="1395.7" cy="1434.9" r="2.85"/><circle cx="1410" cy="1422.3" r="2.85"/><circle cx="1391.7" cy="1449.2" r="2.85"/><circle cx="1385.9" cy="1446.5" r="2.85"/><circle cx="1407.2" cy="1437" r="2.85"/><circle cx="1408.3" cy="1440.9" r="2.85"/><circle cx="1390.5" cy="1428.2" r="2.85"/><circle cx="1385.7" cy="1442.1" r="2.85"/><circle cx="1396.7" cy="1437.4" r="2.85"/><circle cx="1386.4" cy="1437.9" r="2.85"/><circle cx="1379.7" cy="1435.4" r="2.85"/><circle cx="1412.3" cy="1424.5" r="2.85"/><circle cx="1400.2" cy="1449.5" r="2.85"/><circle cx="1386.6" cy="1453.4" r="2.85"/><circle cx="1391" cy="1451.3" r="2.85"/><circle cx="1392" cy="1440.5" r="2.85"/><circle cx="1396.5" cy="1436.6" r="2.85"/><circle cx="1416.4" cy="1431.7" r="2.85"/><circle cx="1411.4" cy="1434.3" r="2.85"/><circle cx="1383.6" cy="1436.4" r="2.85"/><circle cx="1407.5" cy="1453.8" r="2.85"/><circle cx="1397.3" cy="1443.9" r="2.85"/><circle cx="1389.4" cy="1432.9" r="2.85"/><circle cx="1381.9" cy="1449" r="2.85"/><circle cx="1404.2" cy="1442.3" r="2.85"/><circle cx="1417.9" cy="1441.8" r="2.85"/><circle cx="1380.5" cy="1432.2" r="2.85"/><circle cx="1415.6" cy="1445.8" r="2.85"/><circle cx="1413.3" cy="1452.9" r="2.85"/><circle cx="1392.3" cy="1441.2" r="2.85"/><circle cx="1407.8" cy="1440.5" r="2.85"/><circle cx="1407.4" cy="1428.7" r="2.85"/><circle cx="1407" cy="1443.4" r="2.85"/><circle cx="1404.2" cy="1440" r="2.85"/><circle cx="1411.6" cy="1442.6" r="2.85"/><circle cx="1413.7" cy="1442.3" r="2.85"/><circle cx="1388.9" cy="1419" r="2.85"/><circle cx="1399.6" cy="1460.2" r="2.85"/><circle cx="1415.5" cy="1431.1" r="2.85"/><circle cx="1383.2" cy="1445.1" r="2.85"/><circle cx="1401.3" cy="1437.1" r="2.85"/><circle cx="1411.1" cy="1451.7" r="2.85"/><circle cx="1415.2" cy="1435.7" r="2.85"/><circle cx="1405.5" cy="1445.2" r="2.85"/><circle cx="1400.1" cy="1431.5" r="2.85"/><circle cx="1399" cy="1424.6" r="2.85"/><circle cx="1389.8" cy="1449.2" r="2.85"/><circle cx="1392.8" cy="1452.3" r="2.85"/><circle cx="1406.8" cy="1426.3" r="2.85"/><circle cx="1414.5" cy="1420" r="2.85"/><circle cx="1417.1" cy="1437.8" r="2.85"/><circle cx="1416.2" cy="1456.5" r="2.85"/><circle cx="1390" cy="1451.9" r="2.85"/><circle cx="1389.1" cy="1427.8" r="2.85"/><circle cx="1382.5" cy="1421.5" r="2.85"/><circle cx="1415.1" cy="1439" r="2.85"/><circle cx="1401.6" cy="1450.1" r="2.85"/><circle cx="1392.5" cy="1426.2" r="2.85"/><circle cx="1405.2" cy="1450.1" r="2.85"/><circle cx="1412.2" cy="1444.1" r="2.85"/><circle cx="1408.2" cy="1443.6" r="2.85"/><circle cx="1386.8" cy="1443.7" r="2.85"/><circle cx="1401.6" cy="1431.7" r="2.85"/><circle cx="1380" cy="1446.7" r="2.85"/><circle cx="1390.4" cy="1436.3" r="2.85"/><circle cx="1401.9" cy="1426.7" r="2.85"/><circle cx="1404.9" cy="1426.7" r="2.85"/><circle cx="1387.7" cy="1424.7" r="2.85"/><circle cx="1406.4" cy="1441.3" r="2.85"/><circle cx="1393.2" cy="1453.2" r="2.85"/><circle cx="1381.6" cy="1435.8" r="2.85"/><circle cx="1418.6" cy="1435.3" r="2.85"/><circle cx="1401.7" cy="1434.6" r="2.85"/><circle cx="1403.5" cy="1441.4" r="2.85"/><circle cx="1385.7" cy="1432.6" r="2.85"/><circle cx="1409.5" cy="1447.1" r="2.85"/><circle cx="1382.1" cy="1428.8" r="2.85"/><circle cx="1385.8" cy="1421.4" r="2.85"/><circle cx="1412.5" cy="1436.3" r="2.85"/><circle cx="1409.8" cy="1437.2" r="2.85"/><circle cx="1397" cy="1430.4" r="2.85"/><circle cx="1385.6" cy="1431.4" r="2.85"/><circle cx="1398.6" cy="1431.2" r="2.85"/><circle cx="1390" cy="1435.5" r="2.85"/><circle cx="1394.1" cy="1440.3" r="2.85"/><circle cx="1386.2" cy="1422.8" r="2.85"/><circle cx="1415.6" cy="1448.5" r="2.85"/><circle cx="1412.2" cy="1426.3" r="2.85"/><circle cx="1418.6" cy="1322.8" r="2.85"/><circle cx="1393.1" cy="1337.7" r="2.85"/><circle cx="1396.5" cy="1351.8" r="2.85"/><circle cx="1406.6" cy="1356.4" r="2.85"/><circle cx="1415.9" cy="1361.1" r="2.85"/><circle cx="1384.3" cy="1365.8" r="2.85"/><circle cx="1384.7" cy="1368.1" r="2.85"/><circle cx="1381.9" cy="1384.5" r="2.85"/><circle cx="1381.2" cy="1391.5" r="2.85"/><circle cx="1387.9" cy="1396.2" r="2.85"/><circle cx="1391.2" cy="1400.8" r="2.85"/><circle cx="1397.1" cy="1405.5" r="2.85"/><circle cx="1406.7" cy="1407.9" r="2.85"/></g>
<g fill="#000" fill-opacity="0.75"><circle cx="1510.1" cy="1424.4" r="2.85"/><circle cx="1484.2" cy="1436.4" r="2.85"/><circle cx="1501" cy="1430.9" r="2.85"/><circle cx="1516.4" cy="1402.6" r="2.85"/><circle cx="1491" cy="1400.8" r="2.85"/><circle cx="1485.1" cy="1438" r="2.85"/><circle cx="1516" cy="1427.2" r="2.85"/><circle cx="1505.2" cy="1425.8" r="2.85"/><circle cx="1510.3" cy="1438.1" r="2.85"/><circle cx="1504.5" cy="1431.1" r="2.85"/><circle cx="1483.5" cy="1439.2" r="2.85"/><circle cx="1515.2" cy="1411.7" r="2.85"/><circle cx="1487.8" cy="1438.2" r="2.85"/><circle cx="1512.7" cy="1397.2" r="2.85"/><circle cx="1498.9" cy="1446.6" r="2.85"/><circle cx="1493.8" cy="1411.4" r="2.85"/><circle cx="1488.1" cy="1410.7" r="2.85"/><circle cx="1515.2" cy="1435.5" r="2.85"/><circle cx="1512.5" cy="1444.4" r="2.85"/><circle cx="1484.9" cy="1420.6" r="2.85"/><circle cx="1518" cy="1440.5" r="2.85"/><circle cx="1486.8" cy="1402.6" r="2.85"/><circle cx="1517.6" cy="1422.2" r="2.85"/><circle cx="1503.8" cy="1425" r="2.85"/><circle cx="1499.6" cy="1422.3" r="2.85"/><circle cx="1508.5" cy="1408.1" r="2.85"/><circle cx="1512.6" cy="1425.2" r="2.85"/><circle cx="1495.5" cy="1412.3" r="2.85"/><circle cx="1513.3" cy="1416.5" r="2.85"/><circle cx="1514.2" cy="1433.5" r="2.85"/><circle cx="1496" cy="1402.5" r="2.85"/><circle cx="1508.5" cy="1394.5" r="2.85"/><circle cx="1504.2" cy="1402.4" r="2.85"/><circle cx="1502.2" cy="1422.1" r="2.85"/><circle cx="1502.3" cy="1409.3" r="2.85"/><circle cx="1485.4" cy="1439.2" r="2.85"/><circle cx="1513.1" cy="1437.2" r="2.85"/><circle cx="1505.4" cy="1437.7" r="2.85"/><circle cx="1483" cy="1434.6" r="2.85"/><circle cx="1500.3" cy="1406.9" r="2.85"/><circle cx="1487.8" cy="1437.3" r="2.85"/><circle cx="1497.3" cy="1435.6" r="2.85"/><circle cx="1509.6" cy="1442.9" r="2.85"/><circle cx="1480.8" cy="1436.2" r="2.85"/><circle cx="1508.7" cy="1444.2" r="2.85"/><circle cx="1495.3" cy="1406.1" r="2.85"/><circle cx="1482.9" cy="1427.7" r="2.85"/><circle cx="1483.1" cy="1405.6" r="2.85"/><circle cx="1517.8" cy="1398.6" r="2.85"/><circle cx="1495.7" cy="1414.5" r="2.85"/><circle cx="1489.9" cy="1417.6" r="2.85"/><circle cx="1509.6" cy="1422.2" r="2.85"/><circle cx="1479.2" cy="1432.2" r="2.85"/><circle cx="1517.2" cy="1448.4" r="2.85"/><circle cx="1501" cy="1421" r="2.85"/><circle cx="1481.9" cy="1436.3" r="2.85"/><circle cx="1501.8" cy="1438.7" r="2.85"/><circle cx="1513" cy="1434.7" r="2.85"/><circle cx="1500.4" cy="1425.5" r="2.85"/><circle cx="1480.7" cy="1409.4" r="2.85"/><circle cx="1493.7" cy="1438.7" r="2.85"/><circle cx="1485.1" cy="1440.9" r="2.85"/><circle cx="1479.4" cy="1403.2" r="2.85"/><circle cx="1507.2" cy="1412.6" r="2.85"/><circle cx="1507.1" cy="1407.7" r="2.85"/><circle cx="1483" cy="1429.6" r="2.85"/><circle cx="1495.1" cy="1441.9" r="2.85"/><circle cx="1507.7" cy="1399.3" r="2.85"/><circle cx="1486.8" cy="1400.6" r="2.85"/><circle cx="1500.6" cy="1435" r="2.85"/><circle cx="1484.5" cy="1415.8" r="2.85"/><circle cx="1482.2" cy="1403" r="2.85"/><circle cx="1508" cy="1380.7" r="2.85"/><circle cx="1491.8" cy="1401.1" r="2.85"/><circle cx="1505.4" cy="1412.4" r="2.85"/><circle cx="1504.1" cy="1428.4" r="2.85"/><circle cx="1512.8" cy="1432.4" r="2.85"/><circle cx="1483.3" cy="1425.8" r="2.85"/><circle cx="1498.3" cy="1435.7" r="2.85"/><circle cx="1481.2" cy="1410.3" r="2.85"/><circle cx="1510.7" cy="1421.5" r="2.85"/><circle cx="1497.7" cy="1428.5" r="2.85"/><circle cx="1506.7" cy="1438.6" r="2.85"/><circle cx="1514.2" cy="1422" r="2.85"/><circle cx="1505.4" cy="1430.1" r="2.85"/><circle cx="1485.5" cy="1415.6" r="2.85"/><circle cx="1492.2" cy="1438" r="2.85"/><circle cx="1511.2" cy="1409.1" r="2.85"/><circle cx="1492.6" cy="1426.4" r="2.85"/><circle cx="1503.5" cy="1389.3" r="2.85"/><circle cx="1497.6" cy="1436.5" r="2.85"/><circle cx="1506" cy="1388.4" r="2.85"/><circle cx="1510.7" cy="1378.4" r="2.85"/><circle cx="1505.1" cy="1424.7" r="2.85"/><circle cx="1513.5" cy="1386.9" r="2.85"/><circle cx="1486.7" cy="1401.2" r="2.85"/><circle cx="1511.4" cy="1439.9" r="2.85"/><circle cx="1486.9" cy="1433.1" r="2.85"/><circle cx="1503.5" cy="1402.9" r="2.85"/><circle cx="1513" cy="1416.2" r="2.85"/><circle cx="1506.5" cy="1405" r="2.85"/><circle cx="1481" cy="1413.2" r="2.85"/><circle cx="1512.3" cy="1395.5" r="2.85"/><circle cx="1492.3" cy="1427.3" r="2.85"/><circle cx="1484.2" cy="1438.4" r="2.85"/><circle cx="1517.7" cy="1434.4" r="2.85"/><circle cx="1494.1" cy="1423.5" r="2.85"/><circle cx="1484.5" cy="1437.1" r="2.85"/><circle cx="1512.8" cy="1423.6" r="2.85"/><circle cx="1504.9" cy="1426.9" r="2.85"/><circle cx="1483.3" cy="1428.6" r="2.85"/><circle cx="1480.1" cy="1424" r="2.85"/><circle cx="1515.9" cy="1429.9" r="2.85"/><circle cx="1517.3" cy="1403.1" r="2.85"/><circle cx="1515.4" cy="1420.7" r="2.85"/><circle cx="1511.8" cy="1406.6" r="2.85"/><circle cx="1481.2" cy="1441.5" r="2.85"/><circle cx="1515.7" cy="1422.4" r="2.85"/><circle cx="1491.6" cy="1431.4" r="2.85"/><circle cx="1494.4" cy="1445.8" r="2.85"/><circle cx="1486.4" cy="1386.4" r="2.85"/><circle cx="1490.1" cy="1440.6" r="2.85"/><circle cx="1480.3" cy="1405.8" r="2.85"/><circle cx="1516.9" cy="1406.9" r="2.85"/><circle cx="1481.8" cy="1400.5" r="2.85"/><circle cx="1518.7" cy="1430.8" r="2.85"/><circle cx="1481.2" cy="1450.7" r="2.85"/><circle cx="1488.7" cy="1408.9" r="2.85"/><circle cx="1482.5" cy="1425.2" r="2.85"/><circle cx="1517" cy="1408.4" r="2.85"/><circle cx="1484.7" cy="1426" r="2.85"/><circle cx="1508.1" cy="1398.2" r="2.85"/><circle cx="1509.9" cy="1411.1" r="2.85"/><circle cx="1507.8" cy="1429.2" r="2.85"/><circle cx="1486.6" cy="1380.4" r="2.85"/><circle cx="1511.8" cy="1433.2" r="2.85"/><circle cx="1490.7" cy="1447.6" r="2.85"/><circle cx="1514" cy="1420" r="2.85"/><circle cx="1481.3" cy="1411.8" r="2.85"/><circle cx="1481.5" cy="1409.7" r="2.85"/><circle cx="1483" cy="1262.9" r="2.85"/><circle cx="1486.7" cy="1272.3" r="2.85"/><circle cx="1515.8" cy="1340.1" r="2.85"/><circle cx="1490" cy="1356.4" r="2.85"/><circle cx="1479.5" cy="1365.8" r="2.85"/><circle cx="1501.4" cy="1370.5" r="2.85"/><circle cx="1499.9" cy="1375.1" r="2.85"/><circle cx="1488.2" cy="1508.4" r="2.85"/></g>
<text x="1358.78" y="1524.2" font-size="19.8" fill="#000" stroke="#000" stroke-width="0.36">Wilcoxon, p = 6.7e−13</text>
<text x="27.6" y="1632.4" font-size="36.5" fill="#000" font-weight="bold">c</text>
<rect x="634.2" y="1616.45" width="18.21" height="21.5" fill="#d82612" stroke="#ffffff" stroke-opacity="0.08" stroke-width="0.6"/>
<rect x="652.41" y="1616.45" width="18.21" height="21.5" fill="#a8523f" stroke="#ffffff" stroke-opacity="0.08" stroke-width="0.6"/>
<rect x="670.62" y="1616.45" width="18.21" height="21.5" fill="#a8523f" stroke="#ffffff" stroke-opacity="0.08" stroke-width="0.6"/>
<rect x="688.83" y="1616.45" width="18.21" height="21.5" fill="#a8523f" stroke="#ffffff" stroke-opacity="0.08" stroke-width="0.6"/>
<rect x="761.67" y="1616.45" width="18.21" height="21.5" fill="#8e6054" stroke="#ffffff" stroke-opacity="0.08" stroke-width="0.6"/>
<rect x="779.88" y="1616.45" width="18.21" height="21.5" fill="#8e6054" stroke="#ffffff" stroke-opacity="0.08" stroke-width="0.6"/>
<rect x="1162.29" y="1637.95" width="18.21" height="21.5" fill="#8e6054" stroke="#ffffff" stroke-opacity="0.08" stroke-width="0.6"/>
<rect x="1216.92" y="1637.95" width="18.21" height="21.5" fill="#85645a" stroke="#ffffff" stroke-opacity="0.08" stroke-width="0.6"/>
<rect x="1307.97" y="1637.95" width="18.21" height="21.5" fill="#7d6760" stroke="#ffffff" stroke-opacity="0.08" stroke-width="0.6"/>
<rect x="1380.81" y="1637.95" width="18.21" height="21.5" fill="#7d6760" stroke="#ffffff" stroke-opacity="0.08" stroke-width="0.6"/>
<rect x="1417.23" y="1637.95" width="18.21" height="21.5" fill="#766965" stroke="#ffffff" stroke-opacity="0.08" stroke-width="0.6"/>
<rect x="1490.07" y="1637.95" width="18.21" height="21.5" fill="#3f6a7d" stroke="#ffffff" stroke-opacity="0.08" stroke-width="0.6"/>
<rect x="634.2" y="1659.45" width="18.21" height="21.5" fill="#d82612" stroke="#ffffff" stroke-opacity="0.08" stroke-width="0.6"/>
<rect x="707.04" y="1659.45" width="18.21" height="21.5" fill="#a15644" stroke="#ffffff" stroke-opacity="0.08" stroke-width="0.6"/>
<rect x="725.25" y="1659.45" width="18.21" height="21.5" fill="#8e6054" stroke="#ffffff" stroke-opacity="0.08" stroke-width="0.6"/>
<rect x="798.09" y="1659.45" width="18.21" height="21.5" fill="#8e6054" stroke="#ffffff" stroke-opacity="0.08" stroke-width="0.6"/>
<rect x="816.3" y="1659.45" width="18.21" height="21.5" fill="#8e6054" stroke="#ffffff" stroke-opacity="0.08" stroke-width="0.6"/>
<rect x="834.51" y="1659.45" width="18.21" height="21.5" fill="#8e6054" stroke="#ffffff" stroke-opacity="0.08" stroke-width="0.6"/>
<rect x="1107.66" y="1680.95" width="18.21" height="21.5" fill="#8e6054" stroke="#ffffff" stroke-opacity="0.08" stroke-width="0.6"/>
<rect x="1125.87" y="1680.95" width="18.21" height="21.5" fill="#8e6054" stroke="#ffffff" stroke-opacity="0.08" stroke-width="0.6"/>
<rect x="1144.08" y="1680.95" width="18.21" height="21.5" fill="#8e6054" stroke="#ffffff" stroke-opacity="0.08" stroke-width="0.6"/>
<rect x="1162.29" y="1680.95" width="18.21" height="21.5" fill="#8e6054" stroke="#ffffff" stroke-opacity="0.08" stroke-width="0.6"/>
<rect x="1216.92" y="1680.95" width="18.21" height="21.5" fill="#85645a" stroke="#ffffff" stroke-opacity="0.08" stroke-width="0.6"/>
<rect x="1235.13" y="1680.95" width="18.21" height="21.5" fill="#85645a" stroke="#ffffff" stroke-opacity="0.08" stroke-width="0.6"/>
<rect x="1253.34" y="1680.95" width="18.21" height="21.5" fill="#85645a" stroke="#ffffff" stroke-opacity="0.08" stroke-width="0.6"/>
<rect x="1289.76" y="1680.95" width="18.21" height="21.5" fill="#85645a" stroke="#ffffff" stroke-opacity="0.08" stroke-width="0.6"/>
<rect x="1326.18" y="1680.95" width="18.21" height="21.5" fill="#7d6760" stroke="#ffffff" stroke-opacity="0.08" stroke-width="0.6"/>
<rect x="1362.6" y="1680.95" width="18.21" height="21.5" fill="#7d6760" stroke="#ffffff" stroke-opacity="0.08" stroke-width="0.6"/>
<rect x="1380.81" y="1680.95" width="18.21" height="21.5" fill="#7d6760" stroke="#ffffff" stroke-opacity="0.08" stroke-width="0.6"/>
<rect x="1399.02" y="1680.95" width="18.21" height="21.5" fill="#7d6760" stroke="#ffffff" stroke-opacity="0.08" stroke-width="0.6"/>
<rect x="1471.86" y="1680.95" width="18.21" height="21.5" fill="#686a6a" stroke="#ffffff" stroke-opacity="0.08" stroke-width="0.6"/>
<rect x="1490.07" y="1680.95" width="18.21" height="21.5" fill="#3f6a7d" stroke="#ffffff" stroke-opacity="0.08" stroke-width="0.6"/>
<rect x="1034.82" y="1702.45" width="18.21" height="21.5" fill="#8e6054" stroke="#ffffff" stroke-opacity="0.08" stroke-width="0.6"/>
<rect x="1053.03" y="1702.45" width="18.21" height="21.5" fill="#8e6054" stroke="#ffffff" stroke-opacity="0.08" stroke-width="0.6"/>
<rect x="1107.66" y="1702.45" width="18.21" height="21.5" fill="#8e6054" stroke="#ffffff" stroke-opacity="0.08" stroke-width="0.6"/>
<rect x="1125.87" y="1702.45" width="18.21" height="21.5" fill="#8e6054" stroke="#ffffff" stroke-opacity="0.08" stroke-width="0.6"/>
<rect x="1216.92" y="1702.45" width="18.21" height="21.5" fill="#85645a" stroke="#ffffff" stroke-opacity="0.08" stroke-width="0.6"/>
<rect x="1235.13" y="1702.45" width="18.21" height="21.5" fill="#85645a" stroke="#ffffff" stroke-opacity="0.08" stroke-width="0.6"/>
<rect x="1253.34" y="1702.45" width="18.21" height="21.5" fill="#85645a" stroke="#ffffff" stroke-opacity="0.08" stroke-width="0.6"/>
<rect x="1289.76" y="1702.45" width="18.21" height="21.5" fill="#85645a" stroke="#ffffff" stroke-opacity="0.08" stroke-width="0.6"/>
<rect x="1380.81" y="1702.45" width="18.21" height="21.5" fill="#7d6760" stroke="#ffffff" stroke-opacity="0.08" stroke-width="0.6"/>
<rect x="1399.02" y="1702.45" width="18.21" height="21.5" fill="#7d6760" stroke="#ffffff" stroke-opacity="0.08" stroke-width="0.6"/>
<rect x="1490.07" y="1702.45" width="18.21" height="21.5" fill="#3f6a7d" stroke="#ffffff" stroke-opacity="0.08" stroke-width="0.6"/>
<rect x="634.2" y="1723.95" width="18.21" height="21.5" fill="#d82612" stroke="#ffffff" stroke-opacity="0.08" stroke-width="0.6"/>
<rect x="743.46" y="1723.95" width="18.21" height="21.5" fill="#8e6054" stroke="#ffffff" stroke-opacity="0.08" stroke-width="0.6"/>
<rect x="779.88" y="1723.95" width="18.21" height="21.5" fill="#8e6054" stroke="#ffffff" stroke-opacity="0.08" stroke-width="0.6"/>
<rect x="798.09" y="1723.95" width="18.21" height="21.5" fill="#8e6054" stroke="#ffffff" stroke-opacity="0.08" stroke-width="0.6"/>
<rect x="816.3" y="1723.95" width="18.21" height="21.5" fill="#8e6054" stroke="#ffffff" stroke-opacity="0.08" stroke-width="0.6"/>
<rect x="870.93" y="1723.95" width="18.21" height="21.5" fill="#8e6054" stroke="#ffffff" stroke-opacity="0.08" stroke-width="0.6"/>
<rect x="889.14" y="1723.95" width="18.21" height="21.5" fill="#8e6054" stroke="#ffffff" stroke-opacity="0.08" stroke-width="0.6"/>
<rect x="907.35" y="1723.95" width="18.21" height="21.5" fill="#8e6054" stroke="#ffffff" stroke-opacity="0.08" stroke-width="0.6"/>
<rect x="1271.55" y="1745.45" width="18.21" height="21.5" fill="#85645a" stroke="#ffffff" stroke-opacity="0.08" stroke-width="0.6"/>
<rect x="1289.76" y="1745.45" width="18.21" height="21.5" fill="#85645a" stroke="#ffffff" stroke-opacity="0.08" stroke-width="0.6"/>
<rect x="1326.18" y="1745.45" width="18.21" height="21.5" fill="#7d6760" stroke="#ffffff" stroke-opacity="0.08" stroke-width="0.6"/>
<rect x="1471.86" y="1745.45" width="18.21" height="21.5" fill="#686a6a" stroke="#ffffff" stroke-opacity="0.08" stroke-width="0.6"/>
<rect x="1490.07" y="1745.45" width="18.21" height="21.5" fill="#3f6a7d" stroke="#ffffff" stroke-opacity="0.08" stroke-width="0.6"/>
<rect x="634.2" y="1766.95" width="18.21" height="21.5" fill="#d82612" stroke="#ffffff" stroke-opacity="0.08" stroke-width="0.6"/>
<rect x="707.04" y="1766.95" width="18.21" height="21.5" fill="#a15644" stroke="#ffffff" stroke-opacity="0.08" stroke-width="0.6"/>
<rect x="725.25" y="1766.95" width="18.21" height="21.5" fill="#8e6054" stroke="#ffffff" stroke-opacity="0.08" stroke-width="0.6"/>
<rect x="779.88" y="1766.95" width="18.21" height="21.5" fill="#8e6054" stroke="#ffffff" stroke-opacity="0.08" stroke-width="0.6"/>
<rect x="798.09" y="1766.95" width="18.21" height="21.5" fill="#8e6054" stroke="#ffffff" stroke-opacity="0.08" stroke-width="0.6"/>
<rect x="816.3" y="1766.95" width="18.21" height="21.5" fill="#8e6054" stroke="#ffffff" stroke-opacity="0.08" stroke-width="0.6"/>
<rect x="834.51" y="1766.95" width="18.21" height="21.5" fill="#8e6054" stroke="#ffffff" stroke-opacity="0.08" stroke-width="0.6"/>
<rect x="852.72" y="1766.95" width="18.21" height="21.5" fill="#8e6054" stroke="#ffffff" stroke-opacity="0.08" stroke-width="0.6"/>
<rect x="889.14" y="1766.95" width="18.21" height="21.5" fill="#8e6054" stroke="#ffffff" stroke-opacity="0.08" stroke-width="0.6"/>
<rect x="925.56" y="1766.95" width="18.21" height="21.5" fill="#8e6054" stroke="#ffffff" stroke-opacity="0.08" stroke-width="0.6"/>
<rect x="943.77" y="1766.95" width="18.21" height="21.5" fill="#8e6054" stroke="#ffffff" stroke-opacity="0.08" stroke-width="0.6"/>
<rect x="634.2" y="1788.45" width="18.21" height="21.5" fill="#d82612" stroke="#ffffff" stroke-opacity="0.08" stroke-width="0.6"/>
<rect x="725.25" y="1788.45" width="18.21" height="21.5" fill="#8e6054" stroke="#ffffff" stroke-opacity="0.08" stroke-width="0.6"/>
<rect x="743.46" y="1788.45" width="18.21" height="21.5" fill="#8e6054" stroke="#ffffff" stroke-opacity="0.08" stroke-width="0.6"/>
<rect x="779.88" y="1788.45" width="18.21" height="21.5" fill="#8e6054" stroke="#ffffff" stroke-opacity="0.08" stroke-width="0.6"/>
<rect x="798.09" y="1788.45" width="18.21" height="21.5" fill="#8e6054" stroke="#ffffff" stroke-opacity="0.08" stroke-width="0.6"/>
<rect x="816.3" y="1788.45" width="18.21" height="21.5" fill="#8e6054" stroke="#ffffff" stroke-opacity="0.08" stroke-width="0.6"/>
<rect x="870.93" y="1788.45" width="18.21" height="21.5" fill="#8e6054" stroke="#ffffff" stroke-opacity="0.08" stroke-width="0.6"/>
<rect x="889.14" y="1788.45" width="18.21" height="21.5" fill="#8e6054" stroke="#ffffff" stroke-opacity="0.08" stroke-width="0.6"/>
<rect x="907.35" y="1788.45" width="18.21" height="21.5" fill="#8e6054" stroke="#ffffff" stroke-opacity="0.08" stroke-width="0.6"/>
<rect x="1235.13" y="1809.95" width="18.21" height="21.5" fill="#85645a" stroke="#ffffff" stroke-opacity="0.08" stroke-width="0.6"/>
<rect x="1307.97" y="1809.95" width="18.21" height="21.5" fill="#7d6760" stroke="#ffffff" stroke-opacity="0.08" stroke-width="0.6"/>
<rect x="1344.39" y="1809.95" width="18.21" height="21.5" fill="#7d6760" stroke="#ffffff" stroke-opacity="0.08" stroke-width="0.6"/>
<rect x="1380.81" y="1809.95" width="18.21" height="21.5" fill="#7d6760" stroke="#ffffff" stroke-opacity="0.08" stroke-width="0.6"/>
<rect x="1435.44" y="1809.95" width="18.21" height="21.5" fill="#766965" stroke="#ffffff" stroke-opacity="0.08" stroke-width="0.6"/>
<rect x="1471.86" y="1809.95" width="18.21" height="21.5" fill="#686a6a" stroke="#ffffff" stroke-opacity="0.08" stroke-width="0.6"/>
<rect x="1016.61" y="1831.45" width="18.21" height="21.5" fill="#8e6054" stroke="#ffffff" stroke-opacity="0.08" stroke-width="0.6"/>
<rect x="1034.82" y="1831.45" width="18.21" height="21.5" fill="#8e6054" stroke="#ffffff" stroke-opacity="0.08" stroke-width="0.6"/>
<rect x="1107.66" y="1831.45" width="18.21" height="21.5" fill="#8e6054" stroke="#ffffff" stroke-opacity="0.08" stroke-width="0.6"/>
<rect x="1198.71" y="1831.45" width="18.21" height="21.5" fill="#85645a" stroke="#ffffff" stroke-opacity="0.08" stroke-width="0.6"/>
<rect x="1326.18" y="1831.45" width="18.21" height="21.5" fill="#7d6760" stroke="#ffffff" stroke-opacity="0.08" stroke-width="0.6"/>
<rect x="1344.39" y="1831.45" width="18.21" height="21.5" fill="#7d6760" stroke="#ffffff" stroke-opacity="0.08" stroke-width="0.6"/>
<rect x="1435.44" y="1831.45" width="18.21" height="21.5" fill="#766965" stroke="#ffffff" stroke-opacity="0.08" stroke-width="0.6"/>
<rect x="1490.07" y="1831.45" width="18.21" height="21.5" fill="#3f6a7d" stroke="#ffffff" stroke-opacity="0.08" stroke-width="0.6"/>
<rect x="1307.97" y="1852.95" width="18.21" height="21.5" fill="#7d6760" stroke="#ffffff" stroke-opacity="0.08" stroke-width="0.6"/>
<rect x="1417.23" y="1852.95" width="18.21" height="21.5" fill="#766965" stroke="#ffffff" stroke-opacity="0.08" stroke-width="0.6"/>
<rect x="1435.44" y="1852.95" width="18.21" height="21.5" fill="#766965" stroke="#ffffff" stroke-opacity="0.08" stroke-width="0.6"/>
<rect x="1453.65" y="1852.95" width="18.21" height="21.5" fill="#766965" stroke="#ffffff" stroke-opacity="0.08" stroke-width="0.6"/>
<rect x="1471.86" y="1852.95" width="18.21" height="21.5" fill="#686a6a" stroke="#ffffff" stroke-opacity="0.08" stroke-width="0.6"/>
<rect x="1235.13" y="1874.45" width="18.21" height="21.5" fill="#85645a" stroke="#ffffff" stroke-opacity="0.08" stroke-width="0.6"/>
<rect x="1326.18" y="1874.45" width="18.21" height="21.5" fill="#7d6760" stroke="#ffffff" stroke-opacity="0.08" stroke-width="0.6"/>
<rect x="1380.81" y="1874.45" width="18.21" height="21.5" fill="#7d6760" stroke="#ffffff" stroke-opacity="0.08" stroke-width="0.6"/>
<rect x="1399.02" y="1874.45" width="18.21" height="21.5" fill="#7d6760" stroke="#ffffff" stroke-opacity="0.08" stroke-width="0.6"/>
<rect x="1453.65" y="1874.45" width="18.21" height="21.5" fill="#766965" stroke="#ffffff" stroke-opacity="0.08" stroke-width="0.6"/>
<rect x="1180.5" y="1895.95" width="18.21" height="21.5" fill="#85645a" stroke="#ffffff" stroke-opacity="0.08" stroke-width="0.6"/>
<rect x="1198.71" y="1895.95" width="18.21" height="21.5" fill="#85645a" stroke="#ffffff" stroke-opacity="0.08" stroke-width="0.6"/>
<rect x="1216.92" y="1895.95" width="18.21" height="21.5" fill="#85645a" stroke="#ffffff" stroke-opacity="0.08" stroke-width="0.6"/>
<rect x="1235.13" y="1895.95" width="18.21" height="21.5" fill="#85645a" stroke="#ffffff" stroke-opacity="0.08" stroke-width="0.6"/>
<rect x="1326.18" y="1895.95" width="18.21" height="21.5" fill="#7d6760" stroke="#ffffff" stroke-opacity="0.08" stroke-width="0.6"/>
<rect x="1344.39" y="1895.95" width="18.21" height="21.5" fill="#7d6760" stroke="#ffffff" stroke-opacity="0.08" stroke-width="0.6"/>
<rect x="1380.81" y="1895.95" width="18.21" height="21.5" fill="#7d6760" stroke="#ffffff" stroke-opacity="0.08" stroke-width="0.6"/>
<rect x="1435.44" y="1895.95" width="18.21" height="21.5" fill="#766965" stroke="#ffffff" stroke-opacity="0.08" stroke-width="0.6"/>
<rect x="1453.65" y="1895.95" width="18.21" height="21.5" fill="#766965" stroke="#ffffff" stroke-opacity="0.08" stroke-width="0.6"/>
<rect x="1471.86" y="1895.95" width="18.21" height="21.5" fill="#686a6a" stroke="#ffffff" stroke-opacity="0.08" stroke-width="0.6"/>
<rect x="1490.07" y="1895.95" width="18.21" height="21.5" fill="#3f6a7d" stroke="#ffffff" stroke-opacity="0.08" stroke-width="0.6"/>
<rect x="1016.61" y="1917.45" width="18.21" height="21.5" fill="#8e6054" stroke="#ffffff" stroke-opacity="0.08" stroke-width="0.6"/>
<rect x="1034.82" y="1917.45" width="18.21" height="21.5" fill="#8e6054" stroke="#ffffff" stroke-opacity="0.08" stroke-width="0.6"/>
<rect x="1089.45" y="1917.45" width="18.21" height="21.5" fill="#8e6054" stroke="#ffffff" stroke-opacity="0.08" stroke-width="0.6"/>
<rect x="1107.66" y="1917.45" width="18.21" height="21.5" fill="#8e6054" stroke="#ffffff" stroke-opacity="0.08" stroke-width="0.6"/>
<rect x="1125.87" y="1917.45" width="18.21" height="21.5" fill="#8e6054" stroke="#ffffff" stroke-opacity="0.08" stroke-width="0.6"/>
<rect x="1307.97" y="1917.45" width="18.21" height="21.5" fill="#7d6760" stroke="#ffffff" stroke-opacity="0.08" stroke-width="0.6"/>
<rect x="1326.18" y="1917.45" width="18.21" height="21.5" fill="#7d6760" stroke="#ffffff" stroke-opacity="0.08" stroke-width="0.6"/>
<rect x="1344.39" y="1917.45" width="18.21" height="21.5" fill="#7d6760" stroke="#ffffff" stroke-opacity="0.08" stroke-width="0.6"/>
<rect x="1380.81" y="1917.45" width="18.21" height="21.5" fill="#7d6760" stroke="#ffffff" stroke-opacity="0.08" stroke-width="0.6"/>
<rect x="1399.02" y="1917.45" width="18.21" height="21.5" fill="#7d6760" stroke="#ffffff" stroke-opacity="0.08" stroke-width="0.6"/>
<rect x="1417.23" y="1917.45" width="18.21" height="21.5" fill="#766965" stroke="#ffffff" stroke-opacity="0.08" stroke-width="0.6"/>
<rect x="1490.07" y="1917.45" width="18.21" height="21.5" fill="#3f6a7d" stroke="#ffffff" stroke-opacity="0.08" stroke-width="0.6"/>
<rect x="1235.13" y="1938.95" width="18.21" height="21.5" fill="#85645a" stroke="#ffffff" stroke-opacity="0.08" stroke-width="0.6"/>
<rect x="1253.34" y="1938.95" width="18.21" height="21.5" fill="#85645a" stroke="#ffffff" stroke-opacity="0.08" stroke-width="0.6"/>
<rect x="1417.23" y="1938.95" width="18.21" height="21.5" fill="#766965" stroke="#ffffff" stroke-opacity="0.08" stroke-width="0.6"/>
<rect x="1435.44" y="1938.95" width="18.21" height="21.5" fill="#766965" stroke="#ffffff" stroke-opacity="0.08" stroke-width="0.6"/>
<rect x="1490.07" y="1938.95" width="18.21" height="21.5" fill="#3f6a7d" stroke="#ffffff" stroke-opacity="0.08" stroke-width="0.6"/>
<rect x="961.98" y="1960.45" width="18.21" height="21.5" fill="#8e6054" stroke="#ffffff" stroke-opacity="0.08" stroke-width="0.6"/>
<rect x="980.19" y="1960.45" width="18.21" height="21.5" fill="#8e6054" stroke="#ffffff" stroke-opacity="0.08" stroke-width="0.6"/>
<rect x="998.4" y="1960.45" width="18.21" height="21.5" fill="#8e6054" stroke="#ffffff" stroke-opacity="0.08" stroke-width="0.6"/>
<rect x="1016.61" y="1960.45" width="18.21" height="21.5" fill="#8e6054" stroke="#ffffff" stroke-opacity="0.08" stroke-width="0.6"/>
<rect x="1034.82" y="1960.45" width="18.21" height="21.5" fill="#8e6054" stroke="#ffffff" stroke-opacity="0.08" stroke-width="0.6"/>
<rect x="1198.71" y="1960.45" width="18.21" height="21.5" fill="#85645a" stroke="#ffffff" stroke-opacity="0.08" stroke-width="0.6"/>
<rect x="1235.13" y="1960.45" width="18.21" height="21.5" fill="#85645a" stroke="#ffffff" stroke-opacity="0.08" stroke-width="0.6"/>
<rect x="1253.34" y="1960.45" width="18.21" height="21.5" fill="#85645a" stroke="#ffffff" stroke-opacity="0.08" stroke-width="0.6"/>
<rect x="1326.18" y="1960.45" width="18.21" height="21.5" fill="#7d6760" stroke="#ffffff" stroke-opacity="0.08" stroke-width="0.6"/>
<rect x="1344.39" y="1960.45" width="18.21" height="21.5" fill="#7d6760" stroke="#ffffff" stroke-opacity="0.08" stroke-width="0.6"/>
<rect x="1380.81" y="1960.45" width="18.21" height="21.5" fill="#7d6760" stroke="#ffffff" stroke-opacity="0.08" stroke-width="0.6"/>
<rect x="1399.02" y="1960.45" width="18.21" height="21.5" fill="#7d6760" stroke="#ffffff" stroke-opacity="0.08" stroke-width="0.6"/>
<rect x="1417.23" y="1960.45" width="18.21" height="21.5" fill="#766965" stroke="#ffffff" stroke-opacity="0.08" stroke-width="0.6"/>
<rect x="1435.44" y="1981.95" width="18.21" height="21.5" fill="#766965" stroke="#ffffff" stroke-opacity="0.08" stroke-width="0.6"/>
<rect x="1453.65" y="1981.95" width="18.21" height="21.5" fill="#766965" stroke="#ffffff" stroke-opacity="0.08" stroke-width="0.6"/>
<rect x="1490.07" y="1981.95" width="18.21" height="21.5" fill="#3f6a7d" stroke="#ffffff" stroke-opacity="0.08" stroke-width="0.6"/>
<rect x="1125.87" y="2003.45" width="18.21" height="21.5" fill="#8e6054" stroke="#ffffff" stroke-opacity="0.08" stroke-width="0.6"/>
<rect x="1144.08" y="2003.45" width="18.21" height="21.5" fill="#8e6054" stroke="#ffffff" stroke-opacity="0.08" stroke-width="0.6"/>
<rect x="1180.5" y="2003.45" width="18.21" height="21.5" fill="#85645a" stroke="#ffffff" stroke-opacity="0.08" stroke-width="0.6"/>
<rect x="1198.71" y="2003.45" width="18.21" height="21.5" fill="#85645a" stroke="#ffffff" stroke-opacity="0.08" stroke-width="0.6"/>
<rect x="1235.13" y="2003.45" width="18.21" height="21.5" fill="#85645a" stroke="#ffffff" stroke-opacity="0.08" stroke-width="0.6"/>
<rect x="1307.97" y="2003.45" width="18.21" height="21.5" fill="#7d6760" stroke="#ffffff" stroke-opacity="0.08" stroke-width="0.6"/>
<rect x="1344.39" y="2003.45" width="18.21" height="21.5" fill="#7d6760" stroke="#ffffff" stroke-opacity="0.08" stroke-width="0.6"/>
<rect x="1417.23" y="2003.45" width="18.21" height="21.5" fill="#766965" stroke="#ffffff" stroke-opacity="0.08" stroke-width="0.6"/>
<rect x="1435.44" y="2003.45" width="18.21" height="21.5" fill="#766965" stroke="#ffffff" stroke-opacity="0.08" stroke-width="0.6"/>
<rect x="1034.82" y="2024.95" width="18.21" height="21.5" fill="#8e6054" stroke="#ffffff" stroke-opacity="0.08" stroke-width="0.6"/>
<rect x="1071.24" y="2024.95" width="18.21" height="21.5" fill="#8e6054" stroke="#ffffff" stroke-opacity="0.08" stroke-width="0.6"/>
<rect x="1089.45" y="2024.95" width="18.21" height="21.5" fill="#8e6054" stroke="#ffffff" stroke-opacity="0.08" stroke-width="0.6"/>
<rect x="1144.08" y="2024.95" width="18.21" height="21.5" fill="#8e6054" stroke="#ffffff" stroke-opacity="0.08" stroke-width="0.6"/>
<rect x="1289.76" y="2024.95" width="18.21" height="21.5" fill="#85645a" stroke="#ffffff" stroke-opacity="0.08" stroke-width="0.6"/>
<rect x="1326.18" y="2024.95" width="18.21" height="21.5" fill="#7d6760" stroke="#ffffff" stroke-opacity="0.08" stroke-width="0.6"/>
<rect x="1344.39" y="2024.95" width="18.21" height="21.5" fill="#7d6760" stroke="#ffffff" stroke-opacity="0.08" stroke-width="0.6"/>
<rect x="1399.02" y="2024.95" width="18.21" height="21.5" fill="#7d6760" stroke="#ffffff" stroke-opacity="0.08" stroke-width="0.6"/>
<line x1="632.4" y1="1614.25" x2="632.4" y2="2050" stroke="#000" stroke-width="2"/>
<line x1="631.4" y1="2049" x2="1510.3" y2="2049" stroke="#000" stroke-width="2"/>
<line x1="627.3" y1="1627.8" x2="631.6" y2="1627.8" stroke="#333" stroke-width="1.8"/>
<text x="623.5" y="1634.15" font-size="17.85" fill="#4d4d4d" stroke="#4d4d4d" stroke-width="0.32" text-anchor="end">SWEET_LUNG_CANCER_KRAS_UP</text>
<line x1="627.3" y1="1649.3" x2="631.6" y2="1649.3" stroke="#333" stroke-width="1.8"/>
<text x="623.5" y="1655.65" font-size="17.85" fill="#4d4d4d" stroke="#4d4d4d" stroke-width="0.32" text-anchor="end">GRAESSMANN_APOPTOSIS_BY_DOXORUBICIN_DN</text>
<line x1="627.3" y1="1670.8" x2="631.6" y2="1670.8" stroke="#333" stroke-width="1.8"/>
<text x="623.5" y="1677.15" font-size="17.85" fill="#4d4d4d" stroke="#4d4d4d" stroke-width="0.32" text-anchor="end">GOMF_MOLECULAR_TRANSDUCER_ACTIVITY</text>
<line x1="627.3" y1="1692.3" x2="631.6" y2="1692.3" stroke="#333" stroke-width="1.8"/>
<text x="623.5" y="1698.65" font-size="17.85" fill="#4d4d4d" stroke="#4d4d4d" stroke-width="0.32" text-anchor="end">GOMF_MOLECULAR_FUNCTION_REGULATOR</text>
<line x1="627.3" y1="1713.8" x2="631.6" y2="1713.8" stroke="#333" stroke-width="1.8"/>
<text x="623.5" y="1720.15" font-size="17.85" fill="#4d4d4d" stroke="#4d4d4d" stroke-width="0.32" text-anchor="end">GOMF_ENZYME_REGULATOR_ACTIVITY</text>
<line x1="627.3" y1="1735.3" x2="631.6" y2="1735.3" stroke="#333" stroke-width="1.8"/>
<text x="623.5" y="1741.65" font-size="17.85" fill="#4d4d4d" stroke="#4d4d4d" stroke-width="0.32" text-anchor="end">GOCC_SIDE_OF_MEMBRANE</text>
<line x1="627.3" y1="1756.8" x2="631.6" y2="1756.8" stroke="#333" stroke-width="1.8"/>
<text x="623.5" y="1763.15" font-size="17.85" fill="#4d4d4d" stroke="#4d4d4d" stroke-width="0.32" text-anchor="end">GOCC_SECRETORY_VESICLE</text>
<line x1="627.3" y1="1778.3" x2="631.6" y2="1778.3" stroke="#333" stroke-width="1.8"/>
<text x="623.5" y="1784.65" font-size="17.85" fill="#4d4d4d" stroke="#4d4d4d" stroke-width="0.32" text-anchor="end">GOCC_INTRINSIC_COMPONENT_OF_PLASMA_MEMBRANE</text>
<line x1="627.3" y1="1799.8" x2="631.6" y2="1799.8" stroke="#333" stroke-width="1.8"/>
<text x="623.5" y="1806.15" font-size="17.85" fill="#4d4d4d" stroke="#4d4d4d" stroke-width="0.32" text-anchor="end">GOCC_CELL_SURFACE</text>
<line x1="627.3" y1="1821.3" x2="631.6" y2="1821.3" stroke="#333" stroke-width="1.8"/>
<text x="623.5" y="1827.65" font-size="17.85" fill="#4d4d4d" stroke="#4d4d4d" stroke-width="0.32" text-anchor="end">GOBP_RESPONSE_TO_OXYGEN_CONTAINING_COMPOUND</text>
<line x1="627.3" y1="1842.8" x2="631.6" y2="1842.8" stroke="#333" stroke-width="1.8"/>
<text x="623.5" y="1849.15" font-size="17.85" fill="#4d4d4d" stroke="#4d4d4d" stroke-width="0.32" text-anchor="end">GOBP_RESPONSE_TO_ENDOGENOUS_STIMULUS</text>
<line x1="627.3" y1="1864.3" x2="631.6" y2="1864.3" stroke="#333" stroke-width="1.8"/>
<text x="623.5" y="1870.65" font-size="17.85" fill="#4d4d4d" stroke="#4d4d4d" stroke-width="0.32" text-anchor="end">GOBP_RESPONSE_TO_ABIOTIC_STIMULUS</text>
<line x1="627.3" y1="1885.8" x2="631.6" y2="1885.8" stroke="#333" stroke-width="1.8"/>
<text x="623.5" y="1892.15" font-size="17.85" fill="#4d4d4d" stroke="#4d4d4d" stroke-width="0.32" text-anchor="end">GOBP_REGULATION_OF_TRANSPORT</text>
<line x1="627.3" y1="1907.3" x2="631.6" y2="1907.3" stroke="#333" stroke-width="1.8"/>
<text x="623.5" y="1913.65" font-size="17.85" fill="#4d4d4d" stroke="#4d4d4d" stroke-width="0.32" text-anchor="end">GOBP_REGULATION_OF_INTRA...LAR_SIGNAL_TRANSDUCTION</text>
<line x1="627.3" y1="1928.8" x2="631.6" y2="1928.8" stroke="#333" stroke-width="1.8"/>
<text x="623.5" y="1935.15" font-size="17.85" fill="#4d4d4d" stroke="#4d4d4d" stroke-width="0.32" text-anchor="end">GOBP_REGULATION_OF_HYDROLASE_ACTIVITY</text>
<line x1="627.3" y1="1950.3" x2="631.6" y2="1950.3" stroke="#333" stroke-width="1.8"/>
<text x="623.5" y="1956.65" font-size="17.85" fill="#4d4d4d" stroke="#4d4d4d" stroke-width="0.32" text-anchor="end">GOBP_POSITIVE_REGULATION_OF_CELL_DEATH</text>
<line x1="627.3" y1="1971.8" x2="631.6" y2="1971.8" stroke="#333" stroke-width="1.8"/>
<text x="623.5" y="1978.15" font-size="17.85" fill="#4d4d4d" stroke="#4d4d4d" stroke-width="0.32" text-anchor="end">GOBP_POSITIVE_REGULATION_OF_CATALYTIC_ACTIVITY</text>
<line x1="627.3" y1="1993.3" x2="631.6" y2="1993.3" stroke="#333" stroke-width="1.8"/>
<text x="623.5" y="1999.65" font-size="17.85" fill="#4d4d4d" stroke="#4d4d4d" stroke-width="0.32" text-anchor="end">GOBP_NEGATIVE_REGULATION_OF_SIGNALING</text>
<line x1="627.3" y1="2014.8" x2="631.6" y2="2014.8" stroke="#333" stroke-width="1.8"/>
<text x="623.5" y="2021.15" font-size="17.85" fill="#4d4d4d" stroke="#4d4d4d" stroke-width="0.32" text-anchor="end">GOBP_CELLULAR_RESPONSE_TO_STRESS</text>
<line x1="627.3" y1="2036.3" x2="631.6" y2="2036.3" stroke="#333" stroke-width="1.8"/>
<text x="623.5" y="2042.65" font-size="17.85" fill="#4d4d4d" stroke="#4d4d4d" stroke-width="0.32" text-anchor="end">GOBP_CELL_PROJECTION_ORGANIZATION</text>
<line x1="643.31" y1="2050" x2="643.31" y2="2054" stroke="#333" stroke-width="1.8"/>
<line x1="661.52" y1="2050" x2="661.52" y2="2054" stroke="#333" stroke-width="1.8"/>
<line x1="679.73" y1="2050" x2="679.73" y2="2054" stroke="#333" stroke-width="1.8"/>
<line x1="697.94" y1="2050" x2="697.94" y2="2054" stroke="#333" stroke-width="1.8"/>
<line x1="716.15" y1="2050" x2="716.15" y2="2054" stroke="#333" stroke-width="1.8"/>
<line x1="734.36" y1="2050" x2="734.36" y2="2054" stroke="#333" stroke-width="1.8"/>
<line x1="752.57" y1="2050" x2="752.57" y2="2054" stroke="#333" stroke-width="1.8"/>
<line x1="770.78" y1="2050" x2="770.78" y2="2054" stroke="#333" stroke-width="1.8"/>
<line x1="788.99" y1="2050" x2="788.99" y2="2054" stroke="#333" stroke-width="1.8"/>
<line x1="807.2" y1="2050" x2="807.2" y2="2054" stroke="#333" stroke-width="1.8"/>
<line x1="825.41" y1="2050" x2="825.41" y2="2054" stroke="#333" stroke-width="1.8"/>
<line x1="843.62" y1="2050" x2="843.62" y2="2054" stroke="#333" stroke-width="1.8"/>
<line x1="861.83" y1="2050" x2="861.83" y2="2054" stroke="#333" stroke-width="1.8"/>
<line x1="880.04" y1="2050" x2="880.04" y2="2054" stroke="#333" stroke-width="1.8"/>
<line x1="898.25" y1="2050" x2="898.25" y2="2054" stroke="#333" stroke-width="1.8"/>
<line x1="916.46" y1="2050" x2="916.46" y2="2054" stroke="#333" stroke-width="1.8"/>
<line x1="934.67" y1="2050" x2="934.67" y2="2054" stroke="#333" stroke-width="1.8"/>
<line x1="952.88" y1="2050" x2="952.88" y2="2054" stroke="#333" stroke-width="1.8"/>
<line x1="971.09" y1="2050" x2="971.09" y2="2054" stroke="#333" stroke-width="1.8"/>
<line x1="989.3" y1="2050" x2="989.3" y2="2054" stroke="#333" stroke-width="1.8"/>
<line x1="1007.51" y1="2050" x2="1007.51" y2="2054" stroke="#333" stroke-width="1.8"/>
<line x1="1025.72" y1="2050" x2="1025.72" y2="2054" stroke="#333" stroke-width="1.8"/>
<line x1="1043.93" y1="2050" x2="1043.93" y2="2054" stroke="#333" stroke-width="1.8"/>
<line x1="1062.13" y1="2050" x2="1062.13" y2="2054" stroke="#333" stroke-width="1.8"/>
<line x1="1080.35" y1="2050" x2="1080.35" y2="2054" stroke="#333" stroke-width="1.8"/>
<line x1="1098.56" y1="2050" x2="1098.56" y2="2054" stroke="#333" stroke-width="1.8"/>
<line x1="1116.77" y1="2050" x2="1116.77" y2="2054" stroke="#333" stroke-width="1.8"/>
<line x1="1134.98" y1="2050" x2="1134.98" y2="2054" stroke="#333" stroke-width="1.8"/>
<line x1="1153.18" y1="2050" x2="1153.18" y2="2054" stroke="#333" stroke-width="1.8"/>
<line x1="1171.39" y1="2050" x2="1171.39" y2="2054" stroke="#333" stroke-width="1.8"/>
<line x1="1189.61" y1="2050" x2="1189.61" y2="2054" stroke="#333" stroke-width="1.8"/>
<line x1="1207.82" y1="2050" x2="1207.82" y2="2054" stroke="#333" stroke-width="1.8"/>
<line x1="1226.03" y1="2050" x2="1226.03" y2="2054" stroke="#333" stroke-width="1.8"/>
<line x1="1244.24" y1="2050" x2="1244.24" y2="2054" stroke="#333" stroke-width="1.8"/>
<line x1="1262.45" y1="2050" x2="1262.45" y2="2054" stroke="#333" stroke-width="1.8"/>
<line x1="1280.66" y1="2050" x2="1280.66" y2="2054" stroke="#333" stroke-width="1.8"/>
<line x1="1298.87" y1="2050" x2="1298.87" y2="2054" stroke="#333" stroke-width="1.8"/>
<line x1="1317.08" y1="2050" x2="1317.08" y2="2054" stroke="#333" stroke-width="1.8"/>
<line x1="1335.29" y1="2050" x2="1335.29" y2="2054" stroke="#333" stroke-width="1.8"/>
<line x1="1353.5" y1="2050" x2="1353.5" y2="2054" stroke="#333" stroke-width="1.8"/>
<line x1="1371.7" y1="2050" x2="1371.7" y2="2054" stroke="#333" stroke-width="1.8"/>
<line x1="1389.91" y1="2050" x2="1389.91" y2="2054" stroke="#333" stroke-width="1.8"/>
<line x1="1408.12" y1="2050" x2="1408.12" y2="2054" stroke="#333" stroke-width="1.8"/>
<line x1="1426.34" y1="2050" x2="1426.34" y2="2054" stroke="#333" stroke-width="1.8"/>
<line x1="1444.55" y1="2050" x2="1444.55" y2="2054" stroke="#333" stroke-width="1.8"/>
<line x1="1462.76" y1="2050" x2="1462.76" y2="2054" stroke="#333" stroke-width="1.8"/>
<line x1="1480.97" y1="2050" x2="1480.97" y2="2054" stroke="#333" stroke-width="1.8"/>
<line x1="1499.18" y1="2050" x2="1499.18" y2="2054" stroke="#333" stroke-width="1.8"/>
<text x="653.91" y="2063.7" font-size="17.75" fill="#4d4d4d" stroke="#4d4d4d" stroke-width="0.32" text-anchor="end" transform="rotate(-60 653.91 2063.7)">HLA−DRA</text>
<text x="672.12" y="2063.7" font-size="17.75" fill="#4d4d4d" stroke="#4d4d4d" stroke-width="0.32" text-anchor="end" transform="rotate(-60 672.12 2063.7)">LAP3</text>
<text x="690.33" y="2063.7" font-size="17.75" fill="#4d4d4d" stroke="#4d4d4d" stroke-width="0.32" text-anchor="end" transform="rotate(-60 690.33 2063.7)">ACTN4</text>
<text x="708.54" y="2063.7" font-size="17.75" fill="#4d4d4d" stroke="#4d4d4d" stroke-width="0.32" text-anchor="end" transform="rotate(-60 708.54 2063.7)">CTSC</text>
<text x="726.75" y="2063.7" font-size="17.75" fill="#4d4d4d" stroke="#4d4d4d" stroke-width="0.32" text-anchor="end" transform="rotate(-60 726.75 2063.7)">ADGRE2</text>
<text x="744.96" y="2063.7" font-size="17.75" fill="#4d4d4d" stroke="#4d4d4d" stroke-width="0.32" text-anchor="end" transform="rotate(-60 744.96 2063.7)">PLAUR</text>
<text x="763.17" y="2063.7" font-size="17.75" fill="#4d4d4d" stroke="#4d4d4d" stroke-width="0.32" text-anchor="end" transform="rotate(-60 763.17 2063.7)">DAG1</text>
<text x="781.38" y="2063.7" font-size="17.75" fill="#4d4d4d" stroke="#4d4d4d" stroke-width="0.32" text-anchor="end" transform="rotate(-60 781.38 2063.7)">SCG3</text>
<text x="799.59" y="2063.7" font-size="17.75" fill="#4d4d4d" stroke="#4d4d4d" stroke-width="0.32" text-anchor="end" transform="rotate(-60 799.59 2063.7)">LILRB4</text>
<text x="817.8" y="2063.7" font-size="17.75" fill="#4d4d4d" stroke="#4d4d4d" stroke-width="0.32" text-anchor="end" transform="rotate(-60 817.8 2063.7)">CLEC4A</text>
<text x="836.01" y="2063.7" font-size="17.75" fill="#4d4d4d" stroke="#4d4d4d" stroke-width="0.32" text-anchor="end" transform="rotate(-60 836.01 2063.7)">IL4R</text>
<text x="854.22" y="2063.7" font-size="17.75" fill="#4d4d4d" stroke="#4d4d4d" stroke-width="0.32" text-anchor="end" transform="rotate(-60 854.22 2063.7)">IL20RA</text>
<text x="872.43" y="2063.7" font-size="17.75" fill="#4d4d4d" stroke="#4d4d4d" stroke-width="0.32" text-anchor="end" transform="rotate(-60 872.43 2063.7)">TNFSF12</text>
<text x="890.64" y="2063.7" font-size="17.75" fill="#4d4d4d" stroke="#4d4d4d" stroke-width="0.32" text-anchor="end" transform="rotate(-60 890.64 2063.7)">BTN3A2</text>
<text x="908.85" y="2063.7" font-size="17.75" fill="#4d4d4d" stroke="#4d4d4d" stroke-width="0.32" text-anchor="end" transform="rotate(-60 908.85 2063.7)">CD84</text>
<text x="927.06" y="2063.7" font-size="17.75" fill="#4d4d4d" stroke="#4d4d4d" stroke-width="0.32" text-anchor="end" transform="rotate(-60 927.06 2063.7)">CRLF1</text>
<text x="945.27" y="2063.7" font-size="17.75" fill="#4d4d4d" stroke="#4d4d4d" stroke-width="0.32" text-anchor="end" transform="rotate(-60 945.27 2063.7)">ADAM23</text>
<text x="963.48" y="2063.7" font-size="17.75" fill="#4d4d4d" stroke="#4d4d4d" stroke-width="0.32" text-anchor="end" transform="rotate(-60 963.48 2063.7)">PTH1R</text>
<text x="981.69" y="2063.7" font-size="17.75" fill="#4d4d4d" stroke="#4d4d4d" stroke-width="0.32" text-anchor="end" transform="rotate(-60 981.69 2063.7)">EGF</text>
<text x="999.9" y="2063.7" font-size="17.75" fill="#4d4d4d" stroke="#4d4d4d" stroke-width="0.32" text-anchor="end" transform="rotate(-60 999.9 2063.7)">IRAK1</text>
<text x="1018.11" y="2063.7" font-size="17.75" fill="#4d4d4d" stroke="#4d4d4d" stroke-width="0.32" text-anchor="end" transform="rotate(-60 1018.11 2063.7)">LAT</text>
<text x="1036.32" y="2063.7" font-size="17.75" fill="#4d4d4d" stroke="#4d4d4d" stroke-width="0.32" text-anchor="end" transform="rotate(-60 1036.32 2063.7)">FGF2</text>
<text x="1054.53" y="2063.7" font-size="17.75" fill="#4d4d4d" stroke="#4d4d4d" stroke-width="0.32" text-anchor="end" transform="rotate(-60 1054.53 2063.7)">SPRY2</text>
<text x="1072.73" y="2063.7" font-size="17.75" fill="#4d4d4d" stroke="#4d4d4d" stroke-width="0.32" text-anchor="end" transform="rotate(-60 1072.73 2063.7)">MYO9B</text>
<text x="1090.94" y="2063.7" font-size="17.75" fill="#4d4d4d" stroke="#4d4d4d" stroke-width="0.32" text-anchor="end" transform="rotate(-60 1090.94 2063.7)">ENAH</text>
<text x="1109.15" y="2063.7" font-size="17.75" fill="#4d4d4d" stroke="#4d4d4d" stroke-width="0.32" text-anchor="end" transform="rotate(-60 1109.15 2063.7)">PLXNA4</text>
<text x="1127.37" y="2063.7" font-size="17.75" fill="#4d4d4d" stroke="#4d4d4d" stroke-width="0.32" text-anchor="end" transform="rotate(-60 1127.37 2063.7)">SPINT2</text>
<text x="1145.58" y="2063.7" font-size="17.75" fill="#4d4d4d" stroke="#4d4d4d" stroke-width="0.32" text-anchor="end" transform="rotate(-60 1145.58 2063.7)">PRDX5</text>
<text x="1163.78" y="2063.7" font-size="17.75" fill="#4d4d4d" stroke="#4d4d4d" stroke-width="0.32" text-anchor="end" transform="rotate(-60 1163.78 2063.7)">MANF</text>
<text x="1181.99" y="2063.7" font-size="17.75" fill="#4d4d4d" stroke="#4d4d4d" stroke-width="0.32" text-anchor="end" transform="rotate(-60 1181.99 2063.7)">STX8</text>
<text x="1200.2" y="2063.7" font-size="17.75" fill="#4d4d4d" stroke="#4d4d4d" stroke-width="0.32" text-anchor="end" transform="rotate(-60 1200.2 2063.7)">EDAR</text>
<text x="1218.41" y="2063.7" font-size="17.75" fill="#4d4d4d" stroke="#4d4d4d" stroke-width="0.32" text-anchor="end" transform="rotate(-60 1218.41 2063.7)">AXIN1</text>
<text x="1236.62" y="2063.7" font-size="17.75" fill="#4d4d4d" stroke="#4d4d4d" stroke-width="0.32" text-anchor="end" transform="rotate(-60 1236.62 2063.7)">ARHGEF12</text>
<text x="1254.84" y="2063.7" font-size="17.75" fill="#4d4d4d" stroke="#4d4d4d" stroke-width="0.32" text-anchor="end" transform="rotate(-60 1254.84 2063.7)">MAP2K6</text>
<text x="1273.05" y="2063.7" font-size="17.75" fill="#4d4d4d" stroke="#4d4d4d" stroke-width="0.32" text-anchor="end" transform="rotate(-60 1273.05 2063.7)">CD40LG</text>
<text x="1291.26" y="2063.7" font-size="17.75" fill="#4d4d4d" stroke="#4d4d4d" stroke-width="0.32" text-anchor="end" transform="rotate(-60 1291.26 2063.7)">RAB37</text>
<text x="1309.47" y="2063.7" font-size="17.75" fill="#4d4d4d" stroke="#4d4d4d" stroke-width="0.32" text-anchor="end" transform="rotate(-60 1309.47 2063.7)">DBNL</text>
<text x="1327.67" y="2063.7" font-size="17.75" fill="#4d4d4d" stroke="#4d4d4d" stroke-width="0.32" text-anchor="end" transform="rotate(-60 1327.67 2063.7)">EGLN1</text>
<text x="1345.88" y="2063.7" font-size="17.75" fill="#4d4d4d" stroke="#4d4d4d" stroke-width="0.32" text-anchor="end" transform="rotate(-60 1345.88 2063.7)">NTF3</text>
<text x="1364.1" y="2063.7" font-size="17.75" fill="#4d4d4d" stroke="#4d4d4d" stroke-width="0.32" text-anchor="end" transform="rotate(-60 1364.1 2063.7)">CRKL</text>
<text x="1382.3" y="2063.7" font-size="17.75" fill="#4d4d4d" stroke="#4d4d4d" stroke-width="0.32" text-anchor="end" transform="rotate(-60 1382.3 2063.7)">IL17C</text>
<text x="1400.51" y="2063.7" font-size="17.75" fill="#4d4d4d" stroke="#4d4d4d" stroke-width="0.32" text-anchor="end" transform="rotate(-60 1400.51 2063.7)">BCR</text>
<text x="1418.72" y="2063.7" font-size="17.75" fill="#4d4d4d" stroke="#4d4d4d" stroke-width="0.32" text-anchor="end" transform="rotate(-60 1418.72 2063.7)">TBC1D5</text>
<text x="1436.93" y="2063.7" font-size="17.75" fill="#4d4d4d" stroke="#4d4d4d" stroke-width="0.32" text-anchor="end" transform="rotate(-60 1436.93 2063.7)">CASP2</text>
<text x="1455.14" y="2063.7" font-size="17.75" fill="#4d4d4d" stroke="#4d4d4d" stroke-width="0.32" text-anchor="end" transform="rotate(-60 1455.14 2063.7)">FOXO1</text>
<text x="1473.36" y="2063.7" font-size="17.75" fill="#4d4d4d" stroke="#4d4d4d" stroke-width="0.32" text-anchor="end" transform="rotate(-60 1473.36 2063.7)">ADA</text>
<text x="1491.57" y="2063.7" font-size="17.75" fill="#4d4d4d" stroke="#4d4d4d" stroke-width="0.32" text-anchor="end" transform="rotate(-60 1491.57 2063.7)">NPPC</text>
<text x="1509.78" y="2063.7" font-size="17.75" fill="#4d4d4d" stroke="#4d4d4d" stroke-width="0.32" text-anchor="end" transform="rotate(-60 1509.78 2063.7)">TIMP3</text>
<text x="82" y="1831" font-size="20.86" fill="#6b6b6b" stroke="#6b6b6b" stroke-width="0.38" text-anchor="middle" transform="rotate(-90 82 1831)">Pathway</text>
<text x="1539.6" y="1757.2" font-size="21.17" fill="#6b6b6b" stroke="#6b6b6b" stroke-width="0.38">estimate</text>
<defs><linearGradient id="gc" x1="0" y1="0" x2="0" y2="1"><stop offset="0.08" stop-color="#526c76"/><stop offset="0.17" stop-color="#626a6c"/><stop offset="0.23" stop-color="#6a6a6a"/><stop offset="0.32" stop-color="#766965"/><stop offset="0.4" stop-color="#81665d"/><stop offset="0.52" stop-color="#9a5a4a"/><stop offset="0.66" stop-color="#ac503c"/><stop offset="0.81" stop-color="#c0442e"/></linearGradient></defs>
<rect x="1540.1" y="1769" width="31.1" height="154.2" fill="url(#gc)"/>
<line x1="1540.1" y1="1804.3" x2="1546.3" y2="1804.3" stroke="#fff" stroke-width="1.1"/>
<line x1="1564.9" y1="1804.3" x2="1571.2" y2="1804.3" stroke="#fff" stroke-width="1.1"/>
<text x="1580.2" y="1810.5" font-size="17.34" fill="#6b6b6b" stroke="#6b6b6b" stroke-width="0.31">0.5</text>
<line x1="1540.1" y1="1848.4" x2="1546.3" y2="1848.4" stroke="#fff" stroke-width="1.1"/>
<line x1="1564.9" y1="1848.4" x2="1571.2" y2="1848.4" stroke="#fff" stroke-width="1.1"/>
<text x="1580.2" y="1854.6" font-size="17.34" fill="#6b6b6b" stroke="#6b6b6b" stroke-width="0.31">0.0</text>
<line x1="1540.1" y1="1893.3" x2="1546.3" y2="1893.3" stroke="#fff" stroke-width="1.1"/>
<line x1="1564.9" y1="1893.3" x2="1571.2" y2="1893.3" stroke="#fff" stroke-width="1.1"/>
<text x="1580.2" y="1899.5" font-size="17.34" fill="#6b6b6b" stroke="#6b6b6b" stroke-width="0.31">−0.5</text>
<text x="24.3" y="2195" font-size="36" fill="#000" font-weight="bold">d</text>
<rect x="419.55" y="2191" width="28.55" height="18.53" fill="#9b5e4e" stroke="#ffffff" stroke-opacity="0.08" stroke-width="0.6"/>
<rect x="533.75" y="2191" width="28.55" height="18.53" fill="#6b6b6b" stroke="#ffffff" stroke-opacity="0.08" stroke-width="0.6"/>
<rect x="676.5" y="2191" width="28.55" height="18.53" fill="#5a6b74" stroke="#ffffff" stroke-opacity="0.08" stroke-width="0.6"/>
<rect x="733.6" y="2191" width="28.55" height="18.53" fill="#526d7a" stroke="#ffffff" stroke-opacity="0.08" stroke-width="0.6"/>
<rect x="391" y="2209.53" width="28.55" height="18.53" fill="#d9230f" stroke="#ffffff" stroke-opacity="0.08" stroke-width="0.6"/>
<rect x="476.65" y="2209.53" width="28.55" height="18.53" fill="#7a6a66" stroke="#ffffff" stroke-opacity="0.08" stroke-width="0.6"/>
<rect x="619.4" y="2209.53" width="28.55" height="18.53" fill="#5f6b70" stroke="#ffffff" stroke-opacity="0.08" stroke-width="0.6"/>
<rect x="647.95" y="2209.53" width="28.55" height="18.53" fill="#5e6b72" stroke="#ffffff" stroke-opacity="0.08" stroke-width="0.6"/>
<rect x="705.05" y="2209.53" width="28.55" height="18.53" fill="#556c78" stroke="#ffffff" stroke-opacity="0.08" stroke-width="0.6"/>
<rect x="391" y="2228.06" width="28.55" height="18.53" fill="#d9230f" stroke="#ffffff" stroke-opacity="0.08" stroke-width="0.6"/>
<rect x="419.55" y="2228.06" width="28.55" height="18.53" fill="#9b5e4e" stroke="#ffffff" stroke-opacity="0.08" stroke-width="0.6"/>
<rect x="533.75" y="2228.06" width="28.55" height="18.53" fill="#6b6b6b" stroke="#ffffff" stroke-opacity="0.08" stroke-width="0.6"/>
<rect x="647.95" y="2228.06" width="28.55" height="18.53" fill="#5e6b72" stroke="#ffffff" stroke-opacity="0.08" stroke-width="0.6"/>
<rect x="533.75" y="2246.59" width="28.55" height="18.53" fill="#6b6b6b" stroke="#ffffff" stroke-opacity="0.08" stroke-width="0.6"/>
<rect x="647.95" y="2246.59" width="28.55" height="18.53" fill="#5e6b72" stroke="#ffffff" stroke-opacity="0.08" stroke-width="0.6"/>
<rect x="762.15" y="2246.59" width="28.55" height="18.53" fill="#426f80" stroke="#ffffff" stroke-opacity="0.08" stroke-width="0.6"/>
<rect x="419.55" y="2265.12" width="28.55" height="18.53" fill="#9b5e4e" stroke="#ffffff" stroke-opacity="0.08" stroke-width="0.6"/>
<rect x="533.75" y="2265.12" width="28.55" height="18.53" fill="#6b6b6b" stroke="#ffffff" stroke-opacity="0.08" stroke-width="0.6"/>
<rect x="562.3" y="2265.12" width="28.55" height="18.53" fill="#6b6b6b" stroke="#ffffff" stroke-opacity="0.08" stroke-width="0.6"/>
<rect x="647.95" y="2265.12" width="28.55" height="18.53" fill="#5e6b72" stroke="#ffffff" stroke-opacity="0.08" stroke-width="0.6"/>
<rect x="762.15" y="2265.12" width="28.55" height="18.53" fill="#426f80" stroke="#ffffff" stroke-opacity="0.08" stroke-width="0.6"/>
<rect x="391" y="2283.65" width="28.55" height="18.53" fill="#d9230f" stroke="#ffffff" stroke-opacity="0.08" stroke-width="0.6"/>
<rect x="419.55" y="2283.65" width="28.55" height="18.53" fill="#9b5e4e" stroke="#ffffff" stroke-opacity="0.08" stroke-width="0.6"/>
<rect x="448.1" y="2283.65" width="28.55" height="18.53" fill="#746866" stroke="#ffffff" stroke-opacity="0.08" stroke-width="0.6"/>
<rect x="533.75" y="2283.65" width="28.55" height="18.53" fill="#6b6b6b" stroke="#ffffff" stroke-opacity="0.08" stroke-width="0.6"/>
<rect x="647.95" y="2283.65" width="28.55" height="18.53" fill="#5e6b72" stroke="#ffffff" stroke-opacity="0.08" stroke-width="0.6"/>
<rect x="762.15" y="2283.65" width="28.55" height="18.53" fill="#426f80" stroke="#ffffff" stroke-opacity="0.08" stroke-width="0.6"/>
<rect x="391" y="2302.18" width="28.55" height="18.53" fill="#d9230f" stroke="#ffffff" stroke-opacity="0.08" stroke-width="0.6"/>
<rect x="448.1" y="2302.18" width="28.55" height="18.53" fill="#746866" stroke="#ffffff" stroke-opacity="0.08" stroke-width="0.6"/>
<rect x="762.15" y="2302.18" width="28.55" height="18.53" fill="#426f80" stroke="#ffffff" stroke-opacity="0.08" stroke-width="0.6"/>
<rect x="391" y="2320.71" width="28.55" height="18.53" fill="#d9230f" stroke="#ffffff" stroke-opacity="0.08" stroke-width="0.6"/>
<rect x="419.55" y="2320.71" width="28.55" height="18.53" fill="#9b5e4e" stroke="#ffffff" stroke-opacity="0.08" stroke-width="0.6"/>
<rect x="448.1" y="2320.71" width="28.55" height="18.53" fill="#746866" stroke="#ffffff" stroke-opacity="0.08" stroke-width="0.6"/>
<rect x="647.95" y="2320.71" width="28.55" height="18.53" fill="#5e6b72" stroke="#ffffff" stroke-opacity="0.08" stroke-width="0.6"/>
<rect x="762.15" y="2320.71" width="28.55" height="18.53" fill="#426f80" stroke="#ffffff" stroke-opacity="0.08" stroke-width="0.6"/>
<rect x="391" y="2339.24" width="28.55" height="18.53" fill="#d9230f" stroke="#ffffff" stroke-opacity="0.08" stroke-width="0.6"/>
<rect x="419.55" y="2339.24" width="28.55" height="18.53" fill="#9b5e4e" stroke="#ffffff" stroke-opacity="0.08" stroke-width="0.6"/>
<rect x="448.1" y="2339.24" width="28.55" height="18.53" fill="#746866" stroke="#ffffff" stroke-opacity="0.08" stroke-width="0.6"/>
<rect x="533.75" y="2339.24" width="28.55" height="18.53" fill="#6b6b6b" stroke="#ffffff" stroke-opacity="0.08" stroke-width="0.6"/>
<rect x="647.95" y="2339.24" width="28.55" height="18.53" fill="#5e6b72" stroke="#ffffff" stroke-opacity="0.08" stroke-width="0.6"/>
<rect x="391" y="2357.77" width="28.55" height="18.53" fill="#d9230f" stroke="#ffffff" stroke-opacity="0.08" stroke-width="0.6"/>
<rect x="505.2" y="2357.77" width="28.55" height="18.53" fill="#6b6b6b" stroke="#ffffff" stroke-opacity="0.08" stroke-width="0.6"/>
<rect x="647.95" y="2357.77" width="28.55" height="18.53" fill="#5e6b72" stroke="#ffffff" stroke-opacity="0.08" stroke-width="0.6"/>
<rect x="762.15" y="2357.77" width="28.55" height="18.53" fill="#426f80" stroke="#ffffff" stroke-opacity="0.08" stroke-width="0.6"/>
<rect x="762.15" y="2376.3" width="28.55" height="18.53" fill="#426f80" stroke="#ffffff" stroke-opacity="0.08" stroke-width="0.6"/>
<rect x="391" y="2394.83" width="28.55" height="18.53" fill="#d9230f" stroke="#ffffff" stroke-opacity="0.08" stroke-width="0.6"/>
<rect x="419.55" y="2394.83" width="28.55" height="18.53" fill="#9b5e4e" stroke="#ffffff" stroke-opacity="0.08" stroke-width="0.6"/>
<rect x="448.1" y="2394.83" width="28.55" height="18.53" fill="#746866" stroke="#ffffff" stroke-opacity="0.08" stroke-width="0.6"/>
<rect x="505.2" y="2394.83" width="28.55" height="18.53" fill="#6b6b6b" stroke="#ffffff" stroke-opacity="0.08" stroke-width="0.6"/>
<rect x="533.75" y="2394.83" width="28.55" height="18.53" fill="#6b6b6b" stroke="#ffffff" stroke-opacity="0.08" stroke-width="0.6"/>
<rect x="590.85" y="2394.83" width="28.55" height="18.53" fill="#636b6e" stroke="#ffffff" stroke-opacity="0.08" stroke-width="0.6"/>
<rect x="647.95" y="2394.83" width="28.55" height="18.53" fill="#5e6b72" stroke="#ffffff" stroke-opacity="0.08" stroke-width="0.6"/>
<rect x="676.5" y="2394.83" width="28.55" height="18.53" fill="#5a6b74" stroke="#ffffff" stroke-opacity="0.08" stroke-width="0.6"/>
<rect x="762.15" y="2394.83" width="28.55" height="18.53" fill="#426f80" stroke="#ffffff" stroke-opacity="0.08" stroke-width="0.6"/>
<rect x="391" y="2413.36" width="28.55" height="18.53" fill="#d9230f" stroke="#ffffff" stroke-opacity="0.08" stroke-width="0.6"/>
<rect x="419.55" y="2413.36" width="28.55" height="18.53" fill="#9b5e4e" stroke="#ffffff" stroke-opacity="0.08" stroke-width="0.6"/>
<rect x="448.1" y="2413.36" width="28.55" height="18.53" fill="#746866" stroke="#ffffff" stroke-opacity="0.08" stroke-width="0.6"/>
<rect x="505.2" y="2413.36" width="28.55" height="18.53" fill="#6b6b6b" stroke="#ffffff" stroke-opacity="0.08" stroke-width="0.6"/>
<rect x="533.75" y="2413.36" width="28.55" height="18.53" fill="#6b6b6b" stroke="#ffffff" stroke-opacity="0.08" stroke-width="0.6"/>
<rect x="647.95" y="2413.36" width="28.55" height="18.53" fill="#5e6b72" stroke="#ffffff" stroke-opacity="0.08" stroke-width="0.6"/>
<rect x="762.15" y="2413.36" width="28.55" height="18.53" fill="#426f80" stroke="#ffffff" stroke-opacity="0.08" stroke-width="0.6"/>
<rect x="391" y="2431.89" width="28.55" height="18.53" fill="#d9230f" stroke="#ffffff" stroke-opacity="0.08" stroke-width="0.6"/>
<rect x="419.55" y="2431.89" width="28.55" height="18.53" fill="#9b5e4e" stroke="#ffffff" stroke-opacity="0.08" stroke-width="0.6"/>
<rect x="448.1" y="2431.89" width="28.55" height="18.53" fill="#746866" stroke="#ffffff" stroke-opacity="0.08" stroke-width="0.6"/>
<rect x="533.75" y="2431.89" width="28.55" height="18.53" fill="#6b6b6b" stroke="#ffffff" stroke-opacity="0.08" stroke-width="0.6"/>
<rect x="647.95" y="2431.89" width="28.55" height="18.53" fill="#5e6b72" stroke="#ffffff" stroke-opacity="0.08" stroke-width="0.6"/>
<rect x="676.5" y="2431.89" width="28.55" height="18.53" fill="#5a6b74" stroke="#ffffff" stroke-opacity="0.08" stroke-width="0.6"/>
<rect x="762.15" y="2431.89" width="28.55" height="18.53" fill="#426f80" stroke="#ffffff" stroke-opacity="0.08" stroke-width="0.6"/>
<line x1="387.8" y1="2188.5" x2="387.8" y2="2452.2" stroke="#000" stroke-width="1.4"/>
<line x1="387.1" y1="2451.5" x2="793.8" y2="2451.5" stroke="#000" stroke-width="1.4"/>
<line x1="384.8" y1="2200.26" x2="387.4" y2="2200.26" stroke="#222" stroke-width="1.2"/>
<text x="382.8" y="2204.03" font-size="10.47" fill="#3d3d3d" stroke="#3d3d3d" stroke-width="0.19" text-anchor="end">REACTOME_INNATE_IMMUNE_SYSTEM</text>
<line x1="384.8" y1="2218.8" x2="387.4" y2="2218.8" stroke="#222" stroke-width="1.2"/>
<text x="382.8" y="2222.56" font-size="10.47" fill="#3d3d3d" stroke="#3d3d3d" stroke-width="0.19" text-anchor="end">REACTOME_CYTOKINE_SIGNALING_IN_IMMUNE_SYSTEM</text>
<line x1="384.8" y1="2237.32" x2="387.4" y2="2237.32" stroke="#222" stroke-width="1.2"/>
<text x="382.8" y="2241.09" font-size="10.47" fill="#3d3d3d" stroke="#3d3d3d" stroke-width="0.19" text-anchor="end">REACTOME_ADAPTIVE_IMMUNE_SYSTEM</text>
<line x1="384.8" y1="2255.86" x2="387.4" y2="2255.86" stroke="#222" stroke-width="1.2"/>
<text x="382.8" y="2259.62" font-size="10.47" fill="#3d3d3d" stroke="#3d3d3d" stroke-width="0.19" text-anchor="end">HP_ABNORMALITY_OF_HUMORAL_IMMUNITY</text>
<line x1="384.8" y1="2274.39" x2="387.4" y2="2274.39" stroke="#222" stroke-width="1.2"/>
<text x="382.8" y="2278.15" font-size="10.47" fill="#3d3d3d" stroke="#3d3d3d" stroke-width="0.19" text-anchor="end">HP_ABNORMAL_IMMUNE_SYSTEM_MORPHOLOGY</text>
<line x1="384.8" y1="2292.91" x2="387.4" y2="2292.91" stroke="#222" stroke-width="1.2"/>
<text x="382.8" y="2296.68" font-size="10.47" fill="#3d3d3d" stroke="#3d3d3d" stroke-width="0.19" text-anchor="end">GOBP_REGULATION_OF_IMMUNE_SYSTEM_PROCESS</text>
<line x1="384.8" y1="2311.45" x2="387.4" y2="2311.45" stroke="#222" stroke-width="1.2"/>
<text x="382.8" y="2315.21" font-size="10.47" fill="#3d3d3d" stroke="#3d3d3d" stroke-width="0.19" text-anchor="end">GOBP_REGULATION_OF_IMMUNE_RESPONSE</text>
<line x1="384.8" y1="2329.97" x2="387.4" y2="2329.97" stroke="#222" stroke-width="1.2"/>
<text x="382.8" y="2333.74" font-size="10.47" fill="#3d3d3d" stroke="#3d3d3d" stroke-width="0.19" text-anchor="end">GOBP_POSITIVE_REGULATION_OF_IMMUNE_SYSTEM_PROCESS</text>
<line x1="384.8" y1="2348.51" x2="387.4" y2="2348.51" stroke="#222" stroke-width="1.2"/>
<text x="382.8" y="2352.27" font-size="10.47" fill="#3d3d3d" stroke="#3d3d3d" stroke-width="0.19" text-anchor="end">GOBP_LEUKOCYTE_MEDIATED_IMMUNITY</text>
<line x1="384.8" y1="2367.03" x2="387.4" y2="2367.03" stroke="#222" stroke-width="1.2"/>
<text x="382.8" y="2370.8" font-size="10.47" fill="#3d3d3d" stroke="#3d3d3d" stroke-width="0.19" text-anchor="end">GOBP_IMMUNE_SYSTEM_DEVELOPMENT</text>
<line x1="384.8" y1="2385.57" x2="387.4" y2="2385.57" stroke="#222" stroke-width="1.2"/>
<text x="382.8" y="2389.33" font-size="10.47" fill="#3d3d3d" stroke="#3d3d3d" stroke-width="0.19" text-anchor="end">GOBP_IMMUNE_RESPONSE_REGULATING_SIGNALING_PATHWAY</text>
<line x1="384.8" y1="2404.1" x2="387.4" y2="2404.1" stroke="#222" stroke-width="1.2"/>
<text x="382.8" y="2407.86" font-size="10.47" fill="#3d3d3d" stroke="#3d3d3d" stroke-width="0.19" text-anchor="end">GOBP_IMMUNE_RESPONSE</text>
<line x1="384.8" y1="2422.62" x2="387.4" y2="2422.62" stroke="#222" stroke-width="1.2"/>
<text x="382.8" y="2426.39" font-size="10.47" fill="#3d3d3d" stroke="#3d3d3d" stroke-width="0.19" text-anchor="end">GOBP_IMMUNE_EFFECTOR_PROCESS</text>
<line x1="384.8" y1="2441.16" x2="387.4" y2="2441.16" stroke="#222" stroke-width="1.2"/>
<text x="382.8" y="2444.92" font-size="10.47" fill="#3d3d3d" stroke="#3d3d3d" stroke-width="0.19" text-anchor="end">GOBP_ADAPTIVE_IMMUNE_RESPONSE</text>
<line x1="405.27" y1="2452.2" x2="405.27" y2="2455" stroke="#222" stroke-width="1.2"/>
<line x1="433.82" y1="2452.2" x2="433.82" y2="2455" stroke="#222" stroke-width="1.2"/>
<line x1="462.38" y1="2452.2" x2="462.38" y2="2455" stroke="#222" stroke-width="1.2"/>
<line x1="490.93" y1="2452.2" x2="490.93" y2="2455" stroke="#222" stroke-width="1.2"/>
<line x1="519.48" y1="2452.2" x2="519.48" y2="2455" stroke="#222" stroke-width="1.2"/>
<line x1="548.02" y1="2452.2" x2="548.02" y2="2455" stroke="#222" stroke-width="1.2"/>
<line x1="576.58" y1="2452.2" x2="576.58" y2="2455" stroke="#222" stroke-width="1.2"/>
<line x1="605.12" y1="2452.2" x2="605.12" y2="2455" stroke="#222" stroke-width="1.2"/>
<line x1="633.67" y1="2452.2" x2="633.67" y2="2455" stroke="#222" stroke-width="1.2"/>
<line x1="662.23" y1="2452.2" x2="662.23" y2="2455" stroke="#222" stroke-width="1.2"/>
<line x1="690.78" y1="2452.2" x2="690.78" y2="2455" stroke="#222" stroke-width="1.2"/>
<line x1="719.33" y1="2452.2" x2="719.33" y2="2455" stroke="#222" stroke-width="1.2"/>
<line x1="747.88" y1="2452.2" x2="747.88" y2="2455" stroke="#222" stroke-width="1.2"/>
<line x1="776.42" y1="2452.2" x2="776.42" y2="2455" stroke="#222" stroke-width="1.2"/>
<text x="411.57" y="2461.6" font-size="10.47" fill="#4d4d4d" stroke="#4d4d4d" stroke-width="0.19" text-anchor="end" transform="rotate(-60 411.57 2461.6)">HLA−DRA</text>
<text x="440.12" y="2461.6" font-size="10.47" fill="#4d4d4d" stroke="#4d4d4d" stroke-width="0.19" text-anchor="end" transform="rotate(-60 440.12 2461.6)">CTSC</text>
<text x="468.68" y="2461.6" font-size="10.47" fill="#4d4d4d" stroke="#4d4d4d" stroke-width="0.19" text-anchor="end" transform="rotate(-60 468.68 2461.6)">CD84</text>
<text x="497.23" y="2461.6" font-size="10.47" fill="#4d4d4d" stroke="#4d4d4d" stroke-width="0.19" text-anchor="end" transform="rotate(-60 497.23 2461.6)">CRLF1</text>
<text x="525.77" y="2461.6" font-size="10.47" fill="#4d4d4d" stroke="#4d4d4d" stroke-width="0.19" text-anchor="end" transform="rotate(-60 525.77 2461.6)">ITM2A</text>
<text x="554.32" y="2461.6" font-size="10.47" fill="#4d4d4d" stroke="#4d4d4d" stroke-width="0.19" text-anchor="end" transform="rotate(-60 554.32 2461.6)">LAT</text>
<text x="582.88" y="2461.6" font-size="10.47" fill="#4d4d4d" stroke="#4d4d4d" stroke-width="0.19" text-anchor="end" transform="rotate(-60 582.88 2461.6)">LAMA4</text>
<text x="611.42" y="2461.6" font-size="10.47" fill="#4d4d4d" stroke="#4d4d4d" stroke-width="0.19" text-anchor="end" transform="rotate(-60 611.42 2461.6)">STX8</text>
<text x="639.97" y="2461.6" font-size="10.47" fill="#4d4d4d" stroke="#4d4d4d" stroke-width="0.19" text-anchor="end" transform="rotate(-60 639.97 2461.6)">EDAR</text>
<text x="668.52" y="2461.6" font-size="10.47" fill="#4d4d4d" stroke="#4d4d4d" stroke-width="0.19" text-anchor="end" transform="rotate(-60 668.52 2461.6)">CD40LG</text>
<text x="697.08" y="2461.6" font-size="10.47" fill="#4d4d4d" stroke="#4d4d4d" stroke-width="0.19" text-anchor="end" transform="rotate(-60 697.08 2461.6)">DBNL</text>
<text x="725.62" y="2461.6" font-size="10.47" fill="#4d4d4d" stroke="#4d4d4d" stroke-width="0.19" text-anchor="end" transform="rotate(-60 725.62 2461.6)">IL17C</text>
<text x="754.17" y="2461.6" font-size="10.47" fill="#4d4d4d" stroke="#4d4d4d" stroke-width="0.19" text-anchor="end" transform="rotate(-60 754.17 2461.6)">CASP2</text>
<text x="782.72" y="2461.6" font-size="10.47" fill="#4d4d4d" stroke="#4d4d4d" stroke-width="0.19" text-anchor="end" transform="rotate(-60 782.72 2461.6)">ADA</text>
<text x="51.7" y="2320.2" font-size="12.46" fill="#6b6b6b" stroke="#6b6b6b" stroke-width="0.22" text-anchor="middle" transform="rotate(-90 51.7 2320.2)">Pathway</text>
<text x="810.8" y="2276.6" font-size="12.6" fill="#6b6b6b" stroke="#6b6b6b" stroke-width="0.23">estimate</text>
<text x="834.6" y="2292.9" font-size="10.86" fill="#6b6b6b" stroke="#6b6b6b" stroke-width="0.2">0.4</text>
<text x="834.6" y="2320.2" font-size="10.86" fill="#6b6b6b" stroke="#6b6b6b" stroke-width="0.2">0.0</text>
<text x="834.6" y="2347.4" font-size="10.86" fill="#6b6b6b" stroke="#6b6b6b" stroke-width="0.2">−0.4</text>
<text x="834.6" y="2375" font-size="10.86" fill="#6b6b6b" stroke="#6b6b6b" stroke-width="0.2">−0.8</text>
<text x="889.5" y="2198.5" font-size="36" fill="#000" font-weight="bold">e</text>
<rect x="1242.3" y="2207.5" width="32.03" height="57.7" fill="#d9230f" stroke="#ffffff" stroke-opacity="0.08" stroke-width="0.6"/>
<rect x="1306.36" y="2207.5" width="32.03" height="57.7" fill="#8f6254" stroke="#ffffff" stroke-opacity="0.08" stroke-width="0.6"/>
<rect x="1402.45" y="2207.5" width="32.03" height="57.7" fill="#836660" stroke="#ffffff" stroke-opacity="0.08" stroke-width="0.6"/>
<rect x="1434.48" y="2207.5" width="32.03" height="57.7" fill="#806761" stroke="#ffffff" stroke-opacity="0.08" stroke-width="0.6"/>
<rect x="1498.54" y="2207.5" width="32.03" height="57.7" fill="#766866" stroke="#ffffff" stroke-opacity="0.08" stroke-width="0.6"/>
<rect x="1306.36" y="2265.2" width="32.03" height="57.7" fill="#8f6254" stroke="#ffffff" stroke-opacity="0.08" stroke-width="0.6"/>
<rect x="1338.39" y="2265.2" width="32.03" height="57.7" fill="#8a6456" stroke="#ffffff" stroke-opacity="0.08" stroke-width="0.6"/>
<rect x="1370.42" y="2265.2" width="32.03" height="57.7" fill="#876558" stroke="#ffffff" stroke-opacity="0.08" stroke-width="0.6"/>
<rect x="1466.51" y="2265.2" width="32.03" height="57.7" fill="#7a6862" stroke="#ffffff" stroke-opacity="0.08" stroke-width="0.6"/>
<rect x="1530.57" y="2265.2" width="32.03" height="57.7" fill="#426f80" stroke="#ffffff" stroke-opacity="0.08" stroke-width="0.6"/>
<rect x="1274.33" y="2322.9" width="32.03" height="57.7" fill="#8f6254" stroke="#ffffff" stroke-opacity="0.08" stroke-width="0.6"/>
<rect x="1434.48" y="2322.9" width="32.03" height="57.7" fill="#806761" stroke="#ffffff" stroke-opacity="0.08" stroke-width="0.6"/>
<line x1="1238.5" y1="2201.5" x2="1238.5" y2="2387.2" stroke="#000" stroke-width="1.3"/>
<line x1="1237.9" y1="2386.6" x2="1565.9" y2="2386.6" stroke="#000" stroke-width="1.3"/>
<line x1="1234.6" y1="2236.35" x2="1238" y2="2236.35" stroke="#333" stroke-width="1"/>
<text x="1232.6" y="2240.83" font-size="12.52" fill="#404040" stroke="#404040" stroke-width="0.23" text-anchor="end">REACTOME_CYTOKINE_SIGNALING_IN_IMMUNE_SYSTEM</text>
<line x1="1234.6" y1="2294.05" x2="1238" y2="2294.05" stroke="#333" stroke-width="1"/>
<text x="1232.6" y="2298.53" font-size="12.52" fill="#404040" stroke="#404040" stroke-width="0.23" text-anchor="end">GOBP_RESPONSE_TO_CYTOKINE</text>
<line x1="1234.6" y1="2351.75" x2="1238" y2="2351.75" stroke="#333" stroke-width="1"/>
<text x="1232.6" y="2356.23" font-size="12.52" fill="#404040" stroke="#404040" stroke-width="0.23" text-anchor="end">GOBP_CYTOKINE_PRODUCTION</text>
<line x1="1258.32" y1="2387.2" x2="1258.32" y2="2390.6" stroke="#333" stroke-width="1"/>
<line x1="1290.35" y1="2387.2" x2="1290.35" y2="2390.6" stroke="#333" stroke-width="1"/>
<line x1="1322.38" y1="2387.2" x2="1322.38" y2="2390.6" stroke="#333" stroke-width="1"/>
<line x1="1354.4" y1="2387.2" x2="1354.4" y2="2390.6" stroke="#333" stroke-width="1"/>
<line x1="1386.43" y1="2387.2" x2="1386.43" y2="2390.6" stroke="#333" stroke-width="1"/>
<line x1="1418.46" y1="2387.2" x2="1418.46" y2="2390.6" stroke="#333" stroke-width="1"/>
<line x1="1450.49" y1="2387.2" x2="1450.49" y2="2390.6" stroke="#333" stroke-width="1"/>
<line x1="1482.53" y1="2387.2" x2="1482.53" y2="2390.6" stroke="#333" stroke-width="1"/>
<line x1="1514.55" y1="2387.2" x2="1514.55" y2="2390.6" stroke="#333" stroke-width="1"/>
<line x1="1546.59" y1="2387.2" x2="1546.59" y2="2390.6" stroke="#333" stroke-width="1"/>
<text x="1265.72" y="2397.5" font-size="12.52" fill="#4d4d4d" stroke="#4d4d4d" stroke-width="0.23" text-anchor="end" transform="rotate(-60 1265.72 2397.5)">HLA−DRA</text>
<text x="1297.75" y="2397.5" font-size="12.52" fill="#4d4d4d" stroke="#4d4d4d" stroke-width="0.23" text-anchor="end" transform="rotate(-60 1297.75 2397.5)">CD84</text>
<text x="1329.78" y="2397.5" font-size="12.52" fill="#4d4d4d" stroke="#4d4d4d" stroke-width="0.23" text-anchor="end" transform="rotate(-60 1329.78 2397.5)">CRLF1</text>
<text x="1361.81" y="2397.5" font-size="12.52" fill="#4d4d4d" stroke="#4d4d4d" stroke-width="0.23" text-anchor="end" transform="rotate(-60 1361.81 2397.5)">SPRY2</text>
<text x="1393.84" y="2397.5" font-size="12.52" fill="#4d4d4d" stroke="#4d4d4d" stroke-width="0.23" text-anchor="end" transform="rotate(-60 1393.84 2397.5)">STX8</text>
<text x="1425.87" y="2397.5" font-size="12.52" fill="#4d4d4d" stroke="#4d4d4d" stroke-width="0.23" text-anchor="end" transform="rotate(-60 1425.87 2397.5)">EDAR</text>
<text x="1457.89" y="2397.5" font-size="12.52" fill="#4d4d4d" stroke="#4d4d4d" stroke-width="0.23" text-anchor="end" transform="rotate(-60 1457.89 2397.5)">CD40LG</text>
<text x="1489.93" y="2397.5" font-size="12.52" fill="#4d4d4d" stroke="#4d4d4d" stroke-width="0.23" text-anchor="end" transform="rotate(-60 1489.93 2397.5)">LSP1</text>
<text x="1521.95" y="2397.5" font-size="12.52" fill="#4d4d4d" stroke="#4d4d4d" stroke-width="0.23" text-anchor="end" transform="rotate(-60 1521.95 2397.5)">IL17C</text>
<text x="1553.99" y="2397.5" font-size="12.52" fill="#4d4d4d" stroke="#4d4d4d" stroke-width="0.23" text-anchor="end" transform="rotate(-60 1553.99 2397.5)">TIMP3</text>
<text x="884.6" y="2294.2" font-size="14.73" fill="#6b6b6b" stroke="#6b6b6b" stroke-width="0.27" text-anchor="middle" transform="rotate(-90 884.6 2294.2)">Pathway</text>
<text x="1586.6" y="2242.3" font-size="15.3" fill="#6b6b6b" stroke="#6b6b6b" stroke-width="0.28">estimate</text>
<defs><linearGradient id="ge" x1="0" y1="0" x2="0" y2="1"><stop offset="0" stop-color="#3f6a7d"/><stop offset="0.09" stop-color="#526c76"/><stop offset="0.17" stop-color="#626a6c"/><stop offset="0.23" stop-color="#6a6a6a"/><stop offset="0.31" stop-color="#766965"/><stop offset="0.4" stop-color="#81665d"/><stop offset="0.51" stop-color="#9a5a4a"/><stop offset="0.66" stop-color="#ac503c"/><stop offset="0.8" stop-color="#c0442e"/><stop offset="1" stop-color="#d92410"/></linearGradient></defs>
<rect x="1587.6" y="2251" width="21.4" height="108.5" fill="url(#ge)"/>
<line x1="1587.6" y1="2275.1" x2="1591.4" y2="2275.1" stroke="#fff" stroke-width="0.9"/>
<line x1="1605.2" y1="2275.1" x2="1609" y2="2275.1" stroke="#fff" stroke-width="0.9"/>
<text x="1615.2" y="2279.6" font-size="12.3" fill="#6b6b6b" stroke="#6b6b6b" stroke-width="0.22">0.5</text>
<line x1="1587.6" y1="2306.4" x2="1591.4" y2="2306.4" stroke="#fff" stroke-width="0.9"/>
<line x1="1605.2" y1="2306.4" x2="1609" y2="2306.4" stroke="#fff" stroke-width="0.9"/>
<text x="1615.2" y="2310.9" font-size="12.3" fill="#6b6b6b" stroke="#6b6b6b" stroke-width="0.22">0.0</text>
<line x1="1587.6" y1="2337.4" x2="1591.4" y2="2337.4" stroke="#fff" stroke-width="0.9"/>
<line x1="1605.2" y1="2337.4" x2="1609" y2="2337.4" stroke="#fff" stroke-width="0.9"/>
<text x="1615.2" y="2341.9" font-size="12.3" fill="#6b6b6b" stroke="#6b6b6b" stroke-width="0.22">−0.5</text>
</svg></body></html>
